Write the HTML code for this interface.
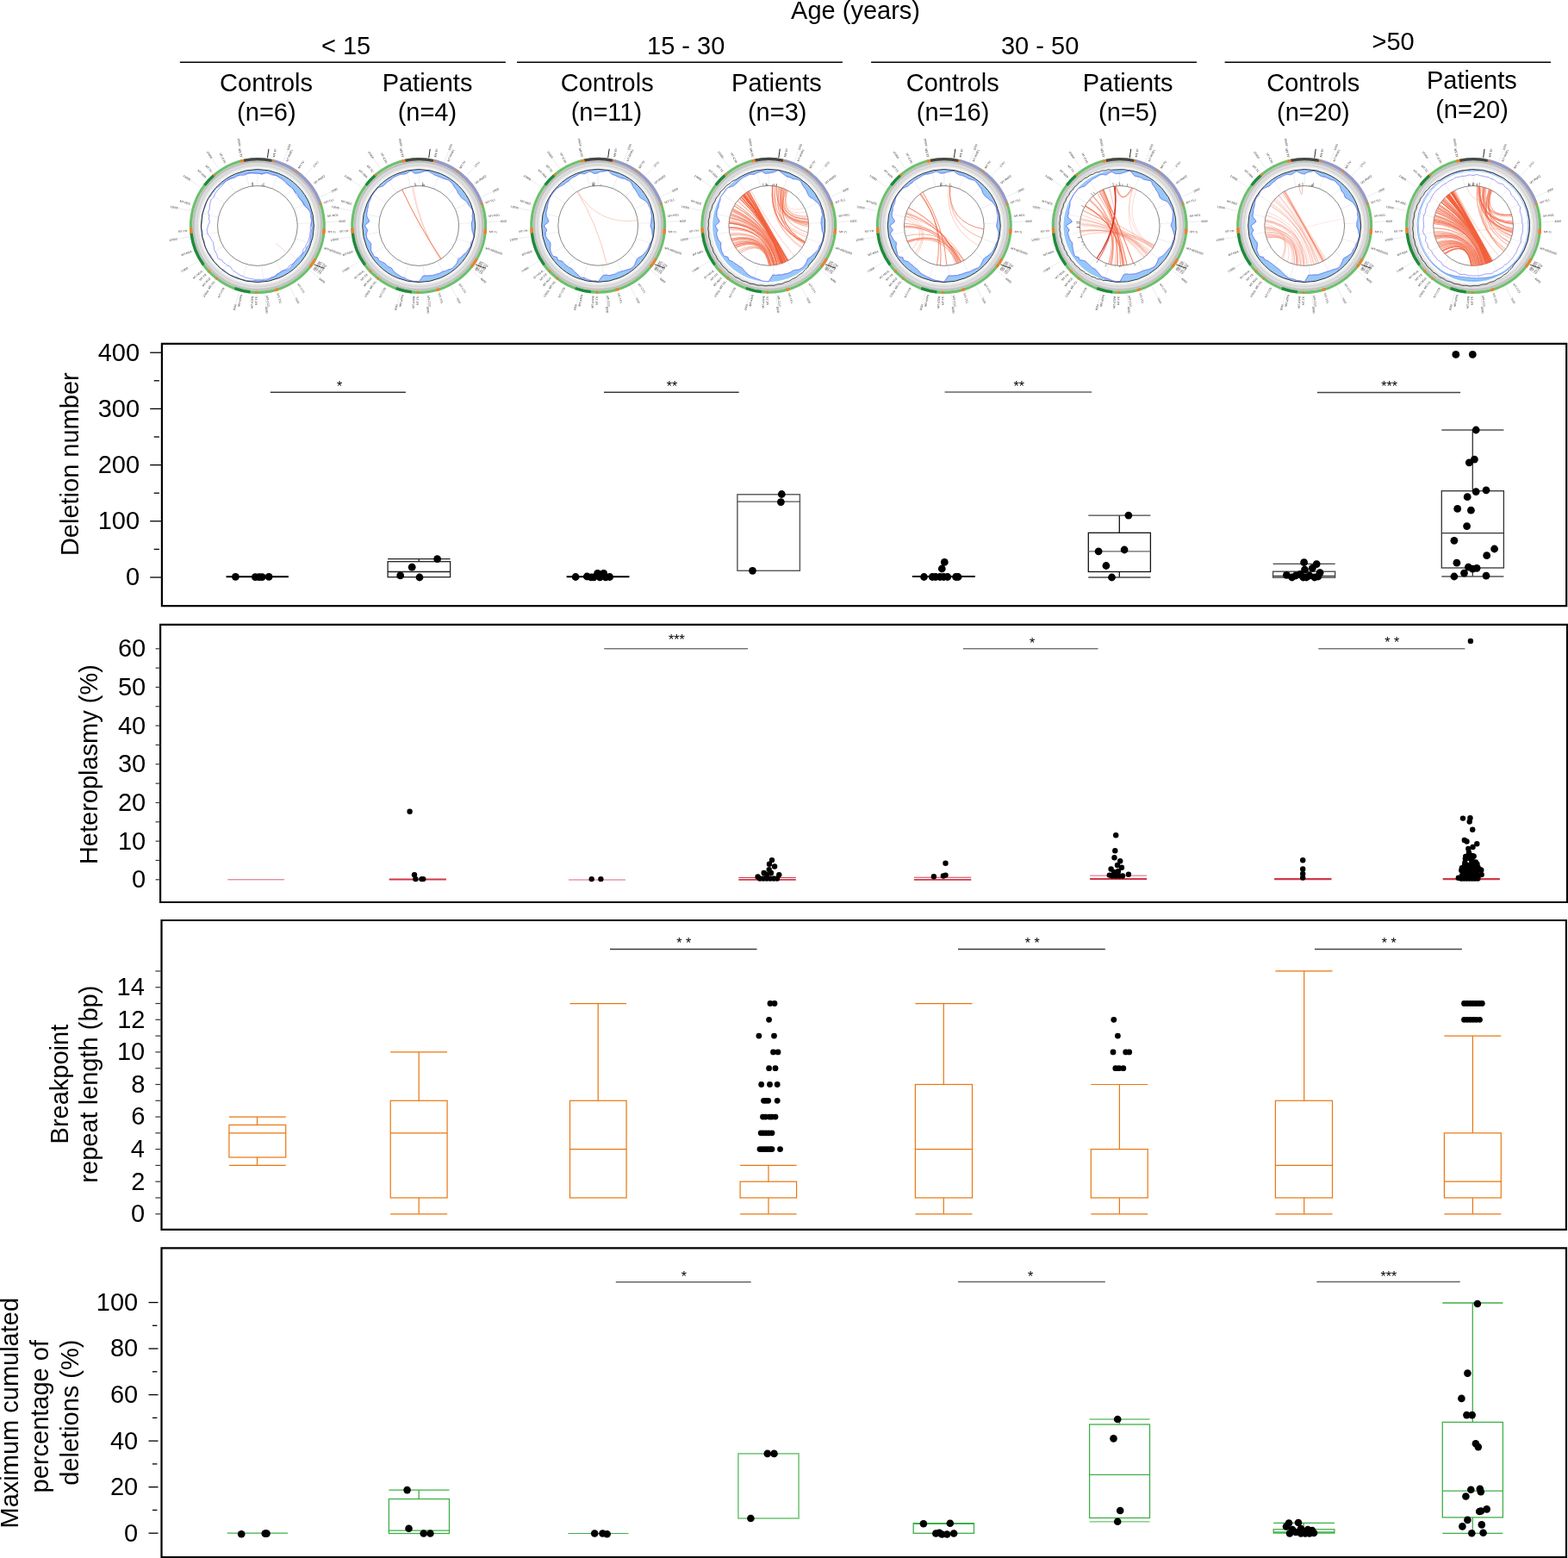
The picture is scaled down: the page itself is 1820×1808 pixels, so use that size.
<!DOCTYPE html>
<html><head><meta charset="utf-8"><title>Figure</title>
<style>
html,body{margin:0;padding:0;background:#fff;}
body{width:1820px;height:1808px;overflow:hidden;}
svg{display:block;}
text{font-family:"Liberation Sans",Arial,Helvetica,sans-serif;}
</style></head>
<body>
<svg width="1820" height="1808" viewBox="0 0 1820 1808">
<rect x="0" y="0" width="1820" height="1808" fill="#fff"/>
<text x="918.08" y="22.20" font-size="29.00">Age (years)</text>
<text x="372.92" y="62.60" font-size="29.00">&lt; 15</text>
<text x="751.02" y="62.60" font-size="29.00">15 - 30</text>
<text x="1161.97" y="62.60" font-size="29.00">30 - 50</text>
<text x="1592.51" y="58.20" font-size="29.00">&gt;50</text>
<line x1="208.8" y1="72.3" x2="586.9" y2="72.3" stroke="#000" stroke-width="1.5"/>
<line x1="600.0" y1="72.3" x2="977.9" y2="72.3" stroke="#000" stroke-width="1.5"/>
<line x1="1011.1" y1="72.3" x2="1389.0" y2="72.3" stroke="#000" stroke-width="1.5"/>
<line x1="1421.6" y1="72.3" x2="1800.0" y2="72.3" stroke="#000" stroke-width="1.5"/>
<text x="255.09" y="106.10" font-size="29.00">Controls</text>
<text x="275.10" y="140.20" font-size="29.00">(n=6)</text>
<text x="443.64" y="106.10" font-size="29.00">Patients</text>
<text x="461.65" y="140.20" font-size="29.00">(n=4)</text>
<text x="650.69" y="106.10" font-size="29.00">Controls</text>
<text x="662.63" y="140.20" font-size="29.00">(n=11)</text>
<text x="849.09" y="106.10" font-size="29.00">Patients</text>
<text x="867.95" y="140.20" font-size="29.00">(n=3)</text>
<text x="1051.79" y="106.10" font-size="29.00">Controls</text>
<text x="1063.73" y="140.20" font-size="29.00">(n=16)</text>
<text x="1256.79" y="106.10" font-size="29.00">Patients</text>
<text x="1275.10" y="140.20" font-size="29.00">(n=5)</text>
<text x="1470.19" y="106.10" font-size="29.00">Controls</text>
<text x="1482.08" y="140.20" font-size="29.00">(n=20)</text>
<text x="1655.99" y="102.60" font-size="29.00">Patients</text>
<text x="1666.18" y="136.90" font-size="29.00">(n=20)</text>
<defs><radialGradient id="tube" gradientUnits="userSpaceOnUse" cx="0" cy="0" r="79"><stop offset="0.0000" stop-color="#ffffff"/><stop offset="0.8342" stop-color="#ffffff"/><stop offset="0.8430" stop-color="#f7f7f7"/><stop offset="0.8570" stop-color="#f1f1f1"/><stop offset="0.8772" stop-color="#e3e3e3"/><stop offset="0.8911" stop-color="#d3d3d3"/><stop offset="0.9089" stop-color="#e2e2e2"/><stop offset="0.9291" stop-color="#cacaca"/><stop offset="0.9418" stop-color="#bbbbbb"/><stop offset="0.9532" stop-color="#c9c9c9"/><stop offset="1.0000" stop-color="#c9c9c9"/></radialGradient></defs>
<g transform="translate(298.90 262.00)"><g stroke="#d8d8d8" stroke-width="0.5"><line x1="18.4" y1="-77.9" x2="18.7" y2="-79.3"/><line x1="33.1" y1="-72.8" x2="33.7" y2="-74.2"/><line x1="46.5" y1="-65.1" x2="47.4" y2="-66.3"/><line x1="64.1" y1="-47.9" x2="65.3" y2="-48.8"/><line x1="75.6" y1="-26.1" x2="77.1" y2="-26.6"/><line x1="79.3" y1="-10.8" x2="80.8" y2="-11.0"/><line x1="79.7" y1="6.8" x2="81.2" y2="6.9"/><line x1="75.9" y1="25.3" x2="77.3" y2="25.8"/><line x1="68.9" y1="40.6" x2="70.2" y2="41.4"/><line x1="67.7" y1="42.5" x2="69.0" y2="43.3"/><line x1="66.6" y1="44.4" x2="67.8" y2="45.2"/><line x1="64.8" y1="46.9" x2="66.0" y2="47.8"/><line x1="63.6" y1="48.5" x2="64.8" y2="49.4"/><line x1="45.9" y1="65.5" x2="46.7" y2="66.8"/><line x1="23.0" y1="76.6" x2="23.4" y2="78.1"/><line x1="10.8" y1="79.3" x2="11.0" y2="80.8"/><line x1="-1.4" y1="80.0" x2="-1.4" y2="81.5"/><line x1="-5.6" y1="79.8" x2="-5.7" y2="81.3"/><line x1="-18.2" y1="77.9" x2="-18.5" y2="79.4"/><line x1="-38.2" y1="70.3" x2="-39.0" y2="71.6"/><line x1="-49.0" y1="63.2" x2="-50.0" y2="64.4"/><line x1="-53.8" y1="59.2" x2="-54.9" y2="60.3"/><line x1="-58.3" y1="54.8" x2="-59.4" y2="55.8"/><line x1="-61.9" y1="50.7" x2="-63.1" y2="51.6"/><line x1="-74.6" y1="28.9" x2="-76.0" y2="29.5"/><line x1="-79.8" y1="5.8" x2="-81.3" y2="5.9"/><line x1="-76.2" y1="-24.4" x2="-77.6" y2="-24.8"/><line x1="-58.4" y1="-54.7" x2="-59.5" y2="-55.7"/><line x1="-51.9" y1="-60.9" x2="-52.9" y2="-62.0"/><line x1="-36.6" y1="-71.2" x2="-37.3" y2="-72.5"/><line x1="-18.4" y1="-77.8" x2="-18.8" y2="-79.3"/><line x1="29.6" y1="-74.3" x2="34.8" y2="-87.3"/><line x1="55.0" y1="-58.1" x2="64.7" y2="-68.2"/><line x1="72.6" y1="-33.6" x2="85.3" y2="-39.5"/><line x1="79.9" y1="-4.3" x2="93.9" y2="-5.1"/><line x1="75.8" y1="25.6" x2="89.1" y2="30.0"/><line x1="61.0" y1="51.8" x2="71.6" y2="60.9"/><line x1="37.4" y1="70.7" x2="44.0" y2="83.1"/><line x1="8.6" y1="79.5" x2="10.1" y2="93.5"/><line x1="-21.4" y1="77.1" x2="-25.2" y2="90.6"/><line x1="-48.4" y1="63.7" x2="-56.9" y2="74.8"/><line x1="-68.6" y1="41.2" x2="-80.6" y2="48.4"/><line x1="-79.0" y1="12.9" x2="-92.8" y2="15.1"/><line x1="-78.1" y1="-17.3" x2="-91.8" y2="-20.3"/><line x1="-66.2" y1="-44.9" x2="-77.8" y2="-52.8"/><line x1="-44.8" y1="-66.3" x2="-52.7" y2="-77.8"/><line x1="-17.1" y1="-78.1" x2="-20.1" y2="-91.8"/></g><g font-size="3.4" fill="#383838"><text transform="translate(18.9 -79.8) rotate(-76.7)" dy="1.2">MT-TF</text><text transform="translate(33.9 -74.7) rotate(-65.6)" dy="1.2">MT-RNR1</text><text transform="translate(47.7 -66.7) rotate(-54.5)" dy="1.2">MT-TV</text><text transform="translate(65.7 -49.1) rotate(-36.8)" dy="1.2">MT-RNR2</text><text transform="translate(77.5 -26.7) rotate(-19.0)" dy="1.2">MT-TL1</text><text transform="translate(81.2 -11.1) rotate(-7.8)" dy="1.2">MT-ND1</text><text transform="translate(81.7 6.9) rotate(4.9)" dy="1.2">MT-TI</text><text transform="translate(77.8 25.9) rotate(18.4)" dy="1.2">MT-ND2</text><text transform="translate(70.7 41.6) rotate(30.5)" dy="1.2">MT-TW</text><text transform="translate(69.4 43.6) rotate(32.1)" dy="1.2">MT-TA</text><text transform="translate(68.2 45.5) rotate(33.7)" dy="1.2">MT-TN</text><text transform="translate(66.4 48.1) rotate(35.9)" dy="1.2">MT-TC</text><text transform="translate(65.2 49.7) rotate(37.3)" dy="1.2">MT-TY</text><text transform="translate(47.0 67.2) rotate(55.0)" dy="1.2">MT-CO1</text><text transform="translate(23.6 78.5) rotate(73.3)" dy="1.2">MT-TS1</text><text transform="translate(11.1 81.2) rotate(82.2)" dy="1.2">MT-CO2</text><text transform="translate(-1.4 82.0) rotate(271.0)" text-anchor="end" dy="1.2">MT-TK</text><text transform="translate(-5.7 81.8) rotate(274.0)" text-anchor="end" dy="1.2">MT-ATP8</text><text transform="translate(-18.6 79.9) rotate(283.1)" text-anchor="end" dy="1.2">MT-ATP6</text><text transform="translate(-39.2 72.0) rotate(298.5)" text-anchor="end" dy="1.2">MT-CO3</text><text transform="translate(-50.3 64.8) rotate(307.8)" text-anchor="end" dy="1.2">MT-TG</text><text transform="translate(-55.2 60.6) rotate(312.3)" text-anchor="end" dy="1.2">MT-ND3</text><text transform="translate(-59.7 56.2) rotate(316.8)" text-anchor="end" dy="1.2">MT-TR</text><text transform="translate(-63.5 51.9) rotate(320.7)" text-anchor="end" dy="1.2">MT-ND4L</text><text transform="translate(-76.5 29.6) rotate(338.8)" text-anchor="end" dy="1.2">MT-ND4</text><text transform="translate(-81.8 5.9) rotate(355.9)" text-anchor="end" dy="1.2">MT-TH</text><text transform="translate(-78.1 -25.0) rotate(377.7)" text-anchor="end" dy="1.2">MT-ND5</text><text transform="translate(-59.9 -56.0) rotate(403.1)" text-anchor="end" dy="1.2">MT-ND6</text><text transform="translate(-53.2 -62.4) rotate(409.6)" text-anchor="end" dy="1.2">MT-TE</text><text transform="translate(-37.5 -72.9) rotate(422.8)" text-anchor="end" dy="1.2">MT-CYB</text><text transform="translate(-18.9 -79.8) rotate(436.7)" text-anchor="end" dy="1.2">MT-TT</text><text transform="translate(35.0 -87.8) rotate(-68.3)" dy="1.2">1000</text><text transform="translate(65.0 -68.6) rotate(-46.5)" dy="1.2">2000</text><text transform="translate(85.8 -39.7) rotate(-24.8)" dy="1.2">3000</text><text transform="translate(94.4 -5.1) rotate(-3.1)" dy="1.2">4000</text><text transform="translate(89.5 30.2) rotate(18.6)" dy="1.2">5000</text><text transform="translate(72.0 61.2) rotate(40.4)" dy="1.2">6000</text><text transform="translate(44.2 83.5) rotate(62.1)" dy="1.2">7000</text><text transform="translate(10.2 94.0) rotate(83.8)" dy="1.2">8000</text><text transform="translate(-25.3 91.0) rotate(285.5)" text-anchor="end" dy="1.2">9000</text><text transform="translate(-57.2 75.2) rotate(307.3)" text-anchor="end" dy="1.2">10000</text><text transform="translate(-81.0 48.7) rotate(329.0)" text-anchor="end" dy="1.2">11000</text><text transform="translate(-93.3 15.2) rotate(350.7)" text-anchor="end" dy="1.2">12000</text><text transform="translate(-92.3 -20.4) rotate(372.5)" text-anchor="end" dy="1.2">13000</text><text transform="translate(-78.2 -53.1) rotate(394.2)" text-anchor="end" dy="1.2">14000</text><text transform="translate(-53.0 -78.3) rotate(415.9)" text-anchor="end" dy="1.2">15000</text><text transform="translate(-20.2 -92.3) rotate(437.6)" text-anchor="end" dy="1.2">16000</text></g><circle r="70.85" fill="none" stroke="url(#tube)" stroke-width="9.70"/><circle r="77.35" fill="none" stroke="#6cc06c" stroke-width="3.30"/><path d="M-16.21 -77.32A79.00 79.00 0 0 1 17.12 -77.12L16.40 -73.90A75.70 75.70 0 0 0 -15.53 -74.09Z" fill="#464646"/><path d="M17.09 -77.13A79.00 79.00 0 0 1 19.24 -76.62L18.44 -73.42A75.70 75.70 0 0 0 16.38 -73.91Z" fill="#f07f2a"/><path d="M19.22 -76.63A79.00 79.00 0 0 1 45.07 -64.88L43.19 -62.17A75.70 75.70 0 0 0 18.42 -73.43Z" fill="#9a97cc"/><path d="M45.03 -64.91A79.00 79.00 0 0 1 46.82 -63.63L44.86 -60.97A75.70 75.70 0 0 0 43.14 -62.20Z" fill="#f07f2a"/><path d="M46.78 -63.66A79.00 79.00 0 0 1 74.31 -26.82L71.21 -25.70A75.70 75.70 0 0 0 44.82 -61.00Z" fill="#9a97cc"/><path d="M74.32 -26.79A79.00 79.00 0 0 1 75.04 -24.69L71.91 -23.66A75.70 75.70 0 0 0 71.22 -25.67Z" fill="#f07f2a"/><path d="M78.92 3.62A79.00 79.00 0 0 1 78.39 9.76L75.12 9.36A75.70 75.70 0 0 0 75.62 3.47Z" fill="#f07f2a"/><path d="M68.63 39.13A79.00 79.00 0 0 1 67.51 41.03L64.69 39.32A75.70 75.70 0 0 0 65.76 37.49Z" fill="#f07f2a"/><path d="M67.48 41.08A79.00 79.00 0 0 1 66.31 42.94L63.54 41.15A75.70 75.70 0 0 0 64.66 39.36Z" fill="#f07f2a"/><path d="M66.33 42.90A79.00 79.00 0 0 1 65.11 44.74L62.39 42.87A75.70 75.70 0 0 0 63.56 41.11Z" fill="#f07f2a"/><path d="M64.65 45.40A79.00 79.00 0 0 1 63.36 47.19L60.71 45.22A75.70 75.70 0 0 0 61.95 43.50Z" fill="#f07f2a"/><path d="M63.51 46.98A79.00 79.00 0 0 1 62.18 48.73L59.58 46.70A75.70 75.70 0 0 0 60.86 45.02Z" fill="#f07f2a"/><path d="M24.70 75.04A79.00 79.00 0 0 1 20.71 76.24L19.85 73.05A75.70 75.70 0 0 0 23.67 71.91Z" fill="#f07f2a"/><path d="M-0.25 79.00A79.00 79.00 0 0 1 -2.45 78.96L-2.35 75.66A75.70 75.70 0 0 0 -0.23 75.70Z" fill="#f07f2a"/><path d="M-8.60 78.53A79.00 79.00 0 0 1 -27.08 74.22L-25.94 71.12A75.70 75.70 0 0 0 -8.24 75.25Z" fill="#1f8a3c"/><path d="M-47.55 63.09A79.00 79.00 0 0 1 -49.29 61.74L-47.23 59.16A75.70 75.70 0 0 0 -45.56 60.45Z" fill="#f07f2a"/><path d="M-56.80 54.91A79.00 79.00 0 0 1 -58.31 53.30L-55.87 51.08A75.70 75.70 0 0 0 -54.42 52.62Z" fill="#f07f2a"/><path d="M-63.84 46.53A79.00 79.00 0 0 1 -78.52 8.66L-75.24 8.30A75.70 75.70 0 0 0 -61.18 44.58Z" fill="#1f8a3c"/><path d="M-78.53 8.63A79.00 79.00 0 0 1 -78.95 2.72L-75.66 2.60A75.70 75.70 0 0 0 -75.25 8.27Z" fill="#f07f2a"/><path d="M-62.74 -48.00A79.00 79.00 0 0 1 -52.03 -59.45L-49.86 -56.96A75.70 75.70 0 0 0 -60.12 -46.00Z" fill="#1f8a3c"/><path d="M-52.07 -59.41A79.00 79.00 0 0 1 -50.39 -60.84L-48.29 -58.30A75.70 75.70 0 0 0 -49.90 -56.93Z" fill="#f07f2a"/><path d="M-20.18 -76.38A79.00 79.00 0 0 1 -16.24 -77.31L-15.56 -74.08A75.70 75.70 0 0 0 -19.33 -73.19Z" fill="#f07f2a"/><g stroke="#dddddd" stroke-width="0.5"><line x1="0.0" y1="-46.4" x2="0.0" y2="-65.0"/><line x1="17.2" y1="-43.1" x2="24.1" y2="-60.4"/><line x1="31.9" y1="-33.7" x2="44.7" y2="-47.2"/><line x1="42.1" y1="-19.5" x2="59.0" y2="-27.3"/><line x1="46.3" y1="-2.5" x2="64.9" y2="-3.5"/><line x1="44.0" y1="14.8" x2="61.6" y2="20.8"/><line x1="35.4" y1="30.1" x2="49.5" y2="42.1"/><line x1="21.7" y1="41.0" x2="30.4" y2="57.4"/><line x1="5.0" y1="46.1" x2="7.0" y2="64.6"/><line x1="-12.4" y1="44.7" x2="-17.4" y2="62.6"/><line x1="-28.1" y1="36.9" x2="-39.4" y2="51.7"/><line x1="-39.8" y1="23.9" x2="-55.7" y2="33.5"/><line x1="-45.8" y1="7.5" x2="-64.2" y2="10.5"/><line x1="-45.3" y1="-10.0" x2="-63.5" y2="-14.0"/><line x1="-38.4" y1="-26.1" x2="-53.8" y2="-36.5"/><line x1="-26.0" y1="-38.4" x2="-36.4" y2="-53.8"/><line x1="-9.9" y1="-45.3" x2="-13.9" y2="-63.5"/></g><line x1="11.5" y1="-78.7" x2="13.0" y2="-89.1" stroke="#111" stroke-width="0.9"/><line x1="65.5" y1="45.0" x2="77.6" y2="49.4" stroke="#111" stroke-width="0.7"/><path d="M0.0 -65.2 1.7 -65.2 3.4 -65.1 5.1 -65.0 6.8 -64.8 8.5 -64.6 10.2 -64.4 11.9 -64.1 13.6 -63.8 15.2 -63.4 16.9 -63.0 18.5 -62.5 20.1 -62.0 21.8 -61.5 23.4 -60.9 25.0 -60.2 26.5 -59.6 28.1 -58.8 29.6 -58.1 31.1 -57.3 32.6 -56.5 34.1 -55.6 35.5 -54.7 36.9 -53.7 38.3 -52.7 39.7 -51.7 41.0 -50.7 42.3 -49.6 43.6 -48.5 44.9 -47.3 46.1 -46.1 47.3 -44.9 48.5 -43.6 49.6 -42.3 50.7 -41.0 51.7 -39.7 52.7 -38.3 53.7 -36.9 54.7 -35.5 55.6 -34.1 56.5 -32.6 57.3 -31.1 58.1 -29.6 58.8 -28.1 59.6 -26.5 60.2 -25.0 60.9 -23.4 61.5 -21.8 62.0 -20.1 62.5 -18.5 63.0 -16.9 63.4 -15.2 63.8 -13.6 64.1 -11.9 64.4 -10.2 64.6 -8.5 64.8 -6.8 65.0 -5.1 65.1 -3.4 65.2 -1.7 65.2 -0.0 65.2 1.7 65.1 3.4 65.0 5.1 64.8 6.8 64.6 8.5 64.4 10.2 64.1 11.9 63.8 13.6 63.4 15.2 63.0 16.9 62.5 18.5 62.0 20.1 61.5 21.8 60.9 23.4 60.2 25.0 59.6 26.5 58.8 28.1 58.1 29.6 57.3 31.1 56.5 32.6 55.6 34.1 54.7 35.5 53.7 36.9 52.7 38.3 51.7 39.7 50.7 41.0 49.6 42.3 48.5 43.6 47.3 44.9 46.1 46.1 44.9 47.3 43.6 48.5 42.3 49.6 41.0 50.7 39.7 51.7 38.3 52.7 36.9 53.7 35.5 54.7 34.1 55.6 32.6 56.5 31.1 57.3 29.6 58.1 28.1 58.8 26.5 59.6 25.0 60.2 23.4 60.9 21.8 61.5 20.1 62.0 18.5 62.5 16.9 63.0 15.2 63.4 13.6 63.8 11.9 64.1 10.2 64.4 8.5 64.6 6.8 64.8 5.1 65.0 3.4 65.1 1.7 65.2 0.0 65.2 -1.7 65.2 -3.4 65.1 -5.1 65.0 -6.8 64.8 -8.5 64.6 -10.2 64.4 -11.9 64.1 -13.6 63.8 -15.2 63.4 -16.9 63.0 -18.5 62.5 -20.1 62.0 -21.8 61.5 -23.4 60.9 -25.0 60.2 -26.5 59.6 -28.1 58.8 -29.6 58.1 -31.1 57.3 -32.6 56.5 -34.1 55.6 -35.5 54.7 -36.9 53.7 -38.3 52.7 -39.7 51.7 -41.0 50.7 -42.3 49.6 -43.6 48.5 -44.9 47.3 -46.1 46.1 -47.3 44.9 -48.5 43.6 -49.6 42.3 -50.7 41.0 -51.7 39.7 -52.7 38.3 -53.7 36.9 -54.7 35.5 -55.6 34.1 -56.5 32.6 -57.3 31.1 -58.1 29.6 -58.8 28.1 -59.6 26.5 -60.2 25.0 -60.9 23.4 -61.5 21.8 -62.0 20.1 -62.5 18.5 -63.0 16.9 -63.4 15.2 -63.8 13.6 -64.1 11.9 -64.4 10.2 -64.6 8.5 -64.8 6.8 -65.0 5.1 -65.1 3.4 -65.2 1.7 -65.2 0.0 -65.2 -1.7 -65.1 -3.4 -65.0 -5.1 -64.8 -6.8 -64.6 -8.5 -64.4 -10.2 -64.1 -11.9 -63.8 -13.6 -63.4 -15.2 -63.0 -16.9 -62.5 -18.5 -62.0 -20.1 -61.5 -21.8 -60.9 -23.4 -60.2 -25.0 -59.6 -26.5 -58.8 -28.1 -58.1 -29.6 -57.3 -31.1 -56.5 -32.6 -55.6 -34.1 -54.7 -35.5 -53.7 -36.9 -52.7 -38.3 -51.7 -39.7 -50.7 -41.0 -49.6 -42.3 -48.5 -43.6 -47.3 -44.9 -46.1 -46.1 -44.9 -47.3 -43.6 -48.5 -42.3 -49.6 -41.0 -50.7 -39.7 -51.7 -38.3 -52.7 -36.9 -53.7 -35.5 -54.7 -34.1 -55.6 -32.6 -56.5 -31.1 -57.3 -29.6 -58.1 -28.1 -58.8 -26.5 -59.6 -25.0 -60.2 -23.4 -60.9 -21.8 -61.5 -20.1 -62.0 -18.5 -62.5 -16.9 -63.0 -15.2 -63.4 -13.6 -63.8 -11.9 -64.1 -10.2 -64.4 -8.5 -64.6 -6.8 -64.8 -5.1 -65.0 -3.4 -65.1 -1.7 -65.2ZM-1.6 -61.1 -3.2 -61.1 -4.8 -61.2 -6.4 -61.1 -8.0 -60.9 -9.6 -60.7 -11.2 -60.5 -12.8 -60.2 -14.3 -59.8 -16.0 -59.7 -17.7 -59.8 -19.4 -59.7 -20.9 -59.0 -22.4 -58.3 -23.9 -57.8 -25.5 -57.2 -26.9 -56.5 -28.4 -55.7 -29.9 -55.1 -31.4 -54.3 -32.8 -53.5 -34.4 -52.9 -36.0 -52.4 -37.4 -51.5 -38.6 -50.3 -39.9 -49.2 -41.3 -48.3 -42.6 -47.3 -43.8 -46.2 -45.2 -45.2 -46.8 -44.4 -48.2 -43.4 -49.2 -42.0 -49.9 -40.4 -51.0 -39.1 -52.2 -38.0 -53.2 -36.6 -54.0 -35.0 -54.9 -33.6 -56.1 -32.4 -57.3 -31.1 -58.1 -29.6 -58.7 -28.0 -59.3 -26.4 -59.8 -24.8 -60.4 -23.2 -61.0 -21.6 -61.7 -20.0 -62.3 -18.5 -62.8 -16.8 -63.3 -15.2 -63.6 -13.5 -63.8 -11.8 -64.0 -10.1 -64.2 -8.5 -64.5 -6.8 -64.6 -5.1 -64.6 -3.4 -64.9 -1.7 -65.2 0.0 -65.2 1.7 -65.1 3.4 -64.5 5.1 -64.1 6.7 -64.0 8.4 -63.9 10.1 -63.9 11.8 -63.6 13.5 -63.1 15.1 -62.4 16.7 -61.8 18.3 -61.5 20.0 -61.4 21.7 -60.9 23.4 -60.2 25.0 -59.6 26.5 -58.8 28.1 -58.1 29.6 -57.2 31.0 -56.0 32.3 -54.9 33.6 -54.0 35.1 -53.2 36.6 -52.3 38.0 -51.4 39.4 -50.5 40.9 -49.5 42.3 -48.2 43.4 -46.9 44.5 -45.9 45.9 -44.9 47.3 -43.6 48.5 -42.3 49.5 -40.7 50.2 -39.2 51.2 -38.0 52.2 -36.6 53.3 -35.3 54.4 -34.0 55.5 -32.6 56.5 -31.1 57.2 -29.4 57.7 -27.8 58.3 -26.2 58.9 -24.6 59.3 -23.0 59.9 -21.5 60.7 -20.0 61.6 -18.4 62.1 -16.7 62.4 -15.1 62.7 -13.4 63.2 -11.8 63.5 -10.1 63.7 -8.4 63.8 -6.7 63.9 -5.0 63.8 -3.3 63.6 -1.7 63.5 0.0 63.5 1.7 63.6 3.3 63.6 5.0 63.5 6.7 63.4 8.3 63.2 10.0 63.0 11.6 62.7 13.2 62.0 14.7 61.2 16.2 60.4 17.7 59.8 19.2 59.1 20.5 57.9 21.8 56.7 23.1 55.8 24.5 55.1 25.9 54.3 27.2 53.3 28.5 52.4 29.8 51.7 31.7 51.7 33.3 51.3 34.9 50.9 36.3 50.0 37.5 48.9 38.7 47.7 39.7 46.5 40.6 45.1 41.5 43.8 42.5 42.5 43.7 41.5 45.0 40.5 46.1 39.3 47.2 38.2 48.4 37.2 49.7 36.1 50.6 34.8 51.2 33.3 52.1 31.9 53.4 30.9 54.8 29.8 55.8 28.4 56.3 26.8 56.8 25.3 57.8 23.9 59.0 22.6 59.9 21.2 60.5 19.7 60.8 18.0 61.0 16.3 61.1 14.7 61.4 13.1 61.8 11.5 62.1 9.8 62.1 8.2 62.2 6.5 62.6 4.9 63.1 3.3 63.1 1.7 62.6 -0.0 62.3 -1.6 62.5 -3.3 62.9 -5.0 63.0 -6.6 62.7 -8.3 62.4 -9.9 62.3 -11.5 62.2 -13.2 62.0 -14.9 61.6 -16.5 60.3 -17.9 58.9 -19.1 57.5 -20.4 56.2 -21.6 55.0 -22.8 53.9 -24.0 53.0 -25.3 52.4 -26.7 51.6 -28.0 50.8 -29.3 49.9 -30.6 48.9 -31.8 48.1 -33.1 47.5 -34.5 46.9 -36.0 46.0 -37.2 44.7 -38.2 43.5 -39.1 42.5 -40.4 41.8 -41.8 41.0 -43.2 39.9 -44.3 38.7 -45.3 37.4 -46.1 36.1 -47.1 34.9 -48.1 33.9 -49.4 33.0 -50.8 31.9 -52.0 30.6 -53.0 29.3 -53.9 27.9 -54.8 26.6 -55.8 25.2 -56.6 23.8 -57.4 22.3 -58.1 20.8 -58.6 19.1 -58.9 17.6 -59.4 16.1 -60.2 14.6 -60.8 13.0 -61.0 11.4 -61.3 9.7 -61.4 8.0 -61.0 6.3 -60.2 4.7 -59.6 3.2 -60.2 1.6 -60.8 0.0 -61.2Z" fill="#98c8f8" fill-rule="evenodd"/><path d="M0.0 -61.2 1.6 -60.8 3.2 -60.2 4.7 -59.6 6.3 -60.2 8.0 -61.0 9.7 -61.4 11.4 -61.3 13.0 -61.0 14.6 -60.8 16.1 -60.2 17.6 -59.4 19.1 -58.9 20.8 -58.6 22.3 -58.1 23.8 -57.4 25.2 -56.6 26.6 -55.8 27.9 -54.8 29.3 -53.9 30.6 -53.0 31.9 -52.0 33.0 -50.8 33.9 -49.4 34.9 -48.1 36.1 -47.1 37.4 -46.1 38.7 -45.3 39.9 -44.3 41.0 -43.2 41.8 -41.8 42.5 -40.4 43.5 -39.1 44.7 -38.2 46.0 -37.2 46.9 -36.0 47.5 -34.5 48.1 -33.1 48.9 -31.8 49.9 -30.6 50.8 -29.3 51.6 -28.0 52.4 -26.7 53.0 -25.3 53.9 -24.0 55.0 -22.8 56.2 -21.6 57.5 -20.4 58.9 -19.1 60.3 -17.9 61.6 -16.5 62.0 -14.9 62.2 -13.2 62.3 -11.5 62.4 -9.9 62.7 -8.3 63.0 -6.6 62.9 -5.0 62.5 -3.3 62.3 -1.6 62.6 -0.0 63.1 1.7 63.1 3.3 62.6 4.9 62.2 6.5 62.1 8.2 62.1 9.8 61.8 11.5 61.4 13.1 61.1 14.7 61.0 16.3 60.8 18.0 60.5 19.7 59.9 21.2 59.0 22.6 57.8 23.9 56.8 25.3 56.3 26.8 55.8 28.4 54.8 29.8 53.4 30.9 52.1 31.9 51.2 33.3 50.6 34.8 49.7 36.1 48.4 37.2 47.2 38.2 46.1 39.3 45.0 40.5 43.7 41.5 42.5 42.5 41.5 43.8 40.6 45.1 39.7 46.5 38.7 47.7 37.5 48.9 36.3 50.0 34.9 50.9 33.3 51.3 31.7 51.7 29.8 51.7 28.5 52.4 27.2 53.3 25.9 54.3 24.5 55.1 23.1 55.8 21.8 56.7 20.5 57.9 19.2 59.1 17.7 59.8 16.2 60.4 14.7 61.2 13.2 62.0 11.6 62.7 10.0 63.0 8.3 63.2 6.7 63.4 5.0 63.5 3.3 63.6 1.7 63.6 0.0 63.5 -1.7 63.5 -3.3 63.6 -5.0 63.8 -6.7 63.9 -8.4 63.8 -10.1 63.7 -11.8 63.5 -13.4 63.2 -15.1 62.7 -16.7 62.4 -18.4 62.1 -20.0 61.6 -21.5 60.7 -23.0 59.9 -24.6 59.3 -26.2 58.9 -27.8 58.3 -29.4 57.7 -31.1 57.2 -32.6 56.5 -34.0 55.5 -35.3 54.4 -36.6 53.3 -38.0 52.2 -39.2 51.2 -40.7 50.2 -42.3 49.5 -43.6 48.5 -44.9 47.3 -45.9 45.9 -46.9 44.5 -48.2 43.4 -49.5 42.3 -50.5 40.9 -51.4 39.4 -52.3 38.0 -53.2 36.6 -54.0 35.1 -54.9 33.6 -56.0 32.3 -57.2 31.0 -58.1 29.6 -58.8 28.1 -59.6 26.5 -60.2 25.0 -60.9 23.4 -61.4 21.7 -61.5 20.0 -61.8 18.3 -62.4 16.7 -63.1 15.1 -63.6 13.5 -63.9 11.8 -63.9 10.1 -64.0 8.4 -64.1 6.7 -64.5 5.1 -65.1 3.4 -65.2 1.7 -65.2 0.0 -64.9 -1.7 -64.6 -3.4 -64.6 -5.1 -64.5 -6.8 -64.2 -8.5 -64.0 -10.1 -63.8 -11.8 -63.6 -13.5 -63.3 -15.2 -62.8 -16.8 -62.3 -18.5 -61.7 -20.0 -61.0 -21.6 -60.4 -23.2 -59.8 -24.8 -59.3 -26.4 -58.7 -28.0 -58.1 -29.6 -57.3 -31.1 -56.1 -32.4 -54.9 -33.6 -54.0 -35.0 -53.2 -36.6 -52.2 -38.0 -51.0 -39.1 -49.9 -40.4 -49.2 -42.0 -48.2 -43.4 -46.8 -44.4 -45.2 -45.2 -43.8 -46.2 -42.6 -47.3 -41.3 -48.3 -39.9 -49.2 -38.6 -50.3 -37.4 -51.5 -36.0 -52.4 -34.4 -52.9 -32.8 -53.5 -31.4 -54.3 -29.9 -55.1 -28.4 -55.7 -26.9 -56.5 -25.5 -57.2 -23.9 -57.8 -22.4 -58.3 -20.9 -59.0 -19.4 -59.7 -17.7 -59.8 -16.0 -59.7 -14.3 -59.8 -12.8 -60.2 -11.2 -60.5 -9.6 -60.7 -8.0 -60.9 -6.4 -61.1 -4.8 -61.2 -3.2 -61.1 -1.6 -61.1Z" fill="none" stroke="#3b63ec" stroke-width="0.55"/><path d="M0.0 -60.5 1.6 -60.5 3.2 -60.5 4.8 -60.5 6.4 -60.7 8.0 -60.9 9.7 -61.2 11.4 -61.3 12.9 -60.7 14.4 -59.8 15.8 -59.1 17.5 -58.9 19.2 -59.0 20.8 -58.8 22.2 -57.9 23.6 -56.9 25.0 -56.1 26.4 -55.3 27.7 -54.4 29.0 -53.4 30.2 -52.3 31.4 -51.3 32.5 -50.1 33.6 -49.0 34.9 -48.0 36.1 -47.1 37.2 -46.0 38.3 -44.9 39.6 -44.0 40.9 -43.1 42.1 -42.1 42.8 -40.6 43.4 -39.1 44.1 -37.7 45.0 -36.4 46.0 -35.3 46.9 -34.1 47.7 -32.8 48.6 -31.6 49.6 -30.4 50.7 -29.3 52.2 -28.4 53.3 -27.2 53.9 -25.7 54.4 -24.2 55.2 -22.9 56.5 -21.7 57.9 -20.5 58.9 -19.2 59.7 -17.7 60.6 -16.2 61.2 -14.7 61.6 -13.1 61.7 -11.4 61.8 -9.8 62.1 -8.2 62.5 -6.6 62.6 -4.9 62.4 -3.3 62.1 -1.6 61.6 -0.0 61.3 1.6 61.3 3.2 61.5 4.8 61.4 6.5 61.0 8.0 60.7 9.6 60.6 11.2 60.4 12.8 59.8 14.4 59.3 15.9 59.0 17.5 58.5 19.0 57.5 20.4 56.6 21.7 56.0 23.2 55.5 24.7 54.4 25.9 53.3 27.2 52.8 28.7 52.7 30.4 52.3 32.0 51.2 33.2 49.9 34.3 48.7 35.4 47.6 36.5 46.4 37.6 45.4 38.8 44.5 40.1 43.5 41.3 42.6 42.6 41.5 43.8 40.3 44.7 38.7 45.4 37.3 46.1 36.3 47.4 35.5 48.8 34.2 49.8 32.7 50.4 31.3 51.2 30.1 52.1 28.8 53.0 27.3 53.6 25.9 54.4 24.7 55.5 23.5 56.6 22.1 57.6 20.7 58.4 19.2 59.1 17.6 59.5 16.0 59.9 14.5 60.6 13.0 61.4 11.4 61.8 9.8 61.7 8.2 62.0 6.6 62.6 4.9 62.7 3.3 62.3 1.6 62.1 0.0 62.3 -1.6 62.5 -3.3 62.3 -4.9 61.9 -6.5 61.7 -8.1 61.5 -9.7 61.1 -11.2 60.7 -12.8 60.4 -14.4 59.9 -15.8 59.1 -17.3 58.4 -18.8 57.8 -20.3 57.3 -21.7 56.5 -23.0 55.5 -24.3 54.5 -25.6 53.7 -26.9 52.9 -28.3 52.1 -29.4 51.0 -30.3 49.4 -31.1 47.9 -32.3 47.0 -33.9 46.7 -35.3 46.0 -36.4 44.9 -37.5 43.9 -38.9 43.2 -40.0 42.1 -40.6 40.6 -41.6 39.5 -43.3 39.0 -45.1 38.6 -46.2 37.4 -46.5 35.7 -46.9 34.1 -47.5 32.6 -48.2 31.3 -48.9 30.0 -49.8 28.7 -50.4 27.4 -50.6 25.8 -50.7 24.2 -50.9 22.7 -51.2 21.2 -51.4 19.7 -51.9 18.4 -52.9 17.2 -53.8 15.9 -54.3 14.6 -55.0 13.2 -56.0 11.9 -57.0 10.6 -57.8 9.2 -58.4 7.7 -58.6 6.2 -58.7 4.6 -58.3 3.1 -57.7 1.5 -57.4 0.0 -57.0 -1.5 -56.2 -2.9 -55.4 -4.4 -55.7 -5.9 -56.4 -7.4 -56.5 -8.9 -56.1 -10.4 -56.1 -11.9 -56.7 -13.6 -57.2 -15.3 -56.9 -16.9 -56.1 -18.2 -55.7 -19.7 -55.7 -21.4 -55.6 -23.0 -55.3 -24.6 -54.9 -26.2 -54.6 -27.8 -54.2 -29.4 -53.4 -30.9 -52.2 -32.0 -51.0 -33.1 -50.2 -34.5 -49.7 -36.1 -49.0 -37.6 -48.0 -38.9 -47.1 -40.2 -46.2 -41.6 -45.1 -42.8 -43.8 -43.8 -42.6 -44.9 -41.5 -46.1 -40.4 -47.4 -39.3 -48.6 -38.2 -49.8 -37.1 -51.1 -35.9 -52.3 -34.6 -53.3 -33.2 -54.1 -31.7 -54.9 -30.0 -55.3 -28.2 -55.4 -26.6 -55.7 -25.2 -56.5 -23.9 -57.6 -22.4 -58.3 -20.7 -58.4 -19.0 -58.3 -17.3 -58.5 -15.7 -58.7 -14.2 -59.2 -12.7 -60.0 -11.3 -60.8 -9.7 -61.4 -8.1 -61.5 -6.4 -61.2 -4.8 -60.9 -3.2 -60.8 -1.6 -60.7Z" fill="none" stroke="#5a5af0" stroke-width="0.60"/><circle r="65.50" fill="none" stroke="#1a1a1a" stroke-width="0.9"/><circle r="46.40" fill="none" stroke="#555" stroke-width="0.7"/><g stroke="#3a3a3a" stroke-width="0.5"><line x1="-5.1" y1="-46.1" x2="-5.5" y2="-50.4"/><line x1="5.0" y1="-46.1" x2="5.3" y2="-48.4"/><line x1="7.7" y1="-45.8" x2="7.9" y2="-47.1"/><line x1="6.7" y1="-45.9" x2="7.3" y2="-49.8"/><line x1="-6.0" y1="-46.0" x2="-6.6" y2="-50.2"/></g><g fill="none"><path d="M32.6 30.4L21.6 20.5" stroke="#f7b5a5" stroke-width="0.6"/></g></g>
<g transform="translate(486.20 262.00)"><g stroke="#d8d8d8" stroke-width="0.5"><line x1="18.4" y1="-77.9" x2="18.7" y2="-79.3"/><line x1="33.1" y1="-72.8" x2="33.7" y2="-74.2"/><line x1="46.5" y1="-65.1" x2="47.4" y2="-66.3"/><line x1="64.1" y1="-47.9" x2="65.3" y2="-48.8"/><line x1="75.6" y1="-26.1" x2="77.1" y2="-26.6"/><line x1="79.3" y1="-10.8" x2="80.8" y2="-11.0"/><line x1="79.7" y1="6.8" x2="81.2" y2="6.9"/><line x1="75.9" y1="25.3" x2="77.3" y2="25.8"/><line x1="68.9" y1="40.6" x2="70.2" y2="41.4"/><line x1="67.7" y1="42.5" x2="69.0" y2="43.3"/><line x1="66.6" y1="44.4" x2="67.8" y2="45.2"/><line x1="64.8" y1="46.9" x2="66.0" y2="47.8"/><line x1="63.6" y1="48.5" x2="64.8" y2="49.4"/><line x1="45.9" y1="65.5" x2="46.7" y2="66.8"/><line x1="23.0" y1="76.6" x2="23.4" y2="78.1"/><line x1="10.8" y1="79.3" x2="11.0" y2="80.8"/><line x1="-1.4" y1="80.0" x2="-1.4" y2="81.5"/><line x1="-5.6" y1="79.8" x2="-5.7" y2="81.3"/><line x1="-18.2" y1="77.9" x2="-18.5" y2="79.4"/><line x1="-38.2" y1="70.3" x2="-39.0" y2="71.6"/><line x1="-49.0" y1="63.2" x2="-50.0" y2="64.4"/><line x1="-53.8" y1="59.2" x2="-54.9" y2="60.3"/><line x1="-58.3" y1="54.8" x2="-59.4" y2="55.8"/><line x1="-61.9" y1="50.7" x2="-63.1" y2="51.6"/><line x1="-74.6" y1="28.9" x2="-76.0" y2="29.5"/><line x1="-79.8" y1="5.8" x2="-81.3" y2="5.9"/><line x1="-76.2" y1="-24.4" x2="-77.6" y2="-24.8"/><line x1="-58.4" y1="-54.7" x2="-59.5" y2="-55.7"/><line x1="-51.9" y1="-60.9" x2="-52.9" y2="-62.0"/><line x1="-36.6" y1="-71.2" x2="-37.3" y2="-72.5"/><line x1="-18.4" y1="-77.8" x2="-18.8" y2="-79.3"/><line x1="29.6" y1="-74.3" x2="34.8" y2="-87.3"/><line x1="55.0" y1="-58.1" x2="64.7" y2="-68.2"/><line x1="72.6" y1="-33.6" x2="85.3" y2="-39.5"/><line x1="79.9" y1="-4.3" x2="93.9" y2="-5.1"/><line x1="75.8" y1="25.6" x2="89.1" y2="30.0"/><line x1="61.0" y1="51.8" x2="71.6" y2="60.9"/><line x1="37.4" y1="70.7" x2="44.0" y2="83.1"/><line x1="8.6" y1="79.5" x2="10.1" y2="93.5"/><line x1="-21.4" y1="77.1" x2="-25.2" y2="90.6"/><line x1="-48.4" y1="63.7" x2="-56.9" y2="74.8"/><line x1="-68.6" y1="41.2" x2="-80.6" y2="48.4"/><line x1="-79.0" y1="12.9" x2="-92.8" y2="15.1"/><line x1="-78.1" y1="-17.3" x2="-91.8" y2="-20.3"/><line x1="-66.2" y1="-44.9" x2="-77.8" y2="-52.8"/><line x1="-44.8" y1="-66.3" x2="-52.7" y2="-77.8"/><line x1="-17.1" y1="-78.1" x2="-20.1" y2="-91.8"/></g><g font-size="3.4" fill="#383838"><text transform="translate(18.9 -79.8) rotate(-76.7)" dy="1.2">MT-TF</text><text transform="translate(33.9 -74.7) rotate(-65.6)" dy="1.2">MT-RNR1</text><text transform="translate(47.7 -66.7) rotate(-54.5)" dy="1.2">MT-TV</text><text transform="translate(65.7 -49.1) rotate(-36.8)" dy="1.2">MT-RNR2</text><text transform="translate(77.5 -26.7) rotate(-19.0)" dy="1.2">MT-TL1</text><text transform="translate(81.2 -11.1) rotate(-7.8)" dy="1.2">MT-ND1</text><text transform="translate(81.7 6.9) rotate(4.9)" dy="1.2">MT-TI</text><text transform="translate(77.8 25.9) rotate(18.4)" dy="1.2">MT-ND2</text><text transform="translate(70.7 41.6) rotate(30.5)" dy="1.2">MT-TW</text><text transform="translate(69.4 43.6) rotate(32.1)" dy="1.2">MT-TA</text><text transform="translate(68.2 45.5) rotate(33.7)" dy="1.2">MT-TN</text><text transform="translate(66.4 48.1) rotate(35.9)" dy="1.2">MT-TC</text><text transform="translate(65.2 49.7) rotate(37.3)" dy="1.2">MT-TY</text><text transform="translate(47.0 67.2) rotate(55.0)" dy="1.2">MT-CO1</text><text transform="translate(23.6 78.5) rotate(73.3)" dy="1.2">MT-TS1</text><text transform="translate(11.1 81.2) rotate(82.2)" dy="1.2">MT-CO2</text><text transform="translate(-1.4 82.0) rotate(271.0)" text-anchor="end" dy="1.2">MT-TK</text><text transform="translate(-5.7 81.8) rotate(274.0)" text-anchor="end" dy="1.2">MT-ATP8</text><text transform="translate(-18.6 79.9) rotate(283.1)" text-anchor="end" dy="1.2">MT-ATP6</text><text transform="translate(-39.2 72.0) rotate(298.5)" text-anchor="end" dy="1.2">MT-CO3</text><text transform="translate(-50.3 64.8) rotate(307.8)" text-anchor="end" dy="1.2">MT-TG</text><text transform="translate(-55.2 60.6) rotate(312.3)" text-anchor="end" dy="1.2">MT-ND3</text><text transform="translate(-59.7 56.2) rotate(316.8)" text-anchor="end" dy="1.2">MT-TR</text><text transform="translate(-63.5 51.9) rotate(320.7)" text-anchor="end" dy="1.2">MT-ND4L</text><text transform="translate(-76.5 29.6) rotate(338.8)" text-anchor="end" dy="1.2">MT-ND4</text><text transform="translate(-81.8 5.9) rotate(355.9)" text-anchor="end" dy="1.2">MT-TH</text><text transform="translate(-78.1 -25.0) rotate(377.7)" text-anchor="end" dy="1.2">MT-ND5</text><text transform="translate(-59.9 -56.0) rotate(403.1)" text-anchor="end" dy="1.2">MT-ND6</text><text transform="translate(-53.2 -62.4) rotate(409.6)" text-anchor="end" dy="1.2">MT-TE</text><text transform="translate(-37.5 -72.9) rotate(422.8)" text-anchor="end" dy="1.2">MT-CYB</text><text transform="translate(-18.9 -79.8) rotate(436.7)" text-anchor="end" dy="1.2">MT-TT</text><text transform="translate(35.0 -87.8) rotate(-68.3)" dy="1.2">1000</text><text transform="translate(65.0 -68.6) rotate(-46.5)" dy="1.2">2000</text><text transform="translate(85.8 -39.7) rotate(-24.8)" dy="1.2">3000</text><text transform="translate(94.4 -5.1) rotate(-3.1)" dy="1.2">4000</text><text transform="translate(89.5 30.2) rotate(18.6)" dy="1.2">5000</text><text transform="translate(72.0 61.2) rotate(40.4)" dy="1.2">6000</text><text transform="translate(44.2 83.5) rotate(62.1)" dy="1.2">7000</text><text transform="translate(10.2 94.0) rotate(83.8)" dy="1.2">8000</text><text transform="translate(-25.3 91.0) rotate(285.5)" text-anchor="end" dy="1.2">9000</text><text transform="translate(-57.2 75.2) rotate(307.3)" text-anchor="end" dy="1.2">10000</text><text transform="translate(-81.0 48.7) rotate(329.0)" text-anchor="end" dy="1.2">11000</text><text transform="translate(-93.3 15.2) rotate(350.7)" text-anchor="end" dy="1.2">12000</text><text transform="translate(-92.3 -20.4) rotate(372.5)" text-anchor="end" dy="1.2">13000</text><text transform="translate(-78.2 -53.1) rotate(394.2)" text-anchor="end" dy="1.2">14000</text><text transform="translate(-53.0 -78.3) rotate(415.9)" text-anchor="end" dy="1.2">15000</text><text transform="translate(-20.2 -92.3) rotate(437.6)" text-anchor="end" dy="1.2">16000</text></g><circle r="70.85" fill="none" stroke="url(#tube)" stroke-width="9.70"/><circle r="77.35" fill="none" stroke="#6cc06c" stroke-width="3.30"/><path d="M-16.21 -77.32A79.00 79.00 0 0 1 17.12 -77.12L16.40 -73.90A75.70 75.70 0 0 0 -15.53 -74.09Z" fill="#464646"/><path d="M17.09 -77.13A79.00 79.00 0 0 1 19.24 -76.62L18.44 -73.42A75.70 75.70 0 0 0 16.38 -73.91Z" fill="#f07f2a"/><path d="M19.22 -76.63A79.00 79.00 0 0 1 45.07 -64.88L43.19 -62.17A75.70 75.70 0 0 0 18.42 -73.43Z" fill="#9a97cc"/><path d="M45.03 -64.91A79.00 79.00 0 0 1 46.82 -63.63L44.86 -60.97A75.70 75.70 0 0 0 43.14 -62.20Z" fill="#f07f2a"/><path d="M46.78 -63.66A79.00 79.00 0 0 1 74.31 -26.82L71.21 -25.70A75.70 75.70 0 0 0 44.82 -61.00Z" fill="#9a97cc"/><path d="M74.32 -26.79A79.00 79.00 0 0 1 75.04 -24.69L71.91 -23.66A75.70 75.70 0 0 0 71.22 -25.67Z" fill="#f07f2a"/><path d="M78.92 3.62A79.00 79.00 0 0 1 78.39 9.76L75.12 9.36A75.70 75.70 0 0 0 75.62 3.47Z" fill="#f07f2a"/><path d="M68.63 39.13A79.00 79.00 0 0 1 67.51 41.03L64.69 39.32A75.70 75.70 0 0 0 65.76 37.49Z" fill="#f07f2a"/><path d="M67.48 41.08A79.00 79.00 0 0 1 66.31 42.94L63.54 41.15A75.70 75.70 0 0 0 64.66 39.36Z" fill="#f07f2a"/><path d="M66.33 42.90A79.00 79.00 0 0 1 65.11 44.74L62.39 42.87A75.70 75.70 0 0 0 63.56 41.11Z" fill="#f07f2a"/><path d="M64.65 45.40A79.00 79.00 0 0 1 63.36 47.19L60.71 45.22A75.70 75.70 0 0 0 61.95 43.50Z" fill="#f07f2a"/><path d="M63.51 46.98A79.00 79.00 0 0 1 62.18 48.73L59.58 46.70A75.70 75.70 0 0 0 60.86 45.02Z" fill="#f07f2a"/><path d="M24.70 75.04A79.00 79.00 0 0 1 20.71 76.24L19.85 73.05A75.70 75.70 0 0 0 23.67 71.91Z" fill="#f07f2a"/><path d="M-0.25 79.00A79.00 79.00 0 0 1 -2.45 78.96L-2.35 75.66A75.70 75.70 0 0 0 -0.23 75.70Z" fill="#f07f2a"/><path d="M-8.60 78.53A79.00 79.00 0 0 1 -27.08 74.22L-25.94 71.12A75.70 75.70 0 0 0 -8.24 75.25Z" fill="#1f8a3c"/><path d="M-47.55 63.09A79.00 79.00 0 0 1 -49.29 61.74L-47.23 59.16A75.70 75.70 0 0 0 -45.56 60.45Z" fill="#f07f2a"/><path d="M-56.80 54.91A79.00 79.00 0 0 1 -58.31 53.30L-55.87 51.08A75.70 75.70 0 0 0 -54.42 52.62Z" fill="#f07f2a"/><path d="M-63.84 46.53A79.00 79.00 0 0 1 -78.52 8.66L-75.24 8.30A75.70 75.70 0 0 0 -61.18 44.58Z" fill="#1f8a3c"/><path d="M-78.53 8.63A79.00 79.00 0 0 1 -78.95 2.72L-75.66 2.60A75.70 75.70 0 0 0 -75.25 8.27Z" fill="#f07f2a"/><path d="M-62.74 -48.00A79.00 79.00 0 0 1 -52.03 -59.45L-49.86 -56.96A75.70 75.70 0 0 0 -60.12 -46.00Z" fill="#1f8a3c"/><path d="M-52.07 -59.41A79.00 79.00 0 0 1 -50.39 -60.84L-48.29 -58.30A75.70 75.70 0 0 0 -49.90 -56.93Z" fill="#f07f2a"/><path d="M-20.18 -76.38A79.00 79.00 0 0 1 -16.24 -77.31L-15.56 -74.08A75.70 75.70 0 0 0 -19.33 -73.19Z" fill="#f07f2a"/><g stroke="#dddddd" stroke-width="0.5"><line x1="0.0" y1="-46.4" x2="0.0" y2="-65.0"/><line x1="17.2" y1="-43.1" x2="24.1" y2="-60.4"/><line x1="31.9" y1="-33.7" x2="44.7" y2="-47.2"/><line x1="42.1" y1="-19.5" x2="59.0" y2="-27.3"/><line x1="46.3" y1="-2.5" x2="64.9" y2="-3.5"/><line x1="44.0" y1="14.8" x2="61.6" y2="20.8"/><line x1="35.4" y1="30.1" x2="49.5" y2="42.1"/><line x1="21.7" y1="41.0" x2="30.4" y2="57.4"/><line x1="5.0" y1="46.1" x2="7.0" y2="64.6"/><line x1="-12.4" y1="44.7" x2="-17.4" y2="62.6"/><line x1="-28.1" y1="36.9" x2="-39.4" y2="51.7"/><line x1="-39.8" y1="23.9" x2="-55.7" y2="33.5"/><line x1="-45.8" y1="7.5" x2="-64.2" y2="10.5"/><line x1="-45.3" y1="-10.0" x2="-63.5" y2="-14.0"/><line x1="-38.4" y1="-26.1" x2="-53.8" y2="-36.5"/><line x1="-26.0" y1="-38.4" x2="-36.4" y2="-53.8"/><line x1="-9.9" y1="-45.3" x2="-13.9" y2="-63.5"/></g><line x1="11.5" y1="-78.7" x2="13.0" y2="-89.1" stroke="#111" stroke-width="0.9"/><line x1="65.5" y1="45.0" x2="77.6" y2="49.4" stroke="#111" stroke-width="0.7"/><path d="M0.0 -65.2 1.7 -65.2 3.4 -65.1 5.1 -65.0 6.8 -64.8 8.5 -64.6 10.2 -64.4 11.9 -64.1 13.6 -63.8 15.2 -63.4 16.9 -63.0 18.5 -62.5 20.1 -62.0 21.8 -61.5 23.4 -60.9 25.0 -60.2 26.5 -59.6 28.1 -58.8 29.6 -58.1 31.1 -57.3 32.6 -56.5 34.1 -55.6 35.5 -54.7 36.9 -53.7 38.3 -52.7 39.7 -51.7 41.0 -50.7 42.3 -49.6 43.6 -48.5 44.9 -47.3 46.1 -46.1 47.3 -44.9 48.5 -43.6 49.6 -42.3 50.7 -41.0 51.7 -39.7 52.7 -38.3 53.7 -36.9 54.7 -35.5 55.6 -34.1 56.5 -32.6 57.3 -31.1 58.1 -29.6 58.8 -28.1 59.6 -26.5 60.2 -25.0 60.9 -23.4 61.5 -21.8 62.0 -20.1 62.5 -18.5 63.0 -16.9 63.4 -15.2 63.8 -13.6 64.1 -11.9 64.4 -10.2 64.6 -8.5 64.8 -6.8 65.0 -5.1 65.1 -3.4 65.2 -1.7 65.2 -0.0 65.2 1.7 65.1 3.4 65.0 5.1 64.8 6.8 64.6 8.5 64.4 10.2 64.1 11.9 63.8 13.6 63.4 15.2 63.0 16.9 62.5 18.5 62.0 20.1 61.5 21.8 60.9 23.4 60.2 25.0 59.6 26.5 58.8 28.1 58.1 29.6 57.3 31.1 56.5 32.6 55.6 34.1 54.7 35.5 53.7 36.9 52.7 38.3 51.7 39.7 50.7 41.0 49.6 42.3 48.5 43.6 47.3 44.9 46.1 46.1 44.9 47.3 43.6 48.5 42.3 49.6 41.0 50.7 39.7 51.7 38.3 52.7 36.9 53.7 35.5 54.7 34.1 55.6 32.6 56.5 31.1 57.3 29.6 58.1 28.1 58.8 26.5 59.6 25.0 60.2 23.4 60.9 21.8 61.5 20.1 62.0 18.5 62.5 16.9 63.0 15.2 63.4 13.6 63.8 11.9 64.1 10.2 64.4 8.5 64.6 6.8 64.8 5.1 65.0 3.4 65.1 1.7 65.2 0.0 65.2 -1.7 65.2 -3.4 65.1 -5.1 65.0 -6.8 64.8 -8.5 64.6 -10.2 64.4 -11.9 64.1 -13.6 63.8 -15.2 63.4 -16.9 63.0 -18.5 62.5 -20.1 62.0 -21.8 61.5 -23.4 60.9 -25.0 60.2 -26.5 59.6 -28.1 58.8 -29.6 58.1 -31.1 57.3 -32.6 56.5 -34.1 55.6 -35.5 54.7 -36.9 53.7 -38.3 52.7 -39.7 51.7 -41.0 50.7 -42.3 49.6 -43.6 48.5 -44.9 47.3 -46.1 46.1 -47.3 44.9 -48.5 43.6 -49.6 42.3 -50.7 41.0 -51.7 39.7 -52.7 38.3 -53.7 36.9 -54.7 35.5 -55.6 34.1 -56.5 32.6 -57.3 31.1 -58.1 29.6 -58.8 28.1 -59.6 26.5 -60.2 25.0 -60.9 23.4 -61.5 21.8 -62.0 20.1 -62.5 18.5 -63.0 16.9 -63.4 15.2 -63.8 13.6 -64.1 11.9 -64.4 10.2 -64.6 8.5 -64.8 6.8 -65.0 5.1 -65.1 3.4 -65.2 1.7 -65.2 0.0 -65.2 -1.7 -65.1 -3.4 -65.0 -5.1 -64.8 -6.8 -64.6 -8.5 -64.4 -10.2 -64.1 -11.9 -63.8 -13.6 -63.4 -15.2 -63.0 -16.9 -62.5 -18.5 -62.0 -20.1 -61.5 -21.8 -60.9 -23.4 -60.2 -25.0 -59.6 -26.5 -58.8 -28.1 -58.1 -29.6 -57.3 -31.1 -56.5 -32.6 -55.6 -34.1 -54.7 -35.5 -53.7 -36.9 -52.7 -38.3 -51.7 -39.7 -50.7 -41.0 -49.6 -42.3 -48.5 -43.6 -47.3 -44.9 -46.1 -46.1 -44.9 -47.3 -43.6 -48.5 -42.3 -49.6 -41.0 -50.7 -39.7 -51.7 -38.3 -52.7 -36.9 -53.7 -35.5 -54.7 -34.1 -55.6 -32.6 -56.5 -31.1 -57.3 -29.6 -58.1 -28.1 -58.8 -26.5 -59.6 -25.0 -60.2 -23.4 -60.9 -21.8 -61.5 -20.1 -62.0 -18.5 -62.5 -16.9 -63.0 -15.2 -63.4 -13.6 -63.8 -11.9 -64.1 -10.2 -64.4 -8.5 -64.6 -6.8 -64.8 -5.1 -65.0 -3.4 -65.1 -1.7 -65.2ZM-1.6 -61.3 -3.2 -60.9 -4.8 -61.0 -6.5 -62.1 -8.3 -63.4 -10.1 -63.5 -11.6 -62.6 -13.1 -61.5 -14.6 -60.7 -16.1 -60.1 -17.8 -60.0 -19.4 -59.9 -21.2 -59.8 -22.8 -59.4 -24.3 -58.7 -25.8 -58.0 -27.3 -57.3 -28.8 -56.6 -30.2 -55.6 -31.4 -54.4 -32.7 -53.3 -34.1 -52.5 -35.5 -51.7 -36.8 -50.7 -38.1 -49.6 -39.3 -48.5 -40.5 -47.4 -41.6 -46.2 -43.3 -45.6 -45.0 -45.0 -46.7 -44.3 -48.2 -43.4 -49.1 -41.9 -50.2 -40.6 -51.3 -39.4 -52.4 -38.0 -53.3 -36.6 -54.3 -35.3 -55.2 -33.8 -55.8 -32.2 -56.3 -30.6 -57.1 -29.1 -57.9 -27.6 -58.5 -26.0 -58.8 -24.3 -59.0 -22.7 -59.4 -21.0 -59.7 -19.4 -59.9 -17.7 -60.2 -16.1 -60.5 -14.5 -60.7 -12.9 -60.6 -11.2 -59.7 -9.5 -58.8 -7.7 -57.9 -6.1 -57.9 -4.6 -59.7 -3.1 -61.4 -1.6 -62.9 0.0 -61.8 1.6 -60.8 3.2 -59.8 4.7 -60.0 6.3 -60.9 8.0 -61.1 9.7 -61.0 11.3 -60.7 12.9 -60.1 14.4 -59.3 15.9 -58.3 17.3 -57.2 18.6 -56.1 19.9 -55.7 21.4 -55.8 23.1 -55.8 24.8 -55.7 26.6 -55.6 28.3 -55.1 29.9 -54.3 31.4 -53.5 32.8 -52.9 34.4 -52.1 35.8 -50.2 36.5 -48.1 36.9 -47.3 38.3 -46.9 40.0 -45.4 40.9 -43.9 41.7 -42.3 42.3 -40.9 43.1 -39.4 43.8 -38.2 44.7 -37.2 45.9 -36.2 47.1 -34.8 47.9 -33.2 48.3 -31.9 49.1 -30.9 50.4 -30.0 52.0 -28.9 53.1 -27.6 54.2 -26.4 55.3 -25.1 56.4 -23.7 57.1 -22.3 58.0 -20.9 59.0 -19.4 59.8 -17.9 60.4 -16.3 60.9 -14.8 61.7 -13.3 62.5 -11.7 63.0 -10.0 63.3 -8.4 63.8 -6.8 64.4 -5.1 64.7 -3.4 64.7 -1.7 64.6 0.0 64.7 1.6 62.8 3.2 60.7 4.6 58.5 6.1 57.9 7.6 58.0 9.2 58.0 10.7 57.9 12.3 57.8 13.9 57.8 15.5 57.8 17.0 57.5 18.5 57.0 20.0 56.4 21.5 55.9 23.0 55.5 24.5 54.9 25.8 54.1 27.2 53.4 28.8 53.0 30.4 52.7 31.9 52.1 33.3 51.2 34.8 50.6 36.5 50.2 38.2 49.7 39.6 48.9 40.8 47.8 41.8 46.4 43.0 45.3 43.9 43.9 44.7 42.4 45.2 40.7 45.9 39.2 47.1 38.1 48.5 37.2 49.6 36.1 50.6 34.8 51.6 33.5 52.9 32.4 54.4 31.4 55.6 30.2 56.5 28.8 57.4 27.4 58.4 26.0 59.4 24.6 60.1 23.1 60.5 21.4 60.9 19.8 61.8 18.3 62.8 16.8 63.4 15.2 63.6 13.5 63.7 11.8 63.4 10.0 62.9 8.3 62.3 6.6 61.9 4.9 61.7 3.2 61.6 1.6 61.2 -0.0 61.3 -1.6 61.3 -3.2 61.6 -4.8 62.1 -6.5 62.3 -8.2 62.2 -9.9 62.1 -11.5 62.2 -13.2 62.4 -15.0 62.5 -16.7 61.9 -18.3 61.1 -19.8 60.2 -21.3 59.1 -22.7 58.0 -24.0 57.1 -25.4 56.4 -26.9 55.4 -28.2 54.1 -29.4 52.6 -30.4 51.2 -31.4 49.9 -32.4 48.8 -33.5 47.9 -34.8 47.0 -36.1 46.0 -37.2 45.2 -38.6 44.6 -40.2 43.9 -41.7 42.9 -42.9 41.9 -44.1 41.0 -45.5 40.2 -47.1 39.3 -48.5 38.1 -49.7 37.0 -50.9 35.8 -52.1 34.4 -52.9 32.9 -53.6 31.2 -54.1 29.6 -54.5 28.0 -55.0 26.6 -55.8 25.1 -56.4 23.6 -57.0 22.1 -57.6 20.6 -58.2 19.1 -58.8 17.6 -59.5 16.2 -60.5 14.7 -61.4 13.2 -62.2 11.7 -63.1 10.0 -63.3 8.3 -63.3 6.6 -63.2 4.9 -62.7 3.3 -62.2 1.6 -61.8 0.0 -61.4Z" fill="#98c8f8" fill-rule="evenodd"/><path d="M0.0 -61.4 1.6 -61.8 3.3 -62.2 4.9 -62.7 6.6 -63.2 8.3 -63.3 10.0 -63.3 11.7 -63.1 13.2 -62.2 14.7 -61.4 16.2 -60.5 17.6 -59.5 19.1 -58.8 20.6 -58.2 22.1 -57.6 23.6 -57.0 25.1 -56.4 26.6 -55.8 28.0 -55.0 29.6 -54.5 31.2 -54.1 32.9 -53.6 34.4 -52.9 35.8 -52.1 37.0 -50.9 38.1 -49.7 39.3 -48.5 40.2 -47.1 41.0 -45.5 41.9 -44.1 42.9 -42.9 43.9 -41.7 44.6 -40.2 45.2 -38.6 46.0 -37.2 47.0 -36.1 47.9 -34.8 48.8 -33.5 49.9 -32.4 51.2 -31.4 52.6 -30.4 54.1 -29.4 55.4 -28.2 56.4 -26.9 57.1 -25.4 58.0 -24.0 59.1 -22.7 60.2 -21.3 61.1 -19.8 61.9 -18.3 62.5 -16.7 62.4 -15.0 62.2 -13.2 62.1 -11.5 62.2 -9.9 62.3 -8.2 62.1 -6.5 61.6 -4.8 61.3 -3.2 61.3 -1.6 61.2 -0.0 61.6 1.6 61.7 3.2 61.9 4.9 62.3 6.6 62.9 8.3 63.4 10.0 63.7 11.8 63.6 13.5 63.4 15.2 62.8 16.8 61.8 18.3 60.9 19.8 60.5 21.4 60.1 23.1 59.4 24.6 58.4 26.0 57.4 27.4 56.5 28.8 55.6 30.2 54.4 31.4 52.9 32.4 51.6 33.5 50.6 34.8 49.6 36.1 48.5 37.2 47.1 38.1 45.9 39.2 45.2 40.7 44.7 42.4 43.9 43.9 43.0 45.3 41.8 46.4 40.8 47.8 39.6 48.9 38.2 49.7 36.5 50.2 34.8 50.6 33.3 51.2 31.9 52.1 30.4 52.7 28.8 53.0 27.2 53.4 25.8 54.1 24.5 54.9 23.0 55.5 21.5 55.9 20.0 56.4 18.5 57.0 17.0 57.5 15.5 57.8 13.9 57.8 12.3 57.8 10.7 57.9 9.2 58.0 7.6 58.0 6.1 57.9 4.6 58.5 3.2 60.7 1.6 62.8 0.0 64.7 -1.7 64.6 -3.4 64.7 -5.1 64.7 -6.8 64.4 -8.4 63.8 -10.0 63.3 -11.7 63.0 -13.3 62.5 -14.8 61.7 -16.3 60.9 -17.9 60.4 -19.4 59.8 -20.9 59.0 -22.3 58.0 -23.7 57.1 -25.1 56.4 -26.4 55.3 -27.6 54.2 -28.9 53.1 -30.0 52.0 -30.9 50.4 -31.9 49.1 -33.2 48.3 -34.8 47.9 -36.2 47.1 -37.2 45.9 -38.2 44.7 -39.4 43.8 -40.9 43.1 -42.3 42.3 -43.9 41.7 -45.4 40.9 -46.9 40.0 -47.3 38.3 -48.1 36.9 -50.2 36.5 -52.1 35.8 -52.9 34.4 -53.5 32.8 -54.3 31.4 -55.1 29.9 -55.6 28.3 -55.7 26.6 -55.8 24.8 -55.8 23.1 -55.7 21.4 -56.1 19.9 -57.2 18.6 -58.3 17.3 -59.3 15.9 -60.1 14.4 -60.7 12.9 -61.0 11.3 -61.1 9.7 -60.9 8.0 -60.0 6.3 -59.8 4.7 -60.8 3.2 -61.8 1.6 -62.9 0.0 -61.4 -1.6 -59.7 -3.1 -57.9 -4.6 -57.9 -6.1 -58.8 -7.7 -59.7 -9.5 -60.6 -11.2 -60.7 -12.9 -60.5 -14.5 -60.2 -16.1 -59.9 -17.7 -59.7 -19.4 -59.4 -21.0 -59.0 -22.7 -58.8 -24.3 -58.5 -26.0 -57.9 -27.6 -57.1 -29.1 -56.3 -30.6 -55.8 -32.2 -55.2 -33.8 -54.3 -35.3 -53.3 -36.6 -52.4 -38.0 -51.3 -39.4 -50.2 -40.6 -49.1 -41.9 -48.2 -43.4 -46.7 -44.3 -45.0 -45.0 -43.3 -45.6 -41.6 -46.2 -40.5 -47.4 -39.3 -48.5 -38.1 -49.6 -36.8 -50.7 -35.5 -51.7 -34.1 -52.5 -32.7 -53.3 -31.4 -54.4 -30.2 -55.6 -28.8 -56.6 -27.3 -57.3 -25.8 -58.0 -24.3 -58.7 -22.8 -59.4 -21.2 -59.8 -19.4 -59.9 -17.8 -60.0 -16.1 -60.1 -14.6 -60.7 -13.1 -61.5 -11.6 -62.6 -10.1 -63.5 -8.3 -63.4 -6.5 -62.1 -4.8 -61.0 -3.2 -60.9 -1.6 -61.3Z" fill="none" stroke="#3b63ec" stroke-width="0.55"/><path d="M0.0 -61.1 1.6 -61.6 3.3 -62.3 5.0 -62.9 6.7 -63.4 8.3 -63.4 10.0 -63.2 11.6 -62.6 13.1 -61.5 14.6 -60.7 16.1 -60.0 17.5 -59.1 19.0 -58.6 20.5 -58.0 22.0 -57.3 23.5 -56.6 25.0 -56.1 26.5 -55.5 27.9 -54.9 29.6 -54.4 31.2 -54.1 32.9 -53.6 34.4 -53.0 35.9 -52.2 37.1 -51.0 38.1 -49.7 39.2 -48.4 40.0 -46.8 40.7 -45.2 41.7 -44.0 42.9 -42.9 43.9 -41.6 44.5 -40.1 45.1 -38.5 45.8 -37.1 46.9 -36.0 47.8 -34.8 48.6 -33.4 49.5 -32.2 50.6 -31.0 52.0 -30.0 53.6 -29.1 55.0 -28.0 56.1 -26.8 56.8 -25.3 57.6 -23.8 58.6 -22.5 60.0 -21.2 61.3 -19.9 62.3 -18.5 62.8 -16.8 62.7 -15.1 62.2 -13.2 61.8 -11.5 62.0 -9.8 62.2 -8.2 62.1 -6.5 61.7 -4.9 61.2 -3.2 61.0 -1.6 60.9 -0.0 61.3 1.6 61.4 3.2 61.5 4.8 61.9 6.5 62.5 8.2 63.0 10.0 63.3 11.7 63.2 13.4 62.9 15.1 62.1 16.6 61.1 18.1 60.3 19.6 60.1 21.3 60.1 23.1 59.6 24.7 58.6 26.1 57.5 27.4 56.6 28.9 55.8 30.3 54.8 31.6 53.4 32.7 52.1 33.8 50.8 34.9 49.5 36.0 48.0 36.8 46.4 37.6 45.2 38.6 44.8 40.3 44.3 42.1 43.7 43.7 42.6 44.9 41.4 46.0 40.4 47.3 39.3 48.6 38.1 49.6 36.5 50.3 34.9 50.7 33.4 51.4 31.9 52.1 30.3 52.5 28.7 52.8 27.1 53.2 25.8 54.0 24.5 54.9 23.0 55.5 21.4 55.8 19.9 56.1 18.4 56.6 16.9 57.0 15.4 57.4 13.8 57.5 12.3 57.7 10.7 57.9 9.2 58.0 7.6 57.9 6.1 57.8 4.6 58.4 3.2 60.6 1.6 62.7 0.0 64.5 -1.7 64.2 -3.4 64.2 -5.1 64.3 -6.8 64.3 -8.4 64.0 -10.1 63.6 -11.7 63.1 -13.2 62.2 -14.7 61.1 -16.1 60.2 -17.7 59.8 -19.3 59.5 -20.9 58.9 -22.2 57.9 -23.6 57.1 -25.0 56.2 -26.3 55.2 -27.6 54.1 -28.8 53.1 -29.9 51.9 -30.8 50.3 -31.8 48.9 -33.1 48.2 -34.7 47.8 -36.2 47.1 -37.2 46.0 -38.2 44.7 -39.4 43.7 -40.7 42.9 -42.0 42.0 -43.7 41.4 -45.2 40.7 -46.7 39.9 -47.2 38.2 -47.9 36.7 -50.0 36.3 -51.8 35.6 -52.6 34.1 -53.2 32.6 -54.1 31.2 -55.0 29.8 -55.5 28.3 -55.6 26.5 -55.5 24.7 -55.3 22.9 -55.3 21.2 -55.8 19.8 -57.2 18.6 -58.5 17.3 -59.6 16.0 -60.3 14.5 -60.7 12.9 -60.8 11.3 -60.7 9.6 -60.4 8.0 -59.4 6.2 -59.3 4.7 -60.5 3.2 -61.6 1.6 -62.8 0.0 -61.4 -1.6 -59.8 -3.1 -57.9 -4.6 -57.7 -6.1 -58.5 -7.7 -59.5 -9.4 -60.3 -11.2 -60.5 -12.9 -60.4 -14.5 -60.0 -16.1 -59.6 -17.7 -59.3 -19.3 -58.9 -20.9 -58.6 -22.5 -58.4 -24.2 -58.2 -25.9 -57.7 -27.5 -56.9 -29.0 -56.1 -30.5 -55.6 -32.1 -55.0 -33.7 -54.3 -35.2 -53.4 -36.7 -52.5 -38.1 -51.4 -39.4 -50.2 -40.6 -49.1 -41.9 -48.2 -43.4 -46.8 -44.4 -45.1 -45.1 -43.2 -45.5 -41.5 -46.1 -40.2 -47.0 -38.9 -48.0 -37.7 -49.1 -36.5 -50.3 -35.3 -51.4 -34.0 -52.3 -32.6 -53.2 -31.3 -54.3 -30.1 -55.5 -28.8 -56.5 -27.3 -57.1 -25.7 -57.7 -24.2 -58.4 -22.7 -59.0 -21.1 -59.5 -19.4 -59.7 -17.8 -60.0 -16.1 -60.1 -14.6 -60.8 -13.1 -61.6 -11.6 -62.6 -10.1 -63.5 -8.3 -63.2 -6.5 -61.8 -4.8 -60.5 -3.2 -60.5 -1.6 -60.9Z" fill="none" stroke="#6f6ff2" stroke-width="0.45"/><circle r="65.50" fill="none" stroke="#1a1a1a" stroke-width="0.9"/><circle r="46.40" fill="none" stroke="#555" stroke-width="0.7"/><g stroke="#3a3a3a" stroke-width="0.5"><line x1="4.2" y1="-46.2" x2="4.6" y2="-50.6"/><line x1="6.1" y1="-46.0" x2="6.4" y2="-48.2"/><line x1="4.9" y1="-46.1" x2="5.1" y2="-47.6"/><line x1="4.6" y1="-46.2" x2="4.9" y2="-48.6"/><line x1="-3.4" y1="-46.3" x2="-3.5" y2="-48.1"/><line x1="-4.2" y1="-46.2" x2="-4.6" y2="-50.0"/></g><g fill="none"><path d="M-19.6 -42.1Q0.0 -0.0 25.9 38.5" stroke="#f2603c" stroke-width="0.90" stroke-opacity="0.95"/><path d="M-8.1 -45.7Q0.0 -0.0 24.6 39.3" stroke="#f58c72" stroke-width="0.60" stroke-opacity="0.70"/><path d="M-6.5 -45.9Q0.0 -0.0 25.3 38.9" stroke="#f58c72" stroke-width="0.50" stroke-opacity="0.60"/></g></g>
<g transform="translate(694.20 261.80)"><g stroke="#d8d8d8" stroke-width="0.5"><line x1="18.4" y1="-77.9" x2="18.7" y2="-79.3"/><line x1="33.1" y1="-72.8" x2="33.7" y2="-74.2"/><line x1="46.5" y1="-65.1" x2="47.4" y2="-66.3"/><line x1="64.1" y1="-47.9" x2="65.3" y2="-48.8"/><line x1="75.6" y1="-26.1" x2="77.1" y2="-26.6"/><line x1="79.3" y1="-10.8" x2="80.8" y2="-11.0"/><line x1="79.7" y1="6.8" x2="81.2" y2="6.9"/><line x1="75.9" y1="25.3" x2="77.3" y2="25.8"/><line x1="68.9" y1="40.6" x2="70.2" y2="41.4"/><line x1="67.7" y1="42.5" x2="69.0" y2="43.3"/><line x1="66.6" y1="44.4" x2="67.8" y2="45.2"/><line x1="64.8" y1="46.9" x2="66.0" y2="47.8"/><line x1="63.6" y1="48.5" x2="64.8" y2="49.4"/><line x1="45.9" y1="65.5" x2="46.7" y2="66.8"/><line x1="23.0" y1="76.6" x2="23.4" y2="78.1"/><line x1="10.8" y1="79.3" x2="11.0" y2="80.8"/><line x1="-1.4" y1="80.0" x2="-1.4" y2="81.5"/><line x1="-5.6" y1="79.8" x2="-5.7" y2="81.3"/><line x1="-18.2" y1="77.9" x2="-18.5" y2="79.4"/><line x1="-38.2" y1="70.3" x2="-39.0" y2="71.6"/><line x1="-49.0" y1="63.2" x2="-50.0" y2="64.4"/><line x1="-53.8" y1="59.2" x2="-54.9" y2="60.3"/><line x1="-58.3" y1="54.8" x2="-59.4" y2="55.8"/><line x1="-61.9" y1="50.7" x2="-63.1" y2="51.6"/><line x1="-74.6" y1="28.9" x2="-76.0" y2="29.5"/><line x1="-79.8" y1="5.8" x2="-81.3" y2="5.9"/><line x1="-76.2" y1="-24.4" x2="-77.6" y2="-24.8"/><line x1="-58.4" y1="-54.7" x2="-59.5" y2="-55.7"/><line x1="-51.9" y1="-60.9" x2="-52.9" y2="-62.0"/><line x1="-36.6" y1="-71.2" x2="-37.3" y2="-72.5"/><line x1="-18.4" y1="-77.8" x2="-18.8" y2="-79.3"/><line x1="29.6" y1="-74.3" x2="34.8" y2="-87.3"/><line x1="55.0" y1="-58.1" x2="64.7" y2="-68.2"/><line x1="72.6" y1="-33.6" x2="85.3" y2="-39.5"/><line x1="79.9" y1="-4.3" x2="93.9" y2="-5.1"/><line x1="75.8" y1="25.6" x2="89.1" y2="30.0"/><line x1="61.0" y1="51.8" x2="71.6" y2="60.9"/><line x1="37.4" y1="70.7" x2="44.0" y2="83.1"/><line x1="8.6" y1="79.5" x2="10.1" y2="93.5"/><line x1="-21.4" y1="77.1" x2="-25.2" y2="90.6"/><line x1="-48.4" y1="63.7" x2="-56.9" y2="74.8"/><line x1="-68.6" y1="41.2" x2="-80.6" y2="48.4"/><line x1="-79.0" y1="12.9" x2="-92.8" y2="15.1"/><line x1="-78.1" y1="-17.3" x2="-91.8" y2="-20.3"/><line x1="-66.2" y1="-44.9" x2="-77.8" y2="-52.8"/><line x1="-44.8" y1="-66.3" x2="-52.7" y2="-77.8"/><line x1="-17.1" y1="-78.1" x2="-20.1" y2="-91.8"/></g><g font-size="3.4" fill="#383838"><text transform="translate(18.9 -79.8) rotate(-76.7)" dy="1.2">MT-TF</text><text transform="translate(33.9 -74.7) rotate(-65.6)" dy="1.2">MT-RNR1</text><text transform="translate(47.7 -66.7) rotate(-54.5)" dy="1.2">MT-TV</text><text transform="translate(65.7 -49.1) rotate(-36.8)" dy="1.2">MT-RNR2</text><text transform="translate(77.5 -26.7) rotate(-19.0)" dy="1.2">MT-TL1</text><text transform="translate(81.2 -11.1) rotate(-7.8)" dy="1.2">MT-ND1</text><text transform="translate(81.7 6.9) rotate(4.9)" dy="1.2">MT-TI</text><text transform="translate(77.8 25.9) rotate(18.4)" dy="1.2">MT-ND2</text><text transform="translate(70.7 41.6) rotate(30.5)" dy="1.2">MT-TW</text><text transform="translate(69.4 43.6) rotate(32.1)" dy="1.2">MT-TA</text><text transform="translate(68.2 45.5) rotate(33.7)" dy="1.2">MT-TN</text><text transform="translate(66.4 48.1) rotate(35.9)" dy="1.2">MT-TC</text><text transform="translate(65.2 49.7) rotate(37.3)" dy="1.2">MT-TY</text><text transform="translate(47.0 67.2) rotate(55.0)" dy="1.2">MT-CO1</text><text transform="translate(23.6 78.5) rotate(73.3)" dy="1.2">MT-TS1</text><text transform="translate(11.1 81.2) rotate(82.2)" dy="1.2">MT-CO2</text><text transform="translate(-1.4 82.0) rotate(271.0)" text-anchor="end" dy="1.2">MT-TK</text><text transform="translate(-5.7 81.8) rotate(274.0)" text-anchor="end" dy="1.2">MT-ATP8</text><text transform="translate(-18.6 79.9) rotate(283.1)" text-anchor="end" dy="1.2">MT-ATP6</text><text transform="translate(-39.2 72.0) rotate(298.5)" text-anchor="end" dy="1.2">MT-CO3</text><text transform="translate(-50.3 64.8) rotate(307.8)" text-anchor="end" dy="1.2">MT-TG</text><text transform="translate(-55.2 60.6) rotate(312.3)" text-anchor="end" dy="1.2">MT-ND3</text><text transform="translate(-59.7 56.2) rotate(316.8)" text-anchor="end" dy="1.2">MT-TR</text><text transform="translate(-63.5 51.9) rotate(320.7)" text-anchor="end" dy="1.2">MT-ND4L</text><text transform="translate(-76.5 29.6) rotate(338.8)" text-anchor="end" dy="1.2">MT-ND4</text><text transform="translate(-81.8 5.9) rotate(355.9)" text-anchor="end" dy="1.2">MT-TH</text><text transform="translate(-78.1 -25.0) rotate(377.7)" text-anchor="end" dy="1.2">MT-ND5</text><text transform="translate(-59.9 -56.0) rotate(403.1)" text-anchor="end" dy="1.2">MT-ND6</text><text transform="translate(-53.2 -62.4) rotate(409.6)" text-anchor="end" dy="1.2">MT-TE</text><text transform="translate(-37.5 -72.9) rotate(422.8)" text-anchor="end" dy="1.2">MT-CYB</text><text transform="translate(-18.9 -79.8) rotate(436.7)" text-anchor="end" dy="1.2">MT-TT</text><text transform="translate(35.0 -87.8) rotate(-68.3)" dy="1.2">1000</text><text transform="translate(65.0 -68.6) rotate(-46.5)" dy="1.2">2000</text><text transform="translate(85.8 -39.7) rotate(-24.8)" dy="1.2">3000</text><text transform="translate(94.4 -5.1) rotate(-3.1)" dy="1.2">4000</text><text transform="translate(89.5 30.2) rotate(18.6)" dy="1.2">5000</text><text transform="translate(72.0 61.2) rotate(40.4)" dy="1.2">6000</text><text transform="translate(44.2 83.5) rotate(62.1)" dy="1.2">7000</text><text transform="translate(10.2 94.0) rotate(83.8)" dy="1.2">8000</text><text transform="translate(-25.3 91.0) rotate(285.5)" text-anchor="end" dy="1.2">9000</text><text transform="translate(-57.2 75.2) rotate(307.3)" text-anchor="end" dy="1.2">10000</text><text transform="translate(-81.0 48.7) rotate(329.0)" text-anchor="end" dy="1.2">11000</text><text transform="translate(-93.3 15.2) rotate(350.7)" text-anchor="end" dy="1.2">12000</text><text transform="translate(-92.3 -20.4) rotate(372.5)" text-anchor="end" dy="1.2">13000</text><text transform="translate(-78.2 -53.1) rotate(394.2)" text-anchor="end" dy="1.2">14000</text><text transform="translate(-53.0 -78.3) rotate(415.9)" text-anchor="end" dy="1.2">15000</text><text transform="translate(-20.2 -92.3) rotate(437.6)" text-anchor="end" dy="1.2">16000</text></g><circle r="70.85" fill="none" stroke="url(#tube)" stroke-width="9.70"/><circle r="77.35" fill="none" stroke="#6cc06c" stroke-width="3.30"/><path d="M-16.21 -77.32A79.00 79.00 0 0 1 17.12 -77.12L16.40 -73.90A75.70 75.70 0 0 0 -15.53 -74.09Z" fill="#464646"/><path d="M17.09 -77.13A79.00 79.00 0 0 1 19.24 -76.62L18.44 -73.42A75.70 75.70 0 0 0 16.38 -73.91Z" fill="#f07f2a"/><path d="M19.22 -76.63A79.00 79.00 0 0 1 45.07 -64.88L43.19 -62.17A75.70 75.70 0 0 0 18.42 -73.43Z" fill="#9a97cc"/><path d="M45.03 -64.91A79.00 79.00 0 0 1 46.82 -63.63L44.86 -60.97A75.70 75.70 0 0 0 43.14 -62.20Z" fill="#f07f2a"/><path d="M46.78 -63.66A79.00 79.00 0 0 1 74.31 -26.82L71.21 -25.70A75.70 75.70 0 0 0 44.82 -61.00Z" fill="#9a97cc"/><path d="M74.32 -26.79A79.00 79.00 0 0 1 75.04 -24.69L71.91 -23.66A75.70 75.70 0 0 0 71.22 -25.67Z" fill="#f07f2a"/><path d="M78.92 3.62A79.00 79.00 0 0 1 78.39 9.76L75.12 9.36A75.70 75.70 0 0 0 75.62 3.47Z" fill="#f07f2a"/><path d="M68.63 39.13A79.00 79.00 0 0 1 67.51 41.03L64.69 39.32A75.70 75.70 0 0 0 65.76 37.49Z" fill="#f07f2a"/><path d="M67.48 41.08A79.00 79.00 0 0 1 66.31 42.94L63.54 41.15A75.70 75.70 0 0 0 64.66 39.36Z" fill="#f07f2a"/><path d="M66.33 42.90A79.00 79.00 0 0 1 65.11 44.74L62.39 42.87A75.70 75.70 0 0 0 63.56 41.11Z" fill="#f07f2a"/><path d="M64.65 45.40A79.00 79.00 0 0 1 63.36 47.19L60.71 45.22A75.70 75.70 0 0 0 61.95 43.50Z" fill="#f07f2a"/><path d="M63.51 46.98A79.00 79.00 0 0 1 62.18 48.73L59.58 46.70A75.70 75.70 0 0 0 60.86 45.02Z" fill="#f07f2a"/><path d="M24.70 75.04A79.00 79.00 0 0 1 20.71 76.24L19.85 73.05A75.70 75.70 0 0 0 23.67 71.91Z" fill="#f07f2a"/><path d="M-0.25 79.00A79.00 79.00 0 0 1 -2.45 78.96L-2.35 75.66A75.70 75.70 0 0 0 -0.23 75.70Z" fill="#f07f2a"/><path d="M-8.60 78.53A79.00 79.00 0 0 1 -27.08 74.22L-25.94 71.12A75.70 75.70 0 0 0 -8.24 75.25Z" fill="#1f8a3c"/><path d="M-47.55 63.09A79.00 79.00 0 0 1 -49.29 61.74L-47.23 59.16A75.70 75.70 0 0 0 -45.56 60.45Z" fill="#f07f2a"/><path d="M-56.80 54.91A79.00 79.00 0 0 1 -58.31 53.30L-55.87 51.08A75.70 75.70 0 0 0 -54.42 52.62Z" fill="#f07f2a"/><path d="M-63.84 46.53A79.00 79.00 0 0 1 -78.52 8.66L-75.24 8.30A75.70 75.70 0 0 0 -61.18 44.58Z" fill="#1f8a3c"/><path d="M-78.53 8.63A79.00 79.00 0 0 1 -78.95 2.72L-75.66 2.60A75.70 75.70 0 0 0 -75.25 8.27Z" fill="#f07f2a"/><path d="M-62.74 -48.00A79.00 79.00 0 0 1 -52.03 -59.45L-49.86 -56.96A75.70 75.70 0 0 0 -60.12 -46.00Z" fill="#1f8a3c"/><path d="M-52.07 -59.41A79.00 79.00 0 0 1 -50.39 -60.84L-48.29 -58.30A75.70 75.70 0 0 0 -49.90 -56.93Z" fill="#f07f2a"/><path d="M-20.18 -76.38A79.00 79.00 0 0 1 -16.24 -77.31L-15.56 -74.08A75.70 75.70 0 0 0 -19.33 -73.19Z" fill="#f07f2a"/><g stroke="#dddddd" stroke-width="0.5"><line x1="0.0" y1="-46.4" x2="0.0" y2="-65.0"/><line x1="17.2" y1="-43.1" x2="24.1" y2="-60.4"/><line x1="31.9" y1="-33.7" x2="44.7" y2="-47.2"/><line x1="42.1" y1="-19.5" x2="59.0" y2="-27.3"/><line x1="46.3" y1="-2.5" x2="64.9" y2="-3.5"/><line x1="44.0" y1="14.8" x2="61.6" y2="20.8"/><line x1="35.4" y1="30.1" x2="49.5" y2="42.1"/><line x1="21.7" y1="41.0" x2="30.4" y2="57.4"/><line x1="5.0" y1="46.1" x2="7.0" y2="64.6"/><line x1="-12.4" y1="44.7" x2="-17.4" y2="62.6"/><line x1="-28.1" y1="36.9" x2="-39.4" y2="51.7"/><line x1="-39.8" y1="23.9" x2="-55.7" y2="33.5"/><line x1="-45.8" y1="7.5" x2="-64.2" y2="10.5"/><line x1="-45.3" y1="-10.0" x2="-63.5" y2="-14.0"/><line x1="-38.4" y1="-26.1" x2="-53.8" y2="-36.5"/><line x1="-26.0" y1="-38.4" x2="-36.4" y2="-53.8"/><line x1="-9.9" y1="-45.3" x2="-13.9" y2="-63.5"/></g><line x1="11.5" y1="-78.7" x2="13.0" y2="-89.1" stroke="#111" stroke-width="0.9"/><line x1="65.5" y1="45.0" x2="77.6" y2="49.4" stroke="#111" stroke-width="0.7"/><path d="M0.0 -65.2 1.7 -65.2 3.4 -65.1 5.1 -65.0 6.8 -64.8 8.5 -64.6 10.2 -64.4 11.9 -64.1 13.6 -63.8 15.2 -63.4 16.9 -63.0 18.5 -62.5 20.1 -62.0 21.8 -61.5 23.4 -60.9 25.0 -60.2 26.5 -59.6 28.1 -58.8 29.6 -58.1 31.1 -57.3 32.6 -56.5 34.1 -55.6 35.5 -54.7 36.9 -53.7 38.3 -52.7 39.7 -51.7 41.0 -50.7 42.3 -49.6 43.6 -48.5 44.9 -47.3 46.1 -46.1 47.3 -44.9 48.5 -43.6 49.6 -42.3 50.7 -41.0 51.7 -39.7 52.7 -38.3 53.7 -36.9 54.7 -35.5 55.6 -34.1 56.5 -32.6 57.3 -31.1 58.1 -29.6 58.8 -28.1 59.6 -26.5 60.2 -25.0 60.9 -23.4 61.5 -21.8 62.0 -20.1 62.5 -18.5 63.0 -16.9 63.4 -15.2 63.8 -13.6 64.1 -11.9 64.4 -10.2 64.6 -8.5 64.8 -6.8 65.0 -5.1 65.1 -3.4 65.2 -1.7 65.2 -0.0 65.2 1.7 65.1 3.4 65.0 5.1 64.8 6.8 64.6 8.5 64.4 10.2 64.1 11.9 63.8 13.6 63.4 15.2 63.0 16.9 62.5 18.5 62.0 20.1 61.5 21.8 60.9 23.4 60.2 25.0 59.6 26.5 58.8 28.1 58.1 29.6 57.3 31.1 56.5 32.6 55.6 34.1 54.7 35.5 53.7 36.9 52.7 38.3 51.7 39.7 50.7 41.0 49.6 42.3 48.5 43.6 47.3 44.9 46.1 46.1 44.9 47.3 43.6 48.5 42.3 49.6 41.0 50.7 39.7 51.7 38.3 52.7 36.9 53.7 35.5 54.7 34.1 55.6 32.6 56.5 31.1 57.3 29.6 58.1 28.1 58.8 26.5 59.6 25.0 60.2 23.4 60.9 21.8 61.5 20.1 62.0 18.5 62.5 16.9 63.0 15.2 63.4 13.6 63.8 11.9 64.1 10.2 64.4 8.5 64.6 6.8 64.8 5.1 65.0 3.4 65.1 1.7 65.2 0.0 65.2 -1.7 65.2 -3.4 65.1 -5.1 65.0 -6.8 64.8 -8.5 64.6 -10.2 64.4 -11.9 64.1 -13.6 63.8 -15.2 63.4 -16.9 63.0 -18.5 62.5 -20.1 62.0 -21.8 61.5 -23.4 60.9 -25.0 60.2 -26.5 59.6 -28.1 58.8 -29.6 58.1 -31.1 57.3 -32.6 56.5 -34.1 55.6 -35.5 54.7 -36.9 53.7 -38.3 52.7 -39.7 51.7 -41.0 50.7 -42.3 49.6 -43.6 48.5 -44.9 47.3 -46.1 46.1 -47.3 44.9 -48.5 43.6 -49.6 42.3 -50.7 41.0 -51.7 39.7 -52.7 38.3 -53.7 36.9 -54.7 35.5 -55.6 34.1 -56.5 32.6 -57.3 31.1 -58.1 29.6 -58.8 28.1 -59.6 26.5 -60.2 25.0 -60.9 23.4 -61.5 21.8 -62.0 20.1 -62.5 18.5 -63.0 16.9 -63.4 15.2 -63.8 13.6 -64.1 11.9 -64.4 10.2 -64.6 8.5 -64.8 6.8 -65.0 5.1 -65.1 3.4 -65.2 1.7 -65.2 0.0 -65.2 -1.7 -65.1 -3.4 -65.0 -5.1 -64.8 -6.8 -64.6 -8.5 -64.4 -10.2 -64.1 -11.9 -63.8 -13.6 -63.4 -15.2 -63.0 -16.9 -62.5 -18.5 -62.0 -20.1 -61.5 -21.8 -60.9 -23.4 -60.2 -25.0 -59.6 -26.5 -58.8 -28.1 -58.1 -29.6 -57.3 -31.1 -56.5 -32.6 -55.6 -34.1 -54.7 -35.5 -53.7 -36.9 -52.7 -38.3 -51.7 -39.7 -50.7 -41.0 -49.6 -42.3 -48.5 -43.6 -47.3 -44.9 -46.1 -46.1 -44.9 -47.3 -43.6 -48.5 -42.3 -49.6 -41.0 -50.7 -39.7 -51.7 -38.3 -52.7 -36.9 -53.7 -35.5 -54.7 -34.1 -55.6 -32.6 -56.5 -31.1 -57.3 -29.6 -58.1 -28.1 -58.8 -26.5 -59.6 -25.0 -60.2 -23.4 -60.9 -21.8 -61.5 -20.1 -62.0 -18.5 -62.5 -16.9 -63.0 -15.2 -63.4 -13.6 -63.8 -11.9 -64.1 -10.2 -64.4 -8.5 -64.6 -6.8 -64.8 -5.1 -65.0 -3.4 -65.1 -1.7 -65.2ZM-1.6 -60.9 -3.2 -60.5 -4.8 -60.6 -6.5 -61.5 -8.2 -62.5 -9.9 -62.7 -11.5 -62.3 -13.1 -61.6 -14.6 -60.7 -16.1 -60.0 -17.9 -60.3 -19.6 -60.4 -21.3 -60.1 -22.8 -59.4 -24.2 -58.5 -25.7 -57.7 -27.2 -56.9 -28.7 -56.3 -30.2 -55.6 -31.6 -54.7 -32.7 -53.4 -33.9 -52.1 -35.2 -51.2 -36.6 -50.4 -37.9 -49.4 -39.2 -48.4 -40.6 -47.5 -42.0 -46.7 -43.6 -45.9 -44.9 -44.9 -46.3 -43.9 -47.9 -43.2 -49.1 -41.9 -50.1 -40.6 -51.2 -39.3 -52.3 -38.0 -53.3 -36.7 -54.2 -35.2 -55.1 -33.8 -56.1 -32.4 -56.8 -30.8 -57.4 -29.2 -57.8 -27.6 -58.2 -25.9 -58.5 -24.2 -58.7 -22.5 -58.9 -20.9 -59.2 -19.2 -59.7 -17.7 -60.2 -16.1 -60.5 -14.5 -60.5 -12.9 -60.3 -11.2 -59.6 -9.4 -58.8 -7.7 -57.9 -6.1 -57.6 -4.5 -59.1 -3.1 -60.7 -1.6 -62.5 0.0 -61.8 1.6 -60.8 3.2 -59.6 4.7 -59.9 6.3 -61.0 8.0 -61.2 9.7 -61.0 11.3 -60.6 12.9 -59.7 14.3 -58.7 15.7 -57.7 17.1 -56.7 18.4 -55.8 19.7 -55.5 21.3 -55.5 23.0 -55.6 24.8 -55.6 26.5 -55.5 28.3 -55.1 29.9 -54.6 31.5 -53.9 33.0 -53.1 34.5 -51.9 35.7 -49.9 36.2 -47.8 36.6 -47.2 38.2 -46.7 39.9 -45.0 40.5 -43.2 41.0 -41.5 41.5 -40.5 42.7 -39.5 43.9 -38.4 45.0 -37.2 46.0 -36.0 46.9 -34.8 47.9 -33.5 48.8 -32.0 49.3 -30.6 50.0 -29.5 51.1 -28.5 52.5 -27.4 53.7 -26.1 54.8 -24.8 55.7 -23.5 56.8 -22.3 58.2 -21.1 59.5 -19.6 60.2 -17.9 60.5 -16.3 60.8 -14.8 61.5 -13.3 62.4 -11.7 63.0 -10.0 63.3 -8.4 63.7 -6.7 64.1 -5.1 64.3 -3.4 64.3 -1.7 64.4 0.0 64.8 1.6 63.0 3.2 61.0 4.6 58.8 6.1 57.8 7.6 57.4 9.1 57.3 10.7 57.6 12.3 57.8 13.8 57.7 15.3 57.3 16.9 56.9 18.4 56.7 20.0 56.3 21.4 55.7 22.8 55.0 24.2 54.4 25.7 53.8 27.1 53.3 28.6 52.8 30.2 52.4 31.8 51.9 33.3 51.3 34.9 50.8 36.6 50.3 38.1 49.7 39.6 48.9 40.9 47.9 41.9 46.6 42.8 45.1 43.4 43.4 44.0 41.8 44.8 40.3 45.4 38.8 46.5 37.7 48.0 36.8 49.5 36.0 50.9 35.0 52.1 33.8 53.2 32.6 54.6 31.5 55.8 30.3 56.8 28.9 57.6 27.5 58.3 25.9 58.9 24.4 59.4 22.8 60.1 21.3 60.9 19.8 61.9 18.3 62.7 16.8 63.1 15.2 63.3 13.5 63.4 11.7 63.1 10.0 62.8 8.3 62.6 6.6 62.4 4.9 62.0 3.2 61.4 1.6 60.9 -0.0 61.4 -1.6 61.6 -3.2 61.6 -4.8 61.6 -6.5 61.8 -8.1 62.3 -9.9 62.4 -11.6 62.0 -13.2 61.6 -14.8 61.6 -16.5 61.3 -18.1 60.8 -19.8 60.1 -21.3 59.3 -22.8 58.5 -24.2 57.8 -25.7 56.7 -27.0 55.3 -28.2 53.9 -29.3 52.5 -30.3 51.0 -31.3 49.6 -32.2 48.2 -33.2 47.5 -34.5 46.8 -35.9 46.0 -37.2 45.2 -38.6 44.4 -39.9 43.5 -41.3 42.5 -42.5 41.6 -43.8 40.7 -45.1 39.9 -46.7 39.2 -48.4 38.3 -49.9 37.3 -51.3 35.9 -52.3 34.3 -52.8 32.8 -53.5 31.3 -54.3 29.7 -54.7 28.0 -54.9 26.4 -55.4 24.9 -56.0 23.4 -56.6 22.0 -57.2 20.5 -57.9 19.0 -58.5 17.5 -59.0 16.0 -59.9 14.6 -60.9 13.2 -62.3 11.8 -63.6 10.1 -63.7 8.3 -63.3 6.6 -62.9 4.9 -62.9 3.3 -62.7 1.6 -62.2 0.0 -61.4Z" fill="#98c8f8" fill-rule="evenodd"/><path d="M0.0 -61.4 1.6 -62.2 3.3 -62.7 4.9 -62.9 6.6 -62.9 8.3 -63.3 10.1 -63.7 11.8 -63.6 13.2 -62.3 14.6 -60.9 16.0 -59.9 17.5 -59.0 19.0 -58.5 20.5 -57.9 22.0 -57.2 23.4 -56.6 24.9 -56.0 26.4 -55.4 28.0 -54.9 29.7 -54.7 31.3 -54.3 32.8 -53.5 34.3 -52.8 35.9 -52.3 37.3 -51.3 38.3 -49.9 39.2 -48.4 39.9 -46.7 40.7 -45.1 41.6 -43.8 42.5 -42.5 43.5 -41.3 44.4 -39.9 45.2 -38.6 46.0 -37.2 46.8 -35.9 47.5 -34.5 48.2 -33.2 49.6 -32.2 51.0 -31.3 52.5 -30.3 53.9 -29.3 55.3 -28.2 56.7 -27.0 57.8 -25.7 58.5 -24.2 59.3 -22.8 60.1 -21.3 60.8 -19.8 61.3 -18.1 61.6 -16.5 61.6 -14.8 62.0 -13.2 62.4 -11.6 62.3 -9.9 61.8 -8.1 61.6 -6.5 61.6 -4.8 61.6 -3.2 61.4 -1.6 60.9 -0.0 61.4 1.6 62.0 3.2 62.4 4.9 62.6 6.6 62.8 8.3 63.1 10.0 63.4 11.7 63.3 13.5 63.1 15.2 62.7 16.8 61.9 18.3 60.9 19.8 60.1 21.3 59.4 22.8 58.9 24.4 58.3 25.9 57.6 27.5 56.8 28.9 55.8 30.3 54.6 31.5 53.2 32.6 52.1 33.8 50.9 35.0 49.5 36.0 48.0 36.8 46.5 37.7 45.4 38.8 44.8 40.3 44.0 41.8 43.4 43.4 42.8 45.1 41.9 46.6 40.9 47.9 39.6 48.9 38.1 49.7 36.6 50.3 34.9 50.8 33.3 51.3 31.8 51.9 30.2 52.4 28.6 52.8 27.1 53.3 25.7 53.8 24.2 54.4 22.8 55.0 21.4 55.7 20.0 56.3 18.4 56.7 16.9 56.9 15.3 57.3 13.8 57.7 12.3 57.8 10.7 57.6 9.1 57.3 7.6 57.4 6.1 57.8 4.6 58.8 3.2 61.0 1.6 63.0 0.0 64.8 -1.7 64.4 -3.4 64.3 -5.1 64.3 -6.7 64.1 -8.4 63.7 -10.0 63.3 -11.7 63.0 -13.3 62.4 -14.8 61.5 -16.3 60.8 -17.9 60.5 -19.6 60.2 -21.1 59.5 -22.3 58.2 -23.5 56.8 -24.8 55.7 -26.1 54.8 -27.4 53.7 -28.5 52.5 -29.5 51.1 -30.6 50.0 -32.0 49.3 -33.5 48.8 -34.8 47.9 -36.0 46.9 -37.2 46.0 -38.4 45.0 -39.5 43.9 -40.5 42.7 -41.5 41.5 -43.2 41.0 -45.0 40.5 -46.7 39.9 -47.2 38.2 -47.8 36.6 -49.9 36.2 -51.9 35.7 -53.1 34.5 -53.9 33.0 -54.6 31.5 -55.1 29.9 -55.5 28.3 -55.6 26.5 -55.6 24.8 -55.5 23.0 -55.5 21.3 -55.8 19.7 -56.7 18.4 -57.7 17.1 -58.7 15.7 -59.7 14.3 -60.6 12.9 -61.0 11.3 -61.2 9.7 -61.0 8.0 -59.9 6.3 -59.6 4.7 -60.8 3.2 -61.8 1.6 -62.5 0.0 -60.7 -1.6 -59.1 -3.1 -57.6 -4.5 -57.9 -6.1 -58.8 -7.7 -59.6 -9.4 -60.3 -11.2 -60.5 -12.9 -60.5 -14.5 -60.2 -16.1 -59.7 -17.7 -59.2 -19.2 -58.9 -20.9 -58.7 -22.5 -58.5 -24.2 -58.2 -25.9 -57.8 -27.6 -57.4 -29.2 -56.8 -30.8 -56.1 -32.4 -55.1 -33.8 -54.2 -35.2 -53.3 -36.7 -52.3 -38.0 -51.2 -39.3 -50.1 -40.6 -49.1 -41.9 -47.9 -43.2 -46.3 -43.9 -44.9 -44.9 -43.6 -45.9 -42.0 -46.7 -40.6 -47.5 -39.2 -48.4 -37.9 -49.4 -36.6 -50.4 -35.2 -51.2 -33.9 -52.1 -32.7 -53.4 -31.6 -54.7 -30.2 -55.6 -28.7 -56.3 -27.2 -56.9 -25.7 -57.7 -24.2 -58.5 -22.8 -59.4 -21.3 -60.1 -19.6 -60.4 -17.9 -60.3 -16.1 -60.0 -14.6 -60.7 -13.1 -61.6 -11.5 -62.3 -9.9 -62.7 -8.2 -62.5 -6.5 -61.5 -4.8 -60.6 -3.2 -60.5 -1.6 -60.9Z" fill="none" stroke="#3b63ec" stroke-width="0.55"/><path d="M0.0 -61.1 1.6 -62.0 3.3 -62.5 4.9 -62.5 6.6 -62.5 8.3 -62.9 10.1 -63.6 11.8 -63.6 13.2 -62.2 14.6 -60.7 16.0 -59.6 17.4 -58.9 19.0 -58.5 20.5 -57.9 21.9 -57.2 23.4 -56.4 24.8 -55.7 26.3 -55.1 27.9 -54.7 29.7 -54.6 31.3 -54.2 32.7 -53.4 34.1 -52.5 35.7 -51.9 37.1 -51.0 38.2 -49.7 39.1 -48.3 39.9 -46.7 40.5 -45.0 41.4 -43.6 42.4 -42.4 43.4 -41.2 44.3 -39.9 45.1 -38.5 45.9 -37.1 46.6 -35.8 47.2 -34.3 48.0 -33.0 49.3 -32.0 50.8 -31.1 52.4 -30.2 53.9 -29.3 55.4 -28.2 56.9 -27.1 57.8 -25.7 58.3 -24.1 58.8 -22.6 59.5 -21.1 60.3 -19.6 60.9 -18.0 61.2 -16.4 61.2 -14.7 61.6 -13.1 61.9 -11.5 62.1 -9.8 62.1 -8.2 62.1 -6.5 62.1 -4.9 61.8 -3.2 61.1 -1.6 60.4 -0.0 60.9 1.6 61.7 3.2 62.3 4.9 62.6 6.6 62.7 8.3 62.8 10.0 63.0 11.7 62.9 13.4 62.8 15.1 62.5 16.7 61.7 18.3 60.8 19.8 60.1 21.3 59.5 22.8 58.9 24.4 58.1 25.9 57.2 27.3 56.3 28.7 55.3 30.0 54.3 31.3 53.2 32.6 52.2 33.9 51.0 35.1 49.4 35.9 47.7 36.6 46.2 37.4 45.1 38.5 44.5 40.1 43.8 41.6 43.1 43.1 42.4 44.7 41.7 46.3 40.9 47.9 39.8 49.2 38.5 50.2 36.9 50.8 35.1 51.1 33.4 51.4 31.7 51.7 30.1 52.1 28.5 52.5 26.9 52.9 25.4 53.3 23.9 53.6 22.4 54.1 21.0 54.8 19.7 55.7 18.3 56.4 16.8 56.9 15.4 57.4 13.9 57.7 12.3 57.8 10.6 57.4 9.0 57.1 7.6 57.4 6.1 57.9 4.7 59.1 3.2 61.4 1.7 63.2 0.0 64.9 -1.7 64.3 -3.4 64.1 -5.0 64.1 -6.7 63.9 -8.3 63.4 -9.9 62.8 -11.5 62.2 -13.1 61.5 -14.6 60.7 -16.1 60.3 -17.9 60.3 -19.6 60.3 -21.2 59.8 -22.4 58.4 -23.5 56.8 -24.7 55.6 -26.0 54.5 -27.2 53.4 -28.3 52.2 -29.4 50.9 -30.5 49.8 -31.9 49.1 -33.4 48.6 -34.8 47.9 -36.0 46.9 -37.1 45.9 -38.3 44.9 -39.4 43.7 -40.3 42.4 -41.3 41.3 -43.1 40.9 -45.0 40.5 -46.8 40.0 -47.3 38.3 -47.7 36.6 -49.7 36.1 -51.6 35.5 -52.8 34.3 -53.6 32.9 -54.5 31.5 -55.1 29.9 -55.4 28.2 -55.3 26.4 -55.1 24.5 -55.0 22.8 -54.9 21.1 -55.4 19.6 -56.5 18.4 -57.4 17.0 -58.5 15.7 -59.5 14.3 -60.4 12.8 -60.9 11.3 -61.1 9.7 -60.8 8.0 -59.7 6.3 -59.5 4.7 -60.9 3.2 -62.2 1.6 -63.1 0.0 -61.2 -1.6 -59.3 -3.1 -57.3 -4.5 -57.3 -6.0 -58.0 -7.6 -58.7 -9.3 -59.6 -11.0 -59.9 -12.7 -60.1 -14.4 -60.0 -16.1 -59.7 -17.7 -59.3 -19.3 -58.9 -20.9 -58.7 -22.5 -58.4 -24.2 -57.9 -25.8 -57.4 -27.4 -56.9 -29.0 -56.4 -30.6 -55.8 -32.2 -55.0 -33.7 -54.3 -35.2 -53.4 -36.7 -52.3 -38.0 -51.1 -39.2 -50.1 -40.6 -49.1 -42.0 -48.1 -43.3 -46.5 -44.1 -45.0 -45.0 -43.5 -45.8 -41.7 -46.3 -40.2 -47.0 -38.8 -47.9 -37.6 -49.0 -36.4 -50.1 -35.0 -50.9 -33.6 -51.8 -32.4 -52.9 -31.3 -54.2 -30.0 -55.3 -28.6 -56.1 -27.1 -56.8 -25.7 -57.6 -24.2 -58.5 -22.8 -59.5 -21.3 -60.3 -19.7 -60.5 -17.9 -60.3 -16.0 -59.8 -14.5 -60.4 -13.0 -61.3 -11.5 -62.2 -9.9 -62.7 -8.2 -62.5 -6.4 -61.3 -4.7 -60.3 -3.2 -60.1 -1.6 -60.6Z" fill="none" stroke="#6f6ff2" stroke-width="0.45"/><circle r="65.50" fill="none" stroke="#1a1a1a" stroke-width="0.9"/><circle r="46.40" fill="none" stroke="#555" stroke-width="0.7"/><g stroke="#3a3a3a" stroke-width="0.5"><line x1="-6.2" y1="-46.0" x2="-6.7" y2="-49.6"/><line x1="3.5" y1="-46.3" x2="3.6" y2="-48.0"/><line x1="-5.4" y1="-46.1" x2="-5.5" y2="-47.3"/><line x1="-4.9" y1="-46.1" x2="-5.4" y2="-50.5"/><line x1="-4.0" y1="-46.2" x2="-4.4" y2="-50.3"/><line x1="-5.7" y1="-46.0" x2="-6.0" y2="-48.2"/></g><g fill="none"><path d="M-24.2 -39.6Q-0.0 0.0 10.1 45.3" stroke="#f58c72" stroke-width="0.60" stroke-opacity="0.80"/><path d="M-23.9 -39.8Q0.0 -0.0 46.0 -6.1" stroke="#f58c72" stroke-width="0.60" stroke-opacity="0.70"/></g></g>
<g transform="translate(892.30 261.80)"><g stroke="#d8d8d8" stroke-width="0.5"><line x1="18.4" y1="-77.9" x2="18.7" y2="-79.3"/><line x1="33.1" y1="-72.8" x2="33.7" y2="-74.2"/><line x1="46.5" y1="-65.1" x2="47.4" y2="-66.3"/><line x1="64.1" y1="-47.9" x2="65.3" y2="-48.8"/><line x1="75.6" y1="-26.1" x2="77.1" y2="-26.6"/><line x1="79.3" y1="-10.8" x2="80.8" y2="-11.0"/><line x1="79.7" y1="6.8" x2="81.2" y2="6.9"/><line x1="75.9" y1="25.3" x2="77.3" y2="25.8"/><line x1="68.9" y1="40.6" x2="70.2" y2="41.4"/><line x1="67.7" y1="42.5" x2="69.0" y2="43.3"/><line x1="66.6" y1="44.4" x2="67.8" y2="45.2"/><line x1="64.8" y1="46.9" x2="66.0" y2="47.8"/><line x1="63.6" y1="48.5" x2="64.8" y2="49.4"/><line x1="45.9" y1="65.5" x2="46.7" y2="66.8"/><line x1="23.0" y1="76.6" x2="23.4" y2="78.1"/><line x1="10.8" y1="79.3" x2="11.0" y2="80.8"/><line x1="-1.4" y1="80.0" x2="-1.4" y2="81.5"/><line x1="-5.6" y1="79.8" x2="-5.7" y2="81.3"/><line x1="-18.2" y1="77.9" x2="-18.5" y2="79.4"/><line x1="-38.2" y1="70.3" x2="-39.0" y2="71.6"/><line x1="-49.0" y1="63.2" x2="-50.0" y2="64.4"/><line x1="-53.8" y1="59.2" x2="-54.9" y2="60.3"/><line x1="-58.3" y1="54.8" x2="-59.4" y2="55.8"/><line x1="-61.9" y1="50.7" x2="-63.1" y2="51.6"/><line x1="-74.6" y1="28.9" x2="-76.0" y2="29.5"/><line x1="-79.8" y1="5.8" x2="-81.3" y2="5.9"/><line x1="-76.2" y1="-24.4" x2="-77.6" y2="-24.8"/><line x1="-58.4" y1="-54.7" x2="-59.5" y2="-55.7"/><line x1="-51.9" y1="-60.9" x2="-52.9" y2="-62.0"/><line x1="-36.6" y1="-71.2" x2="-37.3" y2="-72.5"/><line x1="-18.4" y1="-77.8" x2="-18.8" y2="-79.3"/><line x1="29.6" y1="-74.3" x2="34.8" y2="-87.3"/><line x1="55.0" y1="-58.1" x2="64.7" y2="-68.2"/><line x1="72.6" y1="-33.6" x2="85.3" y2="-39.5"/><line x1="79.9" y1="-4.3" x2="93.9" y2="-5.1"/><line x1="75.8" y1="25.6" x2="89.1" y2="30.0"/><line x1="61.0" y1="51.8" x2="71.6" y2="60.9"/><line x1="37.4" y1="70.7" x2="44.0" y2="83.1"/><line x1="8.6" y1="79.5" x2="10.1" y2="93.5"/><line x1="-21.4" y1="77.1" x2="-25.2" y2="90.6"/><line x1="-48.4" y1="63.7" x2="-56.9" y2="74.8"/><line x1="-68.6" y1="41.2" x2="-80.6" y2="48.4"/><line x1="-79.0" y1="12.9" x2="-92.8" y2="15.1"/><line x1="-78.1" y1="-17.3" x2="-91.8" y2="-20.3"/><line x1="-66.2" y1="-44.9" x2="-77.8" y2="-52.8"/><line x1="-44.8" y1="-66.3" x2="-52.7" y2="-77.8"/><line x1="-17.1" y1="-78.1" x2="-20.1" y2="-91.8"/></g><g font-size="3.4" fill="#383838"><text transform="translate(18.9 -79.8) rotate(-76.7)" dy="1.2">MT-TF</text><text transform="translate(33.9 -74.7) rotate(-65.6)" dy="1.2">MT-RNR1</text><text transform="translate(47.7 -66.7) rotate(-54.5)" dy="1.2">MT-TV</text><text transform="translate(65.7 -49.1) rotate(-36.8)" dy="1.2">MT-RNR2</text><text transform="translate(77.5 -26.7) rotate(-19.0)" dy="1.2">MT-TL1</text><text transform="translate(81.2 -11.1) rotate(-7.8)" dy="1.2">MT-ND1</text><text transform="translate(81.7 6.9) rotate(4.9)" dy="1.2">MT-TI</text><text transform="translate(77.8 25.9) rotate(18.4)" dy="1.2">MT-ND2</text><text transform="translate(70.7 41.6) rotate(30.5)" dy="1.2">MT-TW</text><text transform="translate(69.4 43.6) rotate(32.1)" dy="1.2">MT-TA</text><text transform="translate(68.2 45.5) rotate(33.7)" dy="1.2">MT-TN</text><text transform="translate(66.4 48.1) rotate(35.9)" dy="1.2">MT-TC</text><text transform="translate(65.2 49.7) rotate(37.3)" dy="1.2">MT-TY</text><text transform="translate(47.0 67.2) rotate(55.0)" dy="1.2">MT-CO1</text><text transform="translate(23.6 78.5) rotate(73.3)" dy="1.2">MT-TS1</text><text transform="translate(11.1 81.2) rotate(82.2)" dy="1.2">MT-CO2</text><text transform="translate(-1.4 82.0) rotate(271.0)" text-anchor="end" dy="1.2">MT-TK</text><text transform="translate(-5.7 81.8) rotate(274.0)" text-anchor="end" dy="1.2">MT-ATP8</text><text transform="translate(-18.6 79.9) rotate(283.1)" text-anchor="end" dy="1.2">MT-ATP6</text><text transform="translate(-39.2 72.0) rotate(298.5)" text-anchor="end" dy="1.2">MT-CO3</text><text transform="translate(-50.3 64.8) rotate(307.8)" text-anchor="end" dy="1.2">MT-TG</text><text transform="translate(-55.2 60.6) rotate(312.3)" text-anchor="end" dy="1.2">MT-ND3</text><text transform="translate(-59.7 56.2) rotate(316.8)" text-anchor="end" dy="1.2">MT-TR</text><text transform="translate(-63.5 51.9) rotate(320.7)" text-anchor="end" dy="1.2">MT-ND4L</text><text transform="translate(-76.5 29.6) rotate(338.8)" text-anchor="end" dy="1.2">MT-ND4</text><text transform="translate(-81.8 5.9) rotate(355.9)" text-anchor="end" dy="1.2">MT-TH</text><text transform="translate(-78.1 -25.0) rotate(377.7)" text-anchor="end" dy="1.2">MT-ND5</text><text transform="translate(-59.9 -56.0) rotate(403.1)" text-anchor="end" dy="1.2">MT-ND6</text><text transform="translate(-53.2 -62.4) rotate(409.6)" text-anchor="end" dy="1.2">MT-TE</text><text transform="translate(-37.5 -72.9) rotate(422.8)" text-anchor="end" dy="1.2">MT-CYB</text><text transform="translate(-18.9 -79.8) rotate(436.7)" text-anchor="end" dy="1.2">MT-TT</text><text transform="translate(35.0 -87.8) rotate(-68.3)" dy="1.2">1000</text><text transform="translate(65.0 -68.6) rotate(-46.5)" dy="1.2">2000</text><text transform="translate(85.8 -39.7) rotate(-24.8)" dy="1.2">3000</text><text transform="translate(94.4 -5.1) rotate(-3.1)" dy="1.2">4000</text><text transform="translate(89.5 30.2) rotate(18.6)" dy="1.2">5000</text><text transform="translate(72.0 61.2) rotate(40.4)" dy="1.2">6000</text><text transform="translate(44.2 83.5) rotate(62.1)" dy="1.2">7000</text><text transform="translate(10.2 94.0) rotate(83.8)" dy="1.2">8000</text><text transform="translate(-25.3 91.0) rotate(285.5)" text-anchor="end" dy="1.2">9000</text><text transform="translate(-57.2 75.2) rotate(307.3)" text-anchor="end" dy="1.2">10000</text><text transform="translate(-81.0 48.7) rotate(329.0)" text-anchor="end" dy="1.2">11000</text><text transform="translate(-93.3 15.2) rotate(350.7)" text-anchor="end" dy="1.2">12000</text><text transform="translate(-92.3 -20.4) rotate(372.5)" text-anchor="end" dy="1.2">13000</text><text transform="translate(-78.2 -53.1) rotate(394.2)" text-anchor="end" dy="1.2">14000</text><text transform="translate(-53.0 -78.3) rotate(415.9)" text-anchor="end" dy="1.2">15000</text><text transform="translate(-20.2 -92.3) rotate(437.6)" text-anchor="end" dy="1.2">16000</text></g><circle r="70.85" fill="none" stroke="url(#tube)" stroke-width="9.70"/><circle r="77.35" fill="none" stroke="#6cc06c" stroke-width="3.30"/><path d="M-16.21 -77.32A79.00 79.00 0 0 1 17.12 -77.12L16.40 -73.90A75.70 75.70 0 0 0 -15.53 -74.09Z" fill="#464646"/><path d="M17.09 -77.13A79.00 79.00 0 0 1 19.24 -76.62L18.44 -73.42A75.70 75.70 0 0 0 16.38 -73.91Z" fill="#f07f2a"/><path d="M19.22 -76.63A79.00 79.00 0 0 1 45.07 -64.88L43.19 -62.17A75.70 75.70 0 0 0 18.42 -73.43Z" fill="#9a97cc"/><path d="M45.03 -64.91A79.00 79.00 0 0 1 46.82 -63.63L44.86 -60.97A75.70 75.70 0 0 0 43.14 -62.20Z" fill="#f07f2a"/><path d="M46.78 -63.66A79.00 79.00 0 0 1 74.31 -26.82L71.21 -25.70A75.70 75.70 0 0 0 44.82 -61.00Z" fill="#9a97cc"/><path d="M74.32 -26.79A79.00 79.00 0 0 1 75.04 -24.69L71.91 -23.66A75.70 75.70 0 0 0 71.22 -25.67Z" fill="#f07f2a"/><path d="M78.92 3.62A79.00 79.00 0 0 1 78.39 9.76L75.12 9.36A75.70 75.70 0 0 0 75.62 3.47Z" fill="#f07f2a"/><path d="M68.63 39.13A79.00 79.00 0 0 1 67.51 41.03L64.69 39.32A75.70 75.70 0 0 0 65.76 37.49Z" fill="#f07f2a"/><path d="M67.48 41.08A79.00 79.00 0 0 1 66.31 42.94L63.54 41.15A75.70 75.70 0 0 0 64.66 39.36Z" fill="#f07f2a"/><path d="M66.33 42.90A79.00 79.00 0 0 1 65.11 44.74L62.39 42.87A75.70 75.70 0 0 0 63.56 41.11Z" fill="#f07f2a"/><path d="M64.65 45.40A79.00 79.00 0 0 1 63.36 47.19L60.71 45.22A75.70 75.70 0 0 0 61.95 43.50Z" fill="#f07f2a"/><path d="M63.51 46.98A79.00 79.00 0 0 1 62.18 48.73L59.58 46.70A75.70 75.70 0 0 0 60.86 45.02Z" fill="#f07f2a"/><path d="M24.70 75.04A79.00 79.00 0 0 1 20.71 76.24L19.85 73.05A75.70 75.70 0 0 0 23.67 71.91Z" fill="#f07f2a"/><path d="M-0.25 79.00A79.00 79.00 0 0 1 -2.45 78.96L-2.35 75.66A75.70 75.70 0 0 0 -0.23 75.70Z" fill="#f07f2a"/><path d="M-8.60 78.53A79.00 79.00 0 0 1 -27.08 74.22L-25.94 71.12A75.70 75.70 0 0 0 -8.24 75.25Z" fill="#1f8a3c"/><path d="M-47.55 63.09A79.00 79.00 0 0 1 -49.29 61.74L-47.23 59.16A75.70 75.70 0 0 0 -45.56 60.45Z" fill="#f07f2a"/><path d="M-56.80 54.91A79.00 79.00 0 0 1 -58.31 53.30L-55.87 51.08A75.70 75.70 0 0 0 -54.42 52.62Z" fill="#f07f2a"/><path d="M-63.84 46.53A79.00 79.00 0 0 1 -78.52 8.66L-75.24 8.30A75.70 75.70 0 0 0 -61.18 44.58Z" fill="#1f8a3c"/><path d="M-78.53 8.63A79.00 79.00 0 0 1 -78.95 2.72L-75.66 2.60A75.70 75.70 0 0 0 -75.25 8.27Z" fill="#f07f2a"/><path d="M-62.74 -48.00A79.00 79.00 0 0 1 -52.03 -59.45L-49.86 -56.96A75.70 75.70 0 0 0 -60.12 -46.00Z" fill="#1f8a3c"/><path d="M-52.07 -59.41A79.00 79.00 0 0 1 -50.39 -60.84L-48.29 -58.30A75.70 75.70 0 0 0 -49.90 -56.93Z" fill="#f07f2a"/><path d="M-20.18 -76.38A79.00 79.00 0 0 1 -16.24 -77.31L-15.56 -74.08A75.70 75.70 0 0 0 -19.33 -73.19Z" fill="#f07f2a"/><g stroke="#dddddd" stroke-width="0.5"><line x1="0.0" y1="-46.4" x2="0.0" y2="-65.0"/><line x1="17.2" y1="-43.1" x2="24.1" y2="-60.4"/><line x1="31.9" y1="-33.7" x2="44.7" y2="-47.2"/><line x1="42.1" y1="-19.5" x2="59.0" y2="-27.3"/><line x1="46.3" y1="-2.5" x2="64.9" y2="-3.5"/><line x1="44.0" y1="14.8" x2="61.6" y2="20.8"/><line x1="35.4" y1="30.1" x2="49.5" y2="42.1"/><line x1="21.7" y1="41.0" x2="30.4" y2="57.4"/><line x1="5.0" y1="46.1" x2="7.0" y2="64.6"/><line x1="-12.4" y1="44.7" x2="-17.4" y2="62.6"/><line x1="-28.1" y1="36.9" x2="-39.4" y2="51.7"/><line x1="-39.8" y1="23.9" x2="-55.7" y2="33.5"/><line x1="-45.8" y1="7.5" x2="-64.2" y2="10.5"/><line x1="-45.3" y1="-10.0" x2="-63.5" y2="-14.0"/><line x1="-38.4" y1="-26.1" x2="-53.8" y2="-36.5"/><line x1="-26.0" y1="-38.4" x2="-36.4" y2="-53.8"/><line x1="-9.9" y1="-45.3" x2="-13.9" y2="-63.5"/></g><line x1="11.5" y1="-78.7" x2="13.0" y2="-89.1" stroke="#111" stroke-width="0.9"/><line x1="65.5" y1="45.0" x2="77.6" y2="49.4" stroke="#111" stroke-width="0.7"/><path d="M0.0 -65.2 1.7 -65.2 3.4 -65.1 5.1 -65.0 6.8 -64.8 8.5 -64.6 10.2 -64.4 11.9 -64.1 13.6 -63.8 15.2 -63.4 16.9 -63.0 18.5 -62.5 20.1 -62.0 21.8 -61.5 23.4 -60.9 25.0 -60.2 26.5 -59.6 28.1 -58.8 29.6 -58.1 31.1 -57.3 32.6 -56.5 34.1 -55.6 35.5 -54.7 36.9 -53.7 38.3 -52.7 39.7 -51.7 41.0 -50.7 42.3 -49.6 43.6 -48.5 44.9 -47.3 46.1 -46.1 47.3 -44.9 48.5 -43.6 49.6 -42.3 50.7 -41.0 51.7 -39.7 52.7 -38.3 53.7 -36.9 54.7 -35.5 55.6 -34.1 56.5 -32.6 57.3 -31.1 58.1 -29.6 58.8 -28.1 59.6 -26.5 60.2 -25.0 60.9 -23.4 61.5 -21.8 62.0 -20.1 62.5 -18.5 63.0 -16.9 63.4 -15.2 63.8 -13.6 64.1 -11.9 64.4 -10.2 64.6 -8.5 64.8 -6.8 65.0 -5.1 65.1 -3.4 65.2 -1.7 65.2 -0.0 65.2 1.7 65.1 3.4 65.0 5.1 64.8 6.8 64.6 8.5 64.4 10.2 64.1 11.9 63.8 13.6 63.4 15.2 63.0 16.9 62.5 18.5 62.0 20.1 61.5 21.8 60.9 23.4 60.2 25.0 59.6 26.5 58.8 28.1 58.1 29.6 57.3 31.1 56.5 32.6 55.6 34.1 54.7 35.5 53.7 36.9 52.7 38.3 51.7 39.7 50.7 41.0 49.6 42.3 48.5 43.6 47.3 44.9 46.1 46.1 44.9 47.3 43.6 48.5 42.3 49.6 41.0 50.7 39.7 51.7 38.3 52.7 36.9 53.7 35.5 54.7 34.1 55.6 32.6 56.5 31.1 57.3 29.6 58.1 28.1 58.8 26.5 59.6 25.0 60.2 23.4 60.9 21.8 61.5 20.1 62.0 18.5 62.5 16.9 63.0 15.2 63.4 13.6 63.8 11.9 64.1 10.2 64.4 8.5 64.6 6.8 64.8 5.1 65.0 3.4 65.1 1.7 65.2 0.0 65.2 -1.7 65.2 -3.4 65.1 -5.1 65.0 -6.8 64.8 -8.5 64.6 -10.2 64.4 -11.9 64.1 -13.6 63.8 -15.2 63.4 -16.9 63.0 -18.5 62.5 -20.1 62.0 -21.8 61.5 -23.4 60.9 -25.0 60.2 -26.5 59.6 -28.1 58.8 -29.6 58.1 -31.1 57.3 -32.6 56.5 -34.1 55.6 -35.5 54.7 -36.9 53.7 -38.3 52.7 -39.7 51.7 -41.0 50.7 -42.3 49.6 -43.6 48.5 -44.9 47.3 -46.1 46.1 -47.3 44.9 -48.5 43.6 -49.6 42.3 -50.7 41.0 -51.7 39.7 -52.7 38.3 -53.7 36.9 -54.7 35.5 -55.6 34.1 -56.5 32.6 -57.3 31.1 -58.1 29.6 -58.8 28.1 -59.6 26.5 -60.2 25.0 -60.9 23.4 -61.5 21.8 -62.0 20.1 -62.5 18.5 -63.0 16.9 -63.4 15.2 -63.8 13.6 -64.1 11.9 -64.4 10.2 -64.6 8.5 -64.8 6.8 -65.0 5.1 -65.1 3.4 -65.2 1.7 -65.2 0.0 -65.2 -1.7 -65.1 -3.4 -65.0 -5.1 -64.8 -6.8 -64.6 -8.5 -64.4 -10.2 -64.1 -11.9 -63.8 -13.6 -63.4 -15.2 -63.0 -16.9 -62.5 -18.5 -62.0 -20.1 -61.5 -21.8 -60.9 -23.4 -60.2 -25.0 -59.6 -26.5 -58.8 -28.1 -58.1 -29.6 -57.3 -31.1 -56.5 -32.6 -55.6 -34.1 -54.7 -35.5 -53.7 -36.9 -52.7 -38.3 -51.7 -39.7 -50.7 -41.0 -49.6 -42.3 -48.5 -43.6 -47.3 -44.9 -46.1 -46.1 -44.9 -47.3 -43.6 -48.5 -42.3 -49.6 -41.0 -50.7 -39.7 -51.7 -38.3 -52.7 -36.9 -53.7 -35.5 -54.7 -34.1 -55.6 -32.6 -56.5 -31.1 -57.3 -29.6 -58.1 -28.1 -58.8 -26.5 -59.6 -25.0 -60.2 -23.4 -60.9 -21.8 -61.5 -20.1 -62.0 -18.5 -62.5 -16.9 -63.0 -15.2 -63.4 -13.6 -63.8 -11.9 -64.1 -10.2 -64.4 -8.5 -64.6 -6.8 -64.8 -5.1 -65.0 -3.4 -65.1 -1.7 -65.2ZM-1.6 -60.9 -3.2 -60.6 -4.8 -61.0 -6.5 -62.2 -8.3 -63.1 -9.9 -62.6 -11.5 -61.9 -13.1 -61.5 -14.6 -60.8 -16.0 -59.8 -17.6 -59.5 -19.3 -59.5 -21.1 -59.6 -22.7 -59.2 -24.2 -58.5 -25.8 -57.9 -27.3 -57.3 -28.9 -56.7 -30.3 -55.8 -31.6 -54.7 -32.8 -53.6 -34.1 -52.5 -35.2 -51.2 -36.3 -50.0 -37.5 -48.8 -38.8 -47.9 -40.1 -47.0 -41.4 -46.0 -43.2 -45.5 -44.9 -44.9 -46.7 -44.4 -48.4 -43.5 -49.3 -42.1 -50.2 -40.7 -51.2 -39.3 -52.3 -38.0 -53.3 -36.6 -54.4 -35.3 -55.5 -34.0 -56.3 -32.5 -56.6 -30.7 -56.9 -29.0 -57.4 -27.4 -57.9 -25.8 -58.2 -24.1 -58.3 -22.4 -58.6 -20.7 -59.2 -19.2 -59.9 -17.7 -60.3 -16.2 -60.4 -14.5 -60.4 -12.8 -60.4 -11.2 -59.8 -9.5 -58.7 -7.7 -57.6 -6.1 -57.2 -4.5 -58.7 -3.1 -60.4 -1.6 -62.3 0.0 -61.5 1.6 -60.6 3.2 -59.4 4.7 -59.7 6.3 -60.7 8.0 -60.9 9.6 -60.4 11.2 -59.8 12.7 -59.2 14.2 -58.7 15.7 -58.0 17.2 -57.0 18.5 -55.8 19.8 -55.6 21.3 -55.8 23.1 -55.7 24.8 -55.4 26.4 -55.2 28.1 -54.8 29.7 -54.2 31.3 -53.4 32.7 -52.7 34.2 -51.7 35.5 -49.6 36.0 -47.4 36.4 -46.9 37.9 -46.6 39.8 -45.0 40.5 -43.5 41.3 -41.8 41.8 -40.7 42.9 -39.5 43.8 -38.1 44.6 -36.8 45.5 -35.6 46.5 -34.4 47.4 -33.1 48.1 -31.7 48.8 -30.5 49.7 -29.5 51.1 -28.4 52.4 -27.3 53.6 -26.1 54.7 -24.9 55.8 -23.6 56.9 -22.3 58.0 -20.9 59.0 -19.4 59.7 -17.9 60.3 -16.3 61.0 -14.8 61.6 -13.2 62.1 -11.6 62.5 -10.0 63.2 -8.4 63.9 -6.8 64.4 -5.1 64.5 -3.4 64.6 -1.7 64.9 0.0 65.0 1.6 62.4 3.1 59.8 4.5 57.6 6.0 57.3 7.6 57.7 9.1 57.6 10.6 57.3 12.2 57.2 13.8 57.3 15.3 57.2 16.8 56.8 18.3 56.3 19.8 55.9 21.3 55.6 22.8 55.1 24.2 54.5 25.7 53.8 27.1 53.1 28.4 52.3 29.8 51.7 31.5 51.4 33.3 51.3 35.0 50.9 36.5 50.2 37.9 49.4 39.4 48.7 40.8 47.8 41.8 46.4 42.6 44.9 43.4 43.4 44.1 41.9 44.7 40.2 45.3 38.7 46.6 37.8 48.1 36.9 49.4 35.9 50.5 34.7 51.7 33.6 53.0 32.5 54.4 31.4 55.5 30.1 56.7 28.9 57.6 27.5 58.1 25.9 58.6 24.3 59.5 22.8 60.6 21.4 61.4 19.9 61.9 18.3 62.3 16.7 62.7 15.1 63.1 13.4 63.4 11.8 63.4 10.0 63.0 8.3 62.3 6.6 61.8 4.9 61.7 3.2 61.8 1.6 61.3 -0.0 61.1 -1.6 61.1 -3.2 61.3 -4.8 61.4 -6.5 61.4 -8.1 61.7 -9.8 62.2 -11.5 62.3 -13.2 61.8 -14.8 61.4 -16.5 61.0 -18.1 60.7 -19.7 60.1 -21.3 59.4 -22.8 58.7 -24.3 57.9 -25.8 56.6 -27.0 54.9 -28.0 53.5 -29.0 52.3 -30.2 51.1 -31.3 49.6 -32.2 48.0 -33.0 47.0 -34.1 46.1 -35.4 45.3 -36.7 44.8 -38.2 44.2 -39.8 43.5 -41.3 42.6 -42.6 41.7 -43.9 40.7 -45.2 39.7 -46.5 38.9 -48.1 38.2 -49.8 37.3 -51.4 36.1 -52.5 34.4 -53.0 32.9 -53.6 31.2 -54.0 29.4 -54.1 27.6 -54.3 26.3 -55.1 24.9 -55.9 23.3 -56.3 21.7 -56.6 20.3 -57.4 19.0 -58.5 17.6 -59.4 16.2 -60.4 14.7 -61.3 13.3 -62.5 11.8 -63.8 10.1 -63.9 8.3 -63.2 6.6 -62.5 4.9 -61.9 3.2 -61.6 1.6 -61.4 0.0 -61.1Z" fill="#98c8f8" fill-rule="evenodd"/><path d="M0.0 -61.1 1.6 -61.4 3.2 -61.6 4.9 -61.9 6.6 -62.5 8.3 -63.2 10.1 -63.9 11.8 -63.8 13.3 -62.5 14.7 -61.3 16.2 -60.4 17.6 -59.4 19.0 -58.5 20.3 -57.4 21.7 -56.6 23.3 -56.3 24.9 -55.9 26.3 -55.1 27.6 -54.3 29.4 -54.1 31.2 -54.0 32.9 -53.6 34.4 -53.0 36.1 -52.5 37.3 -51.4 38.2 -49.8 38.9 -48.1 39.7 -46.5 40.7 -45.2 41.7 -43.9 42.6 -42.6 43.5 -41.3 44.2 -39.8 44.8 -38.2 45.3 -36.7 46.1 -35.4 47.0 -34.1 48.0 -33.0 49.6 -32.2 51.1 -31.3 52.3 -30.2 53.5 -29.0 54.9 -28.0 56.6 -27.0 57.9 -25.8 58.7 -24.3 59.4 -22.8 60.1 -21.3 60.7 -19.7 61.0 -18.1 61.4 -16.5 61.8 -14.8 62.3 -13.2 62.2 -11.5 61.7 -9.8 61.4 -8.1 61.4 -6.5 61.3 -4.8 61.1 -3.2 61.1 -1.6 61.3 -0.0 61.8 1.6 61.7 3.2 61.8 4.9 62.3 6.6 63.0 8.3 63.4 10.0 63.4 11.8 63.1 13.4 62.7 15.1 62.3 16.7 61.9 18.3 61.4 19.9 60.6 21.4 59.5 22.8 58.6 24.3 58.1 25.9 57.6 27.5 56.7 28.9 55.5 30.1 54.4 31.4 53.0 32.5 51.7 33.6 50.5 34.7 49.4 35.9 48.1 36.9 46.6 37.8 45.3 38.7 44.7 40.2 44.1 41.9 43.4 43.4 42.6 44.9 41.8 46.4 40.8 47.8 39.4 48.7 37.9 49.4 36.5 50.2 35.0 50.9 33.3 51.3 31.5 51.4 29.8 51.7 28.4 52.3 27.1 53.1 25.7 53.8 24.2 54.5 22.8 55.1 21.3 55.6 19.8 55.9 18.3 56.3 16.8 56.8 15.3 57.2 13.8 57.3 12.2 57.2 10.6 57.3 9.1 57.6 7.6 57.7 6.0 57.3 4.5 57.6 3.1 59.8 1.6 62.4 0.0 65.0 -1.7 64.9 -3.4 64.6 -5.1 64.5 -6.8 64.4 -8.4 63.9 -10.0 63.2 -11.6 62.5 -13.2 62.1 -14.8 61.6 -16.3 61.0 -17.9 60.3 -19.4 59.7 -20.9 59.0 -22.3 58.0 -23.6 56.9 -24.9 55.8 -26.1 54.7 -27.3 53.6 -28.4 52.4 -29.5 51.1 -30.5 49.7 -31.7 48.8 -33.1 48.1 -34.4 47.4 -35.6 46.5 -36.8 45.5 -38.1 44.6 -39.5 43.8 -40.7 42.9 -41.8 41.8 -43.5 41.3 -45.0 40.5 -46.6 39.8 -46.9 37.9 -47.4 36.4 -49.6 36.0 -51.7 35.5 -52.7 34.2 -53.4 32.7 -54.2 31.3 -54.8 29.7 -55.2 28.1 -55.4 26.4 -55.7 24.8 -55.8 23.1 -55.6 21.3 -55.8 19.8 -57.0 18.5 -58.0 17.2 -58.7 15.7 -59.2 14.2 -59.8 12.7 -60.4 11.2 -60.9 9.6 -60.7 8.0 -59.7 6.3 -59.4 4.7 -60.6 3.2 -61.5 1.6 -62.3 0.0 -60.4 -1.6 -58.7 -3.1 -57.2 -4.5 -57.6 -6.1 -58.7 -7.7 -59.8 -9.5 -60.4 -11.2 -60.4 -12.8 -60.4 -14.5 -60.3 -16.2 -59.9 -17.7 -59.2 -19.2 -58.6 -20.7 -58.3 -22.4 -58.2 -24.1 -57.9 -25.8 -57.4 -27.4 -56.9 -29.0 -56.6 -30.7 -56.3 -32.5 -55.5 -34.0 -54.4 -35.3 -53.3 -36.6 -52.3 -38.0 -51.2 -39.3 -50.2 -40.7 -49.3 -42.1 -48.4 -43.5 -46.7 -44.4 -44.9 -44.9 -43.2 -45.5 -41.4 -46.0 -40.1 -47.0 -38.8 -47.9 -37.5 -48.8 -36.3 -50.0 -35.2 -51.2 -34.1 -52.5 -32.8 -53.6 -31.6 -54.7 -30.3 -55.8 -28.9 -56.7 -27.3 -57.3 -25.8 -57.9 -24.2 -58.5 -22.7 -59.2 -21.1 -59.6 -19.3 -59.5 -17.6 -59.5 -16.0 -59.8 -14.6 -60.8 -13.1 -61.5 -11.5 -61.9 -9.9 -62.6 -8.3 -63.1 -6.5 -62.2 -4.8 -61.0 -3.2 -60.6 -1.6 -60.9Z" fill="none" stroke="#3b63ec" stroke-width="0.55"/><path d="M0.0 -60.7 1.6 -61.0 3.2 -61.1 4.8 -61.4 6.5 -62.0 8.3 -62.9 10.1 -63.8 11.8 -63.9 13.3 -62.7 14.7 -61.4 16.2 -60.3 17.5 -59.2 18.9 -58.2 20.3 -57.2 21.7 -56.5 23.3 -56.3 24.9 -55.9 26.2 -55.0 27.5 -54.1 29.3 -53.9 31.2 -54.0 32.9 -53.7 34.4 -53.0 35.9 -52.3 37.1 -51.0 37.8 -49.3 38.6 -47.7 39.5 -46.3 40.5 -45.0 41.5 -43.7 42.4 -42.4 43.2 -41.0 44.0 -39.6 44.7 -38.2 45.4 -36.7 46.0 -35.3 46.8 -34.0 47.7 -32.8 49.3 -32.0 50.9 -31.2 52.3 -30.2 53.4 -29.0 54.7 -27.9 56.3 -26.8 57.6 -25.6 58.5 -24.2 59.4 -22.8 60.3 -21.4 60.9 -19.8 61.1 -18.1 61.5 -16.5 61.8 -14.8 62.3 -13.2 62.0 -11.5 61.3 -9.7 60.8 -8.0 60.7 -6.4 60.6 -4.8 60.5 -3.2 60.8 -1.6 61.0 -0.0 61.6 1.6 61.6 3.2 61.6 4.8 62.1 6.5 62.7 8.3 63.1 10.0 63.3 11.7 63.1 13.4 62.9 15.1 62.5 16.7 62.0 18.4 61.3 19.9 60.4 21.4 59.3 22.8 58.5 24.2 58.1 25.9 57.5 27.4 56.5 28.8 55.2 29.9 54.0 31.2 52.7 32.3 51.4 33.4 50.3 34.6 49.3 35.8 48.0 36.8 46.4 37.6 45.1 38.5 44.6 40.1 44.0 41.7 43.2 43.2 42.2 44.5 41.3 45.9 40.4 47.3 39.1 48.3 37.8 49.3 36.6 50.4 35.2 51.2 33.5 51.5 31.5 51.4 29.7 51.5 28.3 52.1 27.0 53.0 25.7 53.8 24.3 54.6 22.9 55.3 21.4 55.6 19.7 55.8 18.2 55.9 16.6 56.2 15.2 56.6 13.6 56.6 12.0 56.7 10.5 56.9 9.1 57.4 7.6 57.5 6.0 57.1 4.5 57.2 3.1 59.3 1.6 62.0 0.0 64.9 -1.7 65.0 -3.4 64.9 -5.1 64.8 -6.8 64.6 -8.4 63.9 -10.0 62.9 -11.5 62.2 -13.1 61.7 -14.7 61.2 -16.2 60.5 -17.7 59.8 -19.2 59.2 -20.8 58.7 -22.3 58.0 -23.6 57.0 -24.9 56.0 -26.1 54.8 -27.3 53.5 -28.3 52.2 -29.4 50.9 -30.4 49.6 -31.5 48.6 -32.8 47.8 -34.1 47.0 -35.4 46.1 -36.6 45.2 -38.0 44.5 -39.4 43.7 -40.6 42.8 -41.6 41.6 -43.2 41.0 -44.9 40.4 -46.6 39.8 -47.0 38.1 -47.5 36.5 -49.6 36.0 -51.5 35.4 -52.4 34.0 -53.0 32.5 -53.8 31.0 -54.5 29.6 -55.0 28.0 -55.4 26.4 -55.7 24.8 -55.6 23.0 -55.3 21.2 -55.4 19.6 -56.5 18.4 -57.8 17.1 -58.9 15.8 -59.6 14.3 -60.0 12.8 -60.3 11.2 -60.5 9.6 -60.2 7.9 -59.2 6.2 -59.1 4.7 -60.4 3.2 -61.2 1.6 -61.7 0.0 -59.8 -1.6 -58.3 -3.1 -57.0 -4.5 -57.5 -6.0 -58.7 -7.7 -59.6 -9.4 -60.2 -11.2 -60.3 -12.8 -60.4 -14.5 -60.4 -16.2 -60.1 -17.8 -59.4 -19.3 -58.6 -20.8 -58.3 -22.4 -58.0 -24.0 -57.6 -25.6 -56.8 -27.1 -56.1 -28.6 -55.8 -30.3 -55.8 -32.2 -55.3 -33.9 -54.4 -35.3 -53.4 -36.7 -52.3 -38.0 -51.3 -39.3 -50.3 -40.7 -49.4 -42.2 -48.3 -43.5 -46.6 -44.2 -44.6 -44.6 -42.7 -45.0 -41.0 -45.6 -39.9 -46.7 -38.8 -47.9 -37.6 -49.1 -36.5 -50.2 -35.3 -51.4 -34.0 -52.4 -32.6 -53.3 -31.2 -54.1 -29.9 -55.0 -28.4 -55.8 -27.0 -56.5 -25.6 -57.4 -24.2 -58.5 -22.8 -59.5 -21.2 -59.9 -19.4 -59.7 -17.7 -59.6 -16.0 -59.9 -14.6 -61.0 -13.1 -61.7 -11.5 -62.1 -9.9 -62.6 -8.3 -62.8 -6.5 -61.7 -4.8 -60.4 -3.1 -60.1 -1.6 -60.5Z" fill="none" stroke="#6f6ff2" stroke-width="0.45"/><circle r="65.50" fill="none" stroke="#1a1a1a" stroke-width="0.8" stroke-dasharray="194.3 217.2" transform="rotate(235.0)"/><path d="M46.3 46.3 L45.5 48.1 L44.3 49.4 L42.8 50.5 L41.5 51.8 L40.3 53.4 L39.1 54.8 L37.5 55.8 L35.9 56.7 L34.4 57.8 L33.0 59.2 L31.5 60.3 L29.8 61.1 L28.0 61.7 L26.4 62.7 L24.8 63.8 L23.1 64.7 L21.3 65.1 L19.4 65.6 L17.7 66.3 L15.9 67.3 L14.1 67.8 L12.2 67.9 L10.3 68.1 L8.4 68.7 L6.6 69.3 L4.7 69.5 L2.7 69.4 L0.8 69.4 L-1.1 69.7 L-3.1 70.0 L-5.0 69.9 L-6.9 69.4 L-8.8 69.2 L-10.8 69.3 L-12.7 69.3 L-14.6 68.8 L-16.5 68.1 L-18.3 67.7 L-20.3 67.6 L-22.3 67.2 L-24.0 66.3 L-25.8 65.4 L-27.6 64.8 L-29.6 64.4 L-31.4 63.7 L-33.0 62.5 L-34.6 61.4 L-36.4 60.6 L-38.3 59.9 L-39.9 58.8 L-41.4 57.5 L-42.8 56.1 L-44.5 55.1 L-46.3 54.2 L-47.7 52.8 L-48.9 51.2 L-50.2 49.8 L-51.8 48.6 L-53.3 47.3 L-54.5 45.7 L-55.5 44.0 L-56.6 42.4 L-58.0 41.0 L-59.3 39.5 L-60.2 37.7 L-60.9 35.9 L-61.9 34.2 L-63.1 32.6 L-64.1 30.9 L-64.7 29.0 L-65.2 27.1 L-65.9 25.3 L-66.9 23.6 L-67.6 21.7 L-67.8 19.8 L-68.1 17.8 L-68.7 16.0 L-69.4 14.1 L-69.7 12.2 L-69.6 10.2 L-69.6 8.2 L-70.0 6.3 L-70.4 4.4 L-70.4 2.5 L-70.0 0.5 L-69.8 -1.4 L-70.0 -3.4 L-70.1 -5.3 L-69.7 -7.2 L-69.0 -9.1 L-68.6 -11.0 L-68.5 -12.9 L-68.3 -14.8 L-67.6 -16.6 L-66.6 -18.4 L-66.0 -20.2 L-65.7 -22.1 L-65.1 -23.9 L-64.1 -25.6 L-63.0 -27.2 L-62.2 -28.9 L-61.6 -30.7 L-60.7 -32.4 L-59.4 -33.9 L-58.1 -35.3 L-57.2 -36.9 L-56.3 -38.6 L-55.1 -40.1 L-53.6 -41.3 L-52.2 -42.5 L-51.1 -44.0 L-50.0 -45.5 L-48.5 -46.7 L-46.9 -47.7 L-45.3 -48.7 L-44.0 -50.0 L-42.7 -51.3 L-41.0 -52.2 L-39.2 -52.8 L-37.4 -53.4" fill="none" stroke="#1a1a1a" stroke-width="0.8"/><circle r="46.40" fill="none" stroke="#555" stroke-width="0.7"/><g stroke="#3a3a3a" stroke-width="0.5"><line x1="-3.0" y1="-46.3" x2="-3.2" y2="-49.4"/><line x1="4.2" y1="-46.2" x2="4.4" y2="-48.2"/><line x1="8.4" y1="-45.6" x2="8.9" y2="-48.2"/><line x1="5.5" y1="-46.1" x2="5.7" y2="-47.2"/><line x1="-3.1" y1="-46.3" x2="-3.2" y2="-47.4"/><line x1="6.0" y1="-46.0" x2="6.3" y2="-48.8"/><line x1="8.8" y1="-45.6" x2="9.4" y2="-48.6"/><line x1="-2.3" y1="-46.3" x2="-2.4" y2="-48.6"/><line x1="-1.4" y1="-46.4" x2="-1.5" y2="-48.1"/><line x1="-6.2" y1="-46.0" x2="-6.6" y2="-49.2"/></g><g fill="none"><path d="M-45.4 9.7Q-3.5 5.0 6.6 45.9" stroke="#f58c72" stroke-width="0.66" stroke-opacity="0.67"/><path d="M-45.5 8.9Q-3.1 4.5 7.6 45.8" stroke="#f58c72" stroke-width="0.56" stroke-opacity="0.65"/><path d="M-38.7 25.6Q-6.2 11.8 0.6 46.4" stroke="#f2603c" stroke-width="1.08" stroke-opacity="0.69"/><path d="M-42.2 -19.2Q-0.0 0.0 13.8 44.3" stroke="#f58c72" stroke-width="0.92" stroke-opacity="0.77"/><path d="M-34.7 30.8Q-5.8 13.7 2.2 46.3" stroke="#f58c72" stroke-width="0.75" stroke-opacity="0.94"/><path d="M-43.1 -17.2Q-0.0 0.0 11.4 45.0" stroke="#f58c72" stroke-width="1.08" stroke-opacity="0.78"/><path d="M-27.6 -37.3Q-0.0 0.0 20.2 41.8" stroke="#f2603c" stroke-width="0.66" stroke-opacity="0.51"/><path d="M-44.0 14.7Q-5.1 7.4 2.4 46.3" stroke="#f58c72" stroke-width="0.53" stroke-opacity="0.46"/><path d="M-46.3 -2.7Q-0.8 1.0 9.3 45.5" stroke="#f2603c" stroke-width="0.51" stroke-opacity="0.58"/><path d="M-31.6 -34.0Q-0.0 0.0 17.2 43.1" stroke="#f2603c" stroke-width="0.99" stroke-opacity="0.58"/><path d="M-42.0 -19.7Q-0.0 0.0 16.0 43.6" stroke="#f2603c" stroke-width="0.68" stroke-opacity="0.93"/><path d="M-42.8 17.8Q-4.6 7.9 5.4 46.1" stroke="#f2603c" stroke-width="1.02" stroke-opacity="0.79"/><path d="M-44.4 -13.6Q-0.0 0.0 10.2 45.3" stroke="#f2603c" stroke-width="1.05" stroke-opacity="0.84"/><path d="M-45.1 10.9Q-3.4 5.1 7.7 45.8" stroke="#f58c72" stroke-width="0.77" stroke-opacity="0.84"/><path d="M-42.6 -18.5Q-0.0 0.0 12.3 44.8" stroke="#f58c72" stroke-width="0.66" stroke-opacity="0.82"/><path d="M-24.5 -39.4Q-0.0 0.0 19.9 41.9" stroke="#f2603c" stroke-width="0.93" stroke-opacity="0.57"/><path d="M-39.1 25.0Q-5.8 11.2 2.2 46.3" stroke="#f58c72" stroke-width="0.94" stroke-opacity="0.69"/><path d="M-45.4 -9.7Q-0.0 0.0 14.0 44.2" stroke="#f2603c" stroke-width="0.57" stroke-opacity="0.61"/><path d="M-43.7 15.5Q-4.0 6.7 7.0 45.9" stroke="#f2603c" stroke-width="0.70" stroke-opacity="0.86"/><path d="M-27.8 -37.2Q-0.0 0.0 16.8 43.2" stroke="#f2603c" stroke-width="0.94" stroke-opacity="0.46"/><path d="M-43.6 15.9Q-5.4 8.0 1.4 46.4" stroke="#f58c72" stroke-width="1.01" stroke-opacity="0.55"/><path d="M-43.7 15.7Q-4.0 6.7 7.2 45.8" stroke="#f58c72" stroke-width="0.72" stroke-opacity="0.69"/><path d="M-40.0 23.5Q-4.9 9.9 5.4 46.1" stroke="#f2603c" stroke-width="1.06" stroke-opacity="0.78"/><path d="M-44.8 -12.0Q-0.0 0.0 14.7 44.0" stroke="#f2603c" stroke-width="0.72" stroke-opacity="0.77"/><path d="M-46.3 2.2Q-2.4 2.9 6.4 46.0" stroke="#f2603c" stroke-width="0.94" stroke-opacity="0.45"/><path d="M-40.3 22.9Q-6.2 10.7 0.6 46.4" stroke="#f58c72" stroke-width="0.68" stroke-opacity="0.55"/><path d="M-26.0 -38.4Q-0.0 0.0 19.7 42.0" stroke="#f2603c" stroke-width="0.55" stroke-opacity="0.94"/><path d="M-44.9 -11.6Q-0.0 0.0 13.1 44.5" stroke="#f58c72" stroke-width="0.72" stroke-opacity="0.74"/><path d="M-46.4 1.3Q-1.6 2.0 9.3 45.5" stroke="#f58c72" stroke-width="0.68" stroke-opacity="0.87"/><path d="M-38.7 -25.5Q-0.0 0.0 13.1 44.5" stroke="#f2603c" stroke-width="0.59" stroke-opacity="0.88"/><path d="M-40.2 -23.1Q-0.0 0.0 17.0 43.2" stroke="#f2603c" stroke-width="1.05" stroke-opacity="0.70"/><path d="M-41.6 20.6Q-4.9 8.9 5.1 46.1" stroke="#f58c72" stroke-width="0.98" stroke-opacity="0.57"/><path d="M-30.6 -34.9Q-0.0 0.0 21.6 41.1" stroke="#f2603c" stroke-width="0.92" stroke-opacity="0.77"/><path d="M-32.1 -33.5Q-0.0 0.0 15.9 43.6" stroke="#f2603c" stroke-width="0.94" stroke-opacity="0.87"/><path d="M-46.3 -3.0Q-1.3 1.5 6.9 45.9" stroke="#f2603c" stroke-width="0.94" stroke-opacity="0.83"/><path d="M-46.4 2.1Q-2.4 2.9 6.3 46.0" stroke="#f58c72" stroke-width="0.60" stroke-opacity="0.74"/><path d="M-46.1 -4.9Q-0.4 0.4 9.5 45.4" stroke="#f2603c" stroke-width="0.92" stroke-opacity="0.65"/><path d="M-39.2 -24.9Q-0.0 0.0 17.2 43.1" stroke="#f2603c" stroke-width="0.51" stroke-opacity="0.68"/><path d="M-43.0 -17.5Q-0.0 0.0 11.7 44.9" stroke="#f58c72" stroke-width="1.03" stroke-opacity="0.53"/><path d="M-39.3 24.6Q-5.7 11.0 2.6 46.3" stroke="#f58c72" stroke-width="0.96" stroke-opacity="0.48"/><path d="M-44.2 -14.2Q-0.0 0.0 13.5 44.4" stroke="#f58c72" stroke-width="0.56" stroke-opacity="0.53"/><path d="M-43.1 -17.3Q-0.0 0.0 14.4 44.1" stroke="#f58c72" stroke-width="0.80" stroke-opacity="0.62"/><path d="M-41.9 19.9Q-5.3 9.0 3.3 46.3" stroke="#f58c72" stroke-width="0.65" stroke-opacity="0.93"/><path d="M-45.9 -6.8Q-0.1 0.1 8.9 45.5" stroke="#f58c72" stroke-width="1.00" stroke-opacity="0.50"/><path d="M-25.9 -38.5Q-0.0 0.0 19.7 42.0" stroke="#f2603c" stroke-width="0.60" stroke-opacity="0.75"/><path d="M-36.1 29.2Q-6.2 13.3 1.0 46.4" stroke="#f2603c" stroke-width="0.53" stroke-opacity="0.68"/><path d="M-33.9 -31.7Q-0.0 0.0 16.2 43.5" stroke="#f2603c" stroke-width="1.06" stroke-opacity="0.84"/><path d="M-43.6 -15.8Q-0.0 0.0 12.4 44.7" stroke="#f58c72" stroke-width="0.58" stroke-opacity="0.71"/><path d="M-45.4 -9.8Q-0.0 0.0 14.4 44.1" stroke="#f58c72" stroke-width="0.91" stroke-opacity="0.62"/><path d="M-36.3 -28.9Q-0.0 0.0 17.0 43.2" stroke="#f2603c" stroke-width="0.94" stroke-opacity="0.72"/><path d="M-32.6 -33.0Q-0.0 0.0 18.2 42.7" stroke="#f2603c" stroke-width="0.55" stroke-opacity="0.83"/><path d="M-43.4 16.5Q-4.8 7.7 3.9 46.2" stroke="#f58c72" stroke-width="0.93" stroke-opacity="0.48"/><path d="M-33.9 -31.7Q-0.0 0.0 14.9 43.9" stroke="#f2603c" stroke-width="0.78" stroke-opacity="0.58"/><path d="M-46.3 -3.0Q-0.8 0.9 9.4 45.4" stroke="#f2603c" stroke-width="1.01" stroke-opacity="0.77"/><path d="M-46.3 2.4Q-2.5 3.0 6.2 46.0" stroke="#f2603c" stroke-width="1.03" stroke-opacity="0.88"/><path d="M-46.2 -3.9Q-0.0 0.0 12.3 44.7" stroke="#f2603c" stroke-width="0.56" stroke-opacity="0.72"/><path d="M-40.2 23.2Q-5.7 10.5 2.3 46.3" stroke="#f2603c" stroke-width="0.69" stroke-opacity="0.74"/><path d="M-45.5 -8.9Q-0.0 0.0 8.8 45.6" stroke="#f2603c" stroke-width="0.84" stroke-opacity="0.81"/><path d="M-41.0 21.6Q-5.5 9.8 2.7 46.3" stroke="#f2603c" stroke-width="0.80" stroke-opacity="0.70"/><path d="M-29.7 -35.6Q-0.0 0.0 16.4 43.4" stroke="#f2603c" stroke-width="0.68" stroke-opacity="0.88"/><path d="M-46.2 4.8Q-2.2 2.9 9.2 45.5" stroke="#f58c72" stroke-width="0.68" stroke-opacity="0.92"/><path d="M-30.0 -35.4Q-0.0 0.0 21.8 41.0" stroke="#f2603c" stroke-width="1.09" stroke-opacity="0.89"/><path d="M-40.0 23.6Q-6.0 10.8 1.3 46.4" stroke="#f58c72" stroke-width="0.60" stroke-opacity="0.80"/><path d="M-33.4 32.2Q-6.2 14.8 0.4 46.4" stroke="#f58c72" stroke-width="0.98" stroke-opacity="0.65"/><path d="M-44.9 11.9Q-3.9 5.8 5.9 46.0" stroke="#f58c72" stroke-width="0.74" stroke-opacity="0.50"/><path d="M-33.9 -31.7Q-0.0 0.0 19.5 42.1" stroke="#f2603c" stroke-width="0.61" stroke-opacity="0.56"/><path d="M-25.8 -38.6Q-0.0 0.0 22.8 40.4" stroke="#f2603c" stroke-width="0.87" stroke-opacity="0.74"/><path d="M-43.3 16.7Q-5.2 8.1 2.5 46.3" stroke="#f2603c" stroke-width="0.57" stroke-opacity="0.46"/><path d="M-42.2 -19.2Q-0.0 0.0 16.7 43.3" stroke="#f58c72" stroke-width="0.89" stroke-opacity="0.50"/><path d="M-25.5 -38.8Q-0.0 0.0 22.5 40.6" stroke="#f2603c" stroke-width="0.70" stroke-opacity="0.85"/><path d="M-30.1 -35.3Q-0.0 0.0 16.0 43.5" stroke="#f2603c" stroke-width="1.05" stroke-opacity="0.87"/><path d="M-29.0 -36.3Q-0.0 0.0 19.8 42.0" stroke="#f2603c" stroke-width="0.94" stroke-opacity="0.82"/><path d="M-32.6 -33.0Q-0.0 0.0 21.1 41.3" stroke="#f2603c" stroke-width="0.84" stroke-opacity="0.62"/><path d="M-24.7 -39.3Q-0.0 0.0 14.5 44.1" stroke="#f2603c" stroke-width="0.96" stroke-opacity="0.72"/><path d="M-28.4 -36.7Q-0.0 0.0 15.3 43.8" stroke="#f2603c" stroke-width="1.06" stroke-opacity="0.80"/><path d="M-26.1 -38.4Q-0.0 0.0 15.0 43.9" stroke="#f2603c" stroke-width="1.01" stroke-opacity="0.67"/><path d="M-23.1 -40.2Q-0.0 0.0 21.5 41.1" stroke="#f2603c" stroke-width="0.77" stroke-opacity="0.67"/><path d="M-28.9 -36.3Q-0.0 0.0 17.6 42.9" stroke="#f2603c" stroke-width="1.11" stroke-opacity="0.69"/><path d="M-23.3 -40.1Q-0.0 0.0 14.4 44.1" stroke="#f2603c" stroke-width="1.14" stroke-opacity="0.88"/><path d="M-26.9 -37.8Q-0.0 0.0 18.5 42.6" stroke="#f2603c" stroke-width="0.78" stroke-opacity="0.73"/><path d="M-30.6 -34.9Q-0.0 0.0 19.2 42.3" stroke="#f2603c" stroke-width="0.73" stroke-opacity="0.94"/><path d="M-28.5 -36.6Q-0.0 0.0 21.1 41.3" stroke="#f2603c" stroke-width="0.76" stroke-opacity="0.76"/><path d="M-32.0 -33.6Q-0.0 0.0 16.8 43.2" stroke="#f2603c" stroke-width="0.85" stroke-opacity="0.82"/><path d="M-29.3 -35.9Q-0.0 0.0 19.0 42.4" stroke="#f2603c" stroke-width="1.14" stroke-opacity="0.76"/><path d="M20.3 -41.7Q5.1 -1.8 42.2 19.3" stroke="#f2603c" stroke-width="0.87" stroke-opacity="0.77"/><path d="M14.3 -44.2Q7.5 -5.3 46.4 1.4" stroke="#f2603c" stroke-width="0.84" stroke-opacity="0.42"/><path d="M8.6 -45.6Q0.0 -0.0 39.0 25.1" stroke="#f2603c" stroke-width="0.92" stroke-opacity="0.41"/><path d="M18.1 -42.7Q7.3 -3.9 45.6 8.3" stroke="#f2603c" stroke-width="0.61" stroke-opacity="0.86"/><path d="M14.5 -44.1Q8.2 -6.2 46.4 -1.9" stroke="#f2603c" stroke-width="0.96" stroke-opacity="0.43"/><path d="M16.8 -43.2Q3.2 -1.2 41.1 21.6" stroke="#f2603c" stroke-width="0.87" stroke-opacity="0.64"/><path d="M9.6 -45.4Q6.9 -6.0 46.3 -3.4" stroke="#f2603c" stroke-width="0.88" stroke-opacity="0.65"/><path d="M4.5 -46.2Q0.0 -0.0 41.8 20.2" stroke="#f2603c" stroke-width="0.86" stroke-opacity="0.80"/><path d="M12.7 -44.6Q2.5 -1.2 42.1 19.6" stroke="#f2603c" stroke-width="0.80" stroke-opacity="0.80"/><path d="M9.0 -45.5Q6.7 -5.9 46.3 -3.4" stroke="#f2603c" stroke-width="0.92" stroke-opacity="0.53"/><path d="M4.4 -46.2Q0.1 -0.1 42.1 19.5" stroke="#f2603c" stroke-width="0.89" stroke-opacity="0.83"/><path d="M21.5 -41.1Q12.2 -9.5 45.2 -10.7" stroke="#f2603c" stroke-width="0.97" stroke-opacity="0.54"/><path d="M6.5 -45.9Q5.4 -4.7 46.4 -0.1" stroke="#f2603c" stroke-width="0.55" stroke-opacity="0.40"/><path d="M6.8 -45.9Q2.4 -1.5 44.3 13.6" stroke="#f2603c" stroke-width="0.53" stroke-opacity="0.78"/><path d="M4.1 -46.2Q5.3 -5.2 46.3 -3.4" stroke="#f2603c" stroke-width="0.58" stroke-opacity="0.46"/><path d="M4.0 -46.2Q2.3 -1.6 45.0 11.3" stroke="#f2603c" stroke-width="0.53" stroke-opacity="0.46"/><path d="M4.1 -46.2Q0.0 -0.0 38.3 26.3" stroke="#f2603c" stroke-width="0.58" stroke-opacity="0.61"/><path d="M18.0 -42.8Q10.3 -8.1 45.8 -7.1" stroke="#f2603c" stroke-width="0.68" stroke-opacity="0.82"/><path d="M15.5 -43.7Q9.5 -8.0 45.8 -7.6" stroke="#f2603c" stroke-width="0.76" stroke-opacity="0.82"/><path d="M13.9 -44.3Q7.8 -5.8 46.4 -0.7" stroke="#f2603c" stroke-width="0.61" stroke-opacity="0.85"/><path d="M11.2 -45.0Q7.6 -6.6 46.2 -4.6" stroke="#f2603c" stroke-width="0.64" stroke-opacity="0.70"/><path d="M19.4 -42.2Q5.0 -1.9 42.5 18.6" stroke="#f2603c" stroke-width="0.80" stroke-opacity="0.58"/><path d="M-21.1 -41.3Q0.0 -0.0 29.8 35.5" stroke="#f58c72" stroke-width="0.60" stroke-opacity="0.70"/><path d="M16.5 -43.4Q9.4 -7.3 46.1 -5.2" stroke="#f58c72" stroke-width="0.50" stroke-opacity="0.60"/><path d="M17.6 -42.9Q11.3 -10.8 43.7 -15.5" stroke="#f58c72" stroke-width="0.50" stroke-opacity="0.60"/><path d="M21.0 -41.4Q9.8 -5.7 46.4 1.7" stroke="#f58c72" stroke-width="0.50" stroke-opacity="0.60"/><path d="M21.9 -40.9Q13.5 -12.9 41.8 -20.2" stroke="#f58c72" stroke-width="0.50" stroke-opacity="0.60"/><path d="M21.2 -41.3Q11.8 -8.9 45.5 -9.0" stroke="#f58c72" stroke-width="0.50" stroke-opacity="0.60"/><path d="M15.0 -43.9Q8.2 -6.1 46.4 -1.4" stroke="#f58c72" stroke-width="0.50" stroke-opacity="0.60"/></g></g>
<g transform="translate(1095.80 262.00)"><g stroke="#d8d8d8" stroke-width="0.5"><line x1="18.4" y1="-77.9" x2="18.7" y2="-79.3"/><line x1="33.1" y1="-72.8" x2="33.7" y2="-74.2"/><line x1="46.5" y1="-65.1" x2="47.4" y2="-66.3"/><line x1="64.1" y1="-47.9" x2="65.3" y2="-48.8"/><line x1="75.6" y1="-26.1" x2="77.1" y2="-26.6"/><line x1="79.3" y1="-10.8" x2="80.8" y2="-11.0"/><line x1="79.7" y1="6.8" x2="81.2" y2="6.9"/><line x1="75.9" y1="25.3" x2="77.3" y2="25.8"/><line x1="68.9" y1="40.6" x2="70.2" y2="41.4"/><line x1="67.7" y1="42.5" x2="69.0" y2="43.3"/><line x1="66.6" y1="44.4" x2="67.8" y2="45.2"/><line x1="64.8" y1="46.9" x2="66.0" y2="47.8"/><line x1="63.6" y1="48.5" x2="64.8" y2="49.4"/><line x1="45.9" y1="65.5" x2="46.7" y2="66.8"/><line x1="23.0" y1="76.6" x2="23.4" y2="78.1"/><line x1="10.8" y1="79.3" x2="11.0" y2="80.8"/><line x1="-1.4" y1="80.0" x2="-1.4" y2="81.5"/><line x1="-5.6" y1="79.8" x2="-5.7" y2="81.3"/><line x1="-18.2" y1="77.9" x2="-18.5" y2="79.4"/><line x1="-38.2" y1="70.3" x2="-39.0" y2="71.6"/><line x1="-49.0" y1="63.2" x2="-50.0" y2="64.4"/><line x1="-53.8" y1="59.2" x2="-54.9" y2="60.3"/><line x1="-58.3" y1="54.8" x2="-59.4" y2="55.8"/><line x1="-61.9" y1="50.7" x2="-63.1" y2="51.6"/><line x1="-74.6" y1="28.9" x2="-76.0" y2="29.5"/><line x1="-79.8" y1="5.8" x2="-81.3" y2="5.9"/><line x1="-76.2" y1="-24.4" x2="-77.6" y2="-24.8"/><line x1="-58.4" y1="-54.7" x2="-59.5" y2="-55.7"/><line x1="-51.9" y1="-60.9" x2="-52.9" y2="-62.0"/><line x1="-36.6" y1="-71.2" x2="-37.3" y2="-72.5"/><line x1="-18.4" y1="-77.8" x2="-18.8" y2="-79.3"/><line x1="29.6" y1="-74.3" x2="34.8" y2="-87.3"/><line x1="55.0" y1="-58.1" x2="64.7" y2="-68.2"/><line x1="72.6" y1="-33.6" x2="85.3" y2="-39.5"/><line x1="79.9" y1="-4.3" x2="93.9" y2="-5.1"/><line x1="75.8" y1="25.6" x2="89.1" y2="30.0"/><line x1="61.0" y1="51.8" x2="71.6" y2="60.9"/><line x1="37.4" y1="70.7" x2="44.0" y2="83.1"/><line x1="8.6" y1="79.5" x2="10.1" y2="93.5"/><line x1="-21.4" y1="77.1" x2="-25.2" y2="90.6"/><line x1="-48.4" y1="63.7" x2="-56.9" y2="74.8"/><line x1="-68.6" y1="41.2" x2="-80.6" y2="48.4"/><line x1="-79.0" y1="12.9" x2="-92.8" y2="15.1"/><line x1="-78.1" y1="-17.3" x2="-91.8" y2="-20.3"/><line x1="-66.2" y1="-44.9" x2="-77.8" y2="-52.8"/><line x1="-44.8" y1="-66.3" x2="-52.7" y2="-77.8"/><line x1="-17.1" y1="-78.1" x2="-20.1" y2="-91.8"/></g><g font-size="3.4" fill="#383838"><text transform="translate(18.9 -79.8) rotate(-76.7)" dy="1.2">MT-TF</text><text transform="translate(33.9 -74.7) rotate(-65.6)" dy="1.2">MT-RNR1</text><text transform="translate(47.7 -66.7) rotate(-54.5)" dy="1.2">MT-TV</text><text transform="translate(65.7 -49.1) rotate(-36.8)" dy="1.2">MT-RNR2</text><text transform="translate(77.5 -26.7) rotate(-19.0)" dy="1.2">MT-TL1</text><text transform="translate(81.2 -11.1) rotate(-7.8)" dy="1.2">MT-ND1</text><text transform="translate(81.7 6.9) rotate(4.9)" dy="1.2">MT-TI</text><text transform="translate(77.8 25.9) rotate(18.4)" dy="1.2">MT-ND2</text><text transform="translate(70.7 41.6) rotate(30.5)" dy="1.2">MT-TW</text><text transform="translate(69.4 43.6) rotate(32.1)" dy="1.2">MT-TA</text><text transform="translate(68.2 45.5) rotate(33.7)" dy="1.2">MT-TN</text><text transform="translate(66.4 48.1) rotate(35.9)" dy="1.2">MT-TC</text><text transform="translate(65.2 49.7) rotate(37.3)" dy="1.2">MT-TY</text><text transform="translate(47.0 67.2) rotate(55.0)" dy="1.2">MT-CO1</text><text transform="translate(23.6 78.5) rotate(73.3)" dy="1.2">MT-TS1</text><text transform="translate(11.1 81.2) rotate(82.2)" dy="1.2">MT-CO2</text><text transform="translate(-1.4 82.0) rotate(271.0)" text-anchor="end" dy="1.2">MT-TK</text><text transform="translate(-5.7 81.8) rotate(274.0)" text-anchor="end" dy="1.2">MT-ATP8</text><text transform="translate(-18.6 79.9) rotate(283.1)" text-anchor="end" dy="1.2">MT-ATP6</text><text transform="translate(-39.2 72.0) rotate(298.5)" text-anchor="end" dy="1.2">MT-CO3</text><text transform="translate(-50.3 64.8) rotate(307.8)" text-anchor="end" dy="1.2">MT-TG</text><text transform="translate(-55.2 60.6) rotate(312.3)" text-anchor="end" dy="1.2">MT-ND3</text><text transform="translate(-59.7 56.2) rotate(316.8)" text-anchor="end" dy="1.2">MT-TR</text><text transform="translate(-63.5 51.9) rotate(320.7)" text-anchor="end" dy="1.2">MT-ND4L</text><text transform="translate(-76.5 29.6) rotate(338.8)" text-anchor="end" dy="1.2">MT-ND4</text><text transform="translate(-81.8 5.9) rotate(355.9)" text-anchor="end" dy="1.2">MT-TH</text><text transform="translate(-78.1 -25.0) rotate(377.7)" text-anchor="end" dy="1.2">MT-ND5</text><text transform="translate(-59.9 -56.0) rotate(403.1)" text-anchor="end" dy="1.2">MT-ND6</text><text transform="translate(-53.2 -62.4) rotate(409.6)" text-anchor="end" dy="1.2">MT-TE</text><text transform="translate(-37.5 -72.9) rotate(422.8)" text-anchor="end" dy="1.2">MT-CYB</text><text transform="translate(-18.9 -79.8) rotate(436.7)" text-anchor="end" dy="1.2">MT-TT</text><text transform="translate(35.0 -87.8) rotate(-68.3)" dy="1.2">1000</text><text transform="translate(65.0 -68.6) rotate(-46.5)" dy="1.2">2000</text><text transform="translate(85.8 -39.7) rotate(-24.8)" dy="1.2">3000</text><text transform="translate(94.4 -5.1) rotate(-3.1)" dy="1.2">4000</text><text transform="translate(89.5 30.2) rotate(18.6)" dy="1.2">5000</text><text transform="translate(72.0 61.2) rotate(40.4)" dy="1.2">6000</text><text transform="translate(44.2 83.5) rotate(62.1)" dy="1.2">7000</text><text transform="translate(10.2 94.0) rotate(83.8)" dy="1.2">8000</text><text transform="translate(-25.3 91.0) rotate(285.5)" text-anchor="end" dy="1.2">9000</text><text transform="translate(-57.2 75.2) rotate(307.3)" text-anchor="end" dy="1.2">10000</text><text transform="translate(-81.0 48.7) rotate(329.0)" text-anchor="end" dy="1.2">11000</text><text transform="translate(-93.3 15.2) rotate(350.7)" text-anchor="end" dy="1.2">12000</text><text transform="translate(-92.3 -20.4) rotate(372.5)" text-anchor="end" dy="1.2">13000</text><text transform="translate(-78.2 -53.1) rotate(394.2)" text-anchor="end" dy="1.2">14000</text><text transform="translate(-53.0 -78.3) rotate(415.9)" text-anchor="end" dy="1.2">15000</text><text transform="translate(-20.2 -92.3) rotate(437.6)" text-anchor="end" dy="1.2">16000</text></g><circle r="70.85" fill="none" stroke="url(#tube)" stroke-width="9.70"/><circle r="77.35" fill="none" stroke="#6cc06c" stroke-width="3.30"/><path d="M-16.21 -77.32A79.00 79.00 0 0 1 17.12 -77.12L16.40 -73.90A75.70 75.70 0 0 0 -15.53 -74.09Z" fill="#464646"/><path d="M17.09 -77.13A79.00 79.00 0 0 1 19.24 -76.62L18.44 -73.42A75.70 75.70 0 0 0 16.38 -73.91Z" fill="#f07f2a"/><path d="M19.22 -76.63A79.00 79.00 0 0 1 45.07 -64.88L43.19 -62.17A75.70 75.70 0 0 0 18.42 -73.43Z" fill="#9a97cc"/><path d="M45.03 -64.91A79.00 79.00 0 0 1 46.82 -63.63L44.86 -60.97A75.70 75.70 0 0 0 43.14 -62.20Z" fill="#f07f2a"/><path d="M46.78 -63.66A79.00 79.00 0 0 1 74.31 -26.82L71.21 -25.70A75.70 75.70 0 0 0 44.82 -61.00Z" fill="#9a97cc"/><path d="M74.32 -26.79A79.00 79.00 0 0 1 75.04 -24.69L71.91 -23.66A75.70 75.70 0 0 0 71.22 -25.67Z" fill="#f07f2a"/><path d="M78.92 3.62A79.00 79.00 0 0 1 78.39 9.76L75.12 9.36A75.70 75.70 0 0 0 75.62 3.47Z" fill="#f07f2a"/><path d="M68.63 39.13A79.00 79.00 0 0 1 67.51 41.03L64.69 39.32A75.70 75.70 0 0 0 65.76 37.49Z" fill="#f07f2a"/><path d="M67.48 41.08A79.00 79.00 0 0 1 66.31 42.94L63.54 41.15A75.70 75.70 0 0 0 64.66 39.36Z" fill="#f07f2a"/><path d="M66.33 42.90A79.00 79.00 0 0 1 65.11 44.74L62.39 42.87A75.70 75.70 0 0 0 63.56 41.11Z" fill="#f07f2a"/><path d="M64.65 45.40A79.00 79.00 0 0 1 63.36 47.19L60.71 45.22A75.70 75.70 0 0 0 61.95 43.50Z" fill="#f07f2a"/><path d="M63.51 46.98A79.00 79.00 0 0 1 62.18 48.73L59.58 46.70A75.70 75.70 0 0 0 60.86 45.02Z" fill="#f07f2a"/><path d="M24.70 75.04A79.00 79.00 0 0 1 20.71 76.24L19.85 73.05A75.70 75.70 0 0 0 23.67 71.91Z" fill="#f07f2a"/><path d="M-0.25 79.00A79.00 79.00 0 0 1 -2.45 78.96L-2.35 75.66A75.70 75.70 0 0 0 -0.23 75.70Z" fill="#f07f2a"/><path d="M-8.60 78.53A79.00 79.00 0 0 1 -27.08 74.22L-25.94 71.12A75.70 75.70 0 0 0 -8.24 75.25Z" fill="#1f8a3c"/><path d="M-47.55 63.09A79.00 79.00 0 0 1 -49.29 61.74L-47.23 59.16A75.70 75.70 0 0 0 -45.56 60.45Z" fill="#f07f2a"/><path d="M-56.80 54.91A79.00 79.00 0 0 1 -58.31 53.30L-55.87 51.08A75.70 75.70 0 0 0 -54.42 52.62Z" fill="#f07f2a"/><path d="M-63.84 46.53A79.00 79.00 0 0 1 -78.52 8.66L-75.24 8.30A75.70 75.70 0 0 0 -61.18 44.58Z" fill="#1f8a3c"/><path d="M-78.53 8.63A79.00 79.00 0 0 1 -78.95 2.72L-75.66 2.60A75.70 75.70 0 0 0 -75.25 8.27Z" fill="#f07f2a"/><path d="M-62.74 -48.00A79.00 79.00 0 0 1 -52.03 -59.45L-49.86 -56.96A75.70 75.70 0 0 0 -60.12 -46.00Z" fill="#1f8a3c"/><path d="M-52.07 -59.41A79.00 79.00 0 0 1 -50.39 -60.84L-48.29 -58.30A75.70 75.70 0 0 0 -49.90 -56.93Z" fill="#f07f2a"/><path d="M-20.18 -76.38A79.00 79.00 0 0 1 -16.24 -77.31L-15.56 -74.08A75.70 75.70 0 0 0 -19.33 -73.19Z" fill="#f07f2a"/><g stroke="#dddddd" stroke-width="0.5"><line x1="0.0" y1="-46.4" x2="0.0" y2="-65.0"/><line x1="17.2" y1="-43.1" x2="24.1" y2="-60.4"/><line x1="31.9" y1="-33.7" x2="44.7" y2="-47.2"/><line x1="42.1" y1="-19.5" x2="59.0" y2="-27.3"/><line x1="46.3" y1="-2.5" x2="64.9" y2="-3.5"/><line x1="44.0" y1="14.8" x2="61.6" y2="20.8"/><line x1="35.4" y1="30.1" x2="49.5" y2="42.1"/><line x1="21.7" y1="41.0" x2="30.4" y2="57.4"/><line x1="5.0" y1="46.1" x2="7.0" y2="64.6"/><line x1="-12.4" y1="44.7" x2="-17.4" y2="62.6"/><line x1="-28.1" y1="36.9" x2="-39.4" y2="51.7"/><line x1="-39.8" y1="23.9" x2="-55.7" y2="33.5"/><line x1="-45.8" y1="7.5" x2="-64.2" y2="10.5"/><line x1="-45.3" y1="-10.0" x2="-63.5" y2="-14.0"/><line x1="-38.4" y1="-26.1" x2="-53.8" y2="-36.5"/><line x1="-26.0" y1="-38.4" x2="-36.4" y2="-53.8"/><line x1="-9.9" y1="-45.3" x2="-13.9" y2="-63.5"/></g><line x1="11.5" y1="-78.7" x2="13.0" y2="-89.1" stroke="#111" stroke-width="0.9"/><line x1="65.5" y1="45.0" x2="77.6" y2="49.4" stroke="#111" stroke-width="0.7"/><path d="M0.0 -65.2 1.7 -65.2 3.4 -65.1 5.1 -65.0 6.8 -64.8 8.5 -64.6 10.2 -64.4 11.9 -64.1 13.6 -63.8 15.2 -63.4 16.9 -63.0 18.5 -62.5 20.1 -62.0 21.8 -61.5 23.4 -60.9 25.0 -60.2 26.5 -59.6 28.1 -58.8 29.6 -58.1 31.1 -57.3 32.6 -56.5 34.1 -55.6 35.5 -54.7 36.9 -53.7 38.3 -52.7 39.7 -51.7 41.0 -50.7 42.3 -49.6 43.6 -48.5 44.9 -47.3 46.1 -46.1 47.3 -44.9 48.5 -43.6 49.6 -42.3 50.7 -41.0 51.7 -39.7 52.7 -38.3 53.7 -36.9 54.7 -35.5 55.6 -34.1 56.5 -32.6 57.3 -31.1 58.1 -29.6 58.8 -28.1 59.6 -26.5 60.2 -25.0 60.9 -23.4 61.5 -21.8 62.0 -20.1 62.5 -18.5 63.0 -16.9 63.4 -15.2 63.8 -13.6 64.1 -11.9 64.4 -10.2 64.6 -8.5 64.8 -6.8 65.0 -5.1 65.1 -3.4 65.2 -1.7 65.2 -0.0 65.2 1.7 65.1 3.4 65.0 5.1 64.8 6.8 64.6 8.5 64.4 10.2 64.1 11.9 63.8 13.6 63.4 15.2 63.0 16.9 62.5 18.5 62.0 20.1 61.5 21.8 60.9 23.4 60.2 25.0 59.6 26.5 58.8 28.1 58.1 29.6 57.3 31.1 56.5 32.6 55.6 34.1 54.7 35.5 53.7 36.9 52.7 38.3 51.7 39.7 50.7 41.0 49.6 42.3 48.5 43.6 47.3 44.9 46.1 46.1 44.9 47.3 43.6 48.5 42.3 49.6 41.0 50.7 39.7 51.7 38.3 52.7 36.9 53.7 35.5 54.7 34.1 55.6 32.6 56.5 31.1 57.3 29.6 58.1 28.1 58.8 26.5 59.6 25.0 60.2 23.4 60.9 21.8 61.5 20.1 62.0 18.5 62.5 16.9 63.0 15.2 63.4 13.6 63.8 11.9 64.1 10.2 64.4 8.5 64.6 6.8 64.8 5.1 65.0 3.4 65.1 1.7 65.2 0.0 65.2 -1.7 65.2 -3.4 65.1 -5.1 65.0 -6.8 64.8 -8.5 64.6 -10.2 64.4 -11.9 64.1 -13.6 63.8 -15.2 63.4 -16.9 63.0 -18.5 62.5 -20.1 62.0 -21.8 61.5 -23.4 60.9 -25.0 60.2 -26.5 59.6 -28.1 58.8 -29.6 58.1 -31.1 57.3 -32.6 56.5 -34.1 55.6 -35.5 54.7 -36.9 53.7 -38.3 52.7 -39.7 51.7 -41.0 50.7 -42.3 49.6 -43.6 48.5 -44.9 47.3 -46.1 46.1 -47.3 44.9 -48.5 43.6 -49.6 42.3 -50.7 41.0 -51.7 39.7 -52.7 38.3 -53.7 36.9 -54.7 35.5 -55.6 34.1 -56.5 32.6 -57.3 31.1 -58.1 29.6 -58.8 28.1 -59.6 26.5 -60.2 25.0 -60.9 23.4 -61.5 21.8 -62.0 20.1 -62.5 18.5 -63.0 16.9 -63.4 15.2 -63.8 13.6 -64.1 11.9 -64.4 10.2 -64.6 8.5 -64.8 6.8 -65.0 5.1 -65.1 3.4 -65.2 1.7 -65.2 0.0 -65.2 -1.7 -65.1 -3.4 -65.0 -5.1 -64.8 -6.8 -64.6 -8.5 -64.4 -10.2 -64.1 -11.9 -63.8 -13.6 -63.4 -15.2 -63.0 -16.9 -62.5 -18.5 -62.0 -20.1 -61.5 -21.8 -60.9 -23.4 -60.2 -25.0 -59.6 -26.5 -58.8 -28.1 -58.1 -29.6 -57.3 -31.1 -56.5 -32.6 -55.6 -34.1 -54.7 -35.5 -53.7 -36.9 -52.7 -38.3 -51.7 -39.7 -50.7 -41.0 -49.6 -42.3 -48.5 -43.6 -47.3 -44.9 -46.1 -46.1 -44.9 -47.3 -43.6 -48.5 -42.3 -49.6 -41.0 -50.7 -39.7 -51.7 -38.3 -52.7 -36.9 -53.7 -35.5 -54.7 -34.1 -55.6 -32.6 -56.5 -31.1 -57.3 -29.6 -58.1 -28.1 -58.8 -26.5 -59.6 -25.0 -60.2 -23.4 -60.9 -21.8 -61.5 -20.1 -62.0 -18.5 -62.5 -16.9 -63.0 -15.2 -63.4 -13.6 -63.8 -11.9 -64.1 -10.2 -64.4 -8.5 -64.6 -6.8 -64.8 -5.1 -65.0 -3.4 -65.1 -1.7 -65.2ZM-1.6 -61.3 -3.2 -61.1 -4.8 -61.3 -6.5 -62.2 -8.3 -63.1 -10.0 -62.9 -11.5 -62.2 -13.1 -61.6 -14.7 -61.2 -16.2 -60.5 -17.8 -60.1 -19.4 -59.7 -21.1 -59.5 -22.7 -59.2 -24.3 -58.7 -25.8 -58.0 -27.3 -57.2 -28.7 -56.4 -30.1 -55.4 -31.5 -54.6 -33.0 -53.9 -34.4 -53.0 -35.6 -51.7 -36.6 -50.3 -37.8 -49.3 -39.3 -48.6 -40.7 -47.7 -41.8 -46.4 -43.3 -45.6 -44.9 -44.9 -46.5 -44.1 -48.0 -43.2 -49.0 -41.9 -50.1 -40.6 -51.3 -39.3 -52.4 -38.1 -53.4 -36.7 -54.4 -35.3 -55.3 -33.9 -56.1 -32.4 -56.6 -30.7 -57.1 -29.1 -57.5 -27.4 -58.0 -25.8 -58.7 -24.3 -59.4 -22.8 -59.8 -21.2 -59.8 -19.4 -59.8 -17.7 -60.1 -16.1 -60.5 -14.5 -60.7 -12.9 -60.6 -11.2 -59.9 -9.5 -58.9 -7.8 -57.8 -6.1 -57.6 -4.5 -59.2 -3.1 -61.0 -1.6 -62.8 0.0 -61.9 1.6 -60.7 3.2 -59.7 4.7 -60.4 6.3 -62.0 8.2 -62.2 9.8 -61.3 11.4 -60.4 12.8 -59.7 14.3 -59.1 15.8 -58.1 17.2 -56.7 18.4 -55.6 19.7 -55.5 21.3 -55.9 23.1 -55.9 24.9 -55.6 26.5 -55.2 28.1 -54.7 29.7 -54.5 31.5 -54.2 33.2 -53.6 34.8 -52.3 36.0 -50.2 36.5 -48.1 36.9 -47.6 38.6 -47.1 40.3 -45.3 40.8 -43.5 41.3 -41.7 41.7 -40.6 42.8 -39.4 43.8 -38.2 44.8 -37.0 45.7 -35.8 46.6 -34.7 47.7 -33.6 48.8 -32.3 49.7 -31.0 50.6 -29.9 51.8 -28.9 53.2 -27.8 54.5 -26.5 55.6 -25.1 56.3 -23.7 57.1 -22.3 58.1 -20.9 59.0 -19.4 59.7 -17.9 60.3 -16.3 60.9 -14.8 61.6 -13.2 62.2 -11.6 62.8 -10.0 63.2 -8.4 63.6 -6.7 63.9 -5.1 64.3 -3.4 64.8 -1.7 65.2 0.0 65.2 1.7 63.1 3.2 60.8 4.6 58.7 6.1 58.2 7.7 58.3 9.2 58.1 10.7 57.9 12.3 57.7 13.8 57.6 15.4 57.5 16.9 57.1 18.4 56.6 19.9 56.3 21.4 55.8 22.9 55.2 24.3 54.6 25.8 54.1 27.5 54.0 29.1 53.6 30.6 53.0 32.0 52.2 33.4 51.5 34.9 50.8 36.4 50.1 37.9 49.4 39.5 48.8 41.0 48.0 42.0 46.7 42.9 45.2 43.6 43.6 44.3 42.1 45.1 40.6 45.7 39.1 46.7 37.9 48.0 36.8 49.4 35.9 50.9 35.0 52.2 33.9 53.5 32.8 54.8 31.6 56.0 30.4 56.9 29.0 57.6 27.5 58.2 25.9 58.9 24.4 59.6 22.9 60.3 21.3 61.0 19.8 61.9 18.3 62.7 16.8 63.0 15.1 62.9 13.4 63.1 11.7 63.3 10.0 63.3 8.3 63.1 6.6 62.6 4.9 62.0 3.3 61.5 1.6 60.9 -0.0 61.2 -1.6 61.6 -3.2 62.0 -4.9 62.2 -6.5 62.3 -8.2 62.3 -9.9 62.4 -11.6 62.1 -13.2 61.7 -14.8 61.4 -16.4 61.0 -18.1 60.9 -19.8 60.4 -21.4 59.5 -22.8 58.6 -24.3 57.8 -25.7 56.9 -27.1 55.4 -28.2 53.9 -29.3 52.6 -30.4 51.4 -31.5 50.2 -32.6 48.7 -33.5 47.6 -34.6 46.7 -35.8 45.7 -37.0 44.9 -38.3 44.4 -39.9 43.9 -41.7 43.2 -43.2 42.2 -44.5 41.1 -45.7 40.1 -47.0 39.2 -48.4 38.1 -49.7 37.1 -51.1 36.0 -52.4 34.4 -53.0 32.7 -53.4 31.0 -53.8 29.5 -54.3 28.0 -54.9 26.6 -55.7 25.2 -56.5 23.7 -57.2 22.2 -57.9 20.7 -58.5 19.1 -58.9 17.6 -59.3 16.1 -60.1 14.6 -60.9 13.2 -62.0 11.7 -63.2 10.1 -63.6 8.3 -63.3 6.6 -63.1 4.9 -62.8 3.3 -62.4 1.6 -61.8 0.0 -61.3Z" fill="#98c8f8" fill-rule="evenodd"/><path d="M0.0 -61.3 1.6 -61.8 3.3 -62.4 4.9 -62.8 6.6 -63.1 8.3 -63.3 10.1 -63.6 11.7 -63.2 13.2 -62.0 14.6 -60.9 16.1 -60.1 17.6 -59.3 19.1 -58.9 20.7 -58.5 22.2 -57.9 23.7 -57.2 25.2 -56.5 26.6 -55.7 28.0 -54.9 29.5 -54.3 31.0 -53.8 32.7 -53.4 34.4 -53.0 36.0 -52.4 37.1 -51.1 38.1 -49.7 39.2 -48.4 40.1 -47.0 41.1 -45.7 42.2 -44.5 43.2 -43.2 43.9 -41.7 44.4 -39.9 44.9 -38.3 45.7 -37.0 46.7 -35.8 47.6 -34.6 48.7 -33.5 50.2 -32.6 51.4 -31.5 52.6 -30.4 53.9 -29.3 55.4 -28.2 56.9 -27.1 57.8 -25.7 58.6 -24.3 59.5 -22.8 60.4 -21.4 60.9 -19.8 61.0 -18.1 61.4 -16.4 61.7 -14.8 62.1 -13.2 62.4 -11.6 62.3 -9.9 62.3 -8.2 62.2 -6.5 62.0 -4.9 61.6 -3.2 61.2 -1.6 60.9 -0.0 61.5 1.6 62.0 3.3 62.6 4.9 63.1 6.6 63.3 8.3 63.3 10.0 63.1 11.7 62.9 13.4 63.0 15.1 62.7 16.8 61.9 18.3 61.0 19.8 60.3 21.3 59.6 22.9 58.9 24.4 58.2 25.9 57.6 27.5 56.9 29.0 56.0 30.4 54.8 31.6 53.5 32.8 52.2 33.9 50.9 35.0 49.4 35.9 48.0 36.8 46.7 37.9 45.7 39.1 45.1 40.6 44.3 42.1 43.6 43.6 42.9 45.2 42.0 46.7 41.0 48.0 39.5 48.8 37.9 49.4 36.4 50.1 34.9 50.8 33.4 51.5 32.0 52.2 30.6 53.0 29.1 53.6 27.5 54.0 25.8 54.1 24.3 54.6 22.9 55.2 21.4 55.8 19.9 56.3 18.4 56.6 16.9 57.1 15.4 57.5 13.8 57.6 12.3 57.7 10.7 57.9 9.2 58.1 7.7 58.3 6.1 58.2 4.6 58.7 3.2 60.8 1.7 63.1 0.0 65.2 -1.7 65.2 -3.4 64.8 -5.1 64.3 -6.7 63.9 -8.4 63.6 -10.0 63.2 -11.6 62.8 -13.2 62.2 -14.8 61.6 -16.3 60.9 -17.9 60.3 -19.4 59.7 -20.9 59.0 -22.3 58.1 -23.7 57.1 -25.1 56.3 -26.5 55.6 -27.8 54.5 -28.9 53.2 -29.9 51.8 -31.0 50.6 -32.3 49.7 -33.6 48.8 -34.7 47.7 -35.8 46.6 -37.0 45.7 -38.2 44.8 -39.4 43.8 -40.6 42.8 -41.7 41.7 -43.5 41.3 -45.3 40.8 -47.1 40.3 -47.6 38.6 -48.1 36.9 -50.2 36.5 -52.3 36.0 -53.6 34.8 -54.2 33.2 -54.5 31.5 -54.7 29.7 -55.2 28.1 -55.6 26.5 -55.9 24.9 -55.9 23.1 -55.5 21.3 -55.6 19.7 -56.7 18.4 -58.1 17.2 -59.1 15.8 -59.7 14.3 -60.4 12.8 -61.3 11.4 -62.2 9.8 -62.0 8.2 -60.4 6.3 -59.7 4.7 -60.7 3.2 -61.9 1.6 -62.8 0.0 -61.0 -1.6 -59.2 -3.1 -57.6 -4.5 -57.8 -6.1 -58.9 -7.8 -59.9 -9.5 -60.6 -11.2 -60.7 -12.9 -60.5 -14.5 -60.1 -16.1 -59.8 -17.7 -59.8 -19.4 -59.8 -21.2 -59.4 -22.8 -58.7 -24.3 -58.0 -25.8 -57.5 -27.4 -57.1 -29.1 -56.6 -30.7 -56.1 -32.4 -55.3 -33.9 -54.4 -35.3 -53.4 -36.7 -52.4 -38.1 -51.3 -39.3 -50.1 -40.6 -49.0 -41.9 -48.0 -43.2 -46.5 -44.1 -44.9 -44.9 -43.3 -45.6 -41.8 -46.4 -40.7 -47.7 -39.3 -48.6 -37.8 -49.3 -36.6 -50.3 -35.6 -51.7 -34.4 -53.0 -33.0 -53.9 -31.5 -54.6 -30.1 -55.4 -28.7 -56.4 -27.3 -57.2 -25.8 -58.0 -24.3 -58.7 -22.7 -59.2 -21.1 -59.5 -19.4 -59.7 -17.8 -60.1 -16.2 -60.5 -14.7 -61.2 -13.1 -61.6 -11.5 -62.2 -10.0 -62.9 -8.3 -63.1 -6.5 -62.2 -4.8 -61.3 -3.2 -61.1 -1.6 -61.3Z" fill="none" stroke="#3b63ec" stroke-width="0.55"/><path d="M0.0 -60.8 1.6 -61.4 3.2 -62.0 4.9 -62.3 6.6 -62.5 8.3 -62.9 10.0 -63.4 11.7 -63.2 13.2 -62.0 14.6 -60.8 16.0 -59.8 17.5 -59.0 19.1 -58.7 20.7 -58.4 22.3 -58.0 23.8 -57.3 25.2 -56.5 26.6 -55.7 27.9 -54.8 29.5 -54.2 31.0 -53.8 32.7 -53.4 34.3 -52.8 35.8 -52.1 37.0 -50.9 38.0 -49.5 39.1 -48.2 40.0 -46.9 40.9 -45.4 41.9 -44.2 42.9 -42.9 43.6 -41.4 44.2 -39.8 44.9 -38.3 45.7 -37.0 46.6 -35.7 47.3 -34.4 48.3 -33.2 49.8 -32.3 51.1 -31.3 52.4 -30.3 53.8 -29.2 55.3 -28.2 56.8 -27.1 57.8 -25.8 58.6 -24.3 59.5 -22.8 60.2 -21.3 60.5 -19.7 60.6 -17.9 61.0 -16.3 61.5 -14.8 62.2 -13.2 62.5 -11.6 62.4 -9.9 62.2 -8.2 62.0 -6.5 61.8 -4.9 61.4 -3.2 61.0 -1.6 60.6 -0.0 61.1 1.6 61.6 3.2 62.2 4.9 62.9 6.6 63.3 8.3 63.2 10.0 62.9 11.6 62.4 13.3 62.3 15.0 62.0 16.6 61.3 18.2 60.7 19.7 60.2 21.3 59.7 22.9 59.1 24.5 58.4 26.0 57.8 27.6 57.1 29.1 56.0 30.4 54.8 31.6 53.3 32.7 52.0 33.8 50.7 34.8 49.2 35.8 47.9 36.7 46.6 37.8 45.6 38.9 44.9 40.4 44.1 41.8 43.3 43.3 42.6 44.9 41.8 46.5 40.9 47.9 39.5 48.8 37.9 49.4 36.3 49.9 34.7 50.5 33.1 51.0 31.7 51.7 30.3 52.5 28.9 53.2 27.4 53.7 25.8 54.0 24.3 54.6 22.9 55.3 21.4 55.8 19.9 56.2 18.4 56.6 16.9 57.1 15.5 57.7 13.9 58.0 12.3 58.0 10.7 57.9 9.1 57.8 7.6 57.5 6.0 57.2 4.6 57.8 3.2 60.2 1.6 62.8 0.0 65.0 -1.7 65.0 -3.4 64.6 -5.0 64.1 -6.7 63.8 -8.4 63.7 -10.0 63.4 -11.7 62.9 -13.2 62.2 -14.7 61.4 -16.2 60.5 -17.7 59.7 -19.2 59.0 -20.7 58.4 -22.2 57.7 -23.6 57.0 -25.1 56.4 -26.5 55.6 -27.8 54.5 -28.8 53.1 -29.8 51.7 -31.0 50.5 -32.3 49.7 -33.6 48.9 -34.7 47.7 -35.7 46.5 -36.9 45.6 -38.2 44.7 -39.4 43.7 -40.5 42.7 -41.6 41.6 -43.3 41.0 -44.9 40.5 -46.6 39.8 -47.1 38.1 -47.6 36.5 -49.8 36.2 -52.1 35.8 -53.5 34.8 -54.3 33.3 -54.7 31.6 -55.0 29.9 -55.3 28.2 -55.6 26.5 -55.7 24.8 -55.5 23.0 -55.1 21.1 -55.0 19.5 -56.2 18.2 -57.6 17.0 -58.9 15.8 -59.8 14.3 -60.7 12.9 -61.7 11.4 -62.3 9.9 -61.7 8.1 -59.8 6.3 -59.0 4.6 -60.3 3.2 -61.8 1.6 -63.0 0.0 -61.2 -1.6 -59.2 -3.1 -57.3 -4.5 -57.4 -6.0 -58.5 -7.7 -59.6 -9.4 -60.5 -11.2 -60.6 -12.9 -60.4 -14.5 -59.9 -16.1 -59.5 -17.6 -59.4 -19.3 -59.2 -21.0 -58.8 -22.6 -58.0 -24.0 -57.3 -25.5 -56.9 -27.2 -56.7 -28.9 -56.5 -30.7 -56.3 -32.5 -55.4 -34.0 -54.5 -35.4 -53.6 -36.8 -52.5 -38.1 -51.2 -39.3 -50.1 -40.5 -49.1 -41.9 -48.1 -43.3 -46.5 -44.1 -44.6 -44.6 -42.8 -45.1 -41.3 -45.8 -40.3 -47.2 -39.2 -48.4 -37.9 -49.3 -36.6 -50.3 -35.4 -51.5 -34.1 -52.5 -32.6 -53.2 -31.1 -53.9 -29.8 -54.9 -28.5 -56.0 -27.1 -56.9 -25.7 -57.7 -24.3 -58.6 -22.8 -59.5 -21.3 -60.0 -19.6 -60.3 -17.9 -60.5 -16.2 -60.6 -14.6 -61.0 -13.1 -61.5 -11.5 -62.2 -10.0 -63.1 -8.3 -63.2 -6.5 -62.0 -4.8 -60.8 -3.2 -60.5 -1.6 -60.6Z" fill="none" stroke="#6f6ff2" stroke-width="0.45"/><circle r="65.50" fill="none" stroke="#1a1a1a" stroke-width="0.9"/><circle r="46.40" fill="none" stroke="#555" stroke-width="0.7"/><g stroke="#3a3a3a" stroke-width="0.5"><line x1="-2.7" y1="-46.3" x2="-2.9" y2="-50.4"/><line x1="-4.2" y1="-46.2" x2="-4.3" y2="-47.9"/><line x1="-3.7" y1="-46.3" x2="-4.0" y2="-50.1"/><line x1="6.6" y1="-45.9" x2="7.1" y2="-49.5"/><line x1="2.1" y1="-46.4" x2="2.2" y2="-47.9"/><line x1="-3.8" y1="-46.2" x2="-3.9" y2="-47.4"/><line x1="8.4" y1="-45.6" x2="8.7" y2="-47.1"/></g><g fill="none"><path d="M-44.9 -11.5Q-0.0 0.0 23.2 40.2" stroke="#f2603c" stroke-width="0.61" stroke-opacity="0.69"/><path d="M-44.8 12.0Q-0.6 1.4 22.5 40.6" stroke="#f2603c" stroke-width="0.86" stroke-opacity="0.56"/><path d="M-42.2 19.3Q-2.5 5.9 15.4 43.8" stroke="#f2603c" stroke-width="0.90" stroke-opacity="0.67"/><path d="M-42.7 18.2Q-1.8 4.5 18.7 42.5" stroke="#f2603c" stroke-width="0.74" stroke-opacity="0.55"/><path d="M-46.4 1.7Q-0.5 0.7 15.0 43.9" stroke="#f2603c" stroke-width="0.76" stroke-opacity="0.78"/><path d="M-41.2 -21.3Q-0.0 0.0 17.5 43.0" stroke="#f2603c" stroke-width="0.89" stroke-opacity="0.50"/><path d="M-46.3 -2.8Q-0.0 0.0 15.8 43.6" stroke="#f2603c" stroke-width="0.87" stroke-opacity="0.64"/><path d="M-46.4 0.8Q-0.7 0.9 13.3 44.5" stroke="#f2603c" stroke-width="0.69" stroke-opacity="0.47"/><path d="M-46.4 0.1Q-0.0 0.0 20.3 41.7" stroke="#f2603c" stroke-width="0.76" stroke-opacity="0.78"/><path d="M-42.9 17.7Q-1.6 4.1 19.8 42.0" stroke="#f2603c" stroke-width="0.86" stroke-opacity="0.77"/><path d="M-44.1 -14.4Q-0.0 0.0 19.0 42.3" stroke="#f2603c" stroke-width="0.88" stroke-opacity="0.79"/><path d="M-43.6 -15.9Q-0.0 0.0 17.3 43.1" stroke="#f2603c" stroke-width="0.76" stroke-opacity="0.50"/><path d="M-42.7 18.2Q-1.1 3.2 23.0 40.3" stroke="#f2603c" stroke-width="0.52" stroke-opacity="0.65"/><path d="M-41.4 -21.0Q-0.0 0.0 16.9 43.2" stroke="#f2603c" stroke-width="0.82" stroke-opacity="0.75"/><path d="M-24.9 -39.2Q-0.0 0.0 3.2 46.3" stroke="#f2603c" stroke-width="0.80" stroke-opacity="0.90"/><path d="M-27.3 -37.5Q-0.0 0.0 -8.3 45.6" stroke="#f2603c" stroke-width="0.80" stroke-opacity="0.90"/><path d="M-28.2 -36.9Q-0.0 0.0 -4.3 46.2" stroke="#f2603c" stroke-width="0.80" stroke-opacity="0.90"/><path d="M-44.1 -14.5Q-11.2 2.8 -32.2 33.4" stroke="#f58c72" stroke-width="0.60" stroke-opacity="0.70"/><path d="M-45.0 -11.3Q-12.9 3.4 -33.8 31.8" stroke="#f58c72" stroke-width="0.60" stroke-opacity="0.70"/><path d="M-45.6 -8.5Q-15.5 3.6 -37.3 27.6" stroke="#f58c72" stroke-width="0.60" stroke-opacity="0.70"/><path d="M6.5 -45.9Q4.6 -3.6 46.2 4.0" stroke="#f2603c" stroke-width="0.80" stroke-opacity="0.90"/><path d="M7.3 -45.8Q2.4 -1.5 44.1 14.3" stroke="#f2603c" stroke-width="0.60" stroke-opacity="0.80"/><path d="M5.7 -46.1Q0.0 -0.0 40.2 23.2" stroke="#f58c72" stroke-width="0.60" stroke-opacity="0.70"/></g></g>
<g transform="translate(1299.70 262.00)"><g stroke="#d8d8d8" stroke-width="0.5"><line x1="18.4" y1="-77.9" x2="18.7" y2="-79.3"/><line x1="33.1" y1="-72.8" x2="33.7" y2="-74.2"/><line x1="46.5" y1="-65.1" x2="47.4" y2="-66.3"/><line x1="64.1" y1="-47.9" x2="65.3" y2="-48.8"/><line x1="75.6" y1="-26.1" x2="77.1" y2="-26.6"/><line x1="79.3" y1="-10.8" x2="80.8" y2="-11.0"/><line x1="79.7" y1="6.8" x2="81.2" y2="6.9"/><line x1="75.9" y1="25.3" x2="77.3" y2="25.8"/><line x1="68.9" y1="40.6" x2="70.2" y2="41.4"/><line x1="67.7" y1="42.5" x2="69.0" y2="43.3"/><line x1="66.6" y1="44.4" x2="67.8" y2="45.2"/><line x1="64.8" y1="46.9" x2="66.0" y2="47.8"/><line x1="63.6" y1="48.5" x2="64.8" y2="49.4"/><line x1="45.9" y1="65.5" x2="46.7" y2="66.8"/><line x1="23.0" y1="76.6" x2="23.4" y2="78.1"/><line x1="10.8" y1="79.3" x2="11.0" y2="80.8"/><line x1="-1.4" y1="80.0" x2="-1.4" y2="81.5"/><line x1="-5.6" y1="79.8" x2="-5.7" y2="81.3"/><line x1="-18.2" y1="77.9" x2="-18.5" y2="79.4"/><line x1="-38.2" y1="70.3" x2="-39.0" y2="71.6"/><line x1="-49.0" y1="63.2" x2="-50.0" y2="64.4"/><line x1="-53.8" y1="59.2" x2="-54.9" y2="60.3"/><line x1="-58.3" y1="54.8" x2="-59.4" y2="55.8"/><line x1="-61.9" y1="50.7" x2="-63.1" y2="51.6"/><line x1="-74.6" y1="28.9" x2="-76.0" y2="29.5"/><line x1="-79.8" y1="5.8" x2="-81.3" y2="5.9"/><line x1="-76.2" y1="-24.4" x2="-77.6" y2="-24.8"/><line x1="-58.4" y1="-54.7" x2="-59.5" y2="-55.7"/><line x1="-51.9" y1="-60.9" x2="-52.9" y2="-62.0"/><line x1="-36.6" y1="-71.2" x2="-37.3" y2="-72.5"/><line x1="-18.4" y1="-77.8" x2="-18.8" y2="-79.3"/><line x1="29.6" y1="-74.3" x2="34.8" y2="-87.3"/><line x1="55.0" y1="-58.1" x2="64.7" y2="-68.2"/><line x1="72.6" y1="-33.6" x2="85.3" y2="-39.5"/><line x1="79.9" y1="-4.3" x2="93.9" y2="-5.1"/><line x1="75.8" y1="25.6" x2="89.1" y2="30.0"/><line x1="61.0" y1="51.8" x2="71.6" y2="60.9"/><line x1="37.4" y1="70.7" x2="44.0" y2="83.1"/><line x1="8.6" y1="79.5" x2="10.1" y2="93.5"/><line x1="-21.4" y1="77.1" x2="-25.2" y2="90.6"/><line x1="-48.4" y1="63.7" x2="-56.9" y2="74.8"/><line x1="-68.6" y1="41.2" x2="-80.6" y2="48.4"/><line x1="-79.0" y1="12.9" x2="-92.8" y2="15.1"/><line x1="-78.1" y1="-17.3" x2="-91.8" y2="-20.3"/><line x1="-66.2" y1="-44.9" x2="-77.8" y2="-52.8"/><line x1="-44.8" y1="-66.3" x2="-52.7" y2="-77.8"/><line x1="-17.1" y1="-78.1" x2="-20.1" y2="-91.8"/></g><g font-size="3.4" fill="#383838"><text transform="translate(18.9 -79.8) rotate(-76.7)" dy="1.2">MT-TF</text><text transform="translate(33.9 -74.7) rotate(-65.6)" dy="1.2">MT-RNR1</text><text transform="translate(47.7 -66.7) rotate(-54.5)" dy="1.2">MT-TV</text><text transform="translate(65.7 -49.1) rotate(-36.8)" dy="1.2">MT-RNR2</text><text transform="translate(77.5 -26.7) rotate(-19.0)" dy="1.2">MT-TL1</text><text transform="translate(81.2 -11.1) rotate(-7.8)" dy="1.2">MT-ND1</text><text transform="translate(81.7 6.9) rotate(4.9)" dy="1.2">MT-TI</text><text transform="translate(77.8 25.9) rotate(18.4)" dy="1.2">MT-ND2</text><text transform="translate(70.7 41.6) rotate(30.5)" dy="1.2">MT-TW</text><text transform="translate(69.4 43.6) rotate(32.1)" dy="1.2">MT-TA</text><text transform="translate(68.2 45.5) rotate(33.7)" dy="1.2">MT-TN</text><text transform="translate(66.4 48.1) rotate(35.9)" dy="1.2">MT-TC</text><text transform="translate(65.2 49.7) rotate(37.3)" dy="1.2">MT-TY</text><text transform="translate(47.0 67.2) rotate(55.0)" dy="1.2">MT-CO1</text><text transform="translate(23.6 78.5) rotate(73.3)" dy="1.2">MT-TS1</text><text transform="translate(11.1 81.2) rotate(82.2)" dy="1.2">MT-CO2</text><text transform="translate(-1.4 82.0) rotate(271.0)" text-anchor="end" dy="1.2">MT-TK</text><text transform="translate(-5.7 81.8) rotate(274.0)" text-anchor="end" dy="1.2">MT-ATP8</text><text transform="translate(-18.6 79.9) rotate(283.1)" text-anchor="end" dy="1.2">MT-ATP6</text><text transform="translate(-39.2 72.0) rotate(298.5)" text-anchor="end" dy="1.2">MT-CO3</text><text transform="translate(-50.3 64.8) rotate(307.8)" text-anchor="end" dy="1.2">MT-TG</text><text transform="translate(-55.2 60.6) rotate(312.3)" text-anchor="end" dy="1.2">MT-ND3</text><text transform="translate(-59.7 56.2) rotate(316.8)" text-anchor="end" dy="1.2">MT-TR</text><text transform="translate(-63.5 51.9) rotate(320.7)" text-anchor="end" dy="1.2">MT-ND4L</text><text transform="translate(-76.5 29.6) rotate(338.8)" text-anchor="end" dy="1.2">MT-ND4</text><text transform="translate(-81.8 5.9) rotate(355.9)" text-anchor="end" dy="1.2">MT-TH</text><text transform="translate(-78.1 -25.0) rotate(377.7)" text-anchor="end" dy="1.2">MT-ND5</text><text transform="translate(-59.9 -56.0) rotate(403.1)" text-anchor="end" dy="1.2">MT-ND6</text><text transform="translate(-53.2 -62.4) rotate(409.6)" text-anchor="end" dy="1.2">MT-TE</text><text transform="translate(-37.5 -72.9) rotate(422.8)" text-anchor="end" dy="1.2">MT-CYB</text><text transform="translate(-18.9 -79.8) rotate(436.7)" text-anchor="end" dy="1.2">MT-TT</text><text transform="translate(35.0 -87.8) rotate(-68.3)" dy="1.2">1000</text><text transform="translate(65.0 -68.6) rotate(-46.5)" dy="1.2">2000</text><text transform="translate(85.8 -39.7) rotate(-24.8)" dy="1.2">3000</text><text transform="translate(94.4 -5.1) rotate(-3.1)" dy="1.2">4000</text><text transform="translate(89.5 30.2) rotate(18.6)" dy="1.2">5000</text><text transform="translate(72.0 61.2) rotate(40.4)" dy="1.2">6000</text><text transform="translate(44.2 83.5) rotate(62.1)" dy="1.2">7000</text><text transform="translate(10.2 94.0) rotate(83.8)" dy="1.2">8000</text><text transform="translate(-25.3 91.0) rotate(285.5)" text-anchor="end" dy="1.2">9000</text><text transform="translate(-57.2 75.2) rotate(307.3)" text-anchor="end" dy="1.2">10000</text><text transform="translate(-81.0 48.7) rotate(329.0)" text-anchor="end" dy="1.2">11000</text><text transform="translate(-93.3 15.2) rotate(350.7)" text-anchor="end" dy="1.2">12000</text><text transform="translate(-92.3 -20.4) rotate(372.5)" text-anchor="end" dy="1.2">13000</text><text transform="translate(-78.2 -53.1) rotate(394.2)" text-anchor="end" dy="1.2">14000</text><text transform="translate(-53.0 -78.3) rotate(415.9)" text-anchor="end" dy="1.2">15000</text><text transform="translate(-20.2 -92.3) rotate(437.6)" text-anchor="end" dy="1.2">16000</text></g><circle r="70.85" fill="none" stroke="url(#tube)" stroke-width="9.70"/><circle r="77.35" fill="none" stroke="#6cc06c" stroke-width="3.30"/><path d="M-16.21 -77.32A79.00 79.00 0 0 1 17.12 -77.12L16.40 -73.90A75.70 75.70 0 0 0 -15.53 -74.09Z" fill="#464646"/><path d="M17.09 -77.13A79.00 79.00 0 0 1 19.24 -76.62L18.44 -73.42A75.70 75.70 0 0 0 16.38 -73.91Z" fill="#f07f2a"/><path d="M19.22 -76.63A79.00 79.00 0 0 1 45.07 -64.88L43.19 -62.17A75.70 75.70 0 0 0 18.42 -73.43Z" fill="#9a97cc"/><path d="M45.03 -64.91A79.00 79.00 0 0 1 46.82 -63.63L44.86 -60.97A75.70 75.70 0 0 0 43.14 -62.20Z" fill="#f07f2a"/><path d="M46.78 -63.66A79.00 79.00 0 0 1 74.31 -26.82L71.21 -25.70A75.70 75.70 0 0 0 44.82 -61.00Z" fill="#9a97cc"/><path d="M74.32 -26.79A79.00 79.00 0 0 1 75.04 -24.69L71.91 -23.66A75.70 75.70 0 0 0 71.22 -25.67Z" fill="#f07f2a"/><path d="M78.92 3.62A79.00 79.00 0 0 1 78.39 9.76L75.12 9.36A75.70 75.70 0 0 0 75.62 3.47Z" fill="#f07f2a"/><path d="M68.63 39.13A79.00 79.00 0 0 1 67.51 41.03L64.69 39.32A75.70 75.70 0 0 0 65.76 37.49Z" fill="#f07f2a"/><path d="M67.48 41.08A79.00 79.00 0 0 1 66.31 42.94L63.54 41.15A75.70 75.70 0 0 0 64.66 39.36Z" fill="#f07f2a"/><path d="M66.33 42.90A79.00 79.00 0 0 1 65.11 44.74L62.39 42.87A75.70 75.70 0 0 0 63.56 41.11Z" fill="#f07f2a"/><path d="M64.65 45.40A79.00 79.00 0 0 1 63.36 47.19L60.71 45.22A75.70 75.70 0 0 0 61.95 43.50Z" fill="#f07f2a"/><path d="M63.51 46.98A79.00 79.00 0 0 1 62.18 48.73L59.58 46.70A75.70 75.70 0 0 0 60.86 45.02Z" fill="#f07f2a"/><path d="M24.70 75.04A79.00 79.00 0 0 1 20.71 76.24L19.85 73.05A75.70 75.70 0 0 0 23.67 71.91Z" fill="#f07f2a"/><path d="M-0.25 79.00A79.00 79.00 0 0 1 -2.45 78.96L-2.35 75.66A75.70 75.70 0 0 0 -0.23 75.70Z" fill="#f07f2a"/><path d="M-8.60 78.53A79.00 79.00 0 0 1 -27.08 74.22L-25.94 71.12A75.70 75.70 0 0 0 -8.24 75.25Z" fill="#1f8a3c"/><path d="M-47.55 63.09A79.00 79.00 0 0 1 -49.29 61.74L-47.23 59.16A75.70 75.70 0 0 0 -45.56 60.45Z" fill="#f07f2a"/><path d="M-56.80 54.91A79.00 79.00 0 0 1 -58.31 53.30L-55.87 51.08A75.70 75.70 0 0 0 -54.42 52.62Z" fill="#f07f2a"/><path d="M-63.84 46.53A79.00 79.00 0 0 1 -78.52 8.66L-75.24 8.30A75.70 75.70 0 0 0 -61.18 44.58Z" fill="#1f8a3c"/><path d="M-78.53 8.63A79.00 79.00 0 0 1 -78.95 2.72L-75.66 2.60A75.70 75.70 0 0 0 -75.25 8.27Z" fill="#f07f2a"/><path d="M-62.74 -48.00A79.00 79.00 0 0 1 -52.03 -59.45L-49.86 -56.96A75.70 75.70 0 0 0 -60.12 -46.00Z" fill="#1f8a3c"/><path d="M-52.07 -59.41A79.00 79.00 0 0 1 -50.39 -60.84L-48.29 -58.30A75.70 75.70 0 0 0 -49.90 -56.93Z" fill="#f07f2a"/><path d="M-20.18 -76.38A79.00 79.00 0 0 1 -16.24 -77.31L-15.56 -74.08A75.70 75.70 0 0 0 -19.33 -73.19Z" fill="#f07f2a"/><g stroke="#dddddd" stroke-width="0.5"><line x1="0.0" y1="-46.4" x2="0.0" y2="-65.0"/><line x1="17.2" y1="-43.1" x2="24.1" y2="-60.4"/><line x1="31.9" y1="-33.7" x2="44.7" y2="-47.2"/><line x1="42.1" y1="-19.5" x2="59.0" y2="-27.3"/><line x1="46.3" y1="-2.5" x2="64.9" y2="-3.5"/><line x1="44.0" y1="14.8" x2="61.6" y2="20.8"/><line x1="35.4" y1="30.1" x2="49.5" y2="42.1"/><line x1="21.7" y1="41.0" x2="30.4" y2="57.4"/><line x1="5.0" y1="46.1" x2="7.0" y2="64.6"/><line x1="-12.4" y1="44.7" x2="-17.4" y2="62.6"/><line x1="-28.1" y1="36.9" x2="-39.4" y2="51.7"/><line x1="-39.8" y1="23.9" x2="-55.7" y2="33.5"/><line x1="-45.8" y1="7.5" x2="-64.2" y2="10.5"/><line x1="-45.3" y1="-10.0" x2="-63.5" y2="-14.0"/><line x1="-38.4" y1="-26.1" x2="-53.8" y2="-36.5"/><line x1="-26.0" y1="-38.4" x2="-36.4" y2="-53.8"/><line x1="-9.9" y1="-45.3" x2="-13.9" y2="-63.5"/></g><line x1="11.5" y1="-78.7" x2="13.0" y2="-89.1" stroke="#111" stroke-width="0.9"/><line x1="65.5" y1="45.0" x2="77.6" y2="49.4" stroke="#111" stroke-width="0.7"/><path d="M0.0 -65.2 1.7 -65.2 3.4 -65.1 5.1 -65.0 6.8 -64.8 8.5 -64.6 10.2 -64.4 11.9 -64.1 13.6 -63.8 15.2 -63.4 16.9 -63.0 18.5 -62.5 20.1 -62.0 21.8 -61.5 23.4 -60.9 25.0 -60.2 26.5 -59.6 28.1 -58.8 29.6 -58.1 31.1 -57.3 32.6 -56.5 34.1 -55.6 35.5 -54.7 36.9 -53.7 38.3 -52.7 39.7 -51.7 41.0 -50.7 42.3 -49.6 43.6 -48.5 44.9 -47.3 46.1 -46.1 47.3 -44.9 48.5 -43.6 49.6 -42.3 50.7 -41.0 51.7 -39.7 52.7 -38.3 53.7 -36.9 54.7 -35.5 55.6 -34.1 56.5 -32.6 57.3 -31.1 58.1 -29.6 58.8 -28.1 59.6 -26.5 60.2 -25.0 60.9 -23.4 61.5 -21.8 62.0 -20.1 62.5 -18.5 63.0 -16.9 63.4 -15.2 63.8 -13.6 64.1 -11.9 64.4 -10.2 64.6 -8.5 64.8 -6.8 65.0 -5.1 65.1 -3.4 65.2 -1.7 65.2 -0.0 65.2 1.7 65.1 3.4 65.0 5.1 64.8 6.8 64.6 8.5 64.4 10.2 64.1 11.9 63.8 13.6 63.4 15.2 63.0 16.9 62.5 18.5 62.0 20.1 61.5 21.8 60.9 23.4 60.2 25.0 59.6 26.5 58.8 28.1 58.1 29.6 57.3 31.1 56.5 32.6 55.6 34.1 54.7 35.5 53.7 36.9 52.7 38.3 51.7 39.7 50.7 41.0 49.6 42.3 48.5 43.6 47.3 44.9 46.1 46.1 44.9 47.3 43.6 48.5 42.3 49.6 41.0 50.7 39.7 51.7 38.3 52.7 36.9 53.7 35.5 54.7 34.1 55.6 32.6 56.5 31.1 57.3 29.6 58.1 28.1 58.8 26.5 59.6 25.0 60.2 23.4 60.9 21.8 61.5 20.1 62.0 18.5 62.5 16.9 63.0 15.2 63.4 13.6 63.8 11.9 64.1 10.2 64.4 8.5 64.6 6.8 64.8 5.1 65.0 3.4 65.1 1.7 65.2 0.0 65.2 -1.7 65.2 -3.4 65.1 -5.1 65.0 -6.8 64.8 -8.5 64.6 -10.2 64.4 -11.9 64.1 -13.6 63.8 -15.2 63.4 -16.9 63.0 -18.5 62.5 -20.1 62.0 -21.8 61.5 -23.4 60.9 -25.0 60.2 -26.5 59.6 -28.1 58.8 -29.6 58.1 -31.1 57.3 -32.6 56.5 -34.1 55.6 -35.5 54.7 -36.9 53.7 -38.3 52.7 -39.7 51.7 -41.0 50.7 -42.3 49.6 -43.6 48.5 -44.9 47.3 -46.1 46.1 -47.3 44.9 -48.5 43.6 -49.6 42.3 -50.7 41.0 -51.7 39.7 -52.7 38.3 -53.7 36.9 -54.7 35.5 -55.6 34.1 -56.5 32.6 -57.3 31.1 -58.1 29.6 -58.8 28.1 -59.6 26.5 -60.2 25.0 -60.9 23.4 -61.5 21.8 -62.0 20.1 -62.5 18.5 -63.0 16.9 -63.4 15.2 -63.8 13.6 -64.1 11.9 -64.4 10.2 -64.6 8.5 -64.8 6.8 -65.0 5.1 -65.1 3.4 -65.2 1.7 -65.2 0.0 -65.2 -1.7 -65.1 -3.4 -65.0 -5.1 -64.8 -6.8 -64.6 -8.5 -64.4 -10.2 -64.1 -11.9 -63.8 -13.6 -63.4 -15.2 -63.0 -16.9 -62.5 -18.5 -62.0 -20.1 -61.5 -21.8 -60.9 -23.4 -60.2 -25.0 -59.6 -26.5 -58.8 -28.1 -58.1 -29.6 -57.3 -31.1 -56.5 -32.6 -55.6 -34.1 -54.7 -35.5 -53.7 -36.9 -52.7 -38.3 -51.7 -39.7 -50.7 -41.0 -49.6 -42.3 -48.5 -43.6 -47.3 -44.9 -46.1 -46.1 -44.9 -47.3 -43.6 -48.5 -42.3 -49.6 -41.0 -50.7 -39.7 -51.7 -38.3 -52.7 -36.9 -53.7 -35.5 -54.7 -34.1 -55.6 -32.6 -56.5 -31.1 -57.3 -29.6 -58.1 -28.1 -58.8 -26.5 -59.6 -25.0 -60.2 -23.4 -60.9 -21.8 -61.5 -20.1 -62.0 -18.5 -62.5 -16.9 -63.0 -15.2 -63.4 -13.6 -63.8 -11.9 -64.1 -10.2 -64.4 -8.5 -64.6 -6.8 -64.8 -5.1 -65.0 -3.4 -65.1 -1.7 -65.2ZM-1.6 -60.6 -3.2 -60.5 -4.8 -60.4 -6.4 -61.2 -8.2 -62.3 -9.9 -62.6 -11.5 -62.1 -13.0 -61.3 -14.5 -60.2 -15.9 -59.3 -17.6 -59.4 -19.4 -59.6 -21.1 -59.6 -22.7 -59.1 -24.2 -58.4 -25.6 -57.6 -27.0 -56.6 -28.4 -55.8 -29.9 -55.2 -31.4 -54.4 -32.6 -53.3 -33.8 -52.0 -35.0 -50.9 -36.3 -50.0 -37.6 -49.0 -38.7 -47.8 -39.9 -46.7 -41.2 -45.8 -43.0 -45.3 -44.8 -44.8 -46.5 -44.1 -48.2 -43.4 -49.2 -42.0 -50.1 -40.6 -51.1 -39.2 -52.2 -37.9 -53.3 -36.6 -54.2 -35.2 -55.0 -33.7 -55.7 -32.2 -56.5 -30.7 -57.2 -29.2 -57.8 -27.6 -57.9 -25.8 -57.9 -24.0 -58.0 -22.3 -58.5 -20.7 -59.2 -19.2 -59.5 -17.6 -59.4 -15.9 -59.5 -14.3 -59.9 -12.7 -60.3 -11.2 -59.5 -9.4 -57.8 -7.6 -55.9 -5.9 -55.6 -4.4 -57.8 -3.0 -60.1 -1.6 -62.1 0.0 -61.0 1.6 -59.9 3.1 -58.8 4.6 -59.2 6.2 -60.4 7.9 -60.2 9.5 -59.7 11.1 -59.3 12.6 -58.9 14.1 -58.4 15.6 -57.4 17.0 -56.3 18.3 -55.1 19.5 -54.8 21.0 -55.0 22.8 -55.0 24.5 -54.7 26.1 -54.4 27.7 -54.1 29.4 -53.7 31.0 -53.2 32.6 -52.5 34.1 -51.5 35.4 -49.5 36.0 -47.6 36.5 -47.1 38.1 -46.5 39.7 -44.5 40.0 -42.6 40.4 -40.7 40.7 -39.5 41.6 -38.4 42.6 -37.4 43.7 -36.3 44.8 -35.2 45.8 -34.0 46.8 -32.9 47.9 -31.7 48.8 -30.3 49.4 -29.0 50.3 -27.9 51.3 -26.8 52.6 -25.7 53.9 -24.5 55.1 -23.3 56.3 -22.2 57.8 -20.9 59.0 -19.4 59.7 -17.8 60.1 -16.2 60.6 -14.7 61.2 -13.1 61.8 -11.6 62.4 -10.0 63.1 -8.4 63.7 -6.7 64.2 -5.1 64.4 -3.4 64.5 -1.7 64.6 0.0 64.8 1.6 62.2 3.1 59.8 4.5 57.3 5.9 56.3 7.4 56.2 8.9 56.2 10.5 56.4 12.0 56.4 13.5 56.2 15.1 56.2 16.6 56.0 18.1 55.8 19.6 55.3 21.0 54.8 22.5 54.3 23.9 53.6 25.3 53.0 26.7 52.5 28.2 52.0 29.8 51.5 31.3 51.1 32.9 50.7 34.5 50.2 36.0 49.5 37.5 48.8 39.1 48.3 40.6 47.5 41.5 46.1 42.3 44.6 43.1 43.1 43.8 41.6 44.5 40.1 44.9 38.4 45.9 37.2 47.4 36.4 49.0 35.6 50.4 34.6 51.5 33.5 52.7 32.3 53.9 31.1 54.8 29.8 55.7 28.4 56.8 27.1 58.0 25.8 59.1 24.5 60.0 23.0 60.6 21.4 61.0 19.8 61.5 18.2 62.1 16.6 62.7 15.1 63.3 13.4 63.6 11.8 63.3 10.0 62.7 8.3 62.3 6.5 61.8 4.9 61.3 3.2 60.5 1.6 59.7 -0.0 60.0 -1.6 60.5 -3.2 61.0 -4.8 61.3 -6.4 61.4 -8.1 61.6 -9.8 61.8 -11.5 61.9 -13.2 61.9 -14.8 61.8 -16.5 61.1 -18.1 60.5 -19.7 59.8 -21.2 59.0 -22.6 58.1 -24.1 57.3 -25.5 56.4 -26.9 55.1 -28.1 53.4 -29.0 51.4 -29.7 49.6 -30.4 48.2 -31.3 47.0 -32.3 46.3 -33.6 45.8 -35.1 45.2 -36.6 44.6 -38.1 43.8 -39.4 42.8 -40.6 42.0 -42.0 41.4 -43.6 40.5 -44.9 39.5 -46.2 38.6 -47.6 37.8 -49.3 37.0 -51.0 35.8 -52.1 34.1 -52.5 32.4 -52.8 30.7 -53.2 29.1 -53.6 27.6 -54.1 26.3 -55.1 24.9 -56.0 23.4 -56.4 21.8 -56.7 20.2 -57.1 18.7 -57.5 17.2 -58.1 15.9 -59.5 14.7 -61.1 13.3 -62.7 11.8 -63.9 10.1 -63.5 8.3 -62.7 6.5 -62.3 4.9 -61.8 3.2 -61.3 1.6 -60.7 0.0 -60.3Z" fill="#98c8f8" fill-rule="evenodd"/><path d="M0.0 -60.3 1.6 -60.7 3.2 -61.3 4.9 -61.8 6.5 -62.3 8.3 -62.7 10.1 -63.5 11.8 -63.9 13.3 -62.7 14.7 -61.1 15.9 -59.5 17.2 -58.1 18.7 -57.5 20.2 -57.1 21.8 -56.7 23.4 -56.4 24.9 -56.0 26.3 -55.1 27.6 -54.1 29.1 -53.6 30.7 -53.2 32.4 -52.8 34.1 -52.5 35.8 -52.1 37.0 -51.0 37.8 -49.3 38.6 -47.6 39.5 -46.2 40.5 -44.9 41.4 -43.6 42.0 -42.0 42.8 -40.6 43.8 -39.4 44.6 -38.1 45.2 -36.6 45.8 -35.1 46.3 -33.6 47.0 -32.3 48.2 -31.3 49.6 -30.4 51.4 -29.7 53.4 -29.0 55.1 -28.1 56.4 -26.9 57.3 -25.5 58.1 -24.1 59.0 -22.6 59.8 -21.2 60.5 -19.7 61.1 -18.1 61.8 -16.5 61.9 -14.8 61.9 -13.2 61.8 -11.5 61.6 -9.8 61.4 -8.1 61.3 -6.4 61.0 -4.8 60.5 -3.2 60.0 -1.6 59.7 -0.0 60.5 1.6 61.3 3.2 61.8 4.9 62.3 6.5 62.7 8.3 63.3 10.0 63.6 11.8 63.3 13.4 62.7 15.1 62.1 16.6 61.5 18.2 61.0 19.8 60.6 21.4 60.0 23.0 59.1 24.5 58.0 25.8 56.8 27.1 55.7 28.4 54.8 29.8 53.9 31.1 52.7 32.3 51.5 33.5 50.4 34.6 49.0 35.6 47.4 36.4 45.9 37.2 44.9 38.4 44.5 40.1 43.8 41.6 43.1 43.1 42.3 44.6 41.5 46.1 40.6 47.5 39.1 48.3 37.5 48.8 36.0 49.5 34.5 50.2 32.9 50.7 31.3 51.1 29.8 51.5 28.2 52.0 26.7 52.5 25.3 53.0 23.9 53.6 22.5 54.3 21.0 54.8 19.6 55.3 18.1 55.8 16.6 56.0 15.1 56.2 13.5 56.2 12.0 56.4 10.5 56.4 8.9 56.2 7.4 56.2 5.9 56.3 4.5 57.3 3.1 59.8 1.6 62.2 0.0 64.8 -1.7 64.6 -3.4 64.5 -5.1 64.4 -6.7 64.2 -8.4 63.7 -10.0 63.1 -11.6 62.4 -13.1 61.8 -14.7 61.2 -16.2 60.6 -17.8 60.1 -19.4 59.7 -20.9 59.0 -22.2 57.8 -23.3 56.3 -24.5 55.1 -25.7 53.9 -26.8 52.6 -27.9 51.3 -29.0 50.3 -30.3 49.4 -31.7 48.8 -32.9 47.9 -34.0 46.8 -35.2 45.8 -36.3 44.8 -37.4 43.7 -38.4 42.6 -39.5 41.6 -40.7 40.7 -42.6 40.4 -44.5 40.0 -46.5 39.7 -47.1 38.1 -47.6 36.5 -49.5 36.0 -51.5 35.4 -52.5 34.1 -53.2 32.6 -53.7 31.0 -54.1 29.4 -54.4 27.7 -54.7 26.1 -55.0 24.5 -55.0 22.8 -54.8 21.0 -55.1 19.5 -56.3 18.3 -57.4 17.0 -58.4 15.6 -58.9 14.1 -59.3 12.6 -59.7 11.1 -60.2 9.5 -60.4 7.9 -59.2 6.2 -58.8 4.6 -59.9 3.1 -61.0 1.6 -62.1 0.0 -60.1 -1.6 -57.8 -3.0 -55.6 -4.4 -55.9 -5.9 -57.8 -7.6 -59.5 -9.4 -60.3 -11.2 -59.9 -12.7 -59.5 -14.3 -59.4 -15.9 -59.5 -17.6 -59.2 -19.2 -58.5 -20.7 -58.0 -22.3 -57.9 -24.0 -57.9 -25.8 -57.8 -27.6 -57.2 -29.2 -56.5 -30.7 -55.7 -32.2 -55.0 -33.7 -54.2 -35.2 -53.3 -36.6 -52.2 -37.9 -51.1 -39.2 -50.1 -40.6 -49.2 -42.0 -48.2 -43.4 -46.5 -44.1 -44.8 -44.8 -43.0 -45.3 -41.2 -45.8 -39.9 -46.7 -38.7 -47.8 -37.6 -49.0 -36.3 -50.0 -35.0 -50.9 -33.8 -52.0 -32.6 -53.3 -31.4 -54.4 -29.9 -55.2 -28.4 -55.8 -27.0 -56.6 -25.6 -57.6 -24.2 -58.4 -22.7 -59.1 -21.1 -59.6 -19.4 -59.6 -17.6 -59.4 -15.9 -59.3 -14.5 -60.2 -13.0 -61.3 -11.5 -62.1 -9.9 -62.6 -8.2 -62.3 -6.4 -61.2 -4.8 -60.4 -3.2 -60.5 -1.6 -60.6Z" fill="none" stroke="#3b63ec" stroke-width="0.55"/><path d="M0.0 -60.3 1.6 -60.8 3.2 -61.4 4.9 -62.0 6.6 -62.4 8.3 -62.8 10.0 -63.4 11.8 -63.6 13.2 -62.3 14.5 -60.6 15.8 -59.0 17.1 -57.7 18.6 -57.3 20.2 -57.0 21.7 -56.6 23.3 -56.2 24.8 -55.6 26.1 -54.7 27.4 -53.8 29.0 -53.4 30.7 -53.3 32.5 -53.0 34.2 -52.7 35.9 -52.2 36.9 -50.8 37.5 -48.9 38.1 -47.1 39.1 -45.8 40.1 -44.6 41.2 -43.4 42.0 -42.0 42.8 -40.6 43.7 -39.4 44.5 -38.0 45.1 -36.5 45.6 -35.0 46.2 -33.5 46.9 -32.2 48.1 -31.2 49.4 -30.3 51.2 -29.6 53.1 -28.8 54.9 -28.0 56.3 -26.9 57.3 -25.5 58.0 -24.0 58.8 -22.6 59.6 -21.1 60.3 -19.6 60.9 -18.0 61.6 -16.5 61.7 -14.8 61.7 -13.1 61.6 -11.4 61.4 -9.7 61.3 -8.1 61.2 -6.4 60.9 -4.8 60.2 -3.2 59.5 -1.6 59.1 -0.0 60.0 1.6 60.8 3.2 61.5 4.8 62.0 6.5 62.4 8.2 63.0 10.0 63.4 11.8 63.3 13.5 63.1 15.2 62.7 16.8 62.0 18.4 61.3 19.9 60.5 21.4 59.7 22.9 58.8 24.4 57.8 25.7 56.7 27.0 55.5 28.3 54.3 29.5 53.3 30.7 52.0 31.9 51.0 33.1 50.0 34.4 48.8 35.5 47.3 36.3 45.7 37.0 44.7 38.2 44.4 39.9 43.8 41.6 43.1 43.1 42.4 44.6 41.5 46.1 40.4 47.4 38.9 48.0 37.3 48.7 36.0 49.5 34.5 50.3 33.0 50.8 31.3 51.1 29.7 51.4 28.1 51.8 26.6 52.2 25.2 52.8 23.9 53.6 22.5 54.2 21.0 54.7 19.5 55.1 18.0 55.4 16.5 55.6 14.9 55.8 13.4 55.9 11.9 56.2 10.4 56.2 8.9 55.9 7.3 55.7 5.9 55.7 4.5 56.7 3.1 59.4 1.6 62.0 0.0 64.8 -1.7 64.8 -3.4 64.8 -5.1 64.6 -6.8 64.3 -8.4 63.6 -10.0 62.8 -11.5 62.1 -13.1 61.6 -14.6 61.0 -16.2 60.4 -17.7 59.9 -19.3 59.5 -20.9 58.9 -22.2 57.8 -23.3 56.3 -24.5 54.9 -25.6 53.6 -26.5 52.1 -27.5 50.7 -28.8 49.8 -30.2 49.3 -31.7 48.8 -32.9 47.9 -33.9 46.6 -34.9 45.5 -36.0 44.4 -37.1 43.4 -38.2 42.4 -39.4 41.5 -40.5 40.5 -42.3 40.2 -44.2 39.8 -46.4 39.7 -47.3 38.3 -47.9 36.8 -49.9 36.3 -51.7 35.5 -52.5 34.1 -53.0 32.5 -53.4 30.8 -53.6 29.1 -53.9 27.5 -54.2 25.8 -54.6 24.3 -55.0 22.8 -55.1 21.1 -55.4 19.6 -56.3 18.3 -57.0 16.9 -57.6 15.4 -58.0 13.9 -58.6 12.5 -59.3 11.0 -60.0 9.5 -60.1 7.9 -59.0 6.2 -58.6 4.6 -59.9 3.1 -61.2 1.6 -62.4 0.0 -60.2 -1.6 -57.8 -3.0 -55.5 -4.4 -55.9 -5.9 -57.8 -7.6 -59.5 -9.4 -60.2 -11.2 -59.5 -12.7 -59.0 -14.2 -58.8 -15.8 -59.0 -17.5 -58.9 -19.1 -58.4 -20.7 -57.9 -22.2 -57.8 -23.9 -57.8 -25.7 -57.6 -27.5 -57.0 -29.0 -56.2 -30.5 -55.5 -32.0 -54.7 -33.5 -54.1 -35.1 -53.3 -36.6 -52.2 -37.9 -51.0 -39.2 -49.9 -40.4 -48.9 -41.8 -47.8 -43.1 -46.2 -43.8 -44.5 -44.5 -42.9 -45.2 -41.1 -45.6 -39.8 -46.6 -38.6 -47.7 -37.5 -48.9 -36.3 -50.0 -34.9 -50.8 -33.7 -51.9 -32.6 -53.1 -31.3 -54.3 -29.9 -55.1 -28.4 -55.8 -27.0 -56.6 -25.6 -57.5 -24.2 -58.4 -22.7 -59.0 -21.0 -59.4 -19.3 -59.3 -17.5 -59.0 -15.7 -58.7 -14.3 -59.5 -12.9 -60.6 -11.4 -61.6 -9.9 -62.2 -8.2 -62.1 -6.4 -61.1 -4.7 -60.3 -3.2 -60.4 -1.6 -60.5Z" fill="none" stroke="#6f6ff2" stroke-width="0.45"/><circle r="65.50" fill="none" stroke="#1a1a1a" stroke-width="0.8" stroke-dasharray="232.1 179.5" transform="rotate(262.0)"/><path d="M-17.0 63.3 L-18.6 63.5 L-20.0 63.1 L-21.4 62.4 L-22.9 62.0 L-24.4 61.9 L-26.0 61.7 L-27.4 61.0 L-28.7 60.2 L-30.1 59.6 L-31.7 59.3 L-33.1 58.8 L-34.4 57.9 L-35.6 57.0 L-37.0 56.3 L-38.5 55.8 L-39.9 55.1 L-41.0 54.0 L-42.1 52.9 L-43.5 52.1 L-45.0 51.4 L-46.2 50.5 L-47.2 49.2 L-48.2 48.0 L-49.5 47.1 L-50.8 46.3 L-51.9 45.1 L-52.7 43.7 L-53.6 42.4 L-54.9 41.4 L-56.1 40.4 L-56.9 39.0 L-57.5 37.6 L-58.4 36.2 L-59.5 35.1 L-60.6 33.9 L-61.2 32.4 L-61.6 30.9 L-62.4 29.5 L-63.4 28.2 L-64.2 26.8 L-64.6 25.3 L-64.9 23.7 L-65.6 22.2 L-66.4 20.9 L-67.0 19.4 L-67.2 17.8 L-67.3 16.2 L-67.9 14.7 L-68.5 13.2 L-68.9 11.6 L-68.8 10.0 L-68.8 8.4 L-69.2 6.9 L-69.7 5.3 L-69.8 3.7 L-69.5 2.1 L-69.4 0.5 L-69.7 -1.1 L-69.9 -2.7 L-69.7 -4.3 L-69.2 -5.8 L-69.0 -7.4 L-69.2 -9.0 L-69.2 -10.6 L-68.7 -12.2 L-68.1 -13.7 L-67.7 -15.2 L-67.7 -16.8 L-67.4 -18.4 L-66.7 -19.9 L-65.9 -21.3 L-65.5 -22.8 L-65.3 -24.4 L-64.8 -25.9 L-63.9 -27.3 L-63.0 -28.6 L-62.4 -30.1 L-62.0 -31.7 L-61.2 -33.1 L-60.1 -34.3 L-59.1 -35.5 L-58.5 -36.9 L-57.8 -38.4 L-56.9 -39.7 L-55.6 -40.7 L-54.5 -41.9 L-53.7 -43.2 L-52.9 -44.6 L-51.7 -45.7 L-50.4 -46.6 L-49.2 -47.6 L-48.3 -48.9 L-47.3 -50.1 L-45.9 -51.0 L-44.5 -51.7 L-43.3 -52.7 L-42.2 -53.9 L-41.0 -54.9 L-39.6 -55.5 L-38.1 -56.1 L-36.8 -57.0 L-35.6 -58.0 L-34.3 -58.8 L-32.8 -59.3 L-31.2 -59.7 L-29.9 -60.4 L-28.6 -61.3 L-27.2 -61.9 L-25.6 -62.1 L-24.0 -62.4 L-22.7 -63.0 L-21.3 -63.7 L-19.8 -64.0 L-18.2 -64.0 L-16.6 -64.1 L-15.2 -64.6 L-13.7 -65.1 L-12.2 -65.1 L-10.6 -64.8 L-9.1 -64.6" fill="none" stroke="#1a1a1a" stroke-width="0.8"/><circle r="46.40" fill="none" stroke="#555" stroke-width="0.7"/><g stroke="#3a3a3a" stroke-width="0.5"><line x1="-5.3" y1="46.1" x2="-5.5" y2="47.1"/><line x1="8.5" y1="-45.6" x2="9.2" y2="-48.9"/><line x1="-46.4" y1="1.6" x2="-49.3" y2="1.8"/><line x1="16.8" y1="43.3" x2="18.0" y2="46.4"/><line x1="-41.0" y1="21.8" x2="-42.8" y2="22.7"/><line x1="-44.6" y1="12.9" x2="-48.9" y2="14.1"/><line x1="-46.3" y1="-2.7" x2="-50.4" y2="-3.0"/><line x1="-41.1" y1="-21.6" x2="-44.5" y2="-23.4"/><line x1="-46.4" y1="1.7" x2="-50.2" y2="1.8"/><line x1="-30.7" y1="-34.8" x2="-33.4" y2="-37.9"/><line x1="-24.7" y1="39.3" x2="-26.9" y2="42.9"/><line x1="0.4" y1="-46.4" x2="0.4" y2="-48.4"/><line x1="-0.5" y1="-46.4" x2="-0.5" y2="-50.8"/><line x1="1.5" y1="46.4" x2="1.5" y2="47.9"/><line x1="-7.3" y1="-45.8" x2="-7.9" y2="-49.9"/><line x1="-46.2" y1="-4.3" x2="-50.5" y2="-4.7"/><line x1="-28.6" y1="-36.5" x2="-30.8" y2="-39.3"/><line x1="-15.3" y1="43.8" x2="-16.6" y2="47.6"/><line x1="-3.6" y1="-46.3" x2="-3.8" y2="-48.6"/><line x1="-0.2" y1="46.4" x2="-0.2" y2="48.1"/><line x1="-42.7" y1="18.2" x2="-44.7" y2="19.0"/><line x1="3.1" y1="-46.3" x2="3.2" y2="-48.5"/></g><g fill="none"><path d="M-46.3 -2.2Q-0.0 0.0 39.7 24.0" stroke="#f58c72" stroke-width="0.66" stroke-opacity="0.70"/><path d="M-46.1 5.5Q-0.0 0.0 36.3 28.9" stroke="#f58c72" stroke-width="0.49" stroke-opacity="0.47"/><path d="M-42.9 -17.7Q-0.0 0.0 33.0 32.6" stroke="#f58c72" stroke-width="0.67" stroke-opacity="0.64"/><path d="M-46.4 0.0Q-0.0 0.0 30.4 35.1" stroke="#f58c72" stroke-width="0.43" stroke-opacity="0.61"/><path d="M-45.9 -6.6Q-0.0 0.0 40.1 23.3" stroke="#f58c72" stroke-width="0.49" stroke-opacity="0.58"/><path d="M-45.8 7.6Q-0.0 0.0 40.1 23.3" stroke="#f58c72" stroke-width="0.58" stroke-opacity="0.74"/><path d="M-45.5 -9.2Q-0.0 0.0 26.7 38.0" stroke="#f58c72" stroke-width="0.55" stroke-opacity="0.44"/><path d="M-46.0 6.1Q-0.0 0.0 35.4 30.0" stroke="#f58c72" stroke-width="0.66" stroke-opacity="0.68"/><path d="M-40.6 -22.4Q-0.0 0.0 33.4 32.2" stroke="#f58c72" stroke-width="0.63" stroke-opacity="0.59"/><path d="M-46.0 6.1Q-0.0 0.0 34.2 31.4" stroke="#f58c72" stroke-width="0.48" stroke-opacity="0.68"/><path d="M-43.1 -17.3Q-0.0 0.0 38.5 25.9" stroke="#f58c72" stroke-width="0.44" stroke-opacity="0.50"/><path d="M-45.0 11.3Q-0.0 0.0 38.8 25.4" stroke="#f58c72" stroke-width="0.69" stroke-opacity="0.72"/><path d="M-46.3 -3.7Q-0.0 0.0 28.7 36.5" stroke="#f58c72" stroke-width="0.46" stroke-opacity="0.75"/><path d="M-45.6 -8.6Q-0.0 0.0 33.1 32.5" stroke="#f58c72" stroke-width="0.48" stroke-opacity="0.40"/><path d="M-45.8 -7.5Q-0.0 0.0 32.8 32.8" stroke="#f58c72" stroke-width="0.61" stroke-opacity="0.67"/><path d="M-41.5 -20.8Q-0.0 0.0 40.7 22.3" stroke="#f58c72" stroke-width="0.60" stroke-opacity="0.43"/><path d="M-42.7 -18.2Q-0.0 0.0 34.3 31.2" stroke="#f58c72" stroke-width="0.40" stroke-opacity="0.54"/><path d="M-42.8 -18.0Q-0.0 0.0 28.6 36.5" stroke="#f58c72" stroke-width="0.68" stroke-opacity="0.58"/><path d="M-44.6 -12.7Q-0.0 0.0 32.0 33.6" stroke="#f58c72" stroke-width="0.55" stroke-opacity="0.67"/><path d="M-46.0 6.2Q-0.0 0.0 38.4 26.1" stroke="#f58c72" stroke-width="0.59" stroke-opacity="0.66"/><path d="M-40.6 -22.5Q-0.0 0.0 40.3 23.0" stroke="#f58c72" stroke-width="0.70" stroke-opacity="0.51"/><path d="M-46.4 -1.2Q-0.0 0.0 31.7 33.9" stroke="#f58c72" stroke-width="0.70" stroke-opacity="0.47"/><path d="M-31.2 -34.3Q-0.0 0.0 -13.2 44.5" stroke="#f2603c" stroke-width="0.84" stroke-opacity="0.65"/><path d="M-34.5 -31.1Q-0.0 0.0 -10.5 45.2" stroke="#f2603c" stroke-width="0.58" stroke-opacity="0.63"/><path d="M-39.9 -23.6Q-0.0 0.0 5.9 46.0" stroke="#f2603c" stroke-width="0.68" stroke-opacity="0.68"/><path d="M-19.9 -41.9Q-0.0 0.0 -5.3 46.1" stroke="#f2603c" stroke-width="0.59" stroke-opacity="0.64"/><path d="M-35.0 -30.4Q-0.0 0.0 8.3 45.7" stroke="#f2603c" stroke-width="0.56" stroke-opacity="0.84"/><path d="M-18.9 -42.4Q-0.0 0.0 -11.8 44.9" stroke="#f2603c" stroke-width="0.79" stroke-opacity="0.59"/><path d="M-20.7 -41.5Q-0.0 0.0 -3.1 46.3" stroke="#f2603c" stroke-width="0.82" stroke-opacity="0.70"/><path d="M-24.0 -39.7Q-0.0 0.0 8.5 45.6" stroke="#f2603c" stroke-width="0.85" stroke-opacity="0.75"/><path d="M-26.3 -38.3Q-0.0 0.0 4.8 46.1" stroke="#f2603c" stroke-width="0.77" stroke-opacity="0.64"/><path d="M-35.6 -29.8Q-0.0 0.0 -9.5 45.4" stroke="#f2603c" stroke-width="0.78" stroke-opacity="0.78"/><path d="M-12.2 -44.8Q-0.0 0.0 0.8 46.4" stroke="#f2603c" stroke-width="0.74" stroke-opacity="0.53"/><path d="M-23.4 -40.1Q-0.0 0.0 -11.0 45.1" stroke="#f2603c" stroke-width="0.67" stroke-opacity="0.51"/><path d="M-21.7 -41.0Q-0.0 0.0 1.1 46.4" stroke="#f2603c" stroke-width="0.58" stroke-opacity="0.76"/><path d="M-30.8 -34.7Q-0.0 0.0 -2.2 46.3" stroke="#f2603c" stroke-width="0.74" stroke-opacity="0.66"/><path d="M-22.9 -40.4Q-0.0 0.0 3.9 46.2" stroke="#f2603c" stroke-width="0.59" stroke-opacity="0.66"/><path d="M-18.6 -42.5Q-0.0 0.0 2.9 46.3" stroke="#f2603c" stroke-width="0.58" stroke-opacity="0.59"/><path d="M-5.7 -46.1Q-0.0 -0.0 -26.6 38.0" stroke="#d02a1c" stroke-width="1.30" stroke-opacity="0.95"/><path d="M-6.5 -45.9Q-0.0 -0.0 -24.6 39.3" stroke="#d02a1c" stroke-width="0.90" stroke-opacity="0.90"/><path d="M-40.2 -23.2Q-0.0 0.0 4.0 46.2" stroke="#f2603c" stroke-width="1.00" stroke-opacity="0.90"/><path d="M-19.6 -42.1Q-0.0 0.0 15.9 43.6" stroke="#f2603c" stroke-width="1.00" stroke-opacity="0.90"/><path d="M-4.9 -46.1Q2.3 -21.6 14.3 -44.1" stroke="#f2603c" stroke-width="1.00" stroke-opacity="0.90"/><path d="M-3.2 -46.3Q3.0 -21.6 15.9 -43.6" stroke="#f58c72" stroke-width="0.60" stroke-opacity="0.70"/><path d="M14.7 -44.0Q1.0 -0.3 38.3 26.1" stroke="#f58c72" stroke-width="0.50" stroke-opacity="0.60"/><path d="M15.6 -43.7Q0.0 -0.0 31.4 34.1" stroke="#f58c72" stroke-width="0.50" stroke-opacity="0.60"/><path d="M19.6 -42.1Q3.0 -0.9 39.0 25.1" stroke="#f58c72" stroke-width="0.50" stroke-opacity="0.60"/></g></g>
<g transform="translate(1514.20 262.00)"><g stroke="#d8d8d8" stroke-width="0.5"><line x1="18.4" y1="-77.9" x2="18.7" y2="-79.3"/><line x1="33.1" y1="-72.8" x2="33.7" y2="-74.2"/><line x1="46.5" y1="-65.1" x2="47.4" y2="-66.3"/><line x1="64.1" y1="-47.9" x2="65.3" y2="-48.8"/><line x1="75.6" y1="-26.1" x2="77.1" y2="-26.6"/><line x1="79.3" y1="-10.8" x2="80.8" y2="-11.0"/><line x1="79.7" y1="6.8" x2="81.2" y2="6.9"/><line x1="75.9" y1="25.3" x2="77.3" y2="25.8"/><line x1="68.9" y1="40.6" x2="70.2" y2="41.4"/><line x1="67.7" y1="42.5" x2="69.0" y2="43.3"/><line x1="66.6" y1="44.4" x2="67.8" y2="45.2"/><line x1="64.8" y1="46.9" x2="66.0" y2="47.8"/><line x1="63.6" y1="48.5" x2="64.8" y2="49.4"/><line x1="45.9" y1="65.5" x2="46.7" y2="66.8"/><line x1="23.0" y1="76.6" x2="23.4" y2="78.1"/><line x1="10.8" y1="79.3" x2="11.0" y2="80.8"/><line x1="-1.4" y1="80.0" x2="-1.4" y2="81.5"/><line x1="-5.6" y1="79.8" x2="-5.7" y2="81.3"/><line x1="-18.2" y1="77.9" x2="-18.5" y2="79.4"/><line x1="-38.2" y1="70.3" x2="-39.0" y2="71.6"/><line x1="-49.0" y1="63.2" x2="-50.0" y2="64.4"/><line x1="-53.8" y1="59.2" x2="-54.9" y2="60.3"/><line x1="-58.3" y1="54.8" x2="-59.4" y2="55.8"/><line x1="-61.9" y1="50.7" x2="-63.1" y2="51.6"/><line x1="-74.6" y1="28.9" x2="-76.0" y2="29.5"/><line x1="-79.8" y1="5.8" x2="-81.3" y2="5.9"/><line x1="-76.2" y1="-24.4" x2="-77.6" y2="-24.8"/><line x1="-58.4" y1="-54.7" x2="-59.5" y2="-55.7"/><line x1="-51.9" y1="-60.9" x2="-52.9" y2="-62.0"/><line x1="-36.6" y1="-71.2" x2="-37.3" y2="-72.5"/><line x1="-18.4" y1="-77.8" x2="-18.8" y2="-79.3"/><line x1="29.6" y1="-74.3" x2="34.8" y2="-87.3"/><line x1="55.0" y1="-58.1" x2="64.7" y2="-68.2"/><line x1="72.6" y1="-33.6" x2="85.3" y2="-39.5"/><line x1="79.9" y1="-4.3" x2="93.9" y2="-5.1"/><line x1="75.8" y1="25.6" x2="89.1" y2="30.0"/><line x1="61.0" y1="51.8" x2="71.6" y2="60.9"/><line x1="37.4" y1="70.7" x2="44.0" y2="83.1"/><line x1="8.6" y1="79.5" x2="10.1" y2="93.5"/><line x1="-21.4" y1="77.1" x2="-25.2" y2="90.6"/><line x1="-48.4" y1="63.7" x2="-56.9" y2="74.8"/><line x1="-68.6" y1="41.2" x2="-80.6" y2="48.4"/><line x1="-79.0" y1="12.9" x2="-92.8" y2="15.1"/><line x1="-78.1" y1="-17.3" x2="-91.8" y2="-20.3"/><line x1="-66.2" y1="-44.9" x2="-77.8" y2="-52.8"/><line x1="-44.8" y1="-66.3" x2="-52.7" y2="-77.8"/><line x1="-17.1" y1="-78.1" x2="-20.1" y2="-91.8"/></g><g font-size="3.4" fill="#383838"><text transform="translate(18.9 -79.8) rotate(-76.7)" dy="1.2">MT-TF</text><text transform="translate(33.9 -74.7) rotate(-65.6)" dy="1.2">MT-RNR1</text><text transform="translate(47.7 -66.7) rotate(-54.5)" dy="1.2">MT-TV</text><text transform="translate(65.7 -49.1) rotate(-36.8)" dy="1.2">MT-RNR2</text><text transform="translate(77.5 -26.7) rotate(-19.0)" dy="1.2">MT-TL1</text><text transform="translate(81.2 -11.1) rotate(-7.8)" dy="1.2">MT-ND1</text><text transform="translate(81.7 6.9) rotate(4.9)" dy="1.2">MT-TI</text><text transform="translate(77.8 25.9) rotate(18.4)" dy="1.2">MT-ND2</text><text transform="translate(70.7 41.6) rotate(30.5)" dy="1.2">MT-TW</text><text transform="translate(69.4 43.6) rotate(32.1)" dy="1.2">MT-TA</text><text transform="translate(68.2 45.5) rotate(33.7)" dy="1.2">MT-TN</text><text transform="translate(66.4 48.1) rotate(35.9)" dy="1.2">MT-TC</text><text transform="translate(65.2 49.7) rotate(37.3)" dy="1.2">MT-TY</text><text transform="translate(47.0 67.2) rotate(55.0)" dy="1.2">MT-CO1</text><text transform="translate(23.6 78.5) rotate(73.3)" dy="1.2">MT-TS1</text><text transform="translate(11.1 81.2) rotate(82.2)" dy="1.2">MT-CO2</text><text transform="translate(-1.4 82.0) rotate(271.0)" text-anchor="end" dy="1.2">MT-TK</text><text transform="translate(-5.7 81.8) rotate(274.0)" text-anchor="end" dy="1.2">MT-ATP8</text><text transform="translate(-18.6 79.9) rotate(283.1)" text-anchor="end" dy="1.2">MT-ATP6</text><text transform="translate(-39.2 72.0) rotate(298.5)" text-anchor="end" dy="1.2">MT-CO3</text><text transform="translate(-50.3 64.8) rotate(307.8)" text-anchor="end" dy="1.2">MT-TG</text><text transform="translate(-55.2 60.6) rotate(312.3)" text-anchor="end" dy="1.2">MT-ND3</text><text transform="translate(-59.7 56.2) rotate(316.8)" text-anchor="end" dy="1.2">MT-TR</text><text transform="translate(-63.5 51.9) rotate(320.7)" text-anchor="end" dy="1.2">MT-ND4L</text><text transform="translate(-76.5 29.6) rotate(338.8)" text-anchor="end" dy="1.2">MT-ND4</text><text transform="translate(-81.8 5.9) rotate(355.9)" text-anchor="end" dy="1.2">MT-TH</text><text transform="translate(-78.1 -25.0) rotate(377.7)" text-anchor="end" dy="1.2">MT-ND5</text><text transform="translate(-59.9 -56.0) rotate(403.1)" text-anchor="end" dy="1.2">MT-ND6</text><text transform="translate(-53.2 -62.4) rotate(409.6)" text-anchor="end" dy="1.2">MT-TE</text><text transform="translate(-37.5 -72.9) rotate(422.8)" text-anchor="end" dy="1.2">MT-CYB</text><text transform="translate(-18.9 -79.8) rotate(436.7)" text-anchor="end" dy="1.2">MT-TT</text><text transform="translate(35.0 -87.8) rotate(-68.3)" dy="1.2">1000</text><text transform="translate(65.0 -68.6) rotate(-46.5)" dy="1.2">2000</text><text transform="translate(85.8 -39.7) rotate(-24.8)" dy="1.2">3000</text><text transform="translate(94.4 -5.1) rotate(-3.1)" dy="1.2">4000</text><text transform="translate(89.5 30.2) rotate(18.6)" dy="1.2">5000</text><text transform="translate(72.0 61.2) rotate(40.4)" dy="1.2">6000</text><text transform="translate(44.2 83.5) rotate(62.1)" dy="1.2">7000</text><text transform="translate(10.2 94.0) rotate(83.8)" dy="1.2">8000</text><text transform="translate(-25.3 91.0) rotate(285.5)" text-anchor="end" dy="1.2">9000</text><text transform="translate(-57.2 75.2) rotate(307.3)" text-anchor="end" dy="1.2">10000</text><text transform="translate(-81.0 48.7) rotate(329.0)" text-anchor="end" dy="1.2">11000</text><text transform="translate(-93.3 15.2) rotate(350.7)" text-anchor="end" dy="1.2">12000</text><text transform="translate(-92.3 -20.4) rotate(372.5)" text-anchor="end" dy="1.2">13000</text><text transform="translate(-78.2 -53.1) rotate(394.2)" text-anchor="end" dy="1.2">14000</text><text transform="translate(-53.0 -78.3) rotate(415.9)" text-anchor="end" dy="1.2">15000</text><text transform="translate(-20.2 -92.3) rotate(437.6)" text-anchor="end" dy="1.2">16000</text></g><circle r="70.85" fill="none" stroke="url(#tube)" stroke-width="9.70"/><circle r="77.35" fill="none" stroke="#6cc06c" stroke-width="3.30"/><path d="M-16.21 -77.32A79.00 79.00 0 0 1 17.12 -77.12L16.40 -73.90A75.70 75.70 0 0 0 -15.53 -74.09Z" fill="#464646"/><path d="M17.09 -77.13A79.00 79.00 0 0 1 19.24 -76.62L18.44 -73.42A75.70 75.70 0 0 0 16.38 -73.91Z" fill="#f07f2a"/><path d="M19.22 -76.63A79.00 79.00 0 0 1 45.07 -64.88L43.19 -62.17A75.70 75.70 0 0 0 18.42 -73.43Z" fill="#9a97cc"/><path d="M45.03 -64.91A79.00 79.00 0 0 1 46.82 -63.63L44.86 -60.97A75.70 75.70 0 0 0 43.14 -62.20Z" fill="#f07f2a"/><path d="M46.78 -63.66A79.00 79.00 0 0 1 74.31 -26.82L71.21 -25.70A75.70 75.70 0 0 0 44.82 -61.00Z" fill="#9a97cc"/><path d="M74.32 -26.79A79.00 79.00 0 0 1 75.04 -24.69L71.91 -23.66A75.70 75.70 0 0 0 71.22 -25.67Z" fill="#f07f2a"/><path d="M78.92 3.62A79.00 79.00 0 0 1 78.39 9.76L75.12 9.36A75.70 75.70 0 0 0 75.62 3.47Z" fill="#f07f2a"/><path d="M68.63 39.13A79.00 79.00 0 0 1 67.51 41.03L64.69 39.32A75.70 75.70 0 0 0 65.76 37.49Z" fill="#f07f2a"/><path d="M67.48 41.08A79.00 79.00 0 0 1 66.31 42.94L63.54 41.15A75.70 75.70 0 0 0 64.66 39.36Z" fill="#f07f2a"/><path d="M66.33 42.90A79.00 79.00 0 0 1 65.11 44.74L62.39 42.87A75.70 75.70 0 0 0 63.56 41.11Z" fill="#f07f2a"/><path d="M64.65 45.40A79.00 79.00 0 0 1 63.36 47.19L60.71 45.22A75.70 75.70 0 0 0 61.95 43.50Z" fill="#f07f2a"/><path d="M63.51 46.98A79.00 79.00 0 0 1 62.18 48.73L59.58 46.70A75.70 75.70 0 0 0 60.86 45.02Z" fill="#f07f2a"/><path d="M24.70 75.04A79.00 79.00 0 0 1 20.71 76.24L19.85 73.05A75.70 75.70 0 0 0 23.67 71.91Z" fill="#f07f2a"/><path d="M-0.25 79.00A79.00 79.00 0 0 1 -2.45 78.96L-2.35 75.66A75.70 75.70 0 0 0 -0.23 75.70Z" fill="#f07f2a"/><path d="M-8.60 78.53A79.00 79.00 0 0 1 -27.08 74.22L-25.94 71.12A75.70 75.70 0 0 0 -8.24 75.25Z" fill="#1f8a3c"/><path d="M-47.55 63.09A79.00 79.00 0 0 1 -49.29 61.74L-47.23 59.16A75.70 75.70 0 0 0 -45.56 60.45Z" fill="#f07f2a"/><path d="M-56.80 54.91A79.00 79.00 0 0 1 -58.31 53.30L-55.87 51.08A75.70 75.70 0 0 0 -54.42 52.62Z" fill="#f07f2a"/><path d="M-63.84 46.53A79.00 79.00 0 0 1 -78.52 8.66L-75.24 8.30A75.70 75.70 0 0 0 -61.18 44.58Z" fill="#1f8a3c"/><path d="M-78.53 8.63A79.00 79.00 0 0 1 -78.95 2.72L-75.66 2.60A75.70 75.70 0 0 0 -75.25 8.27Z" fill="#f07f2a"/><path d="M-62.74 -48.00A79.00 79.00 0 0 1 -52.03 -59.45L-49.86 -56.96A75.70 75.70 0 0 0 -60.12 -46.00Z" fill="#1f8a3c"/><path d="M-52.07 -59.41A79.00 79.00 0 0 1 -50.39 -60.84L-48.29 -58.30A75.70 75.70 0 0 0 -49.90 -56.93Z" fill="#f07f2a"/><path d="M-20.18 -76.38A79.00 79.00 0 0 1 -16.24 -77.31L-15.56 -74.08A75.70 75.70 0 0 0 -19.33 -73.19Z" fill="#f07f2a"/><g stroke="#dddddd" stroke-width="0.5"><line x1="0.0" y1="-46.4" x2="0.0" y2="-65.0"/><line x1="17.2" y1="-43.1" x2="24.1" y2="-60.4"/><line x1="31.9" y1="-33.7" x2="44.7" y2="-47.2"/><line x1="42.1" y1="-19.5" x2="59.0" y2="-27.3"/><line x1="46.3" y1="-2.5" x2="64.9" y2="-3.5"/><line x1="44.0" y1="14.8" x2="61.6" y2="20.8"/><line x1="35.4" y1="30.1" x2="49.5" y2="42.1"/><line x1="21.7" y1="41.0" x2="30.4" y2="57.4"/><line x1="5.0" y1="46.1" x2="7.0" y2="64.6"/><line x1="-12.4" y1="44.7" x2="-17.4" y2="62.6"/><line x1="-28.1" y1="36.9" x2="-39.4" y2="51.7"/><line x1="-39.8" y1="23.9" x2="-55.7" y2="33.5"/><line x1="-45.8" y1="7.5" x2="-64.2" y2="10.5"/><line x1="-45.3" y1="-10.0" x2="-63.5" y2="-14.0"/><line x1="-38.4" y1="-26.1" x2="-53.8" y2="-36.5"/><line x1="-26.0" y1="-38.4" x2="-36.4" y2="-53.8"/><line x1="-9.9" y1="-45.3" x2="-13.9" y2="-63.5"/></g><line x1="11.5" y1="-78.7" x2="13.0" y2="-89.1" stroke="#111" stroke-width="0.9"/><line x1="65.5" y1="45.0" x2="77.6" y2="49.4" stroke="#111" stroke-width="0.7"/><path d="M0.0 -65.2 1.7 -65.2 3.4 -65.1 5.1 -65.0 6.8 -64.8 8.5 -64.6 10.2 -64.4 11.9 -64.1 13.6 -63.8 15.2 -63.4 16.9 -63.0 18.5 -62.5 20.1 -62.0 21.8 -61.5 23.4 -60.9 25.0 -60.2 26.5 -59.6 28.1 -58.8 29.6 -58.1 31.1 -57.3 32.6 -56.5 34.1 -55.6 35.5 -54.7 36.9 -53.7 38.3 -52.7 39.7 -51.7 41.0 -50.7 42.3 -49.6 43.6 -48.5 44.9 -47.3 46.1 -46.1 47.3 -44.9 48.5 -43.6 49.6 -42.3 50.7 -41.0 51.7 -39.7 52.7 -38.3 53.7 -36.9 54.7 -35.5 55.6 -34.1 56.5 -32.6 57.3 -31.1 58.1 -29.6 58.8 -28.1 59.6 -26.5 60.2 -25.0 60.9 -23.4 61.5 -21.8 62.0 -20.1 62.5 -18.5 63.0 -16.9 63.4 -15.2 63.8 -13.6 64.1 -11.9 64.4 -10.2 64.6 -8.5 64.8 -6.8 65.0 -5.1 65.1 -3.4 65.2 -1.7 65.2 -0.0 65.2 1.7 65.1 3.4 65.0 5.1 64.8 6.8 64.6 8.5 64.4 10.2 64.1 11.9 63.8 13.6 63.4 15.2 63.0 16.9 62.5 18.5 62.0 20.1 61.5 21.8 60.9 23.4 60.2 25.0 59.6 26.5 58.8 28.1 58.1 29.6 57.3 31.1 56.5 32.6 55.6 34.1 54.7 35.5 53.7 36.9 52.7 38.3 51.7 39.7 50.7 41.0 49.6 42.3 48.5 43.6 47.3 44.9 46.1 46.1 44.9 47.3 43.6 48.5 42.3 49.6 41.0 50.7 39.7 51.7 38.3 52.7 36.9 53.7 35.5 54.7 34.1 55.6 32.6 56.5 31.1 57.3 29.6 58.1 28.1 58.8 26.5 59.6 25.0 60.2 23.4 60.9 21.8 61.5 20.1 62.0 18.5 62.5 16.9 63.0 15.2 63.4 13.6 63.8 11.9 64.1 10.2 64.4 8.5 64.6 6.8 64.8 5.1 65.0 3.4 65.1 1.7 65.2 0.0 65.2 -1.7 65.2 -3.4 65.1 -5.1 65.0 -6.8 64.8 -8.5 64.6 -10.2 64.4 -11.9 64.1 -13.6 63.8 -15.2 63.4 -16.9 63.0 -18.5 62.5 -20.1 62.0 -21.8 61.5 -23.4 60.9 -25.0 60.2 -26.5 59.6 -28.1 58.8 -29.6 58.1 -31.1 57.3 -32.6 56.5 -34.1 55.6 -35.5 54.7 -36.9 53.7 -38.3 52.7 -39.7 51.7 -41.0 50.7 -42.3 49.6 -43.6 48.5 -44.9 47.3 -46.1 46.1 -47.3 44.9 -48.5 43.6 -49.6 42.3 -50.7 41.0 -51.7 39.7 -52.7 38.3 -53.7 36.9 -54.7 35.5 -55.6 34.1 -56.5 32.6 -57.3 31.1 -58.1 29.6 -58.8 28.1 -59.6 26.5 -60.2 25.0 -60.9 23.4 -61.5 21.8 -62.0 20.1 -62.5 18.5 -63.0 16.9 -63.4 15.2 -63.8 13.6 -64.1 11.9 -64.4 10.2 -64.6 8.5 -64.8 6.8 -65.0 5.1 -65.1 3.4 -65.2 1.7 -65.2 0.0 -65.2 -1.7 -65.1 -3.4 -65.0 -5.1 -64.8 -6.8 -64.6 -8.5 -64.4 -10.2 -64.1 -11.9 -63.8 -13.6 -63.4 -15.2 -63.0 -16.9 -62.5 -18.5 -62.0 -20.1 -61.5 -21.8 -60.9 -23.4 -60.2 -25.0 -59.6 -26.5 -58.8 -28.1 -58.1 -29.6 -57.3 -31.1 -56.5 -32.6 -55.6 -34.1 -54.7 -35.5 -53.7 -36.9 -52.7 -38.3 -51.7 -39.7 -50.7 -41.0 -49.6 -42.3 -48.5 -43.6 -47.3 -44.9 -46.1 -46.1 -44.9 -47.3 -43.6 -48.5 -42.3 -49.6 -41.0 -50.7 -39.7 -51.7 -38.3 -52.7 -36.9 -53.7 -35.5 -54.7 -34.1 -55.6 -32.6 -56.5 -31.1 -57.3 -29.6 -58.1 -28.1 -58.8 -26.5 -59.6 -25.0 -60.2 -23.4 -60.9 -21.8 -61.5 -20.1 -62.0 -18.5 -62.5 -16.9 -63.0 -15.2 -63.4 -13.6 -63.8 -11.9 -64.1 -10.2 -64.4 -8.5 -64.6 -6.8 -64.8 -5.1 -65.0 -3.4 -65.1 -1.7 -65.2ZM-1.6 -60.5 -3.2 -60.7 -4.8 -61.2 -6.5 -62.2 -8.3 -63.1 -10.0 -63.0 -11.5 -62.1 -13.0 -61.1 -14.5 -60.2 -16.0 -59.5 -17.7 -59.7 -19.4 -59.6 -21.1 -59.5 -22.7 -59.0 -24.2 -58.4 -25.7 -57.7 -27.1 -56.9 -28.6 -56.1 -30.1 -55.4 -31.5 -54.6 -32.8 -53.5 -33.9 -52.2 -35.2 -51.2 -36.6 -50.4 -38.0 -49.5 -39.1 -48.3 -40.2 -47.0 -41.3 -45.9 -43.1 -45.4 -44.7 -44.7 -46.3 -43.9 -47.8 -43.1 -49.1 -41.9 -50.4 -40.8 -51.5 -39.5 -52.3 -38.0 -53.1 -36.5 -54.0 -35.1 -55.1 -33.7 -56.1 -32.4 -56.8 -30.8 -57.3 -29.2 -57.8 -27.5 -58.0 -25.8 -58.2 -24.1 -58.4 -22.4 -58.9 -20.8 -59.3 -19.3 -59.6 -17.6 -59.6 -16.0 -59.9 -14.4 -60.3 -12.8 -60.4 -11.2 -59.5 -9.4 -58.0 -7.6 -56.8 -6.0 -56.6 -4.5 -58.4 -3.1 -60.2 -1.6 -62.2 0.0 -61.4 1.6 -60.4 3.2 -59.2 4.7 -59.7 6.3 -61.1 8.0 -61.2 9.7 -60.6 11.2 -60.0 12.7 -59.2 14.2 -58.4 15.6 -57.2 16.9 -56.2 18.3 -55.2 19.6 -54.9 21.1 -54.9 22.7 -55.0 24.5 -55.3 26.4 -55.4 28.2 -54.9 29.8 -54.3 31.4 -53.7 32.9 -53.0 34.4 -51.8 35.6 -49.7 36.1 -47.6 36.5 -47.0 38.0 -46.3 39.5 -44.4 40.0 -42.9 40.7 -41.4 41.4 -40.3 42.5 -39.1 43.4 -37.8 44.3 -36.7 45.3 -35.5 46.3 -34.3 47.2 -33.0 48.0 -31.7 48.8 -30.5 49.7 -29.4 50.9 -28.3 52.1 -27.2 53.3 -26.0 54.5 -24.8 55.6 -23.5 56.7 -22.2 57.7 -20.8 58.8 -19.4 59.8 -18.0 60.7 -16.4 61.3 -14.8 61.6 -13.2 61.9 -11.6 62.4 -10.0 63.1 -8.4 63.5 -6.7 63.6 -5.0 63.8 -3.4 64.3 -1.7 65.0 0.0 65.2 1.6 62.8 3.2 60.1 4.5 57.7 6.0 57.2 7.6 57.4 9.1 57.2 10.6 57.0 12.1 57.0 13.7 57.0 15.3 57.0 16.7 56.5 18.2 55.9 19.6 55.3 21.1 54.9 22.6 54.4 24.0 53.9 25.4 53.3 27.0 52.9 28.6 52.6 30.1 52.1 31.6 51.6 33.1 51.0 34.8 50.6 36.5 50.2 38.0 49.6 39.5 48.8 40.8 47.8 41.7 46.3 42.4 44.7 43.1 43.1 43.8 41.6 44.4 40.0 44.9 38.4 46.0 37.2 47.5 36.4 49.1 35.6 50.5 34.7 51.9 33.7 53.5 32.8 55.0 31.8 55.8 30.3 56.3 28.7 57.0 27.2 58.1 25.9 59.0 24.4 59.6 22.9 60.1 21.3 60.9 19.8 61.7 18.3 62.2 16.7 62.6 15.0 63.1 13.4 63.5 11.8 63.4 10.0 62.9 8.3 62.6 6.6 62.2 4.9 61.6 3.2 60.9 1.6 60.4 -0.0 60.8 -1.6 61.0 -3.2 61.3 -4.8 61.7 -6.5 62.1 -8.2 62.1 -9.8 61.7 -11.4 61.4 -13.1 61.4 -14.7 61.6 -16.5 61.2 -18.1 60.8 -19.8 60.2 -21.3 59.3 -22.8 58.4 -24.2 57.5 -25.6 56.5 -26.9 55.0 -28.0 53.5 -29.0 52.0 -30.0 50.6 -31.0 49.0 -31.9 47.5 -32.6 46.7 -33.9 46.3 -35.5 45.8 -37.0 44.8 -38.3 43.8 -39.4 42.9 -40.7 42.3 -42.3 41.8 -44.0 41.0 -45.6 40.1 -46.9 38.9 -48.0 37.7 -49.2 36.7 -50.5 35.6 -51.8 34.1 -52.5 32.6 -53.1 31.0 -53.7 29.5 -54.2 27.9 -54.7 26.4 -55.4 25.0 -56.2 23.5 -56.8 21.9 -57.1 20.4 -57.5 18.8 -58.0 17.4 -58.8 16.0 -59.8 14.6 -60.8 13.2 -62.1 11.8 -63.5 10.1 -63.6 8.3 -63.1 6.6 -62.6 4.9 -62.3 3.2 -61.9 1.6 -61.1 0.0 -60.3Z" fill="#98c8f8" fill-rule="evenodd"/><path d="M0.0 -60.3 1.6 -61.1 3.2 -61.9 4.9 -62.3 6.6 -62.6 8.3 -63.1 10.1 -63.6 11.8 -63.5 13.2 -62.1 14.6 -60.8 16.0 -59.8 17.4 -58.8 18.8 -58.0 20.4 -57.5 21.9 -57.1 23.5 -56.8 25.0 -56.2 26.4 -55.4 27.9 -54.7 29.5 -54.2 31.0 -53.7 32.6 -53.1 34.1 -52.5 35.6 -51.8 36.7 -50.5 37.7 -49.2 38.9 -48.0 40.1 -46.9 41.0 -45.6 41.8 -44.0 42.3 -42.3 42.9 -40.7 43.8 -39.4 44.8 -38.3 45.8 -37.0 46.3 -35.5 46.7 -33.9 47.5 -32.6 49.0 -31.9 50.6 -31.0 52.0 -30.0 53.5 -29.0 55.0 -28.0 56.5 -26.9 57.5 -25.6 58.4 -24.2 59.3 -22.8 60.2 -21.3 60.8 -19.8 61.2 -18.1 61.6 -16.5 61.4 -14.7 61.4 -13.1 61.7 -11.4 62.1 -9.8 62.1 -8.2 61.7 -6.5 61.3 -4.8 61.0 -3.2 60.8 -1.6 60.4 -0.0 60.9 1.6 61.6 3.2 62.2 4.9 62.6 6.6 62.9 8.3 63.4 10.0 63.5 11.8 63.1 13.4 62.6 15.0 62.2 16.7 61.7 18.3 60.9 19.8 60.1 21.3 59.6 22.9 59.0 24.4 58.1 25.9 57.0 27.2 56.3 28.7 55.8 30.3 55.0 31.8 53.5 32.8 51.9 33.7 50.5 34.7 49.1 35.6 47.5 36.4 46.0 37.2 44.9 38.4 44.4 40.0 43.8 41.6 43.1 43.1 42.4 44.7 41.7 46.3 40.8 47.8 39.5 48.8 38.0 49.6 36.5 50.2 34.8 50.6 33.1 51.0 31.6 51.6 30.1 52.1 28.6 52.6 27.0 52.9 25.4 53.3 24.0 53.9 22.6 54.4 21.1 54.9 19.6 55.3 18.2 55.9 16.7 56.5 15.3 57.0 13.7 57.0 12.1 57.0 10.6 57.0 9.1 57.2 7.6 57.4 6.0 57.2 4.5 57.7 3.2 60.1 1.6 62.8 0.0 65.2 -1.7 65.0 -3.4 64.3 -5.0 63.8 -6.7 63.6 -8.4 63.5 -10.0 63.1 -11.6 62.4 -13.2 61.9 -14.8 61.6 -16.4 61.3 -18.0 60.7 -19.4 59.8 -20.8 58.8 -22.2 57.7 -23.5 56.7 -24.8 55.6 -26.0 54.5 -27.2 53.3 -28.3 52.1 -29.4 50.9 -30.5 49.7 -31.7 48.8 -33.0 48.0 -34.3 47.2 -35.5 46.3 -36.7 45.3 -37.8 44.3 -39.1 43.4 -40.3 42.5 -41.4 41.4 -42.9 40.7 -44.4 40.0 -46.3 39.5 -47.0 38.0 -47.6 36.5 -49.7 36.1 -51.8 35.6 -53.0 34.4 -53.7 32.9 -54.3 31.4 -54.9 29.8 -55.4 28.2 -55.3 26.4 -55.0 24.5 -54.9 22.7 -54.9 21.1 -55.2 19.6 -56.2 18.3 -57.2 16.9 -58.4 15.6 -59.2 14.2 -60.0 12.7 -60.6 11.2 -61.2 9.7 -61.1 8.0 -59.7 6.3 -59.2 4.7 -60.4 3.2 -61.4 1.6 -62.2 0.0 -60.2 -1.6 -58.4 -3.1 -56.6 -4.5 -56.8 -6.0 -58.0 -7.6 -59.5 -9.4 -60.4 -11.2 -60.3 -12.8 -59.9 -14.4 -59.6 -16.0 -59.6 -17.6 -59.3 -19.3 -58.9 -20.8 -58.4 -22.4 -58.2 -24.1 -58.0 -25.8 -57.8 -27.5 -57.3 -29.2 -56.8 -30.8 -56.1 -32.4 -55.1 -33.7 -54.0 -35.1 -53.1 -36.5 -52.3 -38.0 -51.5 -39.5 -50.4 -40.8 -49.1 -41.9 -47.8 -43.1 -46.3 -43.9 -44.7 -44.7 -43.1 -45.4 -41.3 -45.9 -40.2 -47.0 -39.1 -48.3 -38.0 -49.5 -36.6 -50.4 -35.2 -51.2 -33.9 -52.2 -32.8 -53.5 -31.5 -54.6 -30.1 -55.4 -28.6 -56.1 -27.1 -56.9 -25.7 -57.7 -24.2 -58.4 -22.7 -59.0 -21.1 -59.5 -19.4 -59.6 -17.7 -59.7 -16.0 -59.5 -14.5 -60.2 -13.0 -61.1 -11.5 -62.1 -10.0 -63.0 -8.3 -63.1 -6.5 -62.2 -4.8 -61.2 -3.2 -60.7 -1.6 -60.5Z" fill="none" stroke="#3b63ec" stroke-width="0.55"/><path d="M0.0 -59.9 1.6 -61.0 3.3 -62.1 4.9 -62.7 6.6 -62.9 8.3 -63.2 10.1 -63.5 11.7 -63.2 13.2 -61.9 14.6 -60.7 16.0 -59.6 17.3 -58.4 18.7 -57.5 20.1 -56.9 21.8 -56.7 23.4 -56.6 25.0 -56.2 26.4 -55.4 27.7 -54.5 29.2 -53.8 30.7 -53.2 32.3 -52.8 34.0 -52.4 35.6 -51.8 36.7 -50.6 37.7 -49.1 38.8 -47.9 39.9 -46.7 40.9 -45.4 41.7 -44.0 42.3 -42.3 42.8 -40.6 43.6 -39.3 44.7 -38.2 45.7 -37.0 46.4 -35.6 46.7 -34.0 47.4 -32.6 48.8 -31.7 50.3 -30.8 51.8 -29.9 53.3 -29.0 54.9 -28.0 56.2 -26.8 57.1 -25.4 57.8 -24.0 58.8 -22.6 59.7 -21.1 60.4 -19.6 61.0 -18.1 61.5 -16.5 61.5 -14.8 61.6 -13.1 61.9 -11.5 62.1 -9.8 61.8 -8.1 61.1 -6.4 60.5 -4.8 60.4 -3.2 60.5 -1.6 60.4 -0.0 61.3 1.6 62.0 3.2 62.5 4.9 62.6 6.6 62.8 8.3 63.1 10.0 63.3 11.7 62.9 13.4 62.4 15.0 62.0 16.6 61.3 18.2 60.4 19.6 59.6 21.1 59.1 22.7 58.6 24.3 57.7 25.7 56.6 27.0 55.8 28.4 55.3 30.0 54.6 31.5 53.3 32.7 52.0 33.8 50.9 35.0 49.5 36.0 47.9 36.7 46.2 37.4 45.1 38.5 44.5 40.1 43.8 41.6 43.0 43.0 42.1 44.4 41.2 45.8 40.3 47.2 39.1 48.3 37.7 49.1 36.2 49.8 34.5 50.2 32.8 50.6 31.3 51.1 29.9 51.8 28.5 52.4 27.0 53.0 25.5 53.5 24.1 54.1 22.7 54.7 21.2 55.1 19.7 55.6 18.2 56.0 16.7 56.5 15.2 56.7 13.6 56.6 12.0 56.6 10.5 56.7 9.0 57.0 7.5 57.1 6.0 56.8 4.5 57.1 3.1 59.4 1.6 62.1 0.0 64.7 -1.7 64.6 -3.4 64.2 -5.0 63.8 -6.7 63.6 -8.4 63.5 -10.0 63.0 -11.6 62.4 -13.1 61.8 -14.8 61.6 -16.5 61.4 -18.1 61.0 -19.5 60.1 -20.9 59.0 -22.1 57.6 -23.3 56.2 -24.4 54.8 -25.6 53.6 -26.8 52.5 -28.0 51.6 -29.3 50.8 -30.6 49.9 -31.8 49.0 -33.1 48.1 -34.2 47.1 -35.3 46.0 -36.3 44.9 -37.5 43.9 -38.9 43.2 -40.2 42.4 -41.3 41.3 -42.8 40.6 -44.3 39.9 -46.2 39.4 -46.9 38.0 -47.5 36.5 -49.6 36.1 -51.7 35.5 -52.9 34.3 -53.6 32.8 -54.3 31.3 -54.9 29.8 -55.3 28.2 -55.2 26.3 -54.8 24.4 -54.7 22.7 -54.7 21.0 -55.1 19.5 -55.9 18.2 -56.7 16.8 -57.7 15.4 -58.4 14.0 -59.2 12.6 -60.1 11.1 -60.9 9.7 -61.1 8.0 -59.9 6.3 -59.5 4.7 -60.7 3.2 -61.7 1.6 -62.4 0.0 -60.2 -1.6 -58.3 -3.1 -56.3 -4.4 -56.5 -5.9 -57.7 -7.6 -59.1 -9.4 -60.0 -11.1 -59.8 -12.7 -59.5 -14.3 -59.4 -15.9 -59.5 -17.6 -59.4 -19.3 -59.0 -20.9 -58.4 -22.4 -58.1 -24.0 -57.8 -25.7 -57.4 -27.4 -57.0 -29.1 -56.5 -30.7 -55.8 -32.2 -54.7 -33.5 -53.6 -34.8 -52.8 -36.3 -52.1 -37.9 -51.4 -39.5 -50.4 -40.8 -49.2 -42.0 -47.9 -43.1 -46.2 -43.9 -44.6 -44.6 -42.8 -45.1 -41.0 -45.6 -39.8 -46.6 -38.7 -47.8 -37.7 -49.1 -36.5 -50.2 -35.2 -51.3 -34.1 -52.6 -33.0 -53.8 -31.6 -54.8 -30.0 -55.3 -28.4 -55.8 -26.9 -56.4 -25.5 -57.3 -24.1 -58.2 -22.6 -59.0 -21.0 -59.4 -19.3 -59.4 -17.5 -59.2 -15.8 -58.9 -14.3 -59.6 -12.9 -60.7 -11.5 -61.9 -10.0 -63.0 -8.3 -63.2 -6.5 -62.1 -4.8 -60.9 -3.2 -60.3 -1.6 -60.0Z" fill="none" stroke="#6f6ff2" stroke-width="0.45"/><circle r="65.50" fill="none" stroke="#1a1a1a" stroke-width="0.9"/><circle r="46.40" fill="none" stroke="#555" stroke-width="0.7"/><g stroke="#3a3a3a" stroke-width="0.5"><line x1="9.3" y1="-45.5" x2="9.9" y2="-48.6"/><line x1="5.7" y1="-46.0" x2="5.8" y2="-47.1"/><line x1="-2.1" y1="-46.4" x2="-2.2" y2="-49.9"/><line x1="8.0" y1="-45.7" x2="8.2" y2="-46.9"/><line x1="9.5" y1="-45.4" x2="10.4" y2="-49.7"/><line x1="-6.5" y1="-45.9" x2="-6.8" y2="-48.3"/><line x1="8.1" y1="-45.7" x2="8.5" y2="-47.9"/><line x1="-5.2" y1="-46.1" x2="-5.5" y2="-49.1"/></g><g fill="none"><path d="M-39.7 -24.0Q-0.0 0.0 8.4 45.6" stroke="#f5907a" stroke-width="0.49" stroke-opacity="0.65"/><path d="M-46.3 3.3Q-6.6 5.8 -8.6 45.6" stroke="#f5907a" stroke-width="0.76" stroke-opacity="0.83"/><path d="M-45.8 7.1Q-6.0 6.3 -4.6 46.2" stroke="#f5907a" stroke-width="0.73" stroke-opacity="0.64"/><path d="M-30.1 -35.4Q-0.0 0.0 17.2 43.1" stroke="#f5907a" stroke-width="0.41" stroke-opacity="0.50"/><path d="M-35.7 -29.6Q-0.0 0.0 15.9 43.6" stroke="#f5907a" stroke-width="0.56" stroke-opacity="0.70"/><path d="M-44.7 12.5Q-7.4 8.4 -6.9 45.9" stroke="#f5907a" stroke-width="0.60" stroke-opacity="0.46"/><path d="M-45.9 -6.7Q-1.9 1.7 1.3 46.4" stroke="#f5907a" stroke-width="0.44" stroke-opacity="0.48"/><path d="M-34.2 -31.4Q-0.0 0.0 13.9 44.3" stroke="#f5907a" stroke-width="0.60" stroke-opacity="0.63"/><path d="M-26.6 -38.0Q-0.0 0.0 20.7 41.5" stroke="#f5907a" stroke-width="0.47" stroke-opacity="0.65"/><path d="M-43.6 -16.0Q-0.0 0.0 5.3 46.1" stroke="#f5907a" stroke-width="0.54" stroke-opacity="0.65"/><path d="M-44.4 13.3Q-9.1 9.4 -11.9 44.8" stroke="#f5907a" stroke-width="0.76" stroke-opacity="0.74"/><path d="M-30.5 -35.0Q-0.0 0.0 14.3 44.1" stroke="#f5907a" stroke-width="0.60" stroke-opacity="0.62"/><path d="M-35.1 -30.4Q-0.0 0.0 16.8 43.3" stroke="#f5907a" stroke-width="0.52" stroke-opacity="0.69"/><path d="M-44.3 13.7Q-10.0 9.8 -14.5 44.1" stroke="#f5907a" stroke-width="0.77" stroke-opacity="0.65"/><path d="M-39.8 -23.8Q-0.0 0.0 11.6 44.9" stroke="#f5907a" stroke-width="0.58" stroke-opacity="0.49"/><path d="M-45.9 -7.0Q-1.4 1.3 3.1 46.3" stroke="#f5907a" stroke-width="0.56" stroke-opacity="0.71"/><path d="M-29.6 -35.8Q-0.0 0.0 21.7 41.0" stroke="#f5907a" stroke-width="0.45" stroke-opacity="0.70"/><path d="M-25.3 -38.9Q-0.0 0.0 20.8 41.5" stroke="#f5907a" stroke-width="0.61" stroke-opacity="0.79"/><path d="M-46.3 2.5Q-4.2 4.4 -0.6 46.4" stroke="#f5907a" stroke-width="0.60" stroke-opacity="0.69"/><path d="M-45.7 8.0Q-7.5 7.3 -9.1 45.5" stroke="#f5907a" stroke-width="0.65" stroke-opacity="0.78"/><path d="M-46.0 -5.8Q-1.6 1.5 3.5 46.3" stroke="#f5907a" stroke-width="0.49" stroke-opacity="0.54"/><path d="M-46.1 -5.7Q-2.8 2.4 -1.4 46.4" stroke="#f5907a" stroke-width="0.51" stroke-opacity="0.84"/><path d="M-46.1 5.0Q-7.0 6.4 -9.0 45.5" stroke="#f5907a" stroke-width="0.50" stroke-opacity="0.82"/><path d="M-46.4 1.1Q-4.9 4.6 -4.3 46.2" stroke="#f5907a" stroke-width="0.50" stroke-opacity="0.74"/><path d="M-40.1 -23.4Q-0.0 0.0 8.3 45.7" stroke="#f5907a" stroke-width="0.56" stroke-opacity="0.51"/><path d="M-46.1 -5.1Q-3.5 2.9 -3.3 46.3" stroke="#f5907a" stroke-width="0.60" stroke-opacity="0.52"/><path d="M-45.1 10.9Q-8.0 8.2 -9.4 45.4" stroke="#f5907a" stroke-width="0.73" stroke-opacity="0.72"/><path d="M-33.3 -32.4Q-0.0 0.0 19.3 42.2" stroke="#f5907a" stroke-width="0.58" stroke-opacity="0.57"/><path d="M-46.4 0.8Q-5.7 5.0 -7.2 45.8" stroke="#f5907a" stroke-width="0.74" stroke-opacity="0.59"/><path d="M-22.4 -40.6Q0.0 -0.0 24.9 39.2" stroke="#f5907a" stroke-width="0.73" stroke-opacity="0.63"/><path d="M-44.7 -12.3Q-1.0 0.8 -0.4 46.4" stroke="#f5907a" stroke-width="0.72" stroke-opacity="0.73"/><path d="M-38.5 -25.9Q-0.0 0.0 10.6 45.2" stroke="#f5907a" stroke-width="0.73" stroke-opacity="0.73"/><path d="M-45.8 -7.1Q-2.2 1.9 -0.1 46.4" stroke="#f5907a" stroke-width="0.57" stroke-opacity="0.53"/><path d="M-45.2 10.3Q-8.8 8.4 -12.2 44.8" stroke="#f5907a" stroke-width="0.57" stroke-opacity="0.66"/><path d="M-45.4 9.5Q-13.6 9.3 -25.4 38.8" stroke="#f5907a" stroke-width="0.50" stroke-opacity="0.70"/><path d="M-46.3 -2.3Q-12.0 5.8 -27.0 37.8" stroke="#f5907a" stroke-width="0.50" stroke-opacity="0.70"/><path d="M-46.4 1.5Q-12.2 6.8 -25.6 38.7" stroke="#f5907a" stroke-width="0.50" stroke-opacity="0.70"/><path d="M-44.9 11.8Q-11.6 9.7 -19.7 42.0" stroke="#f5907a" stroke-width="0.50" stroke-opacity="0.70"/><path d="M-23.2 -40.2Q-0.0 0.0 21.8 41.0" stroke="#f2603c" stroke-width="0.90" stroke-opacity="0.90"/><path d="M-24.6 -39.3Q-0.0 0.0 23.2 40.2" stroke="#f2603c" stroke-width="0.70" stroke-opacity="0.80"/><path d="M-6.5 -45.9Q-2.5 -26.5 -2.4 -46.3" stroke="#f07060" stroke-width="0.60" stroke-opacity="0.80"/><path d="M-43.6 15.9Q0.0 0.0 45.7 -8.1" stroke="#f8b4a4" stroke-width="0.50" stroke-opacity="0.60"/></g></g>
<g transform="translate(1710.10 262.00)"><g stroke="#d8d8d8" stroke-width="0.5"><line x1="18.4" y1="-77.9" x2="18.7" y2="-79.3"/><line x1="33.1" y1="-72.8" x2="33.7" y2="-74.2"/><line x1="46.5" y1="-65.1" x2="47.4" y2="-66.3"/><line x1="64.1" y1="-47.9" x2="65.3" y2="-48.8"/><line x1="75.6" y1="-26.1" x2="77.1" y2="-26.6"/><line x1="79.3" y1="-10.8" x2="80.8" y2="-11.0"/><line x1="79.7" y1="6.8" x2="81.2" y2="6.9"/><line x1="75.9" y1="25.3" x2="77.3" y2="25.8"/><line x1="68.9" y1="40.6" x2="70.2" y2="41.4"/><line x1="67.7" y1="42.5" x2="69.0" y2="43.3"/><line x1="66.6" y1="44.4" x2="67.8" y2="45.2"/><line x1="64.8" y1="46.9" x2="66.0" y2="47.8"/><line x1="63.6" y1="48.5" x2="64.8" y2="49.4"/><line x1="45.9" y1="65.5" x2="46.7" y2="66.8"/><line x1="23.0" y1="76.6" x2="23.4" y2="78.1"/><line x1="10.8" y1="79.3" x2="11.0" y2="80.8"/><line x1="-1.4" y1="80.0" x2="-1.4" y2="81.5"/><line x1="-5.6" y1="79.8" x2="-5.7" y2="81.3"/><line x1="-18.2" y1="77.9" x2="-18.5" y2="79.4"/><line x1="-38.2" y1="70.3" x2="-39.0" y2="71.6"/><line x1="-49.0" y1="63.2" x2="-50.0" y2="64.4"/><line x1="-53.8" y1="59.2" x2="-54.9" y2="60.3"/><line x1="-58.3" y1="54.8" x2="-59.4" y2="55.8"/><line x1="-61.9" y1="50.7" x2="-63.1" y2="51.6"/><line x1="-74.6" y1="28.9" x2="-76.0" y2="29.5"/><line x1="-79.8" y1="5.8" x2="-81.3" y2="5.9"/><line x1="-76.2" y1="-24.4" x2="-77.6" y2="-24.8"/><line x1="-58.4" y1="-54.7" x2="-59.5" y2="-55.7"/><line x1="-51.9" y1="-60.9" x2="-52.9" y2="-62.0"/><line x1="-36.6" y1="-71.2" x2="-37.3" y2="-72.5"/><line x1="-18.4" y1="-77.8" x2="-18.8" y2="-79.3"/><line x1="29.6" y1="-74.3" x2="34.8" y2="-87.3"/><line x1="55.0" y1="-58.1" x2="64.7" y2="-68.2"/><line x1="72.6" y1="-33.6" x2="85.3" y2="-39.5"/><line x1="79.9" y1="-4.3" x2="93.9" y2="-5.1"/><line x1="75.8" y1="25.6" x2="89.1" y2="30.0"/><line x1="61.0" y1="51.8" x2="71.6" y2="60.9"/><line x1="37.4" y1="70.7" x2="44.0" y2="83.1"/><line x1="8.6" y1="79.5" x2="10.1" y2="93.5"/><line x1="-21.4" y1="77.1" x2="-25.2" y2="90.6"/><line x1="-48.4" y1="63.7" x2="-56.9" y2="74.8"/><line x1="-68.6" y1="41.2" x2="-80.6" y2="48.4"/><line x1="-79.0" y1="12.9" x2="-92.8" y2="15.1"/><line x1="-78.1" y1="-17.3" x2="-91.8" y2="-20.3"/><line x1="-66.2" y1="-44.9" x2="-77.8" y2="-52.8"/><line x1="-44.8" y1="-66.3" x2="-52.7" y2="-77.8"/><line x1="-17.1" y1="-78.1" x2="-20.1" y2="-91.8"/></g><g font-size="3.4" fill="#383838"><text transform="translate(18.9 -79.8) rotate(-76.7)" dy="1.2">MT-TF</text><text transform="translate(33.9 -74.7) rotate(-65.6)" dy="1.2">MT-RNR1</text><text transform="translate(47.7 -66.7) rotate(-54.5)" dy="1.2">MT-TV</text><text transform="translate(65.7 -49.1) rotate(-36.8)" dy="1.2">MT-RNR2</text><text transform="translate(77.5 -26.7) rotate(-19.0)" dy="1.2">MT-TL1</text><text transform="translate(81.2 -11.1) rotate(-7.8)" dy="1.2">MT-ND1</text><text transform="translate(81.7 6.9) rotate(4.9)" dy="1.2">MT-TI</text><text transform="translate(77.8 25.9) rotate(18.4)" dy="1.2">MT-ND2</text><text transform="translate(70.7 41.6) rotate(30.5)" dy="1.2">MT-TW</text><text transform="translate(69.4 43.6) rotate(32.1)" dy="1.2">MT-TA</text><text transform="translate(68.2 45.5) rotate(33.7)" dy="1.2">MT-TN</text><text transform="translate(66.4 48.1) rotate(35.9)" dy="1.2">MT-TC</text><text transform="translate(65.2 49.7) rotate(37.3)" dy="1.2">MT-TY</text><text transform="translate(47.0 67.2) rotate(55.0)" dy="1.2">MT-CO1</text><text transform="translate(23.6 78.5) rotate(73.3)" dy="1.2">MT-TS1</text><text transform="translate(11.1 81.2) rotate(82.2)" dy="1.2">MT-CO2</text><text transform="translate(-1.4 82.0) rotate(271.0)" text-anchor="end" dy="1.2">MT-TK</text><text transform="translate(-5.7 81.8) rotate(274.0)" text-anchor="end" dy="1.2">MT-ATP8</text><text transform="translate(-18.6 79.9) rotate(283.1)" text-anchor="end" dy="1.2">MT-ATP6</text><text transform="translate(-39.2 72.0) rotate(298.5)" text-anchor="end" dy="1.2">MT-CO3</text><text transform="translate(-50.3 64.8) rotate(307.8)" text-anchor="end" dy="1.2">MT-TG</text><text transform="translate(-55.2 60.6) rotate(312.3)" text-anchor="end" dy="1.2">MT-ND3</text><text transform="translate(-59.7 56.2) rotate(316.8)" text-anchor="end" dy="1.2">MT-TR</text><text transform="translate(-63.5 51.9) rotate(320.7)" text-anchor="end" dy="1.2">MT-ND4L</text><text transform="translate(-76.5 29.6) rotate(338.8)" text-anchor="end" dy="1.2">MT-ND4</text><text transform="translate(-81.8 5.9) rotate(355.9)" text-anchor="end" dy="1.2">MT-TH</text><text transform="translate(-78.1 -25.0) rotate(377.7)" text-anchor="end" dy="1.2">MT-ND5</text><text transform="translate(-59.9 -56.0) rotate(403.1)" text-anchor="end" dy="1.2">MT-ND6</text><text transform="translate(-53.2 -62.4) rotate(409.6)" text-anchor="end" dy="1.2">MT-TE</text><text transform="translate(-37.5 -72.9) rotate(422.8)" text-anchor="end" dy="1.2">MT-CYB</text><text transform="translate(-18.9 -79.8) rotate(436.7)" text-anchor="end" dy="1.2">MT-TT</text><text transform="translate(35.0 -87.8) rotate(-68.3)" dy="1.2">1000</text><text transform="translate(65.0 -68.6) rotate(-46.5)" dy="1.2">2000</text><text transform="translate(85.8 -39.7) rotate(-24.8)" dy="1.2">3000</text><text transform="translate(94.4 -5.1) rotate(-3.1)" dy="1.2">4000</text><text transform="translate(89.5 30.2) rotate(18.6)" dy="1.2">5000</text><text transform="translate(72.0 61.2) rotate(40.4)" dy="1.2">6000</text><text transform="translate(44.2 83.5) rotate(62.1)" dy="1.2">7000</text><text transform="translate(10.2 94.0) rotate(83.8)" dy="1.2">8000</text><text transform="translate(-25.3 91.0) rotate(285.5)" text-anchor="end" dy="1.2">9000</text><text transform="translate(-57.2 75.2) rotate(307.3)" text-anchor="end" dy="1.2">10000</text><text transform="translate(-81.0 48.7) rotate(329.0)" text-anchor="end" dy="1.2">11000</text><text transform="translate(-93.3 15.2) rotate(350.7)" text-anchor="end" dy="1.2">12000</text><text transform="translate(-92.3 -20.4) rotate(372.5)" text-anchor="end" dy="1.2">13000</text><text transform="translate(-78.2 -53.1) rotate(394.2)" text-anchor="end" dy="1.2">14000</text><text transform="translate(-53.0 -78.3) rotate(415.9)" text-anchor="end" dy="1.2">15000</text><text transform="translate(-20.2 -92.3) rotate(437.6)" text-anchor="end" dy="1.2">16000</text></g><circle r="70.85" fill="none" stroke="url(#tube)" stroke-width="9.70"/><circle r="77.35" fill="none" stroke="#6cc06c" stroke-width="3.30"/><path d="M-16.21 -77.32A79.00 79.00 0 0 1 17.12 -77.12L16.40 -73.90A75.70 75.70 0 0 0 -15.53 -74.09Z" fill="#464646"/><path d="M17.09 -77.13A79.00 79.00 0 0 1 19.24 -76.62L18.44 -73.42A75.70 75.70 0 0 0 16.38 -73.91Z" fill="#f07f2a"/><path d="M19.22 -76.63A79.00 79.00 0 0 1 45.07 -64.88L43.19 -62.17A75.70 75.70 0 0 0 18.42 -73.43Z" fill="#9a97cc"/><path d="M45.03 -64.91A79.00 79.00 0 0 1 46.82 -63.63L44.86 -60.97A75.70 75.70 0 0 0 43.14 -62.20Z" fill="#f07f2a"/><path d="M46.78 -63.66A79.00 79.00 0 0 1 74.31 -26.82L71.21 -25.70A75.70 75.70 0 0 0 44.82 -61.00Z" fill="#9a97cc"/><path d="M74.32 -26.79A79.00 79.00 0 0 1 75.04 -24.69L71.91 -23.66A75.70 75.70 0 0 0 71.22 -25.67Z" fill="#f07f2a"/><path d="M78.92 3.62A79.00 79.00 0 0 1 78.39 9.76L75.12 9.36A75.70 75.70 0 0 0 75.62 3.47Z" fill="#f07f2a"/><path d="M68.63 39.13A79.00 79.00 0 0 1 67.51 41.03L64.69 39.32A75.70 75.70 0 0 0 65.76 37.49Z" fill="#f07f2a"/><path d="M67.48 41.08A79.00 79.00 0 0 1 66.31 42.94L63.54 41.15A75.70 75.70 0 0 0 64.66 39.36Z" fill="#f07f2a"/><path d="M66.33 42.90A79.00 79.00 0 0 1 65.11 44.74L62.39 42.87A75.70 75.70 0 0 0 63.56 41.11Z" fill="#f07f2a"/><path d="M64.65 45.40A79.00 79.00 0 0 1 63.36 47.19L60.71 45.22A75.70 75.70 0 0 0 61.95 43.50Z" fill="#f07f2a"/><path d="M63.51 46.98A79.00 79.00 0 0 1 62.18 48.73L59.58 46.70A75.70 75.70 0 0 0 60.86 45.02Z" fill="#f07f2a"/><path d="M24.70 75.04A79.00 79.00 0 0 1 20.71 76.24L19.85 73.05A75.70 75.70 0 0 0 23.67 71.91Z" fill="#f07f2a"/><path d="M-0.25 79.00A79.00 79.00 0 0 1 -2.45 78.96L-2.35 75.66A75.70 75.70 0 0 0 -0.23 75.70Z" fill="#f07f2a"/><path d="M-8.60 78.53A79.00 79.00 0 0 1 -27.08 74.22L-25.94 71.12A75.70 75.70 0 0 0 -8.24 75.25Z" fill="#1f8a3c"/><path d="M-47.55 63.09A79.00 79.00 0 0 1 -49.29 61.74L-47.23 59.16A75.70 75.70 0 0 0 -45.56 60.45Z" fill="#f07f2a"/><path d="M-56.80 54.91A79.00 79.00 0 0 1 -58.31 53.30L-55.87 51.08A75.70 75.70 0 0 0 -54.42 52.62Z" fill="#f07f2a"/><path d="M-63.84 46.53A79.00 79.00 0 0 1 -78.52 8.66L-75.24 8.30A75.70 75.70 0 0 0 -61.18 44.58Z" fill="#1f8a3c"/><path d="M-78.53 8.63A79.00 79.00 0 0 1 -78.95 2.72L-75.66 2.60A75.70 75.70 0 0 0 -75.25 8.27Z" fill="#f07f2a"/><path d="M-62.74 -48.00A79.00 79.00 0 0 1 -52.03 -59.45L-49.86 -56.96A75.70 75.70 0 0 0 -60.12 -46.00Z" fill="#1f8a3c"/><path d="M-52.07 -59.41A79.00 79.00 0 0 1 -50.39 -60.84L-48.29 -58.30A75.70 75.70 0 0 0 -49.90 -56.93Z" fill="#f07f2a"/><path d="M-20.18 -76.38A79.00 79.00 0 0 1 -16.24 -77.31L-15.56 -74.08A75.70 75.70 0 0 0 -19.33 -73.19Z" fill="#f07f2a"/><g stroke="#dddddd" stroke-width="0.5"><line x1="0.0" y1="-46.4" x2="0.0" y2="-65.0"/><line x1="17.2" y1="-43.1" x2="24.1" y2="-60.4"/><line x1="31.9" y1="-33.7" x2="44.7" y2="-47.2"/><line x1="42.1" y1="-19.5" x2="59.0" y2="-27.3"/><line x1="46.3" y1="-2.5" x2="64.9" y2="-3.5"/><line x1="44.0" y1="14.8" x2="61.6" y2="20.8"/><line x1="35.4" y1="30.1" x2="49.5" y2="42.1"/><line x1="21.7" y1="41.0" x2="30.4" y2="57.4"/><line x1="5.0" y1="46.1" x2="7.0" y2="64.6"/><line x1="-12.4" y1="44.7" x2="-17.4" y2="62.6"/><line x1="-28.1" y1="36.9" x2="-39.4" y2="51.7"/><line x1="-39.8" y1="23.9" x2="-55.7" y2="33.5"/><line x1="-45.8" y1="7.5" x2="-64.2" y2="10.5"/><line x1="-45.3" y1="-10.0" x2="-63.5" y2="-14.0"/><line x1="-38.4" y1="-26.1" x2="-53.8" y2="-36.5"/><line x1="-26.0" y1="-38.4" x2="-36.4" y2="-53.8"/><line x1="-9.9" y1="-45.3" x2="-13.9" y2="-63.5"/></g><line x1="11.5" y1="-78.7" x2="13.0" y2="-89.1" stroke="#111" stroke-width="0.9"/><line x1="65.5" y1="45.0" x2="77.6" y2="49.4" stroke="#111" stroke-width="0.7"/><path d="M0.0 -65.2 1.7 -65.2 3.4 -65.1 5.1 -65.0 6.8 -64.8 8.5 -64.6 10.2 -64.4 11.9 -64.1 13.6 -63.8 15.2 -63.4 16.9 -63.0 18.5 -62.5 20.1 -62.0 21.8 -61.5 23.4 -60.9 25.0 -60.2 26.5 -59.6 28.1 -58.8 29.6 -58.1 31.1 -57.3 32.6 -56.5 34.1 -55.6 35.5 -54.7 36.9 -53.7 38.3 -52.7 39.7 -51.7 41.0 -50.7 42.3 -49.6 43.6 -48.5 44.9 -47.3 46.1 -46.1 47.3 -44.9 48.5 -43.6 49.6 -42.3 50.7 -41.0 51.7 -39.7 52.7 -38.3 53.7 -36.9 54.7 -35.5 55.6 -34.1 56.5 -32.6 57.3 -31.1 58.1 -29.6 58.8 -28.1 59.6 -26.5 60.2 -25.0 60.9 -23.4 61.5 -21.8 62.0 -20.1 62.5 -18.5 63.0 -16.9 63.4 -15.2 63.8 -13.6 64.1 -11.9 64.4 -10.2 64.6 -8.5 64.8 -6.8 65.0 -5.1 65.1 -3.4 65.2 -1.7 65.2 -0.0 65.2 1.7 65.1 3.4 65.0 5.1 64.8 6.8 64.6 8.5 64.4 10.2 64.1 11.9 63.8 13.6 63.4 15.2 63.0 16.9 62.5 18.5 62.0 20.1 61.5 21.8 60.9 23.4 60.2 25.0 59.6 26.5 58.8 28.1 58.1 29.6 57.3 31.1 56.5 32.6 55.6 34.1 54.7 35.5 53.7 36.9 52.7 38.3 51.7 39.7 50.7 41.0 49.6 42.3 48.5 43.6 47.3 44.9 46.1 46.1 44.9 47.3 43.6 48.5 42.3 49.6 41.0 50.7 39.7 51.7 38.3 52.7 36.9 53.7 35.5 54.7 34.1 55.6 32.6 56.5 31.1 57.3 29.6 58.1 28.1 58.8 26.5 59.6 25.0 60.2 23.4 60.9 21.8 61.5 20.1 62.0 18.5 62.5 16.9 63.0 15.2 63.4 13.6 63.8 11.9 64.1 10.2 64.4 8.5 64.6 6.8 64.8 5.1 65.0 3.4 65.1 1.7 65.2 0.0 65.2 -1.7 65.2 -3.4 65.1 -5.1 65.0 -6.8 64.8 -8.5 64.6 -10.2 64.4 -11.9 64.1 -13.6 63.8 -15.2 63.4 -16.9 63.0 -18.5 62.5 -20.1 62.0 -21.8 61.5 -23.4 60.9 -25.0 60.2 -26.5 59.6 -28.1 58.8 -29.6 58.1 -31.1 57.3 -32.6 56.5 -34.1 55.6 -35.5 54.7 -36.9 53.7 -38.3 52.7 -39.7 51.7 -41.0 50.7 -42.3 49.6 -43.6 48.5 -44.9 47.3 -46.1 46.1 -47.3 44.9 -48.5 43.6 -49.6 42.3 -50.7 41.0 -51.7 39.7 -52.7 38.3 -53.7 36.9 -54.7 35.5 -55.6 34.1 -56.5 32.6 -57.3 31.1 -58.1 29.6 -58.8 28.1 -59.6 26.5 -60.2 25.0 -60.9 23.4 -61.5 21.8 -62.0 20.1 -62.5 18.5 -63.0 16.9 -63.4 15.2 -63.8 13.6 -64.1 11.9 -64.4 10.2 -64.6 8.5 -64.8 6.8 -65.0 5.1 -65.1 3.4 -65.2 1.7 -65.2 0.0 -65.2 -1.7 -65.1 -3.4 -65.0 -5.1 -64.8 -6.8 -64.6 -8.5 -64.4 -10.2 -64.1 -11.9 -63.8 -13.6 -63.4 -15.2 -63.0 -16.9 -62.5 -18.5 -62.0 -20.1 -61.5 -21.8 -60.9 -23.4 -60.2 -25.0 -59.6 -26.5 -58.8 -28.1 -58.1 -29.6 -57.3 -31.1 -56.5 -32.6 -55.6 -34.1 -54.7 -35.5 -53.7 -36.9 -52.7 -38.3 -51.7 -39.7 -50.7 -41.0 -49.6 -42.3 -48.5 -43.6 -47.3 -44.9 -46.1 -46.1 -44.9 -47.3 -43.6 -48.5 -42.3 -49.6 -41.0 -50.7 -39.7 -51.7 -38.3 -52.7 -36.9 -53.7 -35.5 -54.7 -34.1 -55.6 -32.6 -56.5 -31.1 -57.3 -29.6 -58.1 -28.1 -58.8 -26.5 -59.6 -25.0 -60.2 -23.4 -60.9 -21.8 -61.5 -20.1 -62.0 -18.5 -62.5 -16.9 -63.0 -15.2 -63.4 -13.6 -63.8 -11.9 -64.1 -10.2 -64.4 -8.5 -64.6 -6.8 -64.8 -5.1 -65.0 -3.4 -65.1 -1.7 -65.2ZM-1.7 -64.9 -3.4 -64.7 -5.1 -64.5 -6.8 -64.5 -8.5 -64.6 -10.2 -64.3 -11.8 -63.8 -13.5 -63.3 -15.1 -63.0 -16.8 -62.6 -18.4 -62.1 -20.0 -61.6 -21.7 -61.2 -23.3 -60.7 -24.9 -60.1 -26.4 -59.4 -28.0 -58.6 -29.5 -57.8 -30.9 -57.0 -32.4 -56.2 -33.9 -55.3 -35.4 -54.5 -36.8 -53.5 -38.1 -52.5 -39.5 -51.5 -40.9 -50.5 -42.2 -49.4 -43.4 -48.2 -44.6 -47.0 -45.9 -45.9 -47.0 -44.6 -48.1 -43.3 -49.3 -42.1 -50.6 -41.0 -51.7 -39.7 -52.6 -38.2 -53.4 -36.7 -54.3 -35.3 -55.4 -33.9 -56.4 -32.5 -57.2 -31.0 -57.8 -29.5 -58.5 -27.9 -59.2 -26.4 -59.8 -24.8 -60.4 -23.2 -61.0 -21.6 -61.7 -20.0 -62.3 -18.5 -62.8 -16.8 -63.2 -15.2 -63.6 -13.5 -63.8 -11.8 -64.0 -10.1 -64.2 -8.5 -64.5 -6.8 -64.8 -5.1 -65.0 -3.4 -65.0 -1.7 -64.9 0.0 -64.8 1.7 -64.7 3.4 -64.6 5.1 -64.4 6.8 -64.2 8.5 -64.1 10.1 -63.9 11.8 -63.5 13.5 -63.1 15.1 -62.6 16.8 -62.2 18.4 -61.8 20.1 -61.3 21.7 -60.7 23.3 -60.0 24.9 -59.2 26.4 -58.4 27.9 -57.7 29.4 -57.0 30.9 -56.3 32.5 -55.3 33.9 -54.3 35.3 -53.3 36.6 -52.3 38.0 -51.3 39.4 -50.2 40.7 -49.0 41.9 -47.8 43.1 -46.6 44.3 -45.5 45.5 -44.2 46.6 -42.9 47.6 -41.6 48.7 -40.3 49.8 -39.0 50.9 -37.7 51.9 -36.3 52.8 -34.8 53.6 -33.3 54.4 -31.8 55.2 -30.3 55.8 -28.7 56.3 -27.0 56.7 -25.4 57.1 -23.8 57.5 -22.2 57.9 -20.6 58.3 -19.0 58.6 -17.4 58.8 -15.8 59.0 -14.2 59.2 -12.6 59.4 -11.0 59.5 -9.5 59.7 -7.9 59.9 -6.3 60.0 -4.7 60.1 -3.2 60.4 -1.6 60.5 0.0 60.6 1.6 60.6 3.2 60.7 4.8 60.8 6.4 60.7 8.0 60.6 9.6 60.4 11.2 60.3 12.8 60.3 14.4 60.1 16.0 59.9 17.7 59.7 19.3 59.5 20.9 59.1 22.5 58.6 24.1 58.1 25.7 57.7 27.3 57.3 28.9 56.7 30.4 56.1 32.1 55.5 33.6 54.8 35.1 54.0 36.5 53.2 37.9 52.2 39.2 51.1 40.4 49.9 41.7 48.8 43.0 47.8 44.3 46.7 45.5 45.5 46.7 44.3 47.8 43.1 48.9 41.8 50.1 40.5 51.2 39.3 52.2 38.0 53.2 36.5 54.1 35.1 55.0 33.7 55.9 32.3 56.7 30.8 57.4 29.3 58.3 27.8 59.1 26.3 59.8 24.8 60.3 23.2 61.0 21.6 61.7 20.1 62.2 18.4 62.5 16.8 62.8 15.1 63.2 13.4 63.6 11.8 63.9 10.1 64.2 8.5 64.5 6.8 64.7 5.1 64.7 3.4 64.8 1.7 65.0 -0.0 65.0 -1.7 64.9 -3.4 64.8 -5.1 64.7 -6.8 64.5 -8.5 64.1 -10.2 63.6 -11.8 63.3 -13.5 63.0 -15.1 62.6 -16.8 62.2 -18.4 61.7 -20.0 61.1 -21.6 60.5 -23.2 60.0 -24.8 59.4 -26.4 58.7 -28.0 57.9 -29.5 57.1 -31.0 56.3 -32.5 55.4 -34.0 54.4 -35.3 53.4 -36.7 52.3 -38.0 51.4 -39.4 50.5 -40.9 49.4 -42.2 48.3 -43.5 47.0 -44.6 45.8 -45.8 44.6 -47.0 43.4 -48.2 42.1 -49.3 40.8 -50.3 39.4 -51.4 38.2 -52.5 36.9 -53.6 35.4 -54.6 34.0 -55.5 32.5 -56.4 31.0 -57.2 29.4 -57.8 27.8 -58.4 26.3 -59.1 24.8 -59.9 23.3 -60.7 21.7 -61.2 20.0 -61.6 18.4 -62.0 16.8 -62.5 15.2 -63.1 13.5 -63.6 11.9 -64.0 10.2 -64.3 8.5 -64.4 6.8 -64.6 5.1 -64.7 3.4 -64.7 1.7 -64.8 0.0 -64.9Z" fill="#98c8f8" fill-rule="evenodd"/><path d="M0.0 -64.9 1.7 -64.8 3.4 -64.7 5.1 -64.7 6.8 -64.6 8.5 -64.4 10.2 -64.3 11.9 -64.0 13.5 -63.6 15.2 -63.1 16.8 -62.5 18.4 -62.0 20.0 -61.6 21.7 -61.2 23.3 -60.7 24.8 -59.9 26.3 -59.1 27.8 -58.4 29.4 -57.8 31.0 -57.2 32.5 -56.4 34.0 -55.5 35.4 -54.6 36.9 -53.6 38.2 -52.5 39.4 -51.4 40.8 -50.3 42.1 -49.3 43.4 -48.2 44.6 -47.0 45.8 -45.8 47.0 -44.6 48.3 -43.5 49.4 -42.2 50.5 -40.9 51.4 -39.4 52.3 -38.0 53.4 -36.7 54.4 -35.3 55.4 -34.0 56.3 -32.5 57.1 -31.0 57.9 -29.5 58.7 -28.0 59.4 -26.4 60.0 -24.8 60.5 -23.2 61.1 -21.6 61.7 -20.0 62.2 -18.4 62.6 -16.8 63.0 -15.1 63.3 -13.5 63.6 -11.8 64.1 -10.2 64.5 -8.5 64.7 -6.8 64.8 -5.1 64.9 -3.4 65.0 -1.7 65.0 -0.0 64.8 1.7 64.7 3.4 64.7 5.1 64.5 6.8 64.2 8.5 63.9 10.1 63.6 11.8 63.2 13.4 62.8 15.1 62.5 16.8 62.2 18.4 61.7 20.1 61.0 21.6 60.3 23.2 59.8 24.8 59.1 26.3 58.3 27.8 57.4 29.3 56.7 30.8 55.9 32.3 55.0 33.7 54.1 35.1 53.2 36.5 52.2 38.0 51.2 39.3 50.1 40.5 48.9 41.8 47.8 43.1 46.7 44.3 45.5 45.5 44.3 46.7 43.0 47.8 41.7 48.8 40.4 49.9 39.2 51.1 37.9 52.2 36.5 53.2 35.1 54.0 33.6 54.8 32.1 55.5 30.4 56.1 28.9 56.7 27.3 57.3 25.7 57.7 24.1 58.1 22.5 58.6 20.9 59.1 19.3 59.5 17.7 59.7 16.0 59.9 14.4 60.1 12.8 60.3 11.2 60.3 9.6 60.4 8.0 60.6 6.4 60.7 4.8 60.8 3.2 60.7 1.6 60.6 0.0 60.6 -1.6 60.5 -3.2 60.4 -4.7 60.1 -6.3 60.0 -7.9 59.9 -9.5 59.7 -11.0 59.5 -12.6 59.4 -14.2 59.2 -15.8 59.0 -17.4 58.8 -19.0 58.6 -20.6 58.3 -22.2 57.9 -23.8 57.5 -25.4 57.1 -27.0 56.7 -28.7 56.3 -30.3 55.8 -31.8 55.2 -33.3 54.4 -34.8 53.6 -36.3 52.8 -37.7 51.9 -39.0 50.9 -40.3 49.8 -41.6 48.7 -42.9 47.6 -44.2 46.6 -45.5 45.5 -46.6 44.3 -47.8 43.1 -49.0 41.9 -50.2 40.7 -51.3 39.4 -52.3 38.0 -53.3 36.6 -54.3 35.3 -55.3 33.9 -56.3 32.5 -57.0 30.9 -57.7 29.4 -58.4 27.9 -59.2 26.4 -60.0 24.9 -60.7 23.3 -61.3 21.7 -61.8 20.1 -62.2 18.4 -62.6 16.8 -63.1 15.1 -63.5 13.5 -63.9 11.8 -64.1 10.1 -64.2 8.5 -64.4 6.8 -64.6 5.1 -64.7 3.4 -64.8 1.7 -64.9 0.0 -65.0 -1.7 -65.0 -3.4 -64.8 -5.1 -64.5 -6.8 -64.2 -8.5 -64.0 -10.1 -63.8 -11.8 -63.6 -13.5 -63.2 -15.2 -62.8 -16.8 -62.3 -18.5 -61.7 -20.0 -61.0 -21.6 -60.4 -23.2 -59.8 -24.8 -59.2 -26.4 -58.5 -27.9 -57.8 -29.5 -57.2 -31.0 -56.4 -32.5 -55.4 -33.9 -54.3 -35.3 -53.4 -36.7 -52.6 -38.2 -51.7 -39.7 -50.6 -41.0 -49.3 -42.1 -48.1 -43.3 -47.0 -44.6 -45.9 -45.9 -44.6 -47.0 -43.4 -48.2 -42.2 -49.4 -40.9 -50.5 -39.5 -51.5 -38.1 -52.5 -36.8 -53.5 -35.4 -54.5 -33.9 -55.3 -32.4 -56.2 -30.9 -57.0 -29.5 -57.8 -28.0 -58.6 -26.4 -59.4 -24.9 -60.1 -23.3 -60.7 -21.7 -61.2 -20.0 -61.6 -18.4 -62.1 -16.8 -62.6 -15.1 -63.0 -13.5 -63.3 -11.8 -63.8 -10.2 -64.3 -8.5 -64.6 -6.8 -64.5 -5.1 -64.5 -3.4 -64.7 -1.7 -64.9Z" fill="none" stroke="#3b63ec" stroke-width="0.55"/><path d="M0.0 -58.5 1.5 -58.8 3.1 -59.3 4.7 -59.4 6.2 -58.8 7.7 -58.2 9.2 -58.0 10.7 -57.8 12.2 -57.4 13.7 -56.9 15.2 -56.8 16.8 -56.6 18.2 -56.0 19.5 -55.2 20.9 -54.5 22.4 -54.1 23.8 -53.5 25.1 -52.6 26.3 -51.6 27.5 -50.6 28.7 -49.8 30.1 -49.1 31.7 -48.9 33.5 -48.7 34.8 -47.9 35.7 -46.5 36.6 -45.1 37.8 -44.2 39.1 -43.4 40.3 -42.4 41.3 -41.3 42.3 -40.1 43.1 -38.8 43.6 -37.3 44.1 -35.7 45.1 -34.6 46.4 -33.7 47.4 -32.6 48.1 -31.2 49.0 -30.0 50.2 -29.0 51.1 -27.8 51.7 -26.3 52.2 -24.9 53.1 -23.7 54.1 -22.4 54.5 -20.9 54.3 -19.2 54.1 -17.6 54.3 -16.1 54.9 -14.7 55.4 -13.3 55.7 -11.8 56.0 -10.4 56.4 -8.9 56.6 -7.5 56.6 -6.0 56.5 -4.4 56.8 -3.0 57.4 -1.5 57.7 -0.0 57.4 1.5 57.0 3.0 57.1 4.5 57.5 6.0 57.4 7.6 56.8 9.0 56.2 10.4 55.8 11.9 55.6 13.3 55.3 14.8 55.1 16.3 55.2 17.9 55.0 19.5 54.3 20.9 53.5 22.2 52.9 23.5 52.3 24.9 51.6 26.3 51.0 27.7 50.6 29.2 50.1 30.7 49.3 32.0 48.3 33.2 47.3 34.4 46.6 35.8 45.9 37.1 44.9 38.4 43.7 39.4 42.6 40.4 41.6 41.6 40.7 42.9 39.6 43.9 38.1 44.6 36.7 45.3 35.6 46.4 34.7 47.7 33.5 48.7 32.0 49.2 30.5 49.8 29.2 50.6 28.0 51.6 26.6 52.3 25.2 52.8 23.8 53.5 22.6 54.5 21.2 55.3 19.7 55.7 18.1 55.7 16.5 55.7 15.0 55.8 13.5 56.1 12.0 56.5 10.6 57.0 9.1 57.5 7.6 57.9 6.1 58.1 4.6 58.0 3.0 58.0 1.5 58.1 0.0 58.1 -1.5 58.0 -3.0 57.9 -4.6 57.9 -6.1 57.7 -7.5 57.2 -9.0 56.7 -10.5 56.4 -12.0 56.4 -13.5 56.4 -15.1 56.3 -16.5 55.8 -17.9 55.0 -19.1 54.0 -20.4 53.1 -21.8 52.6 -23.2 52.2 -24.6 51.7 -26.0 51.1 -27.4 50.5 -28.8 49.9 -30.0 49.0 -31.1 47.9 -32.4 47.2 -33.9 46.7 -35.2 45.9 -36.1 44.6 -36.8 43.1 -37.7 41.9 -39.0 41.1 -40.4 40.4 -41.7 39.5 -42.6 38.4 -43.3 37.0 -44.1 35.7 -45.2 34.7 -46.4 33.7 -47.2 32.5 -47.7 31.0 -48.3 29.6 -49.4 28.5 -50.7 27.5 -51.8 26.4 -52.5 25.0 -52.8 23.5 -53.0 21.9 -53.4 20.5 -54.4 19.3 -55.4 18.0 -55.6 16.5 -55.2 14.8 -54.9 13.2 -55.5 11.8 -56.5 10.5 -57.5 9.1 -58.2 7.7 -58.5 6.1 -58.3 4.6 -57.8 3.0 -57.4 1.5 -57.5 0.0 -57.6 -1.5 -57.7 -3.0 -57.7 -4.5 -57.9 -6.1 -58.1 -7.6 -58.0 -9.2 -57.7 -10.7 -57.3 -12.2 -56.6 -13.6 -55.9 -15.0 -55.5 -16.4 -55.4 -18.0 -55.2 -19.5 -54.5 -20.9 -53.9 -22.3 -53.7 -23.9 -53.4 -25.5 -52.4 -26.7 -51.2 -27.8 -50.3 -29.0 -49.7 -30.5 -49.1 -31.9 -48.3 -33.2 -47.6 -34.6 -46.9 -36.0 -46.0 -37.3 -45.0 -38.4 -44.0 -39.6 -43.0 -40.8 -41.9 -41.9 -40.5 -42.7 -39.3 -43.6 -38.2 -44.8 -37.2 -45.9 -36.0 -46.9 -34.6 -47.7 -33.3 -48.5 -32.0 -49.2 -30.6 -50.0 -29.4 -50.9 -28.2 -51.9 -26.8 -52.6 -25.3 -53.1 -23.9 -53.7 -22.7 -54.7 -21.4 -55.7 -19.9 -56.2 -18.3 -56.4 -16.8 -56.6 -15.3 -57.0 -13.8 -57.4 -12.2 -57.6 -10.7 -57.7 -9.2 -57.9 -7.7 -58.2 -6.2 -58.7 -4.6 -59.0 -3.1 -59.0 -1.5 -58.6Z" fill="none" stroke="#5a5af0" stroke-width="0.60"/><path d="M0.0 -63.6 1.7 -63.6 3.3 -63.5 5.0 -63.4 6.6 -63.3 8.3 -63.1 9.9 -62.8 11.6 -62.5 13.2 -62.2 14.8 -61.8 16.5 -61.4 18.1 -61.0 19.7 -60.5 21.2 -60.0 22.8 -59.4 24.3 -58.8 25.9 -58.1 27.4 -57.4 28.9 -56.7 30.3 -55.9 31.8 -55.1 33.2 -54.2 34.6 -53.3 36.0 -52.4 37.4 -51.5 38.7 -50.5 40.0 -49.4 41.3 -48.4 42.6 -47.3 43.8 -46.1 45.0 -45.0 46.1 -43.8 47.3 -42.6 48.4 -41.3 49.4 -40.0 50.5 -38.7 51.5 -37.4 52.4 -36.0 53.3 -34.6 54.2 -33.2 55.1 -31.8 55.9 -30.3 56.7 -28.9 57.4 -27.4 58.1 -25.9 58.8 -24.3 59.4 -22.8 60.0 -21.2 60.5 -19.7 61.0 -18.1 61.4 -16.5 61.8 -14.8 62.2 -13.2 62.5 -11.6 62.8 -9.9 63.1 -8.3 63.3 -6.6 63.4 -5.0 63.5 -3.3 63.6 -1.7 63.6 -0.0 63.6 1.7 63.5 3.3 63.4 5.0 63.3 6.6 63.1 8.3 62.8 9.9 62.5 11.6 62.2 13.2 61.8 14.8 61.4 16.5 61.0 18.1 60.5 19.7 60.0 21.2 59.4 22.8 58.8 24.3 58.1 25.9 57.4 27.4 56.7 28.9 55.9 30.3 55.1 31.8 54.2 33.2 53.3 34.6 52.4 36.0 51.5 37.4 50.5 38.7 49.4 40.0 48.4 41.3 47.3 42.6 46.1 43.8 45.0 45.0 43.8 46.1 42.6 47.3 41.3 48.4 40.0 49.4 38.7 50.5 37.4 51.5 36.0 52.4 34.6 53.3 33.2 54.2 31.8 55.1 30.3 55.9 28.9 56.7 27.4 57.4 25.9 58.1 24.3 58.8 22.8 59.4 21.2 60.0 19.7 60.5 18.1 61.0 16.5 61.4 14.8 61.8 13.2 62.2 11.6 62.5 9.9 62.8 8.3 63.1 6.6 63.3 5.0 63.4 3.3 63.5 1.7 63.6 0.0 63.6 -1.7 63.6 -3.3 63.5 -5.0 63.4 -6.6 63.3 -8.3 63.1 -9.9 62.8 -11.6 62.5 -13.2 62.2 -14.8 61.8 -16.5 61.4 -18.1 61.0 -19.7 60.5 -21.2 60.0 -22.8 59.4 -24.3 58.8 -25.9 58.1 -27.4 57.4 -28.9 56.7 -30.3 55.9 -31.8 55.1 -33.2 54.2 -34.6 53.3 -36.0 52.4 -37.4 51.5 -38.7 50.5 -40.0 49.4 -41.3 48.4 -42.6 47.3 -43.8 46.1 -45.0 45.0 -46.1 43.8 -47.3 42.6 -48.4 41.3 -49.4 40.0 -50.5 38.7 -51.5 37.4 -52.4 36.0 -53.3 34.6 -54.2 33.2 -55.1 31.8 -55.9 30.3 -56.7 28.9 -57.4 27.4 -58.1 25.9 -58.8 24.3 -59.4 22.8 -60.0 21.2 -60.5 19.7 -61.0 18.1 -61.4 16.5 -61.8 14.8 -62.2 13.2 -62.5 11.6 -62.8 9.9 -63.1 8.3 -63.3 6.6 -63.4 5.0 -63.5 3.3 -63.6 1.7 -63.6 0.0 -63.6 -1.7 -63.5 -3.3 -63.4 -5.0 -63.3 -6.6 -63.1 -8.3 -62.8 -9.9 -62.5 -11.6 -62.2 -13.2 -61.8 -14.8 -61.4 -16.5 -61.0 -18.1 -60.5 -19.7 -60.0 -21.2 -59.4 -22.8 -58.8 -24.3 -58.1 -25.9 -57.4 -27.4 -56.7 -28.9 -55.9 -30.3 -55.1 -31.8 -54.2 -33.2 -53.3 -34.6 -52.4 -36.0 -51.5 -37.4 -50.5 -38.7 -49.4 -40.0 -48.4 -41.3 -47.3 -42.6 -46.1 -43.8 -45.0 -45.0 -43.8 -46.1 -42.6 -47.3 -41.3 -48.4 -40.0 -49.4 -38.7 -50.5 -37.4 -51.5 -36.0 -52.4 -34.6 -53.3 -33.2 -54.2 -31.8 -55.1 -30.3 -55.9 -28.9 -56.7 -27.4 -57.4 -25.9 -58.1 -24.3 -58.8 -22.8 -59.4 -21.2 -60.0 -19.7 -60.5 -18.1 -61.0 -16.5 -61.4 -14.8 -61.8 -13.2 -62.2 -11.6 -62.5 -9.9 -62.8 -8.3 -63.1 -6.6 -63.3 -5.0 -63.4 -3.3 -63.5 -1.7 -63.6Z" fill="none" stroke="#63acf3" stroke-width="0.70"/><circle r="65.50" fill="none" stroke="#1a1a1a" stroke-width="0.8" stroke-dasharray="194.3 217.2" transform="rotate(235.0)"/><path d="M46.3 46.3 L45.5 48.1 L44.3 49.4 L42.8 50.5 L41.5 51.8 L40.3 53.4 L39.1 54.8 L37.5 55.8 L35.9 56.7 L34.4 57.8 L33.0 59.2 L31.5 60.3 L29.8 61.1 L28.0 61.7 L26.4 62.7 L24.8 63.8 L23.1 64.7 L21.3 65.1 L19.4 65.6 L17.7 66.3 L15.9 67.3 L14.1 67.8 L12.2 67.9 L10.3 68.1 L8.4 68.7 L6.6 69.3 L4.7 69.5 L2.7 69.4 L0.8 69.4 L-1.1 69.7 L-3.1 70.0 L-5.0 69.9 L-6.9 69.4 L-8.8 69.2 L-10.8 69.3 L-12.7 69.3 L-14.6 68.8 L-16.5 68.1 L-18.3 67.7 L-20.3 67.6 L-22.3 67.2 L-24.0 66.3 L-25.8 65.4 L-27.6 64.8 L-29.6 64.4 L-31.4 63.7 L-33.0 62.5 L-34.6 61.4 L-36.4 60.6 L-38.3 59.9 L-39.9 58.8 L-41.4 57.5 L-42.8 56.1 L-44.5 55.1 L-46.3 54.2 L-47.7 52.8 L-48.9 51.2 L-50.2 49.8 L-51.8 48.6 L-53.3 47.3 L-54.5 45.7 L-55.5 44.0 L-56.6 42.4 L-58.0 41.0 L-59.3 39.5 L-60.2 37.7 L-60.9 35.9 L-61.9 34.2 L-63.1 32.6 L-64.1 30.9 L-64.7 29.0 L-65.2 27.1 L-65.9 25.3 L-66.9 23.6 L-67.6 21.7 L-67.8 19.8 L-68.1 17.8 L-68.7 16.0 L-69.4 14.1 L-69.7 12.2 L-69.6 10.2 L-69.6 8.2 L-70.0 6.3 L-70.4 4.4 L-70.4 2.5 L-70.0 0.5 L-69.8 -1.4 L-70.0 -3.4 L-70.1 -5.3 L-69.7 -7.2 L-69.0 -9.1 L-68.6 -11.0 L-68.5 -12.9 L-68.3 -14.8 L-67.6 -16.6 L-66.6 -18.4 L-66.0 -20.2 L-65.7 -22.1 L-65.1 -23.9 L-64.1 -25.6 L-63.0 -27.2 L-62.2 -28.9 L-61.6 -30.7 L-60.7 -32.4 L-59.4 -33.9 L-58.1 -35.3 L-57.2 -36.9 L-56.3 -38.6 L-55.1 -40.1 L-53.6 -41.3 L-52.2 -42.5 L-51.1 -44.0 L-50.0 -45.5 L-48.5 -46.7 L-46.9 -47.7 L-45.3 -48.7 L-44.0 -50.0 L-42.7 -51.3 L-41.0 -52.2 L-39.2 -52.8 L-37.4 -53.4" fill="none" stroke="#1a1a1a" stroke-width="0.8"/><circle r="46.40" fill="none" stroke="#555" stroke-width="0.7"/><g stroke="#3a3a3a" stroke-width="0.5"><line x1="-3.8" y1="-46.2" x2="-4.0" y2="-48.8"/><line x1="-4.9" y1="-46.1" x2="-5.2" y2="-48.9"/><line x1="-5.4" y1="-46.1" x2="-5.7" y2="-48.2"/><line x1="-0.7" y1="-46.4" x2="-0.8" y2="-48.4"/><line x1="0.6" y1="-46.4" x2="0.7" y2="-50.1"/><line x1="-0.4" y1="-46.4" x2="-0.4" y2="-50.4"/><line x1="-5.1" y1="-46.1" x2="-5.5" y2="-49.6"/><line x1="6.6" y1="-45.9" x2="7.3" y2="-50.2"/><line x1="4.2" y1="-46.2" x2="4.4" y2="-48.3"/><line x1="4.2" y1="-46.2" x2="4.5" y2="-49.4"/></g><g fill="none"><path d="M-46.3 2.5Q-2.2 2.7 7.6 45.8" stroke="#f2603c" stroke-width="0.51" stroke-opacity="0.54"/><path d="M-28.9 -36.3Q-0.0 0.0 22.2 40.8" stroke="#f2603c" stroke-width="0.65" stroke-opacity="0.83"/><path d="M-31.3 -34.2Q-0.0 0.0 19.1 42.3" stroke="#f2603c" stroke-width="0.80" stroke-opacity="0.90"/><path d="M-44.9 11.9Q-3.3 5.2 8.2 45.7" stroke="#f2603c" stroke-width="0.93" stroke-opacity="0.61"/><path d="M-44.7 -12.3Q-0.0 0.0 14.7 44.0" stroke="#f58c72" stroke-width="1.08" stroke-opacity="0.90"/><path d="M-40.7 22.3Q-6.4 10.6 -0.3 46.4" stroke="#f58c72" stroke-width="0.64" stroke-opacity="0.66"/><path d="M-40.8 22.0Q-5.3 9.7 3.6 46.3" stroke="#f58c72" stroke-width="0.56" stroke-opacity="0.78"/><path d="M-36.4 -28.8Q-0.0 0.0 19.5 42.1" stroke="#f2603c" stroke-width="0.60" stroke-opacity="0.84"/><path d="M-35.1 -30.3Q-0.0 0.0 18.6 42.5" stroke="#f2603c" stroke-width="1.03" stroke-opacity="0.77"/><path d="M-33.6 32.0Q-6.9 15.2 -2.0 46.4" stroke="#f2603c" stroke-width="0.70" stroke-opacity="0.86"/><path d="M-33.7 31.9Q-7.1 15.3 -2.6 46.3" stroke="#f2603c" stroke-width="0.86" stroke-opacity="0.60"/><path d="M-44.7 -12.4Q-0.0 0.0 13.8 44.3" stroke="#f58c72" stroke-width="0.77" stroke-opacity="0.76"/><path d="M-32.9 32.7Q-7.0 15.7 -2.3 46.3" stroke="#f2603c" stroke-width="0.99" stroke-opacity="0.69"/><path d="M-42.0 -19.8Q-0.0 0.0 14.5 44.1" stroke="#f2603c" stroke-width="0.58" stroke-opacity="0.94"/><path d="M-40.0 -23.6Q-0.0 0.0 12.3 44.7" stroke="#f2603c" stroke-width="0.90" stroke-opacity="0.66"/><path d="M-46.3 2.8Q-2.5 3.1 6.3 46.0" stroke="#f58c72" stroke-width="0.97" stroke-opacity="0.56"/><path d="M-44.2 14.2Q-4.2 6.6 5.8 46.0" stroke="#f2603c" stroke-width="0.62" stroke-opacity="0.63"/><path d="M-40.7 22.4Q-5.1 9.7 4.4 46.2" stroke="#f58c72" stroke-width="0.92" stroke-opacity="0.61"/><path d="M-33.4 -32.2Q-0.0 0.0 20.8 41.5" stroke="#f2603c" stroke-width="0.53" stroke-opacity="0.54"/><path d="M-37.1 -27.8Q-0.0 0.0 18.2 42.7" stroke="#f2603c" stroke-width="0.95" stroke-opacity="0.60"/><path d="M-36.0 -29.3Q-0.0 0.0 17.0 43.2" stroke="#f2603c" stroke-width="0.62" stroke-opacity="0.91"/><path d="M-23.3 -40.2Q-0.0 0.0 18.6 42.5" stroke="#f2603c" stroke-width="0.77" stroke-opacity="0.74"/><path d="M-44.5 13.2Q-4.7 6.8 3.1 46.3" stroke="#f2603c" stroke-width="0.84" stroke-opacity="0.74"/><path d="M-27.8 -37.1Q-0.0 0.0 20.1 41.8" stroke="#f2603c" stroke-width="0.75" stroke-opacity="0.91"/><path d="M-39.5 24.3Q-5.1 10.3 5.0 46.1" stroke="#f2603c" stroke-width="0.52" stroke-opacity="0.91"/><path d="M-46.1 -5.6Q-0.5 0.5 8.2 45.7" stroke="#f2603c" stroke-width="0.77" stroke-opacity="0.85"/><path d="M-33.1 32.5Q-7.0 15.6 -2.4 46.3" stroke="#f58c72" stroke-width="1.01" stroke-opacity="0.52"/><path d="M-46.1 -5.3Q-0.1 0.1 10.2 45.3" stroke="#f2603c" stroke-width="1.00" stroke-opacity="0.61"/><path d="M-42.0 19.7Q-5.9 9.5 0.7 46.4" stroke="#f58c72" stroke-width="0.90" stroke-opacity="0.72"/><path d="M-43.9 -15.1Q-0.0 0.0 15.2 43.8" stroke="#f2603c" stroke-width="0.59" stroke-opacity="0.67"/><path d="M-36.3 28.9Q-6.9 13.7 -1.7 46.4" stroke="#f2603c" stroke-width="1.00" stroke-opacity="0.79"/><path d="M-41.7 20.3Q-4.9 8.9 4.7 46.2" stroke="#f58c72" stroke-width="1.09" stroke-opacity="0.64"/><path d="M-43.6 15.7Q-4.1 6.9 6.6 45.9" stroke="#f58c72" stroke-width="0.58" stroke-opacity="0.48"/><path d="M-42.0 -19.6Q-0.0 0.0 12.6 44.7" stroke="#f2603c" stroke-width="0.62" stroke-opacity="0.70"/><path d="M-32.9 32.7Q-6.3 15.2 -0.1 46.4" stroke="#f2603c" stroke-width="0.85" stroke-opacity="0.66"/><path d="M-45.4 -9.7Q-0.0 0.0 8.8 45.6" stroke="#f2603c" stroke-width="0.64" stroke-opacity="0.48"/><path d="M-45.4 -9.7Q-0.0 0.0 10.6 45.2" stroke="#f58c72" stroke-width="0.76" stroke-opacity="0.64"/><path d="M-45.0 -11.4Q-0.0 0.0 10.4 45.2" stroke="#f2603c" stroke-width="0.67" stroke-opacity="0.88"/><path d="M-41.3 21.2Q-4.9 9.1 5.1 46.1" stroke="#f2603c" stroke-width="0.82" stroke-opacity="0.60"/><path d="M-35.5 -29.8Q-0.0 0.0 19.1 42.3" stroke="#f2603c" stroke-width="0.79" stroke-opacity="0.94"/><path d="M-42.4 18.9Q-4.4 7.9 6.7 45.9" stroke="#f58c72" stroke-width="0.95" stroke-opacity="0.52"/><path d="M-37.9 26.8Q-5.4 11.6 3.9 46.2" stroke="#f58c72" stroke-width="0.58" stroke-opacity="0.85"/><path d="M-44.2 14.2Q-4.6 6.9 4.2 46.2" stroke="#f58c72" stroke-width="0.65" stroke-opacity="0.46"/><path d="M-38.2 26.3Q-5.8 11.7 2.2 46.3" stroke="#f58c72" stroke-width="0.81" stroke-opacity="0.62"/><path d="M-45.9 -7.1Q-0.0 0.0 9.7 45.4" stroke="#f2603c" stroke-width="1.01" stroke-opacity="0.88"/><path d="M-44.7 -12.4Q-0.0 0.0 14.1 44.2" stroke="#f58c72" stroke-width="0.64" stroke-opacity="0.74"/><path d="M-40.3 -23.1Q-0.0 0.0 16.4 43.4" stroke="#f2603c" stroke-width="0.56" stroke-opacity="0.65"/><path d="M-38.2 26.4Q-6.8 12.5 -1.3 46.4" stroke="#f58c72" stroke-width="0.83" stroke-opacity="0.57"/><path d="M-45.9 7.0Q-3.6 4.6 4.6 46.2" stroke="#f58c72" stroke-width="1.03" stroke-opacity="0.51"/><path d="M-45.6 8.4Q-3.6 4.9 5.3 46.1" stroke="#f58c72" stroke-width="0.60" stroke-opacity="0.78"/><path d="M-29.5 -35.8Q-0.0 0.0 19.2 42.2" stroke="#f2603c" stroke-width="1.04" stroke-opacity="0.50"/><path d="M-41.1 -21.6Q-0.0 0.0 12.0 44.8" stroke="#f2603c" stroke-width="0.95" stroke-opacity="0.94"/><path d="M-43.9 -15.0Q-0.0 0.0 12.9 44.6" stroke="#f58c72" stroke-width="0.76" stroke-opacity="0.51"/><path d="M-46.2 -4.6Q-0.2 0.2 10.8 45.1" stroke="#f58c72" stroke-width="1.02" stroke-opacity="0.83"/><path d="M-41.6 -20.5Q-0.0 0.0 15.4 43.8" stroke="#f2603c" stroke-width="1.05" stroke-opacity="0.50"/><path d="M-45.3 10.2Q-3.0 4.6 8.9 45.5" stroke="#f2603c" stroke-width="0.79" stroke-opacity="0.95"/><path d="M-39.2 -24.9Q-0.0 0.0 17.0 43.2" stroke="#f2603c" stroke-width="0.71" stroke-opacity="0.66"/><path d="M-30.1 -35.3Q-0.0 0.0 19.3 42.2" stroke="#f2603c" stroke-width="0.65" stroke-opacity="0.64"/><path d="M-42.8 -17.9Q-0.0 0.0 10.8 45.1" stroke="#f2603c" stroke-width="1.01" stroke-opacity="0.59"/><path d="M-39.8 -23.8Q-0.0 0.0 16.1 43.5" stroke="#f2603c" stroke-width="0.85" stroke-opacity="0.85"/><path d="M-36.3 28.9Q-5.5 12.6 3.5 46.3" stroke="#f2603c" stroke-width="0.88" stroke-opacity="0.78"/><path d="M-29.2 -36.1Q-0.0 0.0 19.1 42.3" stroke="#f2603c" stroke-width="0.94" stroke-opacity="0.91"/><path d="M-36.1 29.2Q-6.3 13.3 0.6 46.4" stroke="#f58c72" stroke-width="0.93" stroke-opacity="0.62"/><path d="M-33.1 -32.5Q-0.0 0.0 18.6 42.5" stroke="#f2603c" stroke-width="0.55" stroke-opacity="0.47"/><path d="M-46.3 2.7Q-1.5 2.0 10.8 45.1" stroke="#f58c72" stroke-width="1.03" stroke-opacity="0.45"/><path d="M-43.5 -16.1Q-0.0 0.0 10.1 45.3" stroke="#f2603c" stroke-width="0.63" stroke-opacity="0.67"/><path d="M-25.9 -38.5Q-0.0 0.0 23.1 40.2" stroke="#f2603c" stroke-width="0.50" stroke-opacity="0.61"/><path d="M-39.1 25.0Q-5.7 11.1 2.6 46.3" stroke="#f58c72" stroke-width="1.10" stroke-opacity="0.84"/><path d="M-46.3 -2.4Q-1.4 1.6 7.0 45.9" stroke="#f2603c" stroke-width="0.94" stroke-opacity="0.68"/><path d="M-37.4 27.5Q-6.4 12.7 -0.0 46.4" stroke="#f58c72" stroke-width="0.75" stroke-opacity="0.95"/><path d="M-45.8 -7.7Q-0.0 0.0 11.9 44.9" stroke="#f2603c" stroke-width="0.61" stroke-opacity="0.71"/><path d="M-46.3 -3.4Q-0.4 0.4 10.9 45.1" stroke="#f2603c" stroke-width="0.87" stroke-opacity="0.63"/><path d="M-43.5 -16.1Q-0.0 0.0 13.1 44.5" stroke="#f58c72" stroke-width="0.97" stroke-opacity="0.57"/><path d="M-43.8 15.2Q-4.4 7.0 5.4 46.1" stroke="#f58c72" stroke-width="1.07" stroke-opacity="0.66"/><path d="M-44.8 12.2Q-3.7 5.7 6.7 45.9" stroke="#f2603c" stroke-width="0.94" stroke-opacity="0.79"/><path d="M-43.5 -16.1Q-0.0 0.0 13.8 44.3" stroke="#f58c72" stroke-width="1.10" stroke-opacity="0.83"/><path d="M-42.7 -18.0Q-0.0 0.0 14.5 44.1" stroke="#f58c72" stroke-width="0.83" stroke-opacity="0.80"/><path d="M-23.6 -40.0Q-0.0 0.0 20.1 41.8" stroke="#f2603c" stroke-width="0.90" stroke-opacity="0.87"/><path d="M-36.4 -28.8Q-0.0 0.0 14.1 44.2" stroke="#f2603c" stroke-width="0.67" stroke-opacity="0.52"/><path d="M-33.9 -31.7Q-0.0 0.0 18.1 42.7" stroke="#f2603c" stroke-width="1.08" stroke-opacity="0.68"/><path d="M-42.8 -17.8Q-0.0 0.0 15.5 43.7" stroke="#f58c72" stroke-width="0.93" stroke-opacity="0.94"/><path d="M-35.8 29.6Q-5.9 13.2 2.0 46.4" stroke="#f58c72" stroke-width="0.80" stroke-opacity="0.52"/><path d="M-37.3 -27.6Q-0.0 0.0 18.8 42.4" stroke="#f2603c" stroke-width="0.67" stroke-opacity="0.92"/><path d="M-25.6 -38.7Q-0.0 0.0 21.4 41.2" stroke="#f2603c" stroke-width="1.05" stroke-opacity="0.88"/><path d="M-45.7 -8.3Q-0.0 0.0 12.2 44.8" stroke="#f58c72" stroke-width="0.93" stroke-opacity="0.61"/><path d="M-40.0 23.5Q-6.0 10.8 1.1 46.4" stroke="#f2603c" stroke-width="0.94" stroke-opacity="0.64"/><path d="M-39.5 -24.4Q-0.0 0.0 12.6 44.7" stroke="#f2603c" stroke-width="0.54" stroke-opacity="0.48"/><path d="M-39.2 24.8Q-6.0 11.3 1.6 46.4" stroke="#f58c72" stroke-width="0.52" stroke-opacity="0.48"/><path d="M-45.8 7.3Q-2.6 3.7 9.1 45.5" stroke="#f58c72" stroke-width="0.66" stroke-opacity="0.78"/><path d="M-35.8 29.5Q-6.9 14.0 -1.7 46.4" stroke="#f2603c" stroke-width="0.84" stroke-opacity="0.84"/><path d="M-45.1 -10.8Q-0.0 0.0 14.4 44.1" stroke="#f58c72" stroke-width="0.78" stroke-opacity="0.61"/><path d="M-37.7 -27.1Q-0.0 0.0 15.7 43.7" stroke="#f2603c" stroke-width="0.74" stroke-opacity="0.84"/><path d="M-34.7 -30.8Q-0.0 0.0 17.7 42.9" stroke="#f2603c" stroke-width="0.51" stroke-opacity="0.83"/><path d="M-46.2 -4.6Q-0.2 0.2 10.5 45.2" stroke="#f58c72" stroke-width="0.51" stroke-opacity="0.79"/><path d="M-37.3 -27.5Q-0.0 0.0 16.6 43.3" stroke="#f2603c" stroke-width="0.94" stroke-opacity="0.87"/><path d="M-26.2 -38.3Q-0.0 0.0 21.2 41.3" stroke="#f2603c" stroke-width="0.97" stroke-opacity="0.74"/><path d="M-29.3 -36.0Q-0.0 0.0 18.3 42.6" stroke="#f2603c" stroke-width="0.76" stroke-opacity="0.91"/><path d="M-25.8 -38.6Q-0.0 0.0 18.5 42.5" stroke="#f2603c" stroke-width="0.94" stroke-opacity="0.90"/><path d="M-29.9 -35.5Q-0.0 0.0 21.4 41.1" stroke="#f2603c" stroke-width="0.93" stroke-opacity="0.75"/><path d="M-25.8 -38.5Q-0.0 0.0 19.6 42.1" stroke="#f2603c" stroke-width="0.79" stroke-opacity="0.70"/><path d="M-25.5 -38.8Q-0.0 0.0 21.6 41.1" stroke="#f2603c" stroke-width="1.12" stroke-opacity="0.79"/><path d="M-30.8 -34.7Q-0.0 0.0 18.7 42.5" stroke="#f2603c" stroke-width="1.05" stroke-opacity="0.75"/><path d="M-25.9 -38.5Q-0.0 0.0 21.4 41.2" stroke="#f2603c" stroke-width="1.07" stroke-opacity="0.93"/><path d="M-28.2 -36.8Q-0.0 0.0 15.9 43.6" stroke="#f2603c" stroke-width="1.04" stroke-opacity="0.80"/><path d="M-24.3 -39.5Q-0.0 0.0 19.6 42.1" stroke="#f2603c" stroke-width="0.99" stroke-opacity="0.77"/><path d="M-25.0 -39.1Q-0.0 0.0 14.6 44.1" stroke="#f2603c" stroke-width="1.12" stroke-opacity="0.62"/><path d="M-29.8 -35.6Q-0.0 0.0 16.3 43.4" stroke="#f2603c" stroke-width="0.86" stroke-opacity="0.93"/><path d="M-31.7 -33.9Q-0.0 0.0 16.2 43.5" stroke="#f2603c" stroke-width="1.13" stroke-opacity="0.88"/><path d="M-30.5 -35.0Q-0.0 0.0 19.6 42.0" stroke="#f2603c" stroke-width="1.16" stroke-opacity="0.74"/><path d="M-25.2 -38.9Q-0.0 0.0 14.7 44.0" stroke="#f2603c" stroke-width="0.92" stroke-opacity="0.82"/><path d="M-27.8 -37.1Q-0.0 0.0 15.2 43.8" stroke="#f2603c" stroke-width="0.81" stroke-opacity="0.83"/><path d="M-22.3 -40.7Q-0.0 0.0 21.5 41.1" stroke="#f2603c" stroke-width="1.17" stroke-opacity="0.63"/><path d="M-28.4 -36.7Q-0.0 0.0 19.0 42.3" stroke="#f2603c" stroke-width="1.11" stroke-opacity="0.92"/><path d="M-30.9 -34.7Q-0.0 0.0 19.1 42.3" stroke="#f2603c" stroke-width="1.07" stroke-opacity="0.80"/><path d="M-24.3 -39.5Q-0.0 0.0 18.7 42.5" stroke="#f2603c" stroke-width="0.97" stroke-opacity="0.88"/><path d="M-24.7 -39.3Q-0.0 0.0 18.5 42.6" stroke="#f2603c" stroke-width="0.98" stroke-opacity="0.79"/><path d="M-29.4 -35.9Q-0.0 0.0 16.9 43.2" stroke="#f2603c" stroke-width="1.04" stroke-opacity="0.82"/><path d="M21.2 -41.3Q7.7 -3.5 45.0 11.2" stroke="#f2603c" stroke-width="0.88" stroke-opacity="0.42"/><path d="M4.9 -46.1Q0.0 -0.0 37.8 26.9" stroke="#f2603c" stroke-width="0.69" stroke-opacity="0.66"/><path d="M9.4 -45.4Q0.0 -0.0 35.6 29.8" stroke="#f2603c" stroke-width="0.64" stroke-opacity="0.64"/><path d="M12.3 -44.7Q9.2 -9.4 44.5 -13.2" stroke="#f2603c" stroke-width="0.53" stroke-opacity="0.83"/><path d="M7.8 -45.7Q4.4 -3.2 46.0 6.4" stroke="#f2603c" stroke-width="0.92" stroke-opacity="0.47"/><path d="M14.6 -44.0Q9.9 -9.4 44.7 -12.6" stroke="#f2603c" stroke-width="0.63" stroke-opacity="0.75"/><path d="M12.5 -44.7Q6.5 -4.6 46.3 3.2" stroke="#f2603c" stroke-width="0.98" stroke-opacity="0.53"/><path d="M19.5 -42.1Q8.7 -5.0 46.2 4.2" stroke="#f2603c" stroke-width="0.69" stroke-opacity="0.52"/><path d="M12.4 -44.7Q0.0 -0.0 36.9 28.2" stroke="#f2603c" stroke-width="0.60" stroke-opacity="0.72"/><path d="M6.3 -46.0Q3.7 -2.7 45.7 7.8" stroke="#f2603c" stroke-width="0.93" stroke-opacity="0.58"/><path d="M21.6 -41.1Q7.4 -3.1 44.6 12.9" stroke="#f2603c" stroke-width="0.51" stroke-opacity="0.45"/><path d="M19.1 -42.3Q4.7 -1.8 42.2 19.2" stroke="#f2603c" stroke-width="0.84" stroke-opacity="0.73"/><path d="M5.2 -46.1Q3.6 -2.7 45.9 7.1" stroke="#f2603c" stroke-width="0.79" stroke-opacity="0.61"/><path d="M20.6 -41.6Q1.6 -0.3 35.6 29.8" stroke="#f2603c" stroke-width="0.59" stroke-opacity="0.58"/><path d="M11.0 -45.1Q8.5 -8.5 45.1 -10.9" stroke="#f2603c" stroke-width="0.68" stroke-opacity="0.79"/><path d="M4.2 -46.2Q0.1 -0.1 42.1 19.4" stroke="#f2603c" stroke-width="0.60" stroke-opacity="0.48"/><path d="M6.7 -45.9Q6.1 -5.7 46.3 -3.6" stroke="#f2603c" stroke-width="0.64" stroke-opacity="0.83"/><path d="M7.9 -45.7Q4.6 -3.4 46.0 5.9" stroke="#f2603c" stroke-width="0.59" stroke-opacity="0.65"/><path d="M13.3 -44.4Q4.8 -2.7 44.8 12.1" stroke="#f2603c" stroke-width="0.94" stroke-opacity="0.62"/><path d="M16.4 -43.4Q0.3 -0.1 35.8 29.6" stroke="#f2603c" stroke-width="0.55" stroke-opacity="0.44"/><path d="M20.7 -41.5Q12.1 -10.1 44.6 -12.6" stroke="#f2603c" stroke-width="0.79" stroke-opacity="0.88"/><path d="M20.1 -41.8Q7.8 -3.9 45.5 9.1" stroke="#f2603c" stroke-width="0.71" stroke-opacity="0.41"/><path d="M21.0 -41.4Q9.1 -4.9 46.1 4.9" stroke="#f2603c" stroke-width="0.60" stroke-opacity="0.84"/><path d="M7.3 -45.8Q6.5 -6.1 46.1 -5.0" stroke="#f2603c" stroke-width="0.71" stroke-opacity="0.78"/><path d="M17.9 -42.8Q9.7 -7.0 46.3 -3.5" stroke="#f2603c" stroke-width="0.59" stroke-opacity="0.44"/><path d="M18.4 -42.6Q3.4 -1.1 40.5 22.7" stroke="#f2603c" stroke-width="0.81" stroke-opacity="0.66"/><path d="M11.1 -45.1Q5.1 -3.3 45.7 7.9" stroke="#f2603c" stroke-width="0.84" stroke-opacity="0.56"/><path d="M14.1 -44.2Q4.3 -2.2 43.9 14.9" stroke="#f2603c" stroke-width="0.97" stroke-opacity="0.45"/><path d="M19.2 -42.2Q9.8 -6.5 46.4 -1.5" stroke="#f2603c" stroke-width="0.98" stroke-opacity="0.52"/><path d="M6.9 -45.9Q5.9 -5.4 46.3 -2.5" stroke="#f2603c" stroke-width="0.97" stroke-opacity="0.87"/><path d="M-21.1 -41.3Q0.0 -0.0 29.8 35.5" stroke="#f58c72" stroke-width="0.60" stroke-opacity="0.70"/><path d="M-8.1 -45.7Q3.1 -17.4 23.2 -40.2" stroke="#f58c72" stroke-width="0.50" stroke-opacity="0.70"/><path d="M-42.1 19.6Q0.0 0.0 46.2 4.0" stroke="#f58c72" stroke-width="0.50" stroke-opacity="0.50"/></g></g>
<path d="M187.90 398.90H1818.20V703.10H187.90Z" fill="none" stroke="#000" stroke-width="2.20" stroke-linejoin="miter"/>
<line x1="174.20" y1="670.00" x2="187.50" y2="670.00" stroke="#000" stroke-width="1.30"/>
<line x1="174.20" y1="604.80" x2="187.50" y2="604.80" stroke="#000" stroke-width="1.30"/>
<line x1="174.20" y1="539.60" x2="187.50" y2="539.60" stroke="#000" stroke-width="1.30"/>
<line x1="174.20" y1="474.40" x2="187.50" y2="474.40" stroke="#000" stroke-width="1.30"/>
<line x1="174.20" y1="409.20" x2="187.50" y2="409.20" stroke="#000" stroke-width="1.30"/>
<line x1="178.70" y1="637.40" x2="184.90" y2="637.40" stroke="#000" stroke-width="1.30"/>
<line x1="178.70" y1="572.20" x2="184.90" y2="572.20" stroke="#000" stroke-width="1.30"/>
<line x1="178.70" y1="507.00" x2="184.90" y2="507.00" stroke="#000" stroke-width="1.30"/>
<line x1="178.70" y1="441.80" x2="184.90" y2="441.80" stroke="#000" stroke-width="1.30"/>
<text transform="translate(146.00 679.38) scale(1 1.04)" font-size="29.00">0</text>
<text transform="translate(113.75 614.18) scale(1 1.04)" font-size="29.00">100</text>
<text transform="translate(113.75 548.98) scale(1 1.04)" font-size="29.00">200</text>
<text transform="translate(113.75 483.78) scale(1 1.04)" font-size="29.00">300</text>
<text transform="translate(113.75 418.58) scale(1 1.04)" font-size="29.00">400</text>
<text transform="translate(90.60 645.09) rotate(-90)" font-size="29.00">Deletion number</text>
<line x1="313.80" y1="455.20" x2="470.90" y2="455.20" stroke="#3a3a3a" stroke-width="1.50"/>
<text x="391.08" y="454.10" font-size="16.00">*</text>
<line x1="701.00" y1="455.20" x2="857.70" y2="455.20" stroke="#3a3a3a" stroke-width="1.50"/>
<text x="773.87" y="454.10" font-size="16.00">**</text>
<line x1="1096.60" y1="454.90" x2="1267.20" y2="454.90" stroke="#666" stroke-width="1.50"/>
<text x="1176.57" y="454.10" font-size="16.00">**</text>
<line x1="1528.90" y1="455.40" x2="1695.10" y2="455.40" stroke="#444" stroke-width="1.50"/>
<text x="1603.26" y="454.40" font-size="16.00">***</text>
<line x1="262.50" y1="669.30" x2="334.90" y2="669.30" stroke="#000" stroke-width="2.00"/>
<g fill="#000"><circle cx="273.4" cy="669.3" r="4.40"/><circle cx="296.3" cy="669.6" r="4.40"/><circle cx="300.7" cy="669.6" r="4.40"/><circle cx="304.2" cy="669.6" r="4.40"/><circle cx="312.1" cy="669.3" r="4.40"/></g>
<line x1="486.20" y1="648.60" x2="486.20" y2="651.70" stroke="#222" stroke-width="1.30"/>
<line x1="450.10" y1="648.60" x2="522.60" y2="648.60" stroke="#222" stroke-width="1.30"/>
<rect x="450.10" y="651.70" width="72.50" height="18.00" fill="none" stroke="#222" stroke-width="1.30"/>
<line x1="450.10" y1="663.50" x2="522.60" y2="663.50" stroke="#222" stroke-width="1.30"/>
<g fill="#000"><circle cx="507.6" cy="648.6" r="4.40"/><circle cx="478.2" cy="658.2" r="4.40"/><circle cx="464.7" cy="667.9" r="4.40"/><circle cx="487.0" cy="670.0" r="4.40"/></g>
<line x1="657.60" y1="669.30" x2="730.50" y2="669.30" stroke="#000" stroke-width="2.00"/>
<g fill="#000"><circle cx="668.1" cy="669.5" r="4.40"/><circle cx="681.3" cy="669.0" r="4.40"/><circle cx="686.0" cy="669.8" r="4.40"/><circle cx="689.2" cy="669.8" r="4.40"/><circle cx="693.6" cy="665.3" r="4.40"/><circle cx="696.3" cy="669.8" r="4.40"/><circle cx="700.7" cy="665.3" r="4.40"/><circle cx="703.0" cy="669.8" r="4.40"/><circle cx="707.7" cy="669.5" r="4.40"/></g>
<rect x="855.90" y="573.80" width="72.50" height="88.50" fill="none" stroke="#555" stroke-width="1.40"/>
<line x1="855.90" y1="582.10" x2="928.40" y2="582.10" stroke="#555" stroke-width="1.40"/>
<g fill="#000"><circle cx="907.3" cy="573.5" r="4.40"/><circle cx="906.4" cy="582.6" r="4.40"/><circle cx="873.5" cy="662.3" r="4.40"/></g>
<line x1="1059.00" y1="669.10" x2="1131.80" y2="669.10" stroke="#000" stroke-width="2.00"/>
<g fill="#000"><circle cx="1072.5" cy="669.5" r="4.40"/><circle cx="1082.2" cy="669.5" r="4.40"/><circle cx="1086.0" cy="669.5" r="4.40"/><circle cx="1091.0" cy="669.5" r="4.40"/><circle cx="1095.4" cy="669.5" r="4.40"/><circle cx="1099.8" cy="669.5" r="4.40"/><circle cx="1109.5" cy="669.5" r="4.40"/><circle cx="1112.1" cy="669.5" r="4.40"/><circle cx="1096.3" cy="652.4" r="4.40"/><circle cx="1093.3" cy="660.0" r="4.40"/></g>
<line x1="1299.30" y1="598.10" x2="1299.30" y2="618.30" stroke="#111" stroke-width="1.30"/>
<line x1="1263.30" y1="598.10" x2="1335.40" y2="598.10" stroke="#444" stroke-width="1.30"/>
<line x1="1299.30" y1="663.50" x2="1299.30" y2="670.00" stroke="#111" stroke-width="1.30"/>
<line x1="1263.30" y1="670.00" x2="1335.40" y2="670.00" stroke="#444" stroke-width="1.30"/>
<rect x="1263.30" y="618.30" width="72.10" height="45.20" fill="none" stroke="#111" stroke-width="1.30"/>
<line x1="1263.30" y1="639.80" x2="1335.40" y2="639.80" stroke="#666" stroke-width="1.30"/>
<g fill="#000"><circle cx="1309.9" cy="598.1" r="4.40"/><circle cx="1275.1" cy="639.8" r="4.40"/><circle cx="1305.1" cy="638.0" r="4.40"/><circle cx="1283.9" cy="656.5" r="4.40"/><circle cx="1290.5" cy="670.0" r="4.40"/></g>
<line x1="1513.60" y1="654.40" x2="1513.60" y2="663.20" stroke="#444" stroke-width="1.30"/>
<line x1="1477.60" y1="654.40" x2="1549.70" y2="654.40" stroke="#444" stroke-width="1.30"/>
<rect x="1477.60" y="663.20" width="72.10" height="7.00" fill="none" stroke="#444" stroke-width="1.30"/>
<line x1="1477.60" y1="668.50" x2="1549.70" y2="668.50" stroke="#444" stroke-width="1.30"/>
<g fill="#000"><circle cx="1513.6" cy="652.7" r="4.40"/><circle cx="1528.2" cy="654.6" r="4.40"/><circle cx="1523.3" cy="659.3" r="4.40"/><circle cx="1514.5" cy="661.1" r="4.40"/><circle cx="1532.1" cy="664.6" r="4.40"/><circle cx="1493.4" cy="667.3" r="4.40"/><circle cx="1499.6" cy="670.0" r="4.40"/><circle cx="1509.2" cy="666.4" r="4.40"/><circle cx="1512.7" cy="670.0" r="4.40"/><circle cx="1516.3" cy="670.0" r="4.40"/><circle cx="1525.9" cy="670.0" r="4.40"/><circle cx="1530.0" cy="669.0" r="4.40"/><circle cx="1504.0" cy="668.0" r="4.40"/><circle cx="1520.0" cy="668.0" r="4.40"/></g>
<line x1="1709.30" y1="499.00" x2="1709.30" y2="569.70" stroke="#333" stroke-width="1.30"/>
<line x1="1673.30" y1="499.00" x2="1745.40" y2="499.00" stroke="#555" stroke-width="1.30"/>
<line x1="1709.30" y1="659.00" x2="1709.30" y2="669.00" stroke="#333" stroke-width="1.30"/>
<line x1="1673.30" y1="669.00" x2="1745.40" y2="669.00" stroke="#555" stroke-width="1.30"/>
<rect x="1673.30" y="569.70" width="72.10" height="89.30" fill="none" stroke="#333" stroke-width="1.30"/>
<line x1="1673.30" y1="618.60" x2="1745.40" y2="618.60" stroke="#333" stroke-width="1.30"/>
<g fill="#000"><circle cx="1689.8" cy="411.4" r="4.40"/><circle cx="1709.3" cy="411.4" r="4.40"/><circle cx="1713.2" cy="499.0" r="4.40"/><circle cx="1711.4" cy="533.1" r="4.40"/><circle cx="1705.3" cy="536.8" r="4.40"/><circle cx="1713.2" cy="570.6" r="4.40"/><circle cx="1725.0" cy="568.8" r="4.40"/><circle cx="1703.2" cy="576.7" r="4.40"/><circle cx="1691.7" cy="590.4" r="4.40"/><circle cx="1707.4" cy="592.2" r="4.40"/><circle cx="1702.6" cy="610.6" r="4.40"/><circle cx="1687.9" cy="627.3" r="4.40"/><circle cx="1734.6" cy="637.0" r="4.40"/><circle cx="1725.7" cy="644.7" r="4.40"/><circle cx="1690.9" cy="653.2" r="4.40"/><circle cx="1704.4" cy="658.1" r="4.40"/><circle cx="1714.1" cy="659.3" r="4.40"/><circle cx="1709.3" cy="660.2" r="4.40"/><circle cx="1699.5" cy="665.1" r="4.40"/><circle cx="1687.9" cy="669.0" r="4.40"/><circle cx="1725.0" cy="668.1" r="4.40"/></g>
<path d="M186.10 724.80H1819.00V1047.00H186.10Z" fill="none" stroke="#000" stroke-width="2.20" stroke-linejoin="miter"/>
<line x1="180.60" y1="1020.80" x2="186.50" y2="1020.80" stroke="#333" stroke-width="1.20"/>
<line x1="180.60" y1="976.13" x2="186.50" y2="976.13" stroke="#333" stroke-width="1.20"/>
<line x1="180.60" y1="931.47" x2="186.50" y2="931.47" stroke="#333" stroke-width="1.20"/>
<line x1="180.60" y1="886.80" x2="186.50" y2="886.80" stroke="#333" stroke-width="1.20"/>
<line x1="180.60" y1="842.13" x2="186.50" y2="842.13" stroke="#333" stroke-width="1.20"/>
<line x1="180.60" y1="797.46" x2="186.50" y2="797.46" stroke="#333" stroke-width="1.20"/>
<line x1="180.60" y1="752.80" x2="186.50" y2="752.80" stroke="#333" stroke-width="1.20"/>
<line x1="180.60" y1="998.47" x2="186.50" y2="998.47" stroke="#333" stroke-width="1.20"/>
<line x1="180.60" y1="953.80" x2="186.50" y2="953.80" stroke="#333" stroke-width="1.20"/>
<line x1="180.60" y1="909.13" x2="186.50" y2="909.13" stroke="#333" stroke-width="1.20"/>
<line x1="180.60" y1="864.47" x2="186.50" y2="864.47" stroke="#333" stroke-width="1.20"/>
<line x1="180.60" y1="819.80" x2="186.50" y2="819.80" stroke="#333" stroke-width="1.20"/>
<line x1="180.60" y1="775.13" x2="186.50" y2="775.13" stroke="#333" stroke-width="1.20"/>
<text transform="translate(153.00 1030.18) scale(1 1.04)" font-size="29.00">0</text>
<text transform="translate(136.88 985.52) scale(1 1.04)" font-size="29.00">10</text>
<text transform="translate(136.88 940.85) scale(1 1.04)" font-size="29.00">20</text>
<text transform="translate(136.88 896.18) scale(1 1.04)" font-size="29.00">30</text>
<text transform="translate(136.88 851.51) scale(1 1.04)" font-size="29.00">40</text>
<text transform="translate(136.88 806.85) scale(1 1.04)" font-size="29.00">50</text>
<text transform="translate(136.88 762.18) scale(1 1.04)" font-size="29.00">60</text>
<text transform="translate(113.40 1003.12) rotate(-90)" font-size="29.00">Heteroplasmy (%)</text>
<line x1="701.20" y1="752.70" x2="868.00" y2="752.70" stroke="#777" stroke-width="1.50"/>
<text x="775.96" y="747.50" font-size="16.00">***</text>
<line x1="1117.90" y1="752.70" x2="1274.50" y2="752.70" stroke="#777" stroke-width="1.50"/>
<text x="1194.88" y="752.10" font-size="16.00">*</text>
<line x1="1530.30" y1="752.70" x2="1700.40" y2="752.70" stroke="#777" stroke-width="1.50"/>
<text x="1607.35" y="751.40" font-size="16.00">* *</text>
<line x1="264.20" y1="1020.80" x2="330.00" y2="1020.80" stroke="#e0607a" stroke-width="1.00"/>
<line x1="451.60" y1="1020.60" x2="517.90" y2="1020.60" stroke="#d0384a" stroke-width="2.00"/>
<g fill="#000"><circle cx="475.6" cy="941.7" r="3.20"/><circle cx="481.0" cy="1015.3" r="3.20"/><circle cx="482.4" cy="1020.1" r="3.20"/><circle cx="489.5" cy="1020.1" r="3.20"/><circle cx="491.2" cy="1020.1" r="3.20"/></g>
<line x1="660.00" y1="1021.00" x2="725.90" y2="1021.00" stroke="#e0607a" stroke-width="1.00"/>
<g fill="#000"><circle cx="686.7" cy="1020.1" r="3.20"/><circle cx="697.4" cy="1020.1" r="3.20"/></g>
<line x1="857.30" y1="1018.50" x2="923.80" y2="1018.50" stroke="#d0384a" stroke-width="1.00"/>
<line x1="857.30" y1="1020.90" x2="923.80" y2="1020.90" stroke="#d0384a" stroke-width="1.80"/>
<g fill="#000"><circle cx="896.0" cy="998.1" r="3.20"/><circle cx="893.0" cy="1002.8" r="3.20"/><circle cx="899.1" cy="1005.5" r="3.20"/><circle cx="892.7" cy="1009.1" r="3.20"/><circle cx="886.7" cy="1013.0" r="3.20"/><circle cx="879.6" cy="1017.4" r="3.20"/><circle cx="904.3" cy="1015.2" r="3.20"/><circle cx="882.0" cy="1019.5" r="3.20"/><circle cx="886.0" cy="1019.5" r="3.20"/><circle cx="890.0" cy="1019.5" r="3.20"/><circle cx="894.0" cy="1019.5" r="3.20"/><circle cx="898.0" cy="1019.5" r="3.20"/><circle cx="902.0" cy="1019.5" r="3.20"/><circle cx="895.0" cy="1013.0" r="3.20"/><circle cx="890.0" cy="1015.0" r="3.20"/></g>
<line x1="1060.90" y1="1018.20" x2="1127.30" y2="1018.20" stroke="#d0384a" stroke-width="1.00"/>
<line x1="1060.90" y1="1020.90" x2="1127.30" y2="1020.90" stroke="#d0384a" stroke-width="1.80"/>
<g fill="#000"><circle cx="1083.9" cy="1017.3" r="3.20"/><circle cx="1094.9" cy="1016.5" r="3.20"/><circle cx="1097.5" cy="1015.6" r="3.20"/><circle cx="1097.5" cy="1001.8" r="3.20"/></g>
<line x1="1265.10" y1="1016.10" x2="1331.20" y2="1016.10" stroke="#e0607a" stroke-width="1.00"/>
<line x1="1265.10" y1="1020.00" x2="1331.20" y2="1020.00" stroke="#d0384a" stroke-width="2.20"/>
<g fill="#000"><circle cx="1295.2" cy="969.2" r="3.20"/><circle cx="1294.3" cy="987.3" r="3.20"/><circle cx="1293.5" cy="995.2" r="3.20"/><circle cx="1300.2" cy="999.3" r="3.20"/><circle cx="1289.6" cy="1008.5" r="3.20"/><circle cx="1302.0" cy="1006.7" r="3.20"/><circle cx="1298.0" cy="1011.0" r="3.20"/><circle cx="1287.8" cy="1015.6" r="3.20"/><circle cx="1309.9" cy="1014.7" r="3.20"/><circle cx="1291.0" cy="1016.5" r="3.20"/><circle cx="1295.0" cy="1016.5" r="3.20"/><circle cx="1299.0" cy="1016.5" r="3.20"/><circle cx="1303.0" cy="1016.5" r="3.20"/><circle cx="1297.0" cy="1004.0" r="3.20"/><circle cx="1293.0" cy="1012.0" r="3.20"/></g>
<line x1="1479.10" y1="1020.10" x2="1545.50" y2="1020.10" stroke="#d0384a" stroke-width="2.40"/>
<g fill="#000"><circle cx="1512.2" cy="998.2" r="3.20"/><circle cx="1512.2" cy="1008.5" r="3.20"/><circle cx="1512.2" cy="1014.0" r="3.20"/><circle cx="1512.2" cy="1018.5" r="3.20"/></g>
<line x1="1674.70" y1="1020.10" x2="1740.90" y2="1020.10" stroke="#d0384a" stroke-width="2.40"/>
<g fill="#000"><circle cx="1706.9" cy="743.9" r="3.20"/><circle cx="1698.0" cy="949.6" r="3.20"/><circle cx="1706.5" cy="949.2" r="3.20"/><circle cx="1705.7" cy="953.6" r="3.20"/><circle cx="1709.2" cy="962.8" r="3.20"/><circle cx="1699.8" cy="974.9" r="3.20"/><circle cx="1702.5" cy="976.5" r="3.20"/><circle cx="1714.3" cy="979.3" r="3.20"/><circle cx="1709.5" cy="983.0" r="3.20"/><circle cx="1704.3" cy="985.0" r="3.20"/><circle cx="1705.0" cy="989.5" r="3.20"/><circle cx="1700.4" cy="1000.9" r="3.20"/><circle cx="1696.3" cy="1009.9" r="3.20"/><circle cx="1703.9" cy="1006.7" r="3.20"/><circle cx="1707.1" cy="993.6" r="3.20"/><circle cx="1706.1" cy="993.0" r="3.20"/><circle cx="1701.2" cy="993.9" r="3.20"/><circle cx="1713.8" cy="1003.7" r="3.20"/><circle cx="1702.8" cy="995.4" r="3.20"/><circle cx="1718.0" cy="1009.3" r="3.20"/><circle cx="1704.6" cy="1007.9" r="3.20"/><circle cx="1692.8" cy="1018.8" r="3.20"/><circle cx="1700.9" cy="1015.6" r="3.20"/><circle cx="1701.1" cy="996.0" r="3.20"/><circle cx="1712.9" cy="1000.5" r="3.20"/><circle cx="1708.3" cy="997.0" r="3.20"/><circle cx="1703.8" cy="1009.6" r="3.20"/><circle cx="1696.9" cy="1007.1" r="3.20"/><circle cx="1702.9" cy="993.6" r="3.20"/><circle cx="1705.1" cy="1010.7" r="3.20"/><circle cx="1708.6" cy="1000.6" r="3.20"/><circle cx="1702.7" cy="1004.5" r="3.20"/><circle cx="1712.5" cy="1013.8" r="3.20"/><circle cx="1708.3" cy="998.7" r="3.20"/><circle cx="1715.5" cy="1006.4" r="3.20"/><circle cx="1701.4" cy="1012.1" r="3.20"/><circle cx="1695.1" cy="1019.0" r="3.20"/><circle cx="1712.3" cy="1003.5" r="3.20"/><circle cx="1706.8" cy="996.2" r="3.20"/><circle cx="1709.3" cy="993.1" r="3.20"/><circle cx="1709.0" cy="1013.0" r="3.20"/><circle cx="1701.5" cy="1016.1" r="3.20"/><circle cx="1709.4" cy="1011.1" r="3.20"/><circle cx="1706.0" cy="1007.9" r="3.20"/><circle cx="1719.7" cy="1015.1" r="3.20"/><circle cx="1710.6" cy="1005.0" r="3.20"/><circle cx="1709.8" cy="993.7" r="3.20"/><circle cx="1719.3" cy="1009.8" r="3.20"/><circle cx="1700.9" cy="1014.6" r="3.20"/><circle cx="1710.4" cy="1002.6" r="3.20"/><circle cx="1706.5" cy="992.6" r="3.20"/><circle cx="1700.9" cy="996.6" r="3.20"/><circle cx="1710.7" cy="993.6" r="3.20"/><circle cx="1703.2" cy="995.6" r="3.20"/><circle cx="1714.5" cy="1002.8" r="3.20"/><circle cx="1706.3" cy="994.2" r="3.20"/><circle cx="1700.0" cy="1004.0" r="3.20"/><circle cx="1703.2" cy="1004.0" r="3.20"/><circle cx="1706.4" cy="1004.0" r="3.20"/><circle cx="1709.6" cy="1004.0" r="3.20"/><circle cx="1712.8" cy="1004.0" r="3.20"/><circle cx="1699.0" cy="1008.0" r="3.20"/><circle cx="1702.2" cy="1008.0" r="3.20"/><circle cx="1705.4" cy="1008.0" r="3.20"/><circle cx="1708.6" cy="1008.0" r="3.20"/><circle cx="1711.8" cy="1008.0" r="3.20"/><circle cx="1698.0" cy="1012.0" r="3.20"/><circle cx="1701.2" cy="1012.0" r="3.20"/><circle cx="1704.4" cy="1012.0" r="3.20"/><circle cx="1707.6" cy="1012.0" r="3.20"/><circle cx="1710.8" cy="1012.0" r="3.20"/><circle cx="1714.0" cy="1012.0" r="3.20"/><circle cx="1697.0" cy="1016.0" r="3.20"/><circle cx="1700.2" cy="1016.0" r="3.20"/><circle cx="1703.4" cy="1016.0" r="3.20"/><circle cx="1706.6" cy="1016.0" r="3.20"/><circle cx="1709.8" cy="1016.0" r="3.20"/><circle cx="1713.0" cy="1016.0" r="3.20"/><circle cx="1716.2" cy="1016.0" r="3.20"/><circle cx="1696.1" cy="1019.5" r="3.20"/><circle cx="1699.3" cy="1019.5" r="3.20"/><circle cx="1702.5" cy="1019.5" r="3.20"/><circle cx="1705.7" cy="1019.5" r="3.20"/><circle cx="1708.9" cy="1019.5" r="3.20"/><circle cx="1712.1" cy="1019.5" r="3.20"/><circle cx="1715.3" cy="1019.5" r="3.20"/></g>
<path d="M187.50 1068.00H1817.90V1426.80H187.50Z" fill="none" stroke="#000" stroke-width="2.20" stroke-linejoin="miter"/>
<line x1="180.40" y1="1408.80" x2="186.70" y2="1408.80" stroke="#333" stroke-width="1.20"/>
<line x1="180.40" y1="1371.22" x2="186.70" y2="1371.22" stroke="#333" stroke-width="1.20"/>
<line x1="180.40" y1="1333.64" x2="186.70" y2="1333.64" stroke="#333" stroke-width="1.20"/>
<line x1="180.40" y1="1296.06" x2="186.70" y2="1296.06" stroke="#333" stroke-width="1.20"/>
<line x1="180.40" y1="1258.48" x2="186.70" y2="1258.48" stroke="#333" stroke-width="1.20"/>
<line x1="180.40" y1="1220.90" x2="186.70" y2="1220.90" stroke="#333" stroke-width="1.20"/>
<line x1="180.40" y1="1183.32" x2="186.70" y2="1183.32" stroke="#333" stroke-width="1.20"/>
<line x1="180.40" y1="1145.74" x2="186.70" y2="1145.74" stroke="#333" stroke-width="1.20"/>
<line x1="180.40" y1="1390.01" x2="186.70" y2="1390.01" stroke="#333" stroke-width="1.20"/>
<line x1="180.40" y1="1352.43" x2="186.70" y2="1352.43" stroke="#333" stroke-width="1.20"/>
<line x1="180.40" y1="1314.85" x2="186.70" y2="1314.85" stroke="#333" stroke-width="1.20"/>
<line x1="180.40" y1="1277.27" x2="186.70" y2="1277.27" stroke="#333" stroke-width="1.20"/>
<line x1="180.40" y1="1239.69" x2="186.70" y2="1239.69" stroke="#333" stroke-width="1.20"/>
<line x1="180.40" y1="1202.11" x2="186.70" y2="1202.11" stroke="#333" stroke-width="1.20"/>
<line x1="180.40" y1="1164.53" x2="186.70" y2="1164.53" stroke="#333" stroke-width="1.20"/>
<line x1="180.40" y1="1126.95" x2="186.70" y2="1126.95" stroke="#333" stroke-width="1.20"/>
<text transform="translate(152.00 1418.18) scale(1 1.04)" font-size="29.00">0</text>
<text transform="translate(152.33 1380.60) scale(1 1.04)" font-size="29.00">2</text>
<text transform="translate(151.72 1343.02) scale(1 1.04)" font-size="29.00">4</text>
<text transform="translate(152.15 1305.44) scale(1 1.04)" font-size="29.00">6</text>
<text transform="translate(152.13 1267.86) scale(1 1.04)" font-size="29.00">8</text>
<text transform="translate(135.88 1230.28) scale(1 1.04)" font-size="29.00">10</text>
<text transform="translate(136.20 1192.70) scale(1 1.04)" font-size="29.00">12</text>
<text transform="translate(135.59 1155.12) scale(1 1.04)" font-size="29.00">14</text>
<text transform="translate(78.50 1327.45) rotate(-90)" font-size="29.00">Breakpoint</text>
<text transform="translate(113.20 1372.63) rotate(-90)" font-size="29.00">repeat length (bp)</text>
<line x1="708.00" y1="1101.40" x2="878.50" y2="1101.40" stroke="#3a3a3a" stroke-width="1.50"/>
<text x="785.35" y="1099.90" font-size="16.00">* *</text>
<line x1="1112.00" y1="1101.50" x2="1282.80" y2="1101.50" stroke="#3a3a3a" stroke-width="1.50"/>
<text x="1189.75" y="1099.70" font-size="16.00">* *</text>
<line x1="1526.00" y1="1101.50" x2="1696.90" y2="1101.50" stroke="#444" stroke-width="1.50"/>
<text x="1603.75" y="1099.70" font-size="16.00">* *</text>
<line x1="298.50" y1="1296.06" x2="298.50" y2="1305.45" stroke="#e8770f" stroke-width="1.20"/>
<line x1="265.90" y1="1296.06" x2="331.70" y2="1296.06" stroke="#e8770f" stroke-width="1.20"/>
<line x1="298.50" y1="1343.03" x2="298.50" y2="1352.43" stroke="#e8770f" stroke-width="1.20"/>
<line x1="265.90" y1="1352.43" x2="331.70" y2="1352.43" stroke="#e8770f" stroke-width="1.20"/>
<rect x="265.90" y="1305.45" width="65.80" height="37.58" fill="none" stroke="#e8770f" stroke-width="1.20"/>
<line x1="265.90" y1="1314.85" x2="331.70" y2="1314.85" stroke="#e8770f" stroke-width="1.20"/>
<line x1="486.20" y1="1220.90" x2="486.20" y2="1277.27" stroke="#e8770f" stroke-width="1.20"/>
<line x1="453.20" y1="1220.90" x2="519.10" y2="1220.90" stroke="#e8770f" stroke-width="1.20"/>
<line x1="486.20" y1="1390.01" x2="486.20" y2="1408.80" stroke="#e8770f" stroke-width="1.20"/>
<line x1="453.20" y1="1408.80" x2="519.10" y2="1408.80" stroke="#e8770f" stroke-width="1.20"/>
<rect x="453.20" y="1277.27" width="65.90" height="112.74" fill="none" stroke="#e8770f" stroke-width="1.20"/>
<line x1="453.20" y1="1314.85" x2="519.10" y2="1314.85" stroke="#e8770f" stroke-width="1.20"/>
<line x1="694.20" y1="1164.53" x2="694.20" y2="1277.27" stroke="#e8770f" stroke-width="1.20"/>
<line x1="661.50" y1="1164.53" x2="727.10" y2="1164.53" stroke="#e8770f" stroke-width="1.20"/>
<rect x="661.50" y="1277.27" width="65.60" height="112.74" fill="none" stroke="#e8770f" stroke-width="1.20"/>
<line x1="661.50" y1="1333.64" x2="727.10" y2="1333.64" stroke="#e8770f" stroke-width="1.20"/>
<line x1="892.00" y1="1352.43" x2="892.00" y2="1371.22" stroke="#e8770f" stroke-width="1.20"/>
<line x1="859.10" y1="1352.43" x2="924.60" y2="1352.43" stroke="#e8770f" stroke-width="1.20"/>
<line x1="892.00" y1="1390.01" x2="892.00" y2="1408.80" stroke="#e8770f" stroke-width="1.20"/>
<line x1="859.10" y1="1408.80" x2="924.60" y2="1408.80" stroke="#e8770f" stroke-width="1.20"/>
<rect x="859.10" y="1371.22" width="65.50" height="18.79" fill="none" stroke="#e8770f" stroke-width="1.20"/>
<g fill="#000"><circle cx="894.0" cy="1164.5" r="3.40"/><circle cx="899.0" cy="1164.5" r="3.40"/><circle cx="892.6" cy="1183.3" r="3.40"/><circle cx="880.9" cy="1202.1" r="3.40"/><circle cx="898.5" cy="1202.1" r="3.40"/><circle cx="897.5" cy="1220.9" r="3.40"/><circle cx="903.0" cy="1220.9" r="3.40"/><circle cx="892.6" cy="1239.7" r="3.40"/><circle cx="900.0" cy="1239.7" r="3.40"/><circle cx="883.7" cy="1258.5" r="3.40"/><circle cx="893.5" cy="1258.5" r="3.40"/><circle cx="902.2" cy="1258.5" r="3.40"/><circle cx="886.5" cy="1277.3" r="3.40"/><circle cx="889.0" cy="1277.3" r="3.40"/><circle cx="891.7" cy="1277.3" r="3.40"/><circle cx="902.2" cy="1277.3" r="3.40"/><circle cx="885.5" cy="1296.1" r="3.40"/><circle cx="888.5" cy="1296.1" r="3.40"/><circle cx="893.2" cy="1296.1" r="3.40"/><circle cx="896.0" cy="1296.1" r="3.40"/><circle cx="900.0" cy="1296.1" r="3.40"/><circle cx="883.2" cy="1314.8" r="3.40"/><circle cx="886.0" cy="1314.8" r="3.40"/><circle cx="889.2" cy="1314.8" r="3.40"/><circle cx="892.5" cy="1314.8" r="3.40"/><circle cx="896.0" cy="1314.8" r="3.40"/><circle cx="882.0" cy="1333.6" r="3.40"/><circle cx="885.0" cy="1333.6" r="3.40"/><circle cx="888.0" cy="1333.6" r="3.40"/><circle cx="891.0" cy="1333.6" r="3.40"/><circle cx="894.0" cy="1333.6" r="3.40"/><circle cx="896.0" cy="1333.6" r="3.40"/><circle cx="905.5" cy="1333.6" r="3.40"/></g>
<line x1="1095.30" y1="1164.53" x2="1095.30" y2="1258.48" stroke="#e8770f" stroke-width="1.20"/>
<line x1="1062.40" y1="1164.53" x2="1128.50" y2="1164.53" stroke="#e8770f" stroke-width="1.20"/>
<line x1="1095.30" y1="1390.01" x2="1095.30" y2="1408.80" stroke="#e8770f" stroke-width="1.20"/>
<line x1="1062.40" y1="1408.80" x2="1128.50" y2="1408.80" stroke="#e8770f" stroke-width="1.20"/>
<rect x="1062.40" y="1258.48" width="66.10" height="131.53" fill="none" stroke="#e8770f" stroke-width="1.20"/>
<line x1="1062.40" y1="1333.64" x2="1128.50" y2="1333.64" stroke="#e8770f" stroke-width="1.20"/>
<line x1="1299.40" y1="1258.48" x2="1299.40" y2="1333.64" stroke="#e8770f" stroke-width="1.20"/>
<line x1="1266.30" y1="1258.48" x2="1332.20" y2="1258.48" stroke="#e8770f" stroke-width="1.20"/>
<line x1="1299.40" y1="1390.01" x2="1299.40" y2="1408.80" stroke="#e8770f" stroke-width="1.20"/>
<line x1="1266.30" y1="1408.80" x2="1332.20" y2="1408.80" stroke="#e8770f" stroke-width="1.20"/>
<rect x="1266.30" y="1333.64" width="65.90" height="56.37" fill="none" stroke="#e8770f" stroke-width="1.20"/>
<g fill="#000"><circle cx="1292.8" cy="1183.3" r="3.40"/><circle cx="1297.4" cy="1202.1" r="3.40"/><circle cx="1292.0" cy="1220.9" r="3.40"/><circle cx="1306.7" cy="1220.9" r="3.40"/><circle cx="1310.7" cy="1220.9" r="3.40"/><circle cx="1294.8" cy="1239.7" r="3.40"/><circle cx="1298.8" cy="1239.7" r="3.40"/><circle cx="1303.8" cy="1239.7" r="3.40"/></g>
<line x1="1513.70" y1="1126.95" x2="1513.70" y2="1277.27" stroke="#e8770f" stroke-width="1.20"/>
<line x1="1480.40" y1="1126.95" x2="1546.50" y2="1126.95" stroke="#e8770f" stroke-width="1.20"/>
<line x1="1513.70" y1="1390.01" x2="1513.70" y2="1408.80" stroke="#e8770f" stroke-width="1.20"/>
<line x1="1480.40" y1="1408.80" x2="1546.50" y2="1408.80" stroke="#e8770f" stroke-width="1.20"/>
<rect x="1480.40" y="1277.27" width="66.10" height="112.74" fill="none" stroke="#e8770f" stroke-width="1.20"/>
<line x1="1480.40" y1="1352.43" x2="1546.50" y2="1352.43" stroke="#e8770f" stroke-width="1.20"/>
<line x1="1709.40" y1="1202.11" x2="1709.40" y2="1314.85" stroke="#e8770f" stroke-width="1.20"/>
<line x1="1676.40" y1="1202.11" x2="1742.30" y2="1202.11" stroke="#e8770f" stroke-width="1.20"/>
<line x1="1709.40" y1="1390.01" x2="1709.40" y2="1408.80" stroke="#e8770f" stroke-width="1.20"/>
<line x1="1676.40" y1="1408.80" x2="1742.30" y2="1408.80" stroke="#e8770f" stroke-width="1.20"/>
<rect x="1676.40" y="1314.85" width="65.90" height="75.16" fill="none" stroke="#e8770f" stroke-width="1.20"/>
<line x1="1676.40" y1="1371.22" x2="1742.30" y2="1371.22" stroke="#e8770f" stroke-width="1.20"/>
<g fill="#000"><circle cx="1699.5" cy="1164.5" r="3.40"/><circle cx="1703.0" cy="1164.5" r="3.40"/><circle cx="1706.5" cy="1164.5" r="3.40"/><circle cx="1710.0" cy="1164.5" r="3.40"/><circle cx="1713.5" cy="1164.5" r="3.40"/><circle cx="1717.0" cy="1164.5" r="3.40"/><circle cx="1720.3" cy="1164.5" r="3.40"/><circle cx="1699.5" cy="1183.3" r="3.40"/><circle cx="1703.0" cy="1183.3" r="3.40"/><circle cx="1706.5" cy="1183.3" r="3.40"/><circle cx="1710.0" cy="1183.3" r="3.40"/><circle cx="1713.5" cy="1183.3" r="3.40"/><circle cx="1717.5" cy="1183.3" r="3.40"/></g>
<path d="M187.50 1448.30H1818.00V1807.00H187.50Z" fill="none" stroke="#000" stroke-width="2.20" stroke-linejoin="miter"/>
<line x1="172.50" y1="1779.20" x2="183.50" y2="1779.20" stroke="#000" stroke-width="1.30"/>
<line x1="172.50" y1="1725.66" x2="183.50" y2="1725.66" stroke="#000" stroke-width="1.30"/>
<line x1="172.50" y1="1672.12" x2="183.50" y2="1672.12" stroke="#000" stroke-width="1.30"/>
<line x1="172.50" y1="1618.58" x2="183.50" y2="1618.58" stroke="#000" stroke-width="1.30"/>
<line x1="172.50" y1="1565.04" x2="183.50" y2="1565.04" stroke="#000" stroke-width="1.30"/>
<line x1="172.50" y1="1511.50" x2="183.50" y2="1511.50" stroke="#000" stroke-width="1.30"/>
<line x1="176.90" y1="1752.43" x2="182.40" y2="1752.43" stroke="#000" stroke-width="1.30"/>
<line x1="176.90" y1="1698.89" x2="182.40" y2="1698.89" stroke="#000" stroke-width="1.30"/>
<line x1="176.90" y1="1645.35" x2="182.40" y2="1645.35" stroke="#000" stroke-width="1.30"/>
<line x1="176.90" y1="1591.81" x2="182.40" y2="1591.81" stroke="#000" stroke-width="1.30"/>
<line x1="176.90" y1="1538.27" x2="182.40" y2="1538.27" stroke="#000" stroke-width="1.30"/>
<text transform="translate(144.10 1788.58) scale(1 1.04)" font-size="29.00">0</text>
<text transform="translate(127.98 1735.04) scale(1 1.04)" font-size="29.00">20</text>
<text transform="translate(127.98 1681.50) scale(1 1.04)" font-size="29.00">40</text>
<text transform="translate(127.98 1627.96) scale(1 1.04)" font-size="29.00">60</text>
<text transform="translate(127.98 1574.42) scale(1 1.04)" font-size="29.00">80</text>
<text transform="translate(111.85 1520.88) scale(1 1.04)" font-size="29.00">100</text>
<text transform="translate(20.80 1773.47) rotate(-90)" font-size="29.00">Maximum cumulated</text>
<text transform="translate(55.60 1732.38) rotate(-90)" font-size="29.00">percentage of</text>
<text transform="translate(90.80 1723.78) rotate(-90)" font-size="29.00">deletions (%)</text>
<line x1="714.80" y1="1487.80" x2="871.70" y2="1487.80" stroke="#666" stroke-width="1.50"/>
<text x="790.68" y="1487.00" font-size="16.00">*</text>
<line x1="1112.10" y1="1487.60" x2="1282.80" y2="1487.60" stroke="#666" stroke-width="1.50"/>
<text x="1193.08" y="1487.40" font-size="16.00">*</text>
<line x1="1528.30" y1="1487.60" x2="1694.70" y2="1487.60" stroke="#666" stroke-width="1.50"/>
<text x="1602.56" y="1487.00" font-size="16.00">***</text>
<line x1="263.70" y1="1779.10" x2="334.00" y2="1779.10" stroke="#3eaf48" stroke-width="1.20"/>
<g fill="#000"><circle cx="280.2" cy="1780.2" r="4.30"/><circle cx="307.7" cy="1779.6" r="4.30"/><circle cx="309.5" cy="1779.6" r="4.30"/></g>
<line x1="486.20" y1="1729.10" x2="486.20" y2="1739.50" stroke="#3eaf48" stroke-width="1.30"/>
<line x1="451.40" y1="1729.10" x2="521.50" y2="1729.10" stroke="#3eaf48" stroke-width="1.30"/>
<rect x="451.40" y="1739.50" width="70.10" height="40.00" fill="none" stroke="#3eaf48" stroke-width="1.30"/>
<line x1="451.40" y1="1776.20" x2="521.50" y2="1776.20" stroke="#3eaf48" stroke-width="1.30"/>
<g fill="#000"><circle cx="472.6" cy="1729.1" r="4.30"/><circle cx="474.5" cy="1773.7" r="4.30"/><circle cx="491.7" cy="1779.5" r="4.30"/><circle cx="499.4" cy="1779.5" r="4.30"/></g>
<line x1="659.40" y1="1779.50" x2="729.50" y2="1779.50" stroke="#3eaf48" stroke-width="1.20"/>
<g fill="#000"><circle cx="690.2" cy="1779.5" r="4.30"/><circle cx="699.4" cy="1779.5" r="4.30"/><circle cx="704.6" cy="1780.2" r="4.30"/></g>
<rect x="856.90" y="1686.90" width="70.20" height="75.10" fill="none" stroke="#6cc372" stroke-width="1.50"/>
<g fill="#000"><circle cx="890.8" cy="1686.9" r="4.30"/><circle cx="898.5" cy="1686.9" r="4.30"/><circle cx="871.4" cy="1762.0" r="4.30"/></g>
<rect x="1060.20" y="1767.80" width="70.30" height="11.50" fill="none" stroke="#3eaf48" stroke-width="1.30"/>
<line x1="1060.20" y1="1768.00" x2="1130.50" y2="1768.00" stroke="#3eaf48" stroke-width="1.80"/>
<g fill="#000"><circle cx="1071.9" cy="1768.2" r="4.30"/><circle cx="1102.8" cy="1767.8" r="4.30"/><circle cx="1086.3" cy="1779.5" r="4.30"/><circle cx="1090.3" cy="1778.8" r="4.30"/><circle cx="1093.3" cy="1780.5" r="4.30"/><circle cx="1099.2" cy="1780.5" r="4.30"/><circle cx="1107.1" cy="1779.5" r="4.30"/></g>
<line x1="1299.50" y1="1647.00" x2="1299.50" y2="1653.00" stroke="#3eaf48" stroke-width="1.30"/>
<line x1="1264.60" y1="1647.00" x2="1334.50" y2="1647.00" stroke="#6cc372" stroke-width="1.30"/>
<line x1="1299.50" y1="1761.50" x2="1299.50" y2="1765.80" stroke="#3eaf48" stroke-width="1.30"/>
<line x1="1264.60" y1="1765.80" x2="1334.50" y2="1765.80" stroke="#6cc372" stroke-width="1.30"/>
<rect x="1264.60" y="1653.00" width="69.90" height="108.50" fill="none" stroke="#3eaf48" stroke-width="1.30"/>
<line x1="1264.60" y1="1711.40" x2="1334.50" y2="1711.40" stroke="#3eaf48" stroke-width="1.30"/>
<g fill="#000"><circle cx="1297.2" cy="1647.0" r="4.30"/><circle cx="1292.5" cy="1669.4" r="4.30"/><circle cx="1300.2" cy="1753.0" r="4.30"/><circle cx="1297.2" cy="1765.8" r="4.30"/></g>
<line x1="1513.30" y1="1767.40" x2="1513.30" y2="1774.80" stroke="#3eaf48" stroke-width="1.30"/>
<line x1="1478.20" y1="1767.40" x2="1548.90" y2="1767.40" stroke="#3eaf48" stroke-width="1.30"/>
<rect x="1478.20" y="1774.80" width="70.70" height="4.30" fill="none" stroke="#3eaf48" stroke-width="1.30"/>
<line x1="1478.20" y1="1778.00" x2="1548.90" y2="1778.00" stroke="#3eaf48" stroke-width="1.30"/>
<g fill="#000"><circle cx="1496.0" cy="1767.5" r="4.30"/><circle cx="1507.0" cy="1767.0" r="4.30"/><circle cx="1493.0" cy="1771.5" r="4.30"/><circle cx="1500.0" cy="1775.0" r="4.30"/><circle cx="1504.0" cy="1778.0" r="4.30"/><circle cx="1510.0" cy="1779.5" r="4.30"/><circle cx="1515.0" cy="1779.5" r="4.30"/><circle cx="1520.0" cy="1779.5" r="4.30"/><circle cx="1525.0" cy="1779.0" r="4.30"/><circle cx="1518.0" cy="1775.0" r="4.30"/><circle cx="1497.0" cy="1779.5" r="4.30"/><circle cx="1523.0" cy="1776.0" r="4.30"/><circle cx="1510.0" cy="1774.0" r="4.30"/></g>
<line x1="1709.30" y1="1512.00" x2="1709.30" y2="1650.40" stroke="#3eaf48" stroke-width="1.30"/>
<line x1="1674.30" y1="1512.00" x2="1744.40" y2="1512.00" stroke="#3eaf48" stroke-width="1.30"/>
<line x1="1709.30" y1="1760.90" x2="1709.30" y2="1779.30" stroke="#3eaf48" stroke-width="1.30"/>
<line x1="1674.30" y1="1779.30" x2="1744.40" y2="1779.30" stroke="#3eaf48" stroke-width="1.30"/>
<rect x="1674.30" y="1650.40" width="70.10" height="110.50" fill="none" stroke="#3eaf48" stroke-width="1.30"/>
<line x1="1674.30" y1="1730.20" x2="1744.40" y2="1730.20" stroke="#3eaf48" stroke-width="1.30"/>
<g fill="#000"><circle cx="1714.9" cy="1513.0" r="4.30"/><circle cx="1703.4" cy="1593.6" r="4.30"/><circle cx="1696.4" cy="1622.9" r="4.30"/><circle cx="1702.4" cy="1642.1" r="4.30"/><circle cx="1708.7" cy="1642.1" r="4.30"/><circle cx="1712.9" cy="1675.3" r="4.30"/><circle cx="1715.8" cy="1679.1" r="4.30"/><circle cx="1707.3" cy="1728.8" r="4.30"/><circle cx="1717.8" cy="1727.8" r="4.30"/><circle cx="1718.8" cy="1731.2" r="4.30"/><circle cx="1701.4" cy="1736.5" r="4.30"/><circle cx="1725.7" cy="1751.4" r="4.30"/><circle cx="1717.2" cy="1754.0" r="4.30"/><circle cx="1719.0" cy="1753.5" r="4.30"/><circle cx="1703.4" cy="1763.9" r="4.30"/><circle cx="1697.4" cy="1771.4" r="4.30"/><circle cx="1719.8" cy="1769.4" r="4.30"/><circle cx="1708.3" cy="1779.3" r="4.30"/><circle cx="1721.6" cy="1778.7" r="4.30"/></g>
</svg>
</body></html>
